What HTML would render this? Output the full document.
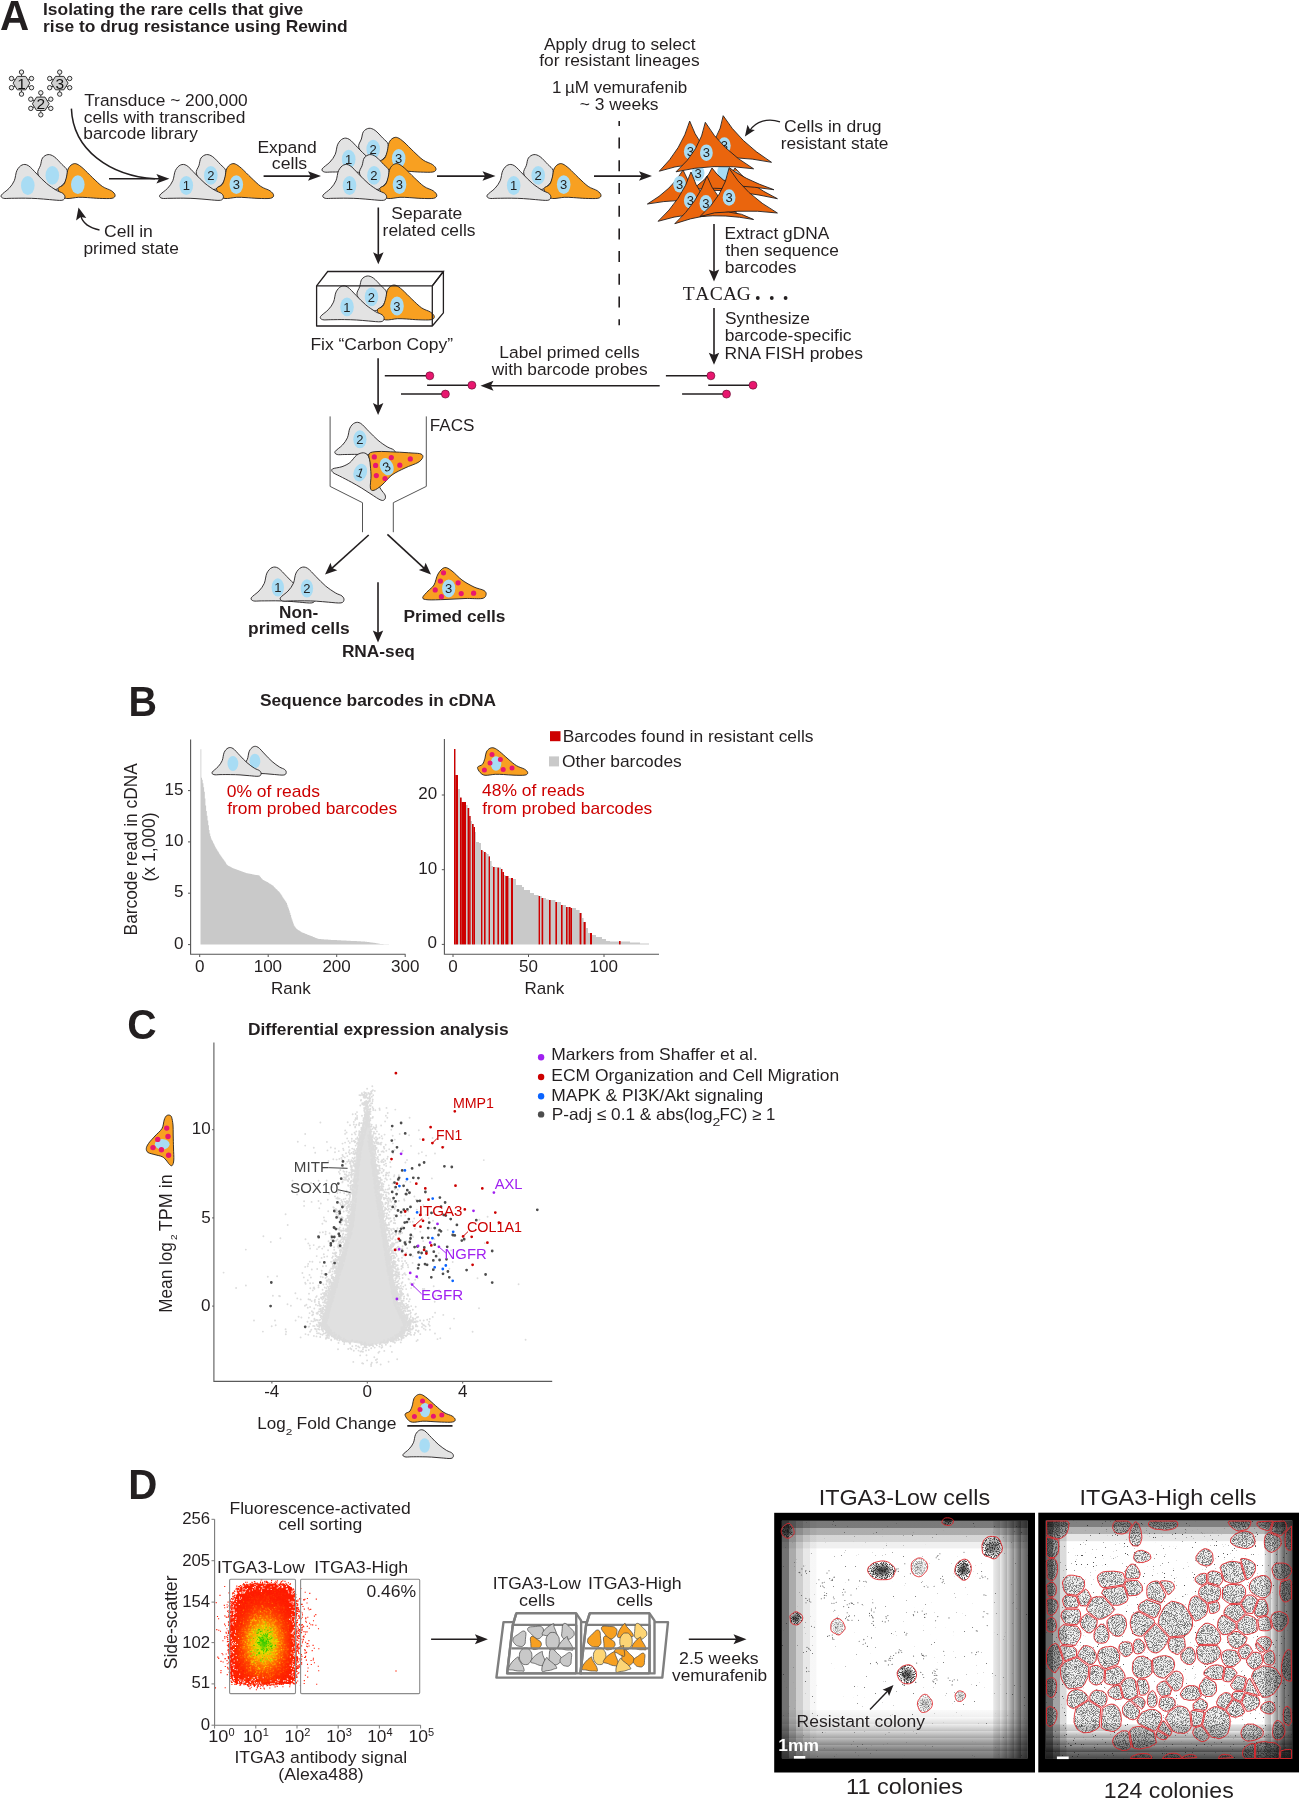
<!DOCTYPE html>
<html><head><meta charset="utf-8"><style>
html,body{margin:0;padding:0;background:#fff;}
svg{display:block;-webkit-font-smoothing:antialiased;}
.gs{will-change:transform;}
</style></head><body>
<svg class="gs" width="1299" height="1800" viewBox="0 0 1299 1800">
<defs><g id="_d" font-family="Liberation Sans, sans-serif" fill="#231f20"></g><g id="grp"><path d="M196.4,174 C195.4,170.6 198.2,168 199,165.3 C199.8,162.6 199.8,159.8 201,158 C202.2,156.2 204.6,154.8 206.5,154.6 C208.4,154.4 210.4,155.1 212.7,156.7 C215,158.3 218.2,162.1 220.4,164.4 C222.6,166.7 225,167.9 225.7,170.5 C226.4,173.1 225.5,177.3 224.6,179.8 C223.7,182.3 222.2,183.9 220.4,185.5 C218.6,187.1 216.6,189.4 214,189.5 C211.4,189.6 207.9,188.6 205,186 C202.1,183.4 197.4,177.4 196.4,174Z" fill="#e3e3e3" stroke="#231f20" stroke-width="0.9"/><path d="M216.6,188.4 C217,186.7 220.8,186.5 222.2,184.6 C223.6,182.7 224.3,179.5 225,176.9 C225.7,174.3 225.7,171.1 226.6,169 C227.5,166.9 229.1,165.2 230.6,164.4 C232.1,163.6 233.5,163.3 235.3,164 C237.1,164.7 238.9,166.1 241.6,168.4 C244.2,170.7 248,174.8 251.2,177.8 C254.4,180.8 257.7,184.2 260.8,186.4 C263.9,188.6 267.9,189.3 270,190.8 C272.1,192.3 273.5,193.9 273.6,195.2 C273.7,196.4 273.1,197.8 270.5,198.3 C267.9,198.8 262.1,198.5 258,198.4 C253.9,198.3 249.5,197.8 246,197.6 C242.5,197.4 240.3,197.2 236.8,197.3 C233.3,197.5 227.9,198.9 225,198.5 C222.1,198.1 220.9,196.7 219.5,195 C218.1,193.3 216.2,190.1 216.6,188.4Z" fill="#f8a021" stroke="#231f20" stroke-width="0.9"/><path d="M159.8,195.2 C160.7,193.5 165.3,190.8 167.5,188.4 C169.7,186 171.5,183.7 172.8,180.7 C174.1,177.7 174.1,173.1 175.4,170.5 C176.7,167.9 178.6,165.8 180.5,165 C182.4,164.2 184.3,164.1 186.8,165.6 C189.3,167.1 192.4,171 195.4,174 C198.4,177 201.8,180.7 205,183.4 C208.2,186.1 212,188.5 214.7,190.2 C217.4,191.9 219.9,192.2 221.4,193.4 C222.9,194.6 223.6,196 223.4,197.2 C223.2,198.3 223,199.9 220.4,200.3 C217.8,200.7 212.1,199.9 208,199.6 C203.9,199.3 200,198.8 196,198.6 C192,198.4 188.2,198.2 183.9,198.2 C179.6,198.1 173.7,198.3 170,198.3 C166.3,198.3 163.7,198.8 162,198.3 C160.3,197.8 158.9,196.8 159.8,195.2Z" fill="#e3e3e3" stroke="#231f20" stroke-width="0.9"/><ellipse cx="186.3" cy="185.5" rx="6.8" ry="9.4" fill="#a8dcf4"/><ellipse cx="210.8" cy="175.4" rx="6.8" ry="9.4" fill="#a8dcf4"/><ellipse cx="236.3" cy="184.6" rx="6.8" ry="9.4" fill="#a8dcf4"/></g>
<g id="grpn"><use href="#grp"/><text x="186.3" y="190.3" font-size="13" text-anchor="middle" fill="#222">1</text><text x="210.8" y="180.2" font-size="13" text-anchor="middle" fill="#222">2</text><text x="236.3" y="189.4" font-size="13" text-anchor="middle" fill="#222">3</text></g>
<radialGradient id="facsg" cx="263.6" cy="1643" r="50" gradientUnits="userSpaceOnUse" gradientTransform="translate(263.6 1643) scale(0.7 1) translate(-263.6 -1643)"><stop offset="0" stop-color="#30c800"/><stop offset="0.08" stop-color="#7ed600"/><stop offset="0.17" stop-color="#e8e000"/><stop offset="0.3" stop-color="#ffb000"/><stop offset="0.45" stop-color="#ff7400"/><stop offset="0.62" stop-color="#ff4200"/><stop offset="0.8" stop-color="#ff2600"/><stop offset="1" stop-color="#ff1c00"/></radialGradient>
<filter id="spkD" x="0" y="0" width="1" height="1" color-interpolation-filters="sRGB"><feTurbulence type="fractalNoise" baseFrequency="1.1" numOctaves="2" seed="4"/><feColorMatrix type="matrix" values="0 0 0 0 0.1  0 0 0 0 0.1  0 0 0 0 0.1  -5.5 0 0 0 3.05"/></filter>
<filter id="spkL" x="0" y="0" width="1" height="1" color-interpolation-filters="sRGB"><feTurbulence type="fractalNoise" baseFrequency="0.9" numOctaves="2" seed="9"/><feColorMatrix type="matrix" values="0 0 0 0 0.1  0 0 0 0 0.1  0 0 0 0 0.1  -14 0 0 0 3.75"/></filter>
<filter id="spkS" x="0" y="0" width="1" height="1" color-interpolation-filters="sRGB"><feTurbulence type="fractalNoise" baseFrequency="0.9" numOctaves="2" seed="13"/><feColorMatrix type="matrix" values="0 0 0 0 0.1  0 0 0 0 0.1  0 0 0 0 0.1  -16 0 0 0 3.65"/></filter>
<linearGradient id="vlL" x1="0" y1="0" x2="1" y2="0"><stop offset="0.0000" stop-color="#000" stop-opacity="0.55"/><stop offset="0.2000" stop-color="#000" stop-opacity="0.55"/><stop offset="0.2000" stop-color="#000" stop-opacity="0.33"/><stop offset="0.4000" stop-color="#000" stop-opacity="0.33"/><stop offset="0.4000" stop-color="#000" stop-opacity="0.19"/><stop offset="0.6000" stop-color="#000" stop-opacity="0.19"/><stop offset="0.6000" stop-color="#000" stop-opacity="0.09"/><stop offset="0.8000" stop-color="#000" stop-opacity="0.09"/><stop offset="0.8000" stop-color="#000" stop-opacity="0.03"/><stop offset="1.0000" stop-color="#000" stop-opacity="0.03"/></linearGradient>
<linearGradient id="vlR" x1="0" y1="0" x2="1" y2="0"><stop offset="0.0000" stop-color="#000" stop-opacity="0.08"/><stop offset="0.2000" stop-color="#000" stop-opacity="0.18"/><stop offset="0.2000" stop-color="#000" stop-opacity="0.08"/><stop offset="0.4000" stop-color="#000" stop-opacity="0.31"/><stop offset="0.4000" stop-color="#000" stop-opacity="0.18"/><stop offset="0.6000" stop-color="#000" stop-opacity="0.46"/><stop offset="0.6000" stop-color="#000" stop-opacity="0.31"/><stop offset="0.8000" stop-color="#000" stop-opacity="0.62"/><stop offset="0.8000" stop-color="#000" stop-opacity="0.46"/><stop offset="1.0000" stop-color="#000" stop-opacity="0.62"/></linearGradient>
<linearGradient id="vlT" x1="0" y1="0" x2="0" y2="1"><stop offset="0.0000" stop-color="#000" stop-opacity="0.52"/><stop offset="0.2500" stop-color="#000" stop-opacity="0.52"/><stop offset="0.2500" stop-color="#000" stop-opacity="0.32"/><stop offset="0.5000" stop-color="#000" stop-opacity="0.32"/><stop offset="0.5000" stop-color="#000" stop-opacity="0.16"/><stop offset="0.7500" stop-color="#000" stop-opacity="0.16"/><stop offset="0.7500" stop-color="#000" stop-opacity="0.06"/><stop offset="1.0000" stop-color="#000" stop-opacity="0.06"/></linearGradient>
<linearGradient id="vlB" x1="0" y1="0" x2="0" y2="1"><stop offset="0.0000" stop-color="#000" stop-opacity="0.02"/><stop offset="0.1429" stop-color="#000" stop-opacity="0.06"/><stop offset="0.1429" stop-color="#000" stop-opacity="0.02"/><stop offset="0.2857" stop-color="#000" stop-opacity="0.14"/><stop offset="0.2857" stop-color="#000" stop-opacity="0.06"/><stop offset="0.4286" stop-color="#000" stop-opacity="0.24"/><stop offset="0.4286" stop-color="#000" stop-opacity="0.14"/><stop offset="0.5714" stop-color="#000" stop-opacity="0.34"/><stop offset="0.5714" stop-color="#000" stop-opacity="0.24"/><stop offset="0.7143" stop-color="#000" stop-opacity="0.45"/><stop offset="0.7143" stop-color="#000" stop-opacity="0.34"/><stop offset="0.8571" stop-color="#000" stop-opacity="0.55"/><stop offset="0.8571" stop-color="#000" stop-opacity="0.45"/><stop offset="1.0000" stop-color="#000" stop-opacity="0.55"/></linearGradient>
<clipPath id="clL"><path d="M788.1,1538.2 C786.6,1538.3 786.2,1538.1 784.8,1537.2 C783.4,1536.3 782.9,1536.1 782.1,1534.5 C781.3,1532.9 781.1,1532.2 781.3,1530.4 C781.5,1528.7 782,1528.2 783,1526.9 C784,1525.5 784.2,1525.5 785.6,1524.7 C787,1523.8 787.6,1523.1 789,1523.4 C790.5,1523.7 790.8,1524.6 791.9,1526 C792.9,1527.4 793,1527.6 793.5,1529.4 C794,1531.2 794.5,1531.9 794,1533.6 C793.5,1535.3 792.8,1535.6 791.4,1536.7 C790,1537.8 789.7,1538.1 788.1,1538.2Z"/><path d="M950.7,1518.4 C952,1518.9 952.5,1519 953.1,1519.9 C953.6,1520.7 953.3,1521 953.2,1522 C953,1522.9 953.2,1523.2 952.3,1524 C951.5,1524.8 951.1,1525.1 949.6,1525.3 C948.2,1525.6 947.7,1525.5 946.2,1525.2 C944.8,1524.9 944.3,1524.9 943.3,1524.2 C942.2,1523.5 942,1523.2 941.8,1522.2 C941.7,1521.3 942.2,1521.1 942.7,1520.2 C943.3,1519.3 943.2,1518.9 944.3,1518.4 C945.4,1517.8 946,1517.8 947.5,1517.8 C949,1517.8 949.4,1517.9 950.7,1518.4Z"/><path d="M989.1,1557 C986.5,1556.1 985.4,1556.7 983.8,1554.7 C982.1,1552.8 982.4,1551.5 982.1,1548.7 C981.9,1545.9 981.7,1545.1 982.8,1542.5 C983.8,1540 984.4,1539.1 986.6,1537.7 C988.8,1536.3 989.7,1536.3 992.4,1536.4 C995,1536.5 996,1536.4 998.1,1538.1 C1000.1,1539.7 1000.1,1540.8 1001.1,1543.5 C1002,1546.2 1002.7,1546.9 1002.3,1549.6 C1001.9,1552.2 1001,1552.7 999.2,1554.9 C997.4,1557 997,1558.2 994.6,1558.8 C992.3,1559.3 991.6,1558 989.1,1557Z"/><path d="M891.4,1564.4 C893.6,1566.1 894.2,1566.5 894.9,1568.7 C895.6,1570.9 895.4,1571.4 894.4,1573.7 C893.4,1576 893.4,1577.2 890.7,1578.6 C887.9,1580 886.3,1579.6 882.5,1579.7 C878.8,1579.7 877.6,1579.9 874.6,1578.7 C871.6,1577.5 871.3,1576.7 869.7,1574.6 C868.1,1572.5 867.5,1571.8 867.7,1569.5 C868,1567.3 868.7,1566.6 870.9,1564.8 C873.1,1562.9 874,1562.6 877.3,1561.8 C880.6,1561 881.9,1560.6 885.2,1561.2 C888.5,1561.8 889.1,1562.6 891.4,1564.4Z"/><path d="M961.5,1560.1 C963.5,1559.3 964.3,1558.8 966.2,1559.5 C968.2,1560.2 968.8,1561.1 970,1563.2 C971.1,1565.3 971.3,1566.1 971.3,1568.5 C971.3,1571 971,1571.4 970.2,1573.7 C969.3,1576 969.3,1577.1 967.6,1578.6 C965.9,1580.1 964.9,1580.5 962.8,1580.1 C960.7,1579.7 960.5,1578.5 958.7,1576.9 C957,1575.3 956,1575.4 955.2,1573.2 C954.4,1571 954.7,1569.9 955.3,1567.4 C955.9,1565 956.2,1564.5 957.7,1562.8 C959.1,1561.1 959.5,1560.9 961.5,1560.1Z"/><path d="M794.2,1624.5 C792.6,1624 792,1623.9 791,1622.6 C790.1,1621.4 790.5,1620.7 790.3,1619.1 C790.1,1617.5 789.6,1617 790.2,1615.6 C790.8,1614.3 791.5,1614.3 792.8,1613.4 C794.1,1612.5 794.4,1611.8 795.9,1611.8 C797.4,1611.7 797.8,1612.2 799.2,1613.1 C800.6,1613.9 801.2,1614 802,1615.4 C802.8,1616.8 802.9,1617.5 802.6,1619.1 C802.4,1620.7 801.8,1621 800.7,1622.3 C799.6,1623.6 799.5,1624.1 797.9,1624.7 C796.4,1625.2 795.8,1625 794.2,1624.5Z"/><path d="M914.5,1668.8 C915.9,1670.7 916.2,1671.3 916.4,1673.6 C916.7,1675.9 916.5,1676.6 915.5,1678.8 C914.4,1680.9 913.9,1681.5 911.9,1682.7 C909.8,1683.9 909,1684 906.6,1683.8 C904.2,1683.7 903.5,1683.4 901.6,1682 C899.7,1680.5 899.3,1680 898.3,1677.8 C897.3,1675.5 896.9,1674.6 897.4,1672.3 C897.9,1670 898.7,1669.4 900.5,1667.8 C902.3,1666.2 902.8,1665.9 905.1,1665.3 C907.5,1664.7 908.3,1664.4 910.5,1665.2 C912.7,1666 913.1,1666.8 914.5,1668.8Z"/></clipPath>
<clipPath id="clL2"><path d="M912,1562.6 C913,1560.7 913.7,1560.4 915.5,1559.3 C917.4,1558.2 918,1557.8 920.1,1558 C922.1,1558.2 922.7,1558.6 924.4,1560.1 C926.1,1561.5 926.7,1562.1 927.3,1564.3 C927.9,1566.4 927.8,1567.3 927.1,1569.4 C926.4,1571.6 925.9,1571.7 924.4,1573.3 C922.9,1574.9 922.7,1575.7 920.8,1576.4 C918.8,1577 918,1576.9 916.1,1576 C914.1,1575.1 913.5,1574.6 912.4,1572.7 C911.3,1570.7 911.4,1570 911.3,1567.7 C911.2,1565.3 911,1564.6 912,1562.6Z"/><path d="M835.1,1633.4 C833.3,1632.6 832.6,1632.7 831.6,1631.2 C830.6,1629.7 830.8,1628.9 830.8,1626.9 C830.8,1625 830.7,1624.5 831.5,1622.8 C832.3,1621.1 832.7,1620.6 834.2,1619.6 C835.8,1618.6 836.4,1618.3 838.2,1618.5 C840,1618.8 840.4,1619.3 841.8,1620.6 C843.1,1621.9 843.1,1622.3 843.9,1624.1 C844.7,1625.9 845.4,1626.6 845.1,1628.5 C844.7,1630.3 843.9,1630.6 842.5,1632 C841.1,1633.5 840.8,1634.5 839.1,1634.9 C837.4,1635.2 836.8,1634.2 835.1,1633.4Z"/><path d="M925.4,1712.1 C923.6,1712.5 922.8,1712.9 921.1,1711.9 C919.5,1710.9 919.3,1709.9 918.5,1707.8 C917.6,1705.7 917.3,1705 917.5,1702.9 C917.8,1700.7 918.3,1700.3 919.5,1698.6 C920.6,1696.8 920.7,1696.1 922.3,1695.2 C923.9,1694.3 924.7,1694 926.4,1694.6 C928.1,1695.1 928.2,1696 929.6,1697.6 C930.9,1699.2 931.6,1699.3 932.1,1701.4 C932.6,1703.5 932.6,1704.6 931.8,1706.6 C931.1,1708.6 930.4,1708.8 928.9,1710.1 C927.4,1711.3 927.2,1711.6 925.4,1712.1Z"/><path d="M956.6,1692.5 C957.5,1691.5 957.8,1691.2 959.1,1690.9 C960.4,1690.7 960.8,1691 962,1691.4 C963.3,1691.9 963.7,1692 964.5,1693 C965.4,1694 965.6,1694.6 965.6,1695.9 C965.5,1697.1 965.1,1697.5 964.4,1698.5 C963.6,1699.6 963.5,1699.7 962.5,1700.4 C961.4,1701.1 961.1,1701.5 959.7,1701.5 C958.4,1701.5 957.8,1701.4 956.8,1700.6 C955.8,1699.7 955.9,1699.2 955.5,1697.9 C955.1,1696.6 954.9,1696.3 955.2,1695 C955.4,1693.8 955.7,1693.4 956.6,1692.5Z"/></clipPath>
<radialGradient id="cdark"><stop offset="0" stop-color="#000" stop-opacity="0.9"/><stop offset="0.55" stop-color="#000" stop-opacity="0.5"/><stop offset="1" stop-color="#000" stop-opacity="0"/></radialGradient>
<linearGradient id="vrL" x1="0" y1="0" x2="1" y2="0"><stop offset="0.0000" stop-color="#000" stop-opacity="0.6"/><stop offset="0.3333" stop-color="#000" stop-opacity="0.6"/><stop offset="0.3333" stop-color="#000" stop-opacity="0.36"/><stop offset="0.6667" stop-color="#000" stop-opacity="0.36"/><stop offset="0.6667" stop-color="#000" stop-opacity="0.14"/><stop offset="1.0000" stop-color="#000" stop-opacity="0.14"/></linearGradient>
<linearGradient id="vrR" x1="0" y1="0" x2="1" y2="0"><stop offset="0.0000" stop-color="#000" stop-opacity="0.12"/><stop offset="0.2500" stop-color="#000" stop-opacity="0.3"/><stop offset="0.2500" stop-color="#000" stop-opacity="0.12"/><stop offset="0.5000" stop-color="#000" stop-opacity="0.5"/><stop offset="0.5000" stop-color="#000" stop-opacity="0.3"/><stop offset="0.7500" stop-color="#000" stop-opacity="0.66"/><stop offset="0.7500" stop-color="#000" stop-opacity="0.5"/><stop offset="1.0000" stop-color="#000" stop-opacity="0.66"/></linearGradient>
<linearGradient id="vrT" x1="0" y1="0" x2="0" y2="1"><stop offset="0.0000" stop-color="#000" stop-opacity="0.5"/><stop offset="0.3333" stop-color="#000" stop-opacity="0.5"/><stop offset="0.3333" stop-color="#000" stop-opacity="0.3"/><stop offset="0.6667" stop-color="#000" stop-opacity="0.3"/><stop offset="0.6667" stop-color="#000" stop-opacity="0.1"/><stop offset="1.0000" stop-color="#000" stop-opacity="0.1"/></linearGradient>
<linearGradient id="vrB" x1="0" y1="0" x2="0" y2="1"><stop offset="0.0000" stop-color="#000" stop-opacity="0.1"/><stop offset="0.2000" stop-color="#000" stop-opacity="0.24"/><stop offset="0.2000" stop-color="#000" stop-opacity="0.1"/><stop offset="0.4000" stop-color="#000" stop-opacity="0.4"/><stop offset="0.4000" stop-color="#000" stop-opacity="0.24"/><stop offset="0.6000" stop-color="#000" stop-opacity="0.56"/><stop offset="0.6000" stop-color="#000" stop-opacity="0.4"/><stop offset="0.8000" stop-color="#000" stop-opacity="0.72"/><stop offset="0.8000" stop-color="#000" stop-opacity="0.56"/><stop offset="1.0000" stop-color="#000" stop-opacity="0.72"/></linearGradient>
<clipPath id="clR"><path d="M1067.6,1521 L1069,1523.7 L1068.6,1526.3 L1068.5,1528.6 L1067.7,1530.8 L1066.9,1533.1 L1065.5,1535.3 L1063.2,1536.9 L1060.7,1538.4 L1058.2,1538.9 L1049.4,1536.5 L1046.9,1535.2 L1046.5,1521Z"/><path d="M1124.2,1533.6 L1122.1,1534 L1119.9,1533.8 L1117.5,1533.7 L1115.6,1532.6 L1114.1,1531.3 L1113.5,1529.7 L1112.7,1528.2 L1112.8,1526.5 L1112.9,1525 L1113.4,1523.4 L1114.5,1522 L1115.5,1521 L1127.2,1521 L1129.6,1522.2 L1130.9,1523.5 L1131.8,1524.8 L1127.1,1532.4Z"/><path d="M1141.3,1533.1 L1141.8,1535.7 L1141.8,1538.6 L1141.1,1541.1 L1140.4,1543.7 L1139.2,1545.1 L1137.9,1546.1 L1136.5,1546 L1135.3,1546 L1134,1545.8 L1132.6,1545.7 L1131.5,1544 L1130.2,1542.4 L1129.5,1539.8 L1129.2,1536.9 L1129.6,1534.1 L1130,1531.6 L1130.6,1529.2 L1134.8,1522 L1136,1521.7 L1137.4,1523 L1138.7,1523.8 L1139.5,1526.3 L1140.3,1528.3 L1141,1530.5Z"/><path d="M1176.4,1521 L1177.7,1523 L1177.8,1524.5 L1177.5,1526.1 L1176.1,1527.5 L1173.8,1528.7 L1170.9,1529.5 L1167.8,1530 L1164.6,1530.2 L1161.5,1529.7 L1158.5,1529.4 L1155.1,1529.2 L1152.5,1528.2 L1150.2,1527 L1148.9,1525.6 L1148.3,1524 L1148.8,1522.4 L1150.5,1521Z"/><path d="M1250.9,1521 L1250.8,1522.9 L1250.4,1524.5 L1250,1526 L1249,1527.5 L1247.7,1528.8 L1246.6,1529.6 L1238.5,1531.1 L1236.2,1530.4 L1234.3,1529.3 L1232.6,1528.2 L1231.2,1527 L1230,1525.6 L1229,1524.1 L1228.5,1522.4 L1229,1521Z"/><path d="M1272.6,1521 L1269.6,1530.2 L1268,1530.4 L1266.1,1530.3 L1264.3,1529.7 L1262.6,1529.3 L1261.1,1528.5 L1259.4,1527.7 L1258.2,1526.5 L1257.1,1525.1 L1256.9,1523.5 L1257.3,1521.9Z"/><path d="M1284.4,1521.3 L1285.6,1522.8 L1286.2,1524.6 L1286.5,1526.4 L1286.8,1528.3 L1286.6,1529.7 L1280.9,1535.9 L1270.7,1531.9 L1273.6,1521.5 L1284.2,1521Z"/><path d="M1291.5,1549.9 L1289.7,1550.4 L1287.6,1549.9 L1286.6,1548.5 L1285.7,1546.5 L1285.2,1543.6 L1285.1,1540.5 L1285,1537.5 L1285.6,1534.8 L1285.8,1532.2 L1291.5,1525.9Z"/><path d="M1248.6,1531.8 L1251.2,1532.8 L1252.8,1534.5 L1253.7,1536.3 L1254.2,1538.1 L1254.9,1539.9 L1254.9,1541.7 L1254.8,1543.7 L1253.7,1545.6 L1251.6,1547.1 L1249.1,1548 L1246.4,1548.7 L1243.5,1548.2 L1241,1547.8 L1238.5,1547.4 L1236.1,1546.6 L1234.2,1545.4 L1232,1544.1 L1230.5,1542.3 L1230.5,1540.2 L1231,1538.3 L1232.5,1536.6 L1234.1,1535.2 L1235.7,1533.7 L1238.1,1532.9 L1239.7,1532 L1244.2,1531.1 L1245.9,1531.2Z"/><path d="M1271.7,1552.3 L1269.8,1551.9 L1267.9,1551.1 L1266.4,1549.6 L1265,1548 L1264.6,1545.7 L1264.4,1543.6 L1264.3,1541.6 L1264.6,1539.5 L1264.8,1537.3 L1265.7,1535.3 L1267.1,1533.8 L1268.8,1532.4 L1279.5,1536.9 L1280.3,1538.4 L1281.1,1540.5 L1281.1,1542.7 L1281,1545.1 L1279.7,1546.8 L1278.4,1548.5 L1276.9,1549.6 L1275.4,1550.8 L1273.7,1551.6Z"/><path d="M1057.9,1540 L1058.6,1543.2 L1058.7,1545.8 L1058.6,1548.3 L1058.5,1551 L1057.8,1553.6 L1056.4,1555.7 L1054.9,1557.5 L1048.4,1557.6 L1046.5,1555.7 L1046.5,1536.8Z"/><path d="M1144.5,1562 L1142.8,1562.6 L1140.9,1562.5 L1138.8,1562.7 L1137,1562.2 L1135.5,1561.2 L1134.5,1559.9 L1133.7,1558.6 L1133.5,1557.3 L1134,1556 L1134.1,1554.7 L1134.7,1553.4 L1135.6,1552.2 L1137.1,1551.2 L1138.9,1550.6 L1140.8,1550.3 L1142.8,1550.4 L1144.5,1551.2 L1146,1551.8 L1147.7,1552.5 L1149,1553.4 L1150.1,1554.6 L1150.5,1555.9 L1150.9,1557.4 L1150.5,1558.8 L1149.4,1560 L1147.8,1560.9 L1146,1561.4Z"/><path d="M1209.8,1550.3 L1211.2,1551.6 L1212.3,1553.2 L1212.8,1555.1 L1212.8,1556.9 L1213.1,1558.7 L1213.2,1560.7 L1212.3,1562.4 L1211.3,1564.2 L1209.6,1565.3 L1207.7,1565.8 L1205.8,1566.1 L1204,1565.5 L1202.3,1565 L1200.6,1564.5 L1199.1,1563.4 L1197.7,1562.1 L1196.4,1560.5 L1195.9,1558.5 L1196,1556.5 L1197.2,1554.8 L1198.1,1553.2 L1199.4,1552 L1200.7,1550.7 L1202.3,1549.7 L1204.1,1548.8 L1206.1,1548.8 L1208,1549.4Z"/><path d="M1048.5,1559.5 L1049.5,1558.7 L1054.3,1558.7 L1056.2,1560.8 L1057,1563.2 L1057.6,1565.5 L1057.5,1567.9 L1057.7,1570.3 L1057.3,1572.5 L1056.7,1574.7 L1055.9,1576.9 L1054.8,1578.8 L1053.3,1580.2 L1051.5,1580.2 L1049.9,1580.1 L1048.3,1579.1 L1047.1,1577.6 L1046.5,1560.6Z"/><path d="M1140.1,1574.8 L1139.4,1576.7 L1138.6,1578.4 L1126.9,1579.2 L1126.1,1578 L1125.4,1576.2 L1125.3,1573.5 L1125.7,1571.7 L1126.1,1570 L1127,1568.4 L1127.9,1566.9 L1129.1,1565.7 L1130.5,1564.4 L1132.2,1564.1 L1133.9,1564.3 L1135.4,1565.3 L1136.8,1566.4 L1137.7,1567.9 L1138.6,1569.4 L1139.4,1571 L1140,1572.8Z"/><path d="M1220,1567.7 L1221.8,1564.6 L1225.1,1563.3 L1228.2,1562 L1231.7,1561.3 L1235.2,1561.6 L1238.5,1562.2 L1240.4,1562.5 L1245.5,1579.3 L1244.1,1580.3 L1241.4,1581.7 L1238.3,1583 L1235.2,1583.4 L1230.4,1583.2 L1227.8,1582.1 L1224.6,1581Z"/><path d="M1240.5,1559 L1241.7,1558.4 L1243.9,1558.6 L1246,1558.8 L1248,1559.5 L1249.9,1560.1 L1251.8,1561.3 L1253.6,1562.7 L1255.2,1564.7 L1255.5,1567.3 L1255.3,1569.9 L1254.7,1572.2 L1253.4,1574.2 L1252.2,1576.2 L1250.7,1577.8 L1248.8,1578.8 L1246.8,1579.9Z"/><path d="M1063.8,1590.1 L1063.6,1587.7 L1063,1585.5 L1062.4,1583 L1063.2,1580.5 L1064.7,1578.4 L1066.4,1576.5 L1068.6,1575.3 L1071.2,1575.2 L1073.6,1575.3 L1075.8,1575.8 L1078.1,1576.4 L1080.6,1576.9 L1082.5,1578.6 L1084.3,1580.6 L1084.5,1583.2 L1084.6,1585.7 L1083.7,1588.1 L1082.9,1589.9 L1076.5,1595.3 L1066.8,1594.1 L1065.1,1592.1Z"/><path d="M1100.3,1585.9 L1099.4,1583.8 L1098.2,1581.9 L1097.8,1579.9 L1097.3,1577.7 L1097.9,1575.3 L1100.2,1573.5 L1103,1571.9 L1106.8,1571.4 L1110.4,1571.3 L1113.7,1571.2 L1117,1571.6 L1120.3,1572.2 L1123.1,1573.1 L1125.5,1579.7 L1123.6,1584.8 L1103.1,1587.9Z"/><path d="M1141.3,1592.1 L1139.7,1593.4 L1138,1594.6 L1136,1595.3 L1133.9,1595.5 L1131.9,1595.6 L1129.7,1595.9 L1128.2,1595.3 L1124.6,1585.3 L1126.2,1581.1 L1137.2,1580.3 L1138.8,1581.7 L1140.3,1583 L1141.4,1584.6 L1142.3,1586.3 L1142.5,1588.3 L1142.6,1590.3Z"/><path d="M1159.9,1581.7 L1161.2,1581 L1163.2,1580.8 L1165.1,1580.8 L1166.9,1581 L1168.6,1581.3 L1170.5,1581.7 L1172.2,1582.6 L1173.5,1583.9 L1174.2,1585.5 L1174.5,1587.2 L1174.1,1588.8 L1173.3,1590.3 L1172.1,1591.5 L1171.1,1592.8 L1169.8,1593.9 L1168.1,1594.8Z"/><path d="M1147.4,1596.8 L1146.8,1594.2 L1146.8,1591.6 L1146.8,1588.8 L1147.3,1585.8 L1149,1583.8 L1151,1582.3 L1153.1,1581.5 L1155.2,1581.1 L1157.4,1581.1 L1158.5,1581.5 L1165.7,1594.5 L1165.5,1596.8 L1163.9,1598.8 L1162.9,1601 L1161.4,1602.9 L1148.3,1598.4Z"/><path d="M1202.9,1573.4 L1204.6,1573.3 L1206.3,1573.7 L1206.8,1582.5 L1201.6,1585.3 L1200,1584.5 L1198.5,1584 L1197.4,1583.1 L1196.1,1582.1 L1195.3,1580.8 L1195.1,1579.4 L1195.3,1577.9 L1196.3,1576.7 L1197.5,1575.8 L1198.6,1574.9 L1199.9,1574.2 L1201.4,1573.8Z"/><path d="M1207.9,1582.5 L1207.9,1572.9 L1210.2,1571.4 L1212.2,1571 L1214.1,1571.1 L1215.9,1571.4 L1217.7,1572 L1219.5,1572.6 L1220.9,1573.8 L1223,1579.8 L1222.6,1581.1 L1221.6,1582.7 L1220.6,1584.1 L1219.4,1585.5Z"/><path d="M1258.7,1576.7 L1261,1575.6 L1263.5,1575.5 L1266.2,1576 L1268.4,1577.4 L1270,1579.5 L1271,1581.9 L1271.4,1584.4 L1271.3,1586.7 L1270.8,1589 L1270.5,1591.4 L1269.8,1593.9 L1267.9,1595.6 L1266,1597.5 L1263.4,1597.9 L1260.8,1597.7 L1258.5,1596.7 L1256.3,1595.9 L1254.5,1594.5 L1252.5,1593.2 L1250.7,1591.5 L1249.5,1589.1 L1249.2,1586.5 L1249.7,1584 L1251,1581.8 L1252.4,1579.7 L1254.4,1578.4 L1256.4,1577.2Z"/><path d="M1274.6,1577.4 L1273.8,1575.5 L1273,1573.8 L1272.6,1572.1 L1272.1,1570.2 L1272,1568.3 L1273.1,1566.5 L1274.2,1564.7 L1276,1563.4 L1278.3,1563.1 L1280.5,1563.1 L1282.6,1563 L1284.6,1563.3 L1286.7,1564 L1288.5,1565 L1290.1,1566.4 L1291.3,1568.1 L1291.5,1572.5 L1290.6,1573.8 L1289.4,1575.3 L1288.2,1576.8 L1286.8,1578.2 L1284.8,1578.9 L1282.8,1579.6 L1280.6,1579.9 L1278.2,1579.7 L1276.2,1578.7Z"/><path d="M1289.5,1600.1 L1288.1,1601.2 L1286.5,1601.8 L1284.9,1602 L1283.2,1601.3 L1281.9,1599.4 L1280.7,1597.4 L1279.9,1594.8 L1279.6,1592.1 L1280,1589.4 L1279.9,1586.8 L1280.4,1584.2 L1281,1581.7 L1289.6,1579.4 L1291.2,1581.2 L1291.5,1598.8Z"/><path d="M1049.3,1582.8 L1050.6,1582.3 L1052.1,1582.4 L1053.5,1582.6 L1054.6,1583.8 L1055.5,1585.1 L1056.1,1586.6 L1056.3,1588.1 L1056.4,1589.7 L1056.3,1591.2 L1056.1,1592.8 L1055.6,1594.4 L1054.6,1595.6 L1053.6,1596.7 L1050.3,1596.9 L1048.2,1596.1 L1047.2,1595.1 L1046.5,1584.8 L1048.2,1583.7Z"/><path d="M1063.3,1603.3 L1062.7,1601.4 L1062.7,1599.3 L1063.7,1597.6 L1065,1596 L1066.3,1595.1 L1076.2,1596.4 L1079.1,1605 L1078.1,1606.2 L1077.2,1607.7 L1065.9,1608.1 L1064.7,1606.6 L1063.7,1605.1Z"/><path d="M1086.9,1605.6 L1085.2,1606 L1083.6,1605.8 L1082.1,1605.8 L1080.5,1605.8 L1077.3,1596 L1085.5,1589.2 L1087.3,1590.3 L1088.5,1591.7 L1089.2,1593.4 L1090,1594.9 L1090.9,1596.4 L1091.2,1597.9Z"/><path d="M1087.6,1611.7 L1086.3,1608.9 L1092.5,1597.9 L1095.7,1596.8 L1099,1596.9 L1102.2,1596.8 L1103.4,1597 L1114.8,1609.3 L1113.5,1610.9 L1111.8,1612.9 L1110,1614.8 L1107.6,1616.2 L1105,1617.7 L1101.9,1619 L1098.4,1619.2 L1097.1,1618.7Z"/><path d="M1128.1,1598.4 L1126.5,1601.9 L1123.7,1603.4 L1121,1604.6 L1118.1,1605.3 L1115.2,1605.2 L1112.7,1605.4 L1101.5,1593.3 L1102.3,1591.6 L1103.6,1589.2 L1123.7,1585.9Z"/><path d="M1159.9,1604.3 L1160.5,1607.3 L1160.6,1609 L1156.8,1616.6 L1154,1618 L1138.8,1610.4 L1138.2,1607.3 L1139,1605 L1140.5,1603.1 L1142.7,1601.9 L1144.7,1600.8 L1146.5,1599.5Z"/><path d="M1190.9,1629.8 L1188.5,1633.3 L1185,1635.5 L1169.8,1637 L1158.1,1623.8 L1158.7,1620.2 L1159.4,1616.4 L1161.1,1613 L1162.7,1609.5 L1164.8,1606.1 L1168,1603.6 L1171.5,1601.2 L1175.6,1601.9 L1179.4,1603 L1182.9,1604.7 L1185.7,1607.4 L1187.7,1610.7 L1192,1618.2 L1192.5,1621.5 L1192.6,1625.9Z"/><path d="M1198,1620.3 L1195.7,1621 L1194.5,1620.5 L1188.6,1609.9 L1188.6,1606.1 L1189.3,1603.6 L1190,1601.1 L1191,1598.4 L1193,1596.9 L1195.1,1595.8 L1197.5,1596.4 L1206.9,1603.7 L1207.7,1610.3 L1206.6,1613.4 L1205.5,1615.7 L1203.6,1617 L1201.8,1618.3 L1200.1,1619.7Z"/><path d="M1219.8,1587.3 L1220.3,1588.4 L1220.4,1590.9 L1220.8,1593.2 L1220.2,1595.5 L1219.7,1597.9 L1218.5,1600 L1207.5,1602.8 L1200.2,1597 L1199,1595 L1198.5,1592.4 L1199.1,1589.9 L1200.2,1587.6 L1207.4,1583.5Z"/><path d="M1229.6,1584.4 L1241.9,1584.9 L1244.3,1587.2 L1245.5,1589.5 L1245.6,1592.1 L1245.6,1594.4 L1240,1603.1 L1229.6,1603.7 L1228.5,1602.9 L1226.3,1601.7 L1224.3,1600.1 L1222.4,1598.3 L1222.5,1589.6 L1223.2,1588.6 L1224.9,1586.6 L1227,1585.2Z"/><path d="M1246.4,1595.6 L1248.2,1595 L1250.1,1595.1 L1251.9,1595 L1256.2,1597.8 L1257.5,1599.8 L1252.5,1613.6 L1246.3,1613 L1241,1603.6Z"/><path d="M1267.4,1604.5 L1267.7,1606.6 L1267.9,1608.6 L1268.3,1610.9 L1267.6,1613 L1266.9,1615 L1257.7,1616.8 L1256.3,1616.2 L1254.8,1614.5 L1254,1612.7 L1258.9,1599.2 L1264.5,1599.2 L1265.6,1601 L1266.5,1602.8Z"/><path d="M1237.1,1621.6 L1235.8,1621.7 L1223.9,1613.9 L1224.1,1611 L1225.1,1609 L1226.3,1607.2 L1228.1,1605.9 L1229.1,1604.8 L1240,1604.2 L1245.3,1613.4Z"/><path d="M1217.8,1611.5 L1216.5,1612.2 L1215.3,1612.8 L1214,1613.2 L1212.7,1613.4 L1211.3,1613.5 L1209.9,1613 L1208,1603.8 L1217.6,1601.6 L1218.9,1603.8 L1219.6,1605.3 L1219.7,1607.1 L1219.4,1608.7 L1218.8,1610.3Z"/><path d="M1046.5,1599.3 L1047.9,1598.9 L1049.3,1598.2 L1050.9,1598.1 L1052.5,1598.2 L1054,1599 L1055.6,1599.6 L1056.9,1600.9 L1057.6,1602.7 L1058,1604.7 L1058.2,1606.6 L1057.6,1608.4 L1056.7,1610 L1056.1,1611.7 L1055.1,1613.1 L1053.7,1614.2 L1052.2,1615.2 L1050.5,1615.2 L1048.8,1614.8 L1047.4,1613.7Z"/><path d="M1272.3,1624.4 L1271.2,1619.9 L1271,1618.2 L1271.5,1615.9 L1272.7,1614.1 L1274.2,1612.5 L1276.2,1612.1 L1278,1611.7 L1279.8,1611.4 L1281.6,1612.1 L1283.3,1612.7 L1285,1613.6 L1286.8,1614.7 L1287.7,1616.8 L1288.3,1618.9 L1288.2,1621.2 L1287.8,1623.3 L1286.7,1625.1 L1285.6,1626.8 L1284.3,1628.1 L1283,1629.9 L1281.2,1630.9 L1279.2,1631.2 L1277.1,1631 L1275.4,1629.8 L1273.9,1628.2 L1272.8,1626.5Z"/><path d="M1064.3,1610.2 L1065.3,1609.2 L1078.4,1609.2 L1079.7,1610.9 L1080.5,1613 L1080.6,1615.2 L1080.7,1617.3 L1080.1,1619.2 L1079.1,1622.1 L1077.1,1624.7 L1065.7,1623.9 L1063.9,1622 L1062.8,1620.2 L1061.7,1618.3 L1061,1616 L1061.4,1613.7 L1062.3,1611.6Z"/><path d="M1085.7,1614.4 L1087.4,1613.6 L1097.2,1620.1 L1097.1,1623.1 L1096.7,1625.1 L1096.3,1627.1 L1091.2,1632.7 L1088.8,1632.9 L1086.9,1632.4 L1085.3,1631.1 L1084,1629.7 L1082.4,1628.6 L1081.3,1626.8 L1080.6,1624.8 L1080.1,1622.7 L1081.9,1617.5 L1084.2,1615.6Z"/><path d="M1108.9,1634.6 L1109,1637 L1108.4,1639.2 L1107.2,1640.9 L1106,1642.5 L1104.2,1642.8 L1102.7,1643.2 L1101.2,1643.2 L1099.7,1643.1 L1098,1642.9 L1096.4,1642 L1095.2,1640.4 L1094.2,1638.5 L1094,1636.1 L1094,1633.9 L1094.6,1631.8 L1095.3,1630 L1100.6,1624 L1103.4,1624.6 L1104.9,1625.4 L1105.9,1627.3 L1107.2,1629.2 L1107.7,1630.7 L1108.5,1632.5Z"/><path d="M1108.7,1618.7 L1109.5,1617.7 L1110.7,1616.5 L1112.2,1615.8 L1114.2,1615.2 L1116.2,1614.4 L1118.3,1614.2 L1120.5,1614.7 L1122.7,1615.3 L1124.4,1617.1 L1125.8,1619.1 L1126.2,1621.7 L1126.6,1624.1 L1126.4,1626.5 L1125.6,1628.7 L1124.5,1630.7 L1123.6,1632.9 L1122.1,1634.7 L1120.1,1636 L1117.8,1636.3 L1115.6,1636 L1113.5,1635.1 L1111.9,1633.5 L1110.2,1632.1 L1109.1,1630.2 L1108,1628.2 L1107.3,1625.9 L1106.9,1623.3 L1107.1,1620.7Z"/><path d="M1138.6,1636.1 L1135.8,1635.3 L1133.3,1633.8 L1132.2,1631 L1131.1,1628.6 L1130.7,1626 L1130.2,1623.5 L1130.4,1620.9 L1131.2,1618.3 L1132,1615.4 L1134.2,1613.6 L1136.6,1612 L1139.1,1611.8 L1153.9,1619.7 L1154.5,1621.5 L1154.6,1622.8 L1142.2,1636.2Z"/><path d="M1146.3,1643.4 L1145.2,1640.7 L1144.2,1637.6 L1144.3,1635.5 L1155.6,1623.3 L1168.9,1637.6 L1168,1640.4 L1167,1643.3 L1165.1,1645.6 L1163.7,1648.1 L1161.6,1650 L1159.3,1651.8 L1156.5,1653 L1153.6,1652.6 L1150.9,1651.5 L1148.7,1649.3 L1147.1,1646.4Z"/><path d="M1183.6,1636.9 L1184.1,1638.5 L1184.8,1640.6 L1184.9,1643 L1185.4,1645.4 L1185,1647.7 L1178.2,1654.4 L1175.7,1654.2 L1174.1,1653 L1172.2,1652.4 L1170.6,1651.1 L1169.3,1649.2 L1168.5,1646.9 L1168.2,1644.3 L1170,1638.1Z"/><path d="M1220.8,1639.2 L1219.9,1642 L1218,1644.2 L1198,1644.5 L1196.7,1641.8 L1195.6,1639.2 L1196.4,1636.4 L1196.7,1633.8 L1197.9,1631.5 L1199,1629.1 L1200.8,1627.2 L1202.7,1625.2 L1205.1,1623.4 L1208.1,1623.2 L1210.8,1624.2 L1213.4,1625.4 L1215.2,1627.4 L1216.9,1629.3 L1218.3,1631.4 L1219.9,1633.5 L1220.3,1636.3Z"/><path d="M1226.9,1634.4 L1224.7,1634.6 L1222.3,1634.6 L1217.5,1627.5 L1217.7,1625.1 L1217.8,1623.1 L1218.1,1621 L1219,1619 L1220.3,1617.2 L1222,1615.6 L1223.8,1615.2 L1236,1623.3 L1236,1628.8 L1229,1634Z"/><path d="M1256.2,1631.5 L1253.9,1632.7 L1251.5,1633.5 L1249.1,1634.3 L1246.5,1634.4 L1244.6,1634.5 L1237.1,1629 L1237.1,1623.2 L1245.6,1614.7 L1248.4,1615.1 L1251,1616 L1253.3,1617 L1255.2,1618.4 L1256.6,1619.6 L1257.3,1630.7Z"/><path d="M1271.7,1628.1 L1270,1629.8 L1268.2,1630.6 L1266.2,1630.7 L1264.4,1630.8 L1262.6,1630.7 L1260.8,1630.4 L1259.2,1629.7 L1257.7,1619.6 L1258.6,1618.7 L1260,1617.6 L1265.8,1616.3 L1267.5,1616.8 L1269.1,1617.9 L1269.9,1618.9Z"/><path d="M1228.4,1642.1 L1227.9,1640.4 L1227.6,1638.5 L1227.3,1636.6 L1234.1,1631.7 L1236,1631.5 L1238.1,1631.6 L1247.1,1637.6 L1246.5,1640.4 L1245.8,1642.1 L1244.8,1643.7 L1238,1648.3 L1236,1648.5 L1233.8,1647.7 L1231.8,1646.9 L1230.3,1645.4 L1229.3,1643.8Z"/><path d="M1256.5,1641.4 L1256.9,1640.1 L1258,1638.7 L1259.6,1637.9 L1261,1637.1 L1262.5,1636.8 L1264.1,1636.8 L1265.7,1636.6 L1267.2,1637.1 L1268.8,1637.6 L1270.2,1638.8 L1271.1,1640.3 L1271.5,1641.9 L1271.3,1643.7 L1270.9,1645.2 L1270.3,1646.7 L1269.3,1647.9 L1268.5,1649.3 L1267.5,1650.3 L1265.9,1650.8Z"/><path d="M1059.6,1639.4 L1058.6,1636.9 L1058.6,1634.2 L1058.4,1631.4 L1059.1,1628.7 L1061.1,1626.6 L1063,1624.7 L1077,1626.2 L1079.1,1628.2 L1080.4,1630.7 L1081,1633.6 L1080.6,1636.4 L1079.7,1639 L1078,1641.1 L1076.8,1643.2 L1075.4,1645.4 L1062.2,1644.4 L1060.6,1641.8Z"/><path d="M1054.9,1619.3 L1055.7,1620.7 L1056,1622.3 L1056.4,1623.7 L1056.6,1625.3 L1056.6,1626.9 L1056.1,1628.5 L1055.7,1630.2 L1054.4,1631.2 L1053.2,1631.9 L1051.7,1631.9 L1050.4,1631.8 L1049.1,1631.8 L1048,1631 L1046.8,1630.3 L1046.5,1620.4 L1047.4,1619.4 L1048.4,1618.4 L1049.7,1617.9 L1051,1617.5 L1052.4,1617.6 L1053.7,1618.3Z"/><path d="M1062.9,1659.7 L1062.6,1662.8 L1055.3,1672.9 L1053.9,1672.3 L1052.1,1671.5 L1050.6,1669.6 L1048.9,1668.3 L1047.8,1665.7 L1046.5,1663.6 L1046.5,1654.3 L1047.5,1650.2 L1049,1648.1 L1050.5,1646.2 L1052.1,1644.6 L1053.9,1644.1 L1055.3,1643.2 L1058,1644.9Z"/><path d="M1059.8,1647 L1061.5,1645.5 L1073.3,1646.8 L1075.8,1648.8 L1076.8,1650.8 L1076.4,1656.4 L1064.5,1661Z"/><path d="M1096,1660.6 L1095,1661.9 L1093.5,1663.7 L1091.4,1664.4 L1089.3,1664.8 L1077.5,1656.5 L1077.8,1654.2 L1078.6,1652.4 L1079.4,1650.5 L1080.9,1649 L1082.2,1647 L1084.2,1645.9 L1086.5,1645.6 L1088.8,1646.2 L1090.9,1647 L1092.7,1648.2 L1094,1649.9 L1094.9,1651.8 L1095.9,1653.6 L1096.5,1655.6Z"/><path d="M1097.7,1656.4 L1097.9,1653.6 L1098.8,1650.8 L1100.7,1648.7 L1103.1,1647.7 L1105.4,1646.8 L1107.8,1646.9 L1110.1,1646.3 L1112.6,1646.6 L1114.9,1647.7 L1116.7,1648.7 L1119.8,1654.7 L1119.6,1657 L1119.5,1659.7 L1118.6,1662.2 L1117.6,1664.6 L1105.2,1668.9 L1101.1,1665.8 L1099.9,1663.9 L1098.9,1661.6 L1098,1659.1Z"/><path d="M1118.9,1648 L1119.1,1646.3 L1119.7,1644.7 L1120.7,1643.3 L1122.3,1642.6 L1123.8,1642 L1125.4,1641.7 L1127,1642.1 L1128.6,1641.9 L1130.1,1642.6 L1131.5,1643.4 L1132.9,1651.2 L1132.2,1652.4 L1131.2,1653.6 L1130.2,1654.8 L1128.8,1655.7 L1127.2,1656.3 L1125.5,1656.7 L1123.8,1656.1 L1122.5,1654.9 L1121.4,1653.8 L1120.6,1652.5 L1119.6,1651.2 L1119.1,1649.7Z"/><path d="M1141.6,1652.9 L1140.3,1653.5 L1139,1653.6 L1137.7,1653.9 L1136.3,1653.6 L1134.9,1653.1 L1134.1,1652 L1133.1,1645.5 L1133.3,1644 L1133.8,1642.4 L1134.6,1641.1 L1135.5,1639.7 L1137,1639.3 L1138.4,1639 L1139.8,1639.3 L1141,1640.1 L1142.1,1641.1 L1143,1641.9 L1144.7,1645.1 L1145.1,1646.3 L1145,1648 L1144.5,1649.6 L1143.8,1651.1 L1142.6,1652Z"/><path d="M1142.5,1678.2 L1138.2,1678 L1135.5,1676.2 L1133.9,1674.1 L1132.9,1671.8 L1132.4,1669.5 L1132.4,1667.1 L1132.8,1664.8 L1132.9,1662.2 L1134.4,1660.2 L1135.9,1658.1 L1138.1,1656.7 L1140.7,1656.4 L1143.2,1656.2 L1145.5,1657.1 L1147.7,1658.1 L1149.4,1659.6 L1151.5,1660.7 L1152.1,1672.9 L1150.9,1674.2 L1149.3,1676 L1147.1,1677 L1144.9,1677.8Z"/><path d="M1152.5,1659.6 L1154.4,1658.3 L1156.9,1657.2 L1159.3,1656.3 L1161.8,1656 L1164.5,1655.6 L1167.2,1656.1 L1170,1656.9 L1172.4,1658.4 L1173.8,1660.7 L1174.5,1663.2 L1174.6,1665.7 L1173.9,1668.1 L1173.3,1670.3 L1165.1,1677.7 L1163.3,1678.2 L1160.5,1677.7 L1157.9,1676.6 L1155.7,1675.1 L1154.2,1673.1 L1153.2,1671.9Z"/><path d="M1191.5,1647.6 L1193,1648.7 L1194,1650.4 L1194.6,1652.2 L1195.2,1653.9 L1195.2,1655.7 L1195.4,1657.5 L1195.2,1659.5 L1194.5,1661.2 L1193.4,1662.7 L1192.1,1664 L1190.4,1664.6 L1188.7,1664.5 L1187.1,1664.3 L1185.7,1663.3 L1184.2,1662.7 L1182.9,1661.5 L1181.7,1660.2 L1181,1658.4 L1180.8,1656.4 L1180.9,1654.4 L1181.6,1652.9 L1187.4,1647.5 L1189.8,1647.2Z"/><path d="M1206.8,1664.2 L1204,1663.8 L1201.5,1662.6 L1199.4,1660.9 L1197.9,1658.8 L1196.6,1652 L1196.6,1649.4 L1197.7,1647.1 L1198.6,1645.6 L1217,1645.6 L1218.6,1646.9 L1219.8,1649.1 L1221,1651.2 L1219.6,1657.3 L1218.3,1658.6 L1216.5,1660.3 L1214.3,1661.7 L1212.1,1663.1 L1209.5,1663.6Z"/><path d="M1223.7,1663.3 L1222.5,1661.8 L1222.2,1660 L1221.3,1658.3 L1221.5,1656.4 L1221.8,1654.5 L1222.4,1652.5 L1224.3,1651.2 L1226.2,1650.1 L1228.5,1649.9 L1230.7,1650 L1232.7,1650.3 L1234.8,1650.5 L1236.6,1651.5 L1240.6,1659.8 L1239.7,1661.6 L1238.2,1663 L1236.7,1664.2 L1235.2,1665.5 L1233.3,1666.7 L1226.5,1666 L1224.8,1665.1Z"/><path d="M1245.8,1658.8 L1243.3,1658.7 L1241.6,1658.4 L1238.2,1651.5 L1238.6,1649.8 L1239.3,1648.8 L1246.3,1644.1 L1247.6,1644.7 L1249.1,1645.5 L1250.2,1646.7 L1251,1648 L1251.7,1649.4 L1252.7,1650.8Z"/><path d="M1246.7,1661.7 L1246.3,1659.9 L1253,1652.3 L1255,1652.3 L1256.8,1652.2 L1258.6,1652.8 L1260.4,1653.5 L1261.7,1654.5 L1262.7,1661.7 L1261.8,1663.9 L1260.8,1665.4 L1254.8,1669.1 L1252.4,1668.8 L1250.7,1667.7 L1249.3,1666.4 L1248,1665.1 L1247.4,1663.4Z"/><path d="M1272.6,1651.3 L1273.5,1652.6 L1274.1,1654.2 L1274.6,1655.6 L1274.8,1657.2 L1274.9,1658.7 L1274.9,1660.3 L1274.5,1661.9 L1273.9,1663.5 L1272.7,1664.6 L1271.4,1665.1 L1268.9,1665 L1267.5,1664.5 L1266.2,1664 L1265.2,1663.2 L1264,1662.2 L1263.1,1656.5 L1264,1654.4 L1264.9,1653.2 L1266.1,1652.4 L1270.2,1650.4Z"/><path d="M1255.8,1644.1 L1256.1,1642.6 L1264.9,1651.3 L1263.2,1652.1 L1261.7,1652.1 L1260.3,1651.8 L1259.1,1651.2 L1258.1,1650.1 L1257.3,1649.1 L1256.7,1648 L1256,1646.8 L1255.7,1645.5Z"/><path d="M1291.5,1681.1 L1289.8,1681.2 L1288.2,1680.9 L1286.7,1680.5 L1285.2,1679.4 L1283.8,1677.8 L1282.3,1675.7 L1281.7,1672.2 L1281.4,1668.5 L1281.5,1664.9 L1282.3,1661.7 L1282.8,1658.5 L1283.8,1655.9 L1284.9,1653.2 L1286.2,1651.2 L1287.8,1649.7 L1289.5,1649.8 L1291.2,1650.6Z"/><path d="M1061.6,1679 L1060.7,1675.5 L1060.5,1671.8 L1060.3,1668 L1064.5,1662.2 L1076.8,1657.4 L1088.9,1666.4 L1088.1,1677.3 L1086.4,1680.1 L1085,1683.3 L1083,1686.2 L1081.6,1687.5 L1068.7,1689 L1067.3,1688.1 L1065.2,1685.1 L1063.2,1682.2Z"/><path d="M1090.2,1666.9 L1092,1666.1 L1094,1665.5 L1096.1,1665.4 L1098.1,1665.7 L1104.5,1669.7 L1103.9,1679.6 L1102.2,1681.8 L1100.8,1683.7 L1098.7,1684.4 L1096.5,1685.1 L1094.2,1684.6 L1092.1,1683.7 L1090.5,1682.2 L1089.3,1680.5Z"/><path d="M1119.7,1683.8 L1114.9,1684.9 L1113.7,1684.7 L1111.3,1685 L1108.9,1684.4 L1106.4,1683.8 L1104.9,1682.3 L1105.6,1670.3 L1117.4,1666.4 L1118.9,1666.9 L1120.8,1668.2 L1122.2,1670 L1123.5,1671.8 L1124.4,1673.7 L1125.1,1675.9 L1124.9,1677.8Z"/><path d="M1130.1,1699.6 L1127.5,1699.3 L1125.5,1698.6 L1123.8,1698.1 L1120.6,1685.4 L1122.2,1682.9 L1123.5,1681.1 L1125.3,1679 L1127,1678 L1129.2,1677.8 L1131.6,1677.6 L1133.7,1678.6 L1135.3,1680.5 L1138,1695.1Z"/><path d="M1148.1,1684.2 L1148.8,1685.8 L1149,1687.7 L1149,1689.6 L1148.6,1691.6 L1145.3,1694.8 L1142.9,1695.1 L1141.3,1695.3 L1139.8,1694.8 L1136.9,1681.6 L1137.8,1680.3 L1139.1,1679.1 L1145.6,1679.4 L1146.6,1681 L1147.6,1682.4Z"/><path d="M1159.1,1683.5 L1160.4,1682.3 L1161.9,1681.8 L1163.4,1681.1 L1164.9,1681 L1171.8,1689.7 L1171.2,1691.3 L1170.6,1693 L1170.1,1694.9 L1161.5,1696.4 L1160.1,1695.2 L1159.1,1693.8 L1158.2,1692.3 L1157.3,1690.7 L1157,1688.7 L1156.9,1686.6 L1157.7,1684.8Z"/><path d="M1173.9,1671.7 L1176.4,1671 L1178.3,1671.5 L1180.3,1672.3 L1181.8,1673.9 L1182.7,1676 L1183.2,1678.2 L1183,1680.4 L1182.7,1682.4 L1182.4,1684.4 L1182,1686.6 L1180.6,1688.1 L1179.3,1689.8 L1177.4,1690.7 L1175.4,1691 L1174.1,1690.8 L1166,1680.7 L1165.9,1679.1Z"/><path d="M1195.7,1699.9 L1193.5,1700.1 L1191.2,1700.3 L1188.8,1700.3 L1186.5,1699.7 L1183.9,1699.2 L1182.3,1697.9 L1181.2,1696.3 L1180.4,1694.7 L1180.6,1693.1 L1181.6,1691.6 L1182.4,1690.1 L1183.4,1688.7 L1185.1,1687.5 L1186.9,1686.4 L1189.2,1685.5 L1191.9,1685.7 L1194.5,1685.8 L1196.7,1686.7 L1198.1,1687.5 L1201.4,1696.1Z"/><path d="M1215.3,1682.8 L1216.1,1684.7 L1216.4,1686.8 L1216.5,1689 L1216.4,1691.4 L1215.2,1693.2 L1213.8,1694.8 L1212.2,1696.1 L1210.2,1696.4 L1208.3,1696.5 L1206.5,1696.4 L1204.7,1695.8 L1202.9,1694.9 L1201.7,1694 L1199.4,1687.7 L1199.5,1685.1 L1200.6,1683.2 L1201.9,1681.7 L1202.8,1679.9 L1204.1,1678.3 L1205.9,1677.4 L1215,1682.3Z"/><path d="M1222.2,1679.3 L1218.2,1679.5 L1215.6,1679.6 L1213,1679.3 L1211.3,1678.9 L1203.9,1674.6 L1204,1672.1 L1204.8,1670.5 L1206.5,1669.2 L1207.8,1667.9 L1209.6,1666.7 L1211.8,1665.8 L1214.4,1665.1 L1217.2,1664.8 L1219.9,1665.4 L1222.5,1666.1 L1224.2,1667Z"/><path d="M1230.7,1681.4 L1228.8,1681.8 L1226.9,1681.7 L1225,1681.3 L1223.2,1680.6 L1225.2,1667.6 L1226.5,1667.1 L1231.8,1667.8 L1234.1,1669.1 L1235.2,1670.3 L1236.1,1671.7 L1237.2,1673.1Z"/><path d="M1233.4,1689.2 L1232,1687.9 L1231.2,1686.4 L1230.4,1685 L1236.5,1676 L1238.4,1675.6 L1240.5,1676.1 L1242.4,1676.7 L1244.4,1677.2 L1246.3,1678 L1243.9,1688.8 L1242.1,1690 L1240.4,1690.3 L1236.7,1690.3 L1235.4,1690.1Z"/><path d="M1259.5,1695.6 L1245.5,1692 L1244.5,1690.7 L1247.6,1680.1 L1250,1678.3Z"/><path d="M1251.7,1677.5 L1251.6,1676 L1252.9,1672.6 L1253.7,1670.9 L1263.2,1665.7 L1267.1,1666.4 L1270,1666.9 L1273.1,1667.6 L1276.2,1669 L1281.2,1676.5 L1281.6,1678.3 L1281.4,1682.1 L1279.6,1685.4 L1277.9,1688.3 L1275.9,1690.8 L1274.1,1693.6 L1271.3,1695.2 L1268.3,1696.9 L1264.9,1697.2 L1262.1,1697.3Z"/><path d="M1046.5,1680.2 L1047.7,1678.9 L1049,1678.3 L1050.2,1677.9 L1051.5,1677.7 L1053,1677.7 L1054.3,1678.5 L1055.5,1679.8 L1056.2,1681.9 L1056.5,1684.2 L1056.7,1686.3 L1056.3,1688.4 L1056.1,1690.4 L1055.6,1692.3 L1054.9,1694.3 L1054,1696 L1052.7,1697.1 L1051.2,1697.5 L1049.8,1697 L1048.5,1696.3 L1047.4,1694.9 L1046.6,1693.3Z"/><path d="M1089.9,1700 L1089.8,1696.7 L1090.4,1694.5 L1091.6,1692.6 L1093.4,1691.4 L1095.1,1690.4 L1097,1690.1 L1098.8,1690.6 L1100.5,1690.8 L1102.4,1691.1 L1104.1,1692.2 L1105.7,1693.6 L1106.6,1695.6 L1107,1697.9 L1107,1700.1 L1106.3,1702.1 L1105.6,1704.1 L1104.2,1705.6 L1101.7,1707.4Z"/><path d="M1122.7,1698.1 L1121.5,1698.8 L1119.6,1699.3 L1117.7,1699.5 L1115.8,1699.2 L1114,1698.9 L1112.4,1698.1 L1110.8,1697.2 L1109.2,1696.2 L1108.5,1694.5 L1107.9,1692.9 L1108,1691.2 L1109.1,1689.7 L1110.3,1688.4 L1111.6,1687.4 L1113,1686.4 L1119.4,1685.1Z"/><path d="M1157.1,1700.9 L1156.9,1702.9 L1156.3,1704.6 L1155.4,1705.8 L1154.5,1706.8 L1153.3,1707.3 L1149.7,1706.9 L1148.4,1705.4 L1147.6,1704 L1147.4,1702 L1147.3,1700 L1147.6,1698.2 L1147.8,1696.4 L1148.3,1694.7 L1149,1693.3 L1152.3,1690.5 L1154,1691.6 L1154.9,1692.7 L1155.5,1694.2 L1156.2,1695.6 L1156.8,1697.1 L1157,1699Z"/><path d="M1158.9,1705.1 L1160.2,1698.3 L1161.3,1697.7 L1167.1,1696.7 L1168.5,1697.1 L1170.3,1697.3 L1172.3,1697.7 L1173.7,1698.9 L1174.8,1700.4 L1175.2,1702.1 L1175.2,1703.7 L1174.8,1705.3 L1174.1,1706.8 L1168.7,1710.9 L1166.6,1711.3 L1164.6,1711.1 L1162.9,1710.2 L1161.5,1709.1 L1160.1,1708 L1159.2,1706.6Z"/><path d="M1073.5,1708.6 L1071.2,1707.7 L1069,1706.4 L1067.5,1704.6 L1067.3,1702.2 L1067.1,1700.1 L1067.6,1698.1 L1067.8,1696 L1068.6,1693.9 L1070,1692 L1072,1690.6 L1074.4,1689.8 L1076.8,1689.2 L1079.4,1690 L1081.7,1690.5 L1083.5,1692 L1085.5,1693.2 L1086.7,1695 L1088,1696.4 L1088,1699.6Z"/><path d="M1095.9,1729.7 L1093,1731.1 L1090,1732.3 L1086.8,1732.6 L1083.5,1732.8 L1080.3,1731.3 L1077.3,1729.3 L1075.5,1725.9 L1074,1722.4 L1074.2,1718.4 L1074.4,1714.8 L1075.2,1711.4 L1075.7,1708.5 L1088.6,1700.5 L1100.7,1708.1 L1099.4,1726.9Z"/><path d="M1116.6,1705.9 L1118.6,1708.3 L1119.9,1711.1 L1120.8,1713.8 L1121,1716.7 L1121.5,1719.5 L1121,1722.4 L1120.8,1725.7 L1118.9,1728.2 L1116.5,1729.9 L1114.1,1731.5 L1111.2,1731.4 L1108.5,1730.7 L1105.9,1730.4 L1103.5,1729.1 L1101.2,1727.6 L1102.2,1708.8 L1103.6,1707.6 L1104.7,1706.9 L1106.6,1705.7 L1108.3,1704.9 L1111.1,1704.1 L1114,1704.4Z"/><path d="M1139.5,1710 L1139.5,1712.6 L1139.1,1714.4 L1138,1716.4 L1136.6,1718.4 L1134.8,1719.5 L1132.8,1719.8 L1130.9,1719.3 L1129.1,1718.9 L1127.6,1717.6 L1125.8,1717 L1124.3,1715.5 L1123.1,1713.7 L1122.5,1711.5 L1122.4,1709.2 L1122.9,1706.9 L1124.3,1705.2 L1125.6,1703.7 L1126.8,1702.2 L1128.4,1701 L1130.1,1700.7Z"/><path d="M1131.2,1700.2 L1137.2,1696.8 L1139.5,1697 L1141.1,1697.4 L1142.6,1698 L1143.8,1699.2 L1144.7,1700.7 L1145.3,1702.3 L1144.8,1704 L1144.5,1705.5 L1143.6,1706.9 L1142.8,1708.1 L1141.8,1709.3Z"/><path d="M1147.3,1710.2 L1149.8,1709.4 L1152.6,1709.4 L1155.4,1709.7 L1157.8,1711.2 L1160.1,1712.7 L1161.3,1715.1 L1161.6,1717.6 L1161.6,1720 L1157,1729.2 L1155.3,1730.8 L1154.1,1731.1 L1138.3,1723.7 L1137,1720.5 L1141.1,1713.1 L1142.5,1712 L1145,1711.2Z"/><path d="M1162.3,1721.5 L1164,1720.8 L1171.9,1731.8 L1171.4,1733.6 L1170.5,1735.2 L1169.6,1736.2 L1158.1,1729.3Z"/><path d="M1188.6,1710.6 L1189.8,1713.4 L1191.3,1726.8 L1189.3,1730.3 L1186.8,1732.3 L1183.8,1733.4 L1180.6,1733.1 L1177.7,1733.2 L1175,1732 L1172.9,1731.3 L1165.1,1718.7 L1166.7,1716 L1168.1,1713.4 L1169.4,1711.6 L1170.9,1710.5 L1172.4,1709.7 L1174.7,1708 L1177.4,1706.2 L1180.6,1706.1 L1183.7,1706.8 L1186.6,1708.1Z"/><path d="M1190.8,1711.9 L1192.2,1710.2 L1204.3,1712.2 L1201.5,1724.7 L1193.5,1727 L1192.3,1725.3Z"/><path d="M1193.5,1709.3 L1193.1,1706.8 L1193.1,1705.3 L1193.2,1703.8 L1199.9,1698.4 L1201.7,1699.1 L1203.3,1699.6 L1204.4,1700.7 L1205.8,1701.5 L1206.9,1702.8 L1207.5,1704.5 L1207.4,1706.2 L1206.9,1707.8 L1206.2,1709.3 L1205,1710.4Z"/><path d="M1214.1,1706.7 L1216.3,1706.6 L1225.2,1710.5 L1229.2,1715.7 L1230.2,1719.9 L1230.1,1723.3 L1229.8,1726.7 L1228.8,1729.9 L1227.8,1733.6 L1225.2,1736.1 L1222.1,1737.8 L1218.8,1738.8 L1215.4,1737.6 L1212.2,1737.3 L1210.6,1736.3 L1202.5,1725 L1205.4,1712.3 L1208.3,1709.7 L1211.1,1708.1Z"/><path d="M1232.4,1698.9 L1225.3,1709.4 L1217.8,1706 L1216.7,1703.8 L1216.7,1701.8 L1217.5,1699.9 L1218.2,1698.2 L1219.2,1696.6 L1220.4,1695.2 L1222,1694.3 L1223.6,1693.2 L1225.5,1692.5 L1227.5,1692.8 L1229.5,1693.3 L1230.9,1694.8Z"/><path d="M1244.6,1712.2 L1243.3,1714.1 L1241.5,1715.6 L1239.2,1716.1 L1237.3,1716.9 L1235.2,1717.3 L1233.1,1716.8 L1231.3,1716.6 L1226.2,1710.1 L1233.2,1699.6 L1240.8,1702.7 L1244.7,1711.8Z"/><path d="M1254.9,1709.4 L1252.8,1709.9 L1251,1710.9 L1248.9,1711.2 L1246.6,1711.2 L1241.8,1702.2 L1245.4,1693.2 L1257.2,1696.5 L1258.5,1698 L1259.4,1700 L1259.8,1702.3 L1259.2,1704.5 L1258.1,1706.5 L1256.6,1708.1Z"/><path d="M1269.8,1701.4 L1271.4,1702 L1272.9,1702.7 L1273.9,1703.9 L1274.6,1705.1 L1274.8,1706.5 L1275,1707.7 L1275.2,1709.1 L1274.9,1710.4 L1274,1711.6 L1272.9,1712.7 L1271.7,1713.7 L1269.9,1713.9 L1268.2,1713.9 L1266.7,1713.5 L1265.2,1713 L1263.8,1712.5 L1262.7,1711.5 L1261.3,1710.6 L1260.7,1709.3 L1260.6,1707.9 L1260.8,1706.5 L1261.5,1705.2 L1262.5,1704.1 L1263.8,1703.3 L1265,1702.5 L1266.5,1702.1 L1268.1,1701.7Z"/><path d="M1232.2,1694 L1233.2,1692.6 L1234.7,1691.7 L1243.5,1691.4 L1244.5,1692.6 L1240.9,1701.5 L1233.4,1698.5 L1232.1,1694.2Z"/><path d="M1046.5,1708.1 L1047.8,1707.5 L1049.1,1706.5 L1050.5,1706.7 L1051.8,1707 L1053,1707.5 L1054.3,1708.3 L1055.6,1709.3 L1056.6,1711.1 L1057.1,1713.3 L1056.9,1715.7 L1056.7,1717.8 L1056.2,1719.8 L1055.3,1721.4 L1054.6,1723.2 L1053.6,1724.6 L1052.3,1725.4 L1051,1726.2 L1049.5,1726.4 L1048.1,1725.7 L1047,1724.3 L1046.5,1722.9Z"/><path d="M1128.5,1732.1 L1131.1,1747.1 L1128.8,1749.4 L1126.7,1750.2 L1124.5,1750.4 L1122.3,1750.5 L1120.4,1749.6 L1118.4,1749 L1116.5,1747.9 L1114.6,1746.6 L1113.4,1744.6 L1112.7,1742.4 L1112.8,1740 L1113.7,1737.8 L1114.9,1736 L1116.6,1734.6 L1118.1,1733.2 L1119.9,1732.1 L1121.8,1730.9 L1124.1,1730.9 L1126.5,1730.8Z"/><path d="M1143.1,1748.4 L1139.6,1749.1 L1135.9,1748.7 L1132.6,1747.4 L1129.5,1730.8 L1130.7,1729.7 L1133,1727.5 L1136.7,1726.7 L1140.4,1726.5 L1142.8,1727 L1154.3,1732.4 L1156.4,1742.9 L1155.3,1744 L1152.4,1745.5 L1149.7,1747 L1146.4,1747.6Z"/><path d="M1168.1,1736.6 L1167.2,1738.1 L1166.1,1739.1 L1164.7,1739.5 L1163.3,1739.7 L1162,1739.5 L1160.8,1739.1 L1159.5,1738.7 L1158.4,1738 L1157.1,1737.2 L1156.6,1735.9 L1156,1734.5 L1156.3,1733.1 L1156.9,1731.8 L1157.4,1730.6Z"/><path d="M1209.1,1736.1 L1208.8,1737.7 L1207.6,1739.3 L1206,1740.5 L1204.2,1741.3 L1202.2,1741.6 L1200.3,1741.1 L1198.6,1740.1 L1197.2,1739 L1195.7,1738 L1194.4,1736.6 L1193.5,1734.9 L1192.7,1733 L1193,1731 L1193.7,1729.1 L1195.1,1727.7 L1201.7,1725.8Z"/><path d="M1255.1,1740 L1252.9,1740.6 L1250.5,1740.9 L1247.9,1741.2 L1245.5,1740.4 L1243.5,1739.1 L1242,1737.4 L1241.5,1735.5 L1240.9,1733.7 L1241.1,1731.8 L1241.7,1730.1 L1242.6,1728.4 L1243.7,1726.7 L1245.4,1725.3 L1247.5,1724 L1250.2,1724.1 L1252.7,1724.1 L1254.9,1724.8 L1256.9,1725.8 L1258.7,1726.9 L1260.8,1728 L1262.3,1729.6 L1263.1,1731.5 L1263.2,1733.5 L1262.8,1735.6 L1261.2,1737.2 L1259.2,1738.4 L1257.1,1739.3Z"/><path d="M1282,1737.9 L1280.9,1738.9 L1279.7,1739.6 L1278.4,1739.8 L1277.1,1739.9 L1275.7,1739.6 L1274.4,1738.5 L1273.3,1737 L1272.7,1734.8 L1272.5,1732.6 L1272.8,1730.4 L1272.8,1728.3 L1273.4,1726.4 L1273.8,1724.4 L1274.7,1722.6 L1275.8,1721.3 L1277.2,1720.4 L1278.5,1720.6 L1280.9,1722.1 L1282.2,1723.4 L1283,1725 L1283.8,1726.7 L1284.6,1728.5 L1285,1730.8 L1284.8,1733.1 L1284.1,1735.1 L1283.3,1736.9Z"/><path d="M1284.4,1723.1 L1284,1721.5 L1283.4,1719.7 L1283.4,1717.5 L1283.3,1715.5 L1283.2,1713.4 L1283.5,1711.2 L1284,1709.2 L1284.8,1707.6 L1285.9,1706.9 L1287,1706.2 L1289.1,1707.4 L1290.9,1709.2 L1291.5,1721.8 L1290.4,1723.4 L1289.6,1724.6 L1288.7,1725.8Z"/><path d="M1139.7,1754 L1141.9,1753.6 L1144.4,1753.5 L1147,1753.8 L1149.3,1754.5 L1151,1755.6 L1151.7,1757 L1151.8,1758.4 L1130.4,1758.5 L1131.5,1756.7 L1133.4,1755.7 L1135.4,1755 L1137.3,1754.2Z"/><path d="M1162.1,1758.5 L1163.8,1756.9 L1164.8,1755.7 L1166.5,1754.8 L1168.4,1753.9 L1170.7,1753.4 L1173.3,1753.2 L1175.8,1753.4 L1178,1754.1 L1179.8,1755.1 L1181.1,1756.1 L1181.4,1758.5Z"/><path d="M1193.3,1754.9 L1195,1755.5 L1196.3,1756.4 L1196.8,1757.5 L1182.5,1758.5 L1182.5,1757 L1184.5,1756.1 L1185.8,1755.3 L1187.5,1755 L1189.4,1754.5 L1191.3,1754.6Z"/><path d="M1218.6,1758.5 L1219.1,1756.5 L1220.4,1755.6 L1221.6,1754.8 L1223.3,1754.4 L1224.9,1754.4 L1226.5,1754.7 L1227.9,1754.9 L1229.5,1755.1 L1231.1,1755.7 L1232.3,1756.6 L1233.2,1757.6Z"/><path d="M1249,1744.4 L1250.8,1743.8 L1252.7,1743.5 L1254.5,1744 L1254.5,1758.5 L1244.9,1758.5 L1243.2,1756.5 L1242.5,1754.4 L1242.7,1752 L1243.1,1749.8 L1244.5,1748.1 L1245.6,1746.4 L1247.4,1745.5Z"/><path d="M1255.6,1743.7 L1258.5,1742.3 L1262,1741.8 L1265.5,1741.6 L1268.8,1742.4 L1272.2,1742.5 L1275.8,1743.2 L1278.3,1745.3 L1280.2,1746.7 L1279.1,1758.5 L1255.6,1758.5Z"/><path d="M1280.9,1750.8 L1283.2,1750.4 L1285,1749.7 L1287.1,1749.6 L1289.3,1749.4 L1291.4,1749.7 L1291.5,1758.5 L1280.2,1758.5Z"/></clipPath></defs>
<rect width="1299" height="1800" fill="#fff"/>
<g font-family="Liberation Sans, sans-serif" fill="#231f20">
<text x="0.1" y="29.6" font-size="42" font-weight="bold" textLength="29.2" lengthAdjust="spacingAndGlyphs">A</text>
<text x="43" y="14.9" font-size="16.1" font-weight="bold" textLength="260.3" lengthAdjust="spacingAndGlyphs">Isolating the rare cells that give</text>
<text x="43.1" y="32.4" font-size="16.1" font-weight="bold" textLength="304.6" lengthAdjust="spacingAndGlyphs">rise to drug resistance using Rewind</text>
<g stroke="#333" stroke-width="1"><line x1="21.5" y1="76.1" x2="21.5" y2="74.2"/><circle cx="21.5" cy="72.1" r="2.2" fill="#ececec"/><line x1="21.5" y1="90.1" x2="21.5" y2="92"/><circle cx="21.5" cy="94.1" r="2.2" fill="#ececec"/><line x1="27.8" y1="80.1" x2="29.6" y2="79.3"/><circle cx="31.5" cy="78.5" r="2.2" fill="#ececec"/><line x1="27.8" y1="86.1" x2="29.6" y2="86.9"/><circle cx="31.5" cy="87.7" r="2.2" fill="#ececec"/><line x1="15.2" y1="86.1" x2="13.4" y2="86.9"/><circle cx="11.5" cy="87.7" r="2.2" fill="#ececec"/><line x1="15.2" y1="80.1" x2="13.4" y2="79.3"/><circle cx="11.5" cy="78.5" r="2.2" fill="#ececec"/><polygon points="29.9,83.1 25.7,89.8 17.3,89.8 13.1,83.1 17.3,76.4 25.7,76.4" fill="#d0d0d0"/></g>
<text x="21.5" y="88.6" font-size="15.5" fill="#111" text-anchor="middle">1</text>
<g stroke="#333" stroke-width="1"><line x1="59.7" y1="76.1" x2="59.7" y2="74.2"/><circle cx="59.7" cy="72.1" r="2.2" fill="#ececec"/><line x1="59.7" y1="90.1" x2="59.7" y2="92"/><circle cx="59.7" cy="94.1" r="2.2" fill="#ececec"/><line x1="66" y1="80.1" x2="67.8" y2="79.3"/><circle cx="69.7" cy="78.5" r="2.2" fill="#ececec"/><line x1="66" y1="86.1" x2="67.8" y2="86.9"/><circle cx="69.7" cy="87.7" r="2.2" fill="#ececec"/><line x1="53.4" y1="86.1" x2="51.6" y2="86.9"/><circle cx="49.7" cy="87.7" r="2.2" fill="#ececec"/><line x1="53.4" y1="80.1" x2="51.6" y2="79.3"/><circle cx="49.7" cy="78.5" r="2.2" fill="#ececec"/><polygon points="68.1,83.1 63.9,89.8 55.5,89.8 51.3,83.1 55.5,76.4 63.9,76.4" fill="#d0d0d0"/></g>
<text x="59.7" y="88.6" font-size="15.5" fill="#111" text-anchor="middle">3</text>
<g stroke="#333" stroke-width="1"><line x1="40.8" y1="96.8" x2="40.8" y2="94.9"/><circle cx="40.8" cy="92.8" r="2.2" fill="#ececec"/><line x1="40.8" y1="110.8" x2="40.8" y2="112.7"/><circle cx="40.8" cy="114.8" r="2.2" fill="#ececec"/><line x1="47.1" y1="100.8" x2="48.9" y2="100"/><circle cx="50.8" cy="99.2" r="2.2" fill="#ececec"/><line x1="47.1" y1="106.8" x2="48.9" y2="107.6"/><circle cx="50.8" cy="108.4" r="2.2" fill="#ececec"/><line x1="34.5" y1="106.8" x2="32.7" y2="107.6"/><circle cx="30.8" cy="108.4" r="2.2" fill="#ececec"/><line x1="34.5" y1="100.8" x2="32.7" y2="100"/><circle cx="30.8" cy="99.2" r="2.2" fill="#ececec"/><polygon points="49.2,103.8 45,110.5 36.6,110.5 32.4,103.8 36.6,97.1 45,97.1" fill="#d0d0d0"/></g>
<text x="40.8" y="109.3" font-size="15.5" fill="#111" text-anchor="middle">2</text>
<text x="84.2" y="105.7" font-size="16.8" textLength="163.5" lengthAdjust="spacingAndGlyphs">Transduce ~ 200,000</text>
<text x="83.7" y="122.6" font-size="16.8" textLength="161.7" lengthAdjust="spacingAndGlyphs">cells with transcribed</text>
<text x="83.3" y="139.3" font-size="16.8" textLength="114.6" lengthAdjust="spacingAndGlyphs">barcode library</text>
<path d="M71.4,108.6 C73,150 110,176 155,178.8" fill="none" stroke="#231f20" stroke-width="1.5"/>
<line x1="109" y1="178.8" x2="160.3" y2="178.8" stroke="#231f20" stroke-width="1.6"/>
<path d="M169.4,178.8 L156.4,183.6 L159,178.8 L156.4,174.1 Z" fill="#231f20"/>
<use href="#grp" transform="translate(-158.5,0)"/>
<use href="#grpn"/>
<use href="#grpn" transform="translate(162.4,-26.3)"/>
<use href="#grpn" transform="translate(163.2,0)"/>
<use href="#grpn" transform="translate(327.4,0)"/>
<path d="M99.5,230 C90,228 83,224 80.8,216" fill="none" stroke="#231f20" stroke-width="1.3"/>
<path d="M78.5,207.5 L86.3,218 L80.7,216.9 L76.1,220.4 Z" fill="#231f20"/>
<text x="104.1" y="237" font-size="16.8" textLength="48.8" lengthAdjust="spacingAndGlyphs">Cell in</text>
<text x="83.4" y="254" font-size="16.8" textLength="95.4" lengthAdjust="spacingAndGlyphs">primed state</text>
<text x="257.4" y="152.6" font-size="16.8" textLength="59.4" lengthAdjust="spacingAndGlyphs">Expand</text>
<text x="271.8" y="169.2" font-size="16.8" textLength="35.4" lengthAdjust="spacingAndGlyphs">cells</text>
<line x1="263.6" y1="176.1" x2="311.9" y2="176.1" stroke="#231f20" stroke-width="1.6"/>
<path d="M321,176.1 L308,180.8 L310.6,176.1 L308,171.3 Z" fill="#231f20"/>
<line x1="437" y1="176.1" x2="486.4" y2="176.1" stroke="#231f20" stroke-width="1.6"/>
<path d="M495.5,176.1 L482.5,180.8 L485.1,176.1 L482.5,171.3 Z" fill="#231f20"/>
<line x1="594" y1="176.1" x2="642.9" y2="176.1" stroke="#231f20" stroke-width="1.6"/>
<path d="M652,176.1 L639,180.8 L641.6,176.1 L639,171.3 Z" fill="#231f20"/>
<text x="543.9" y="49.5" font-size="16.8" textLength="151.6" lengthAdjust="spacingAndGlyphs">Apply drug to select</text>
<text x="539.3" y="66.3" font-size="16.8" textLength="160.3" lengthAdjust="spacingAndGlyphs">for resistant lineages</text>
<text x="552.1" y="92.9" font-size="16.8" textLength="135.1" lengthAdjust="spacingAndGlyphs">1 µM vemurafenib</text>
<text x="579.7" y="110.2" font-size="16.8" textLength="78.9" lengthAdjust="spacingAndGlyphs">~ 3 weeks</text>
<line x1="619.2" y1="121" x2="619.2" y2="325.3" stroke="#231f20" stroke-width="1.6" stroke-dasharray="11,11.7" stroke-dashoffset="6.1"/>
<path d="M705,190 Q728.8,182 735,168 Q748.3,184.4 777.4,198.7 Q740.2,190.3 705,190Z" fill="#ea650d" stroke="#231f20" stroke-width="0.9"/>
<ellipse cx="734.5" cy="179" rx="6.4" ry="8.3" fill="#a8dcf4"/>
<path d="M700,185 Q722.8,177.7 727,166 Q742.7,178.9 773.9,189.7 Q735.4,184.1 700,185Z" fill="#ea650d" stroke="#231f20" stroke-width="0.9"/>
<ellipse cx="723.7" cy="171.8" rx="6.4" ry="8.3" fill="#a8dcf4"/>
<path d="M690,190 Q707,180.7 712,168 Q720.5,180.7 740,190 Q714.5,186.6 690,190Z" fill="#ea650d" stroke="#231f20" stroke-width="0.9"/>
<ellipse cx="698.1" cy="173" rx="6.4" ry="8.3" fill="#a8dcf4"/>
<text x="698.1" y="177.6" font-size="13" fill="#222" text-anchor="middle">3</text>
<path d="M697,160 Q719.5,141.6 723.2,115.7 Q739.6,142.2 771.5,162.3 Q732.6,154.2 697,160Z" fill="#ea650d" stroke="#231f20" stroke-width="0.9"/>
<ellipse cx="724.3" cy="145.6" rx="6.4" ry="8.3" fill="#a8dcf4"/>
<text x="724.3" y="150.2" font-size="13" fill="#222" text-anchor="middle">3</text>
<path d="M659.3,171.2 Q681.8,149 689.7,121.1 Q698.7,147.4 722,165 Q690.5,160.9 659.3,171.2Z" fill="#ea650d" stroke="#231f20" stroke-width="0.9"/>
<ellipse cx="690.3" cy="151.5" rx="6.4" ry="8.3" fill="#a8dcf4"/>
<text x="690.3" y="156.1" font-size="13" fill="#222" text-anchor="middle">3</text>
<path d="M676,171.8 Q700.3,150.4 705.3,122.3 Q721.3,149.6 753.6,168.8 Q713.3,162.9 676,171.8Z" fill="#ea650d" stroke="#231f20" stroke-width="0.9"/>
<ellipse cx="706.4" cy="152.7" rx="6.4" ry="8.3" fill="#a8dcf4"/>
<text x="706.4" y="157.3" font-size="13" fill="#222" text-anchor="middle">3</text>
<path d="M647.4,204 Q672.4,189.3 683,170 Q689.8,188.8 712,202 Q680.2,197.9 647.4,204Z" fill="#ea650d" stroke="#231f20" stroke-width="0.9"/>
<ellipse cx="679.6" cy="184.3" rx="6.4" ry="8.3" fill="#a8dcf4"/>
<text x="679.6" y="188.9" font-size="13" fill="#222" text-anchor="middle">3</text>
<path d="M658.1,221.3 Q681.8,199.5 691,172 Q699.1,197.8 722,215 Q690.2,211.1 658.1,221.3Z" fill="#ea650d" stroke="#231f20" stroke-width="0.9"/>
<ellipse cx="690.3" cy="200.5" rx="6.4" ry="8.3" fill="#a8dcf4"/>
<text x="690.3" y="205.1" font-size="13" fill="#222" text-anchor="middle">3</text>
<path d="M674.8,223.7 Q698.1,202 707,176 Q715.2,199.4 738,214 Q706.5,212.3 674.8,223.7Z" fill="#ea650d" stroke="#231f20" stroke-width="0.9"/>
<ellipse cx="705.9" cy="203.4" rx="6.4" ry="8.3" fill="#a8dcf4"/>
<text x="705.9" y="208" font-size="13" fill="#222" text-anchor="middle">3</text>
<path d="M699.9,216.6 Q724.1,195.6 729,168.2 Q745,194.6 777.4,213 Q737.2,207.7 699.9,216.6Z" fill="#ea650d" stroke="#231f20" stroke-width="0.9"/>
<ellipse cx="729.1" cy="197.5" rx="6.4" ry="8.3" fill="#a8dcf4"/>
<text x="729.1" y="202.1" font-size="13" fill="#222" text-anchor="middle">3</text>
<path d="M700,216.6 Q730,206 753.6,219.5 Q725,214 700,216.6Z" fill="#ea650d" stroke="#231f20" stroke-width="0.9"/>
<text x="784.1" y="131.5" font-size="16.8" textLength="97.4" lengthAdjust="spacingAndGlyphs">Cells in drug</text>
<text x="780.7" y="149" font-size="16.8" textLength="107.8" lengthAdjust="spacingAndGlyphs">resistant state</text>
<path d="M780,121.9 C768,118 756,121 749.5,131" fill="none" stroke="#231f20" stroke-width="1.3"/>
<path d="M744.9,136.4 L747.5,124.8 L749.9,129.2 L754.9,130 Z" fill="#231f20"/>
<line x1="714" y1="224" x2="714" y2="273" stroke="#231f20" stroke-width="1.6"/>
<path d="M714,281.4 L708.8,269.4 L714,271.8 L719.2,269.4 Z" fill="#231f20"/>
<text x="724.4" y="239.4" font-size="16.8" textLength="104.9" lengthAdjust="spacingAndGlyphs">Extract gDNA</text>
<text x="725.5" y="256.4" font-size="16.8" textLength="113.3" lengthAdjust="spacingAndGlyphs">then sequence</text>
<text x="724.7" y="273.3" font-size="16.8" textLength="71.8" lengthAdjust="spacingAndGlyphs">barcodes</text>
<text x="688.6 702.4 716.2 730 743.8" y="300" font-size="19.5" text-anchor="middle" font-family="Liberation Serif, serif">TACAG</text>
<circle cx="757.8" cy="298" r="1.9" fill="#231f20"/>
<circle cx="771.8" cy="298" r="1.9" fill="#231f20"/>
<circle cx="785.6" cy="298" r="1.9" fill="#231f20"/>
<line x1="714" y1="308.1" x2="714" y2="356.3" stroke="#231f20" stroke-width="1.6"/>
<path d="M714,364.7 L708.8,352.7 L714,355.1 L719.2,352.7 Z" fill="#231f20"/>
<text x="725" y="324" font-size="16.8" textLength="84.8" lengthAdjust="spacingAndGlyphs">Synthesize</text>
<text x="724.7" y="341.2" font-size="16.8" textLength="126.8" lengthAdjust="spacingAndGlyphs">barcode-specific</text>
<text x="724.4" y="358.7" font-size="16.8" textLength="138.6" lengthAdjust="spacingAndGlyphs">RNA FISH probes</text>
<line x1="384.8" y1="375.8" x2="429.8" y2="375.8" stroke="#231f20" stroke-width="1.5"/>
<circle cx="429.8" cy="375.8" r="4" fill="#e8176f" stroke="#5a0a2a" stroke-width="0.6"/>
<line x1="427.1" y1="385.2" x2="471.9" y2="385.2" stroke="#231f20" stroke-width="1.5"/>
<circle cx="471.9" cy="385.2" r="4" fill="#e8176f" stroke="#5a0a2a" stroke-width="0.6"/>
<line x1="401" y1="394.1" x2="445.4" y2="394.1" stroke="#231f20" stroke-width="1.5"/>
<circle cx="445.4" cy="394.1" r="4" fill="#e8176f" stroke="#5a0a2a" stroke-width="0.6"/>
<line x1="665.9" y1="375.8" x2="710.9" y2="375.8" stroke="#231f20" stroke-width="1.5"/>
<circle cx="710.9" cy="375.8" r="4" fill="#e8176f" stroke="#5a0a2a" stroke-width="0.6"/>
<line x1="708.2" y1="385.2" x2="753" y2="385.2" stroke="#231f20" stroke-width="1.5"/>
<circle cx="753" cy="385.2" r="4" fill="#e8176f" stroke="#5a0a2a" stroke-width="0.6"/>
<line x1="682.1" y1="394.1" x2="726.5" y2="394.1" stroke="#231f20" stroke-width="1.5"/>
<circle cx="726.5" cy="394.1" r="4" fill="#e8176f" stroke="#5a0a2a" stroke-width="0.6"/>
<line x1="659.7" y1="385.8" x2="489.6" y2="385.8" stroke="#231f20" stroke-width="1.6"/>
<path d="M480.5,385.8 L493.5,380.8 L490.9,385.8 L493.5,390.8 Z" fill="#231f20"/>
<text x="499.3" y="357.8" font-size="16.8" textLength="140.3" lengthAdjust="spacingAndGlyphs">Label primed cells</text>
<text x="491.8" y="374.5" font-size="16.8" textLength="155.8" lengthAdjust="spacingAndGlyphs">with barcode probes</text>
<line x1="378.3" y1="207.5" x2="378.3" y2="255.9" stroke="#231f20" stroke-width="1.6"/>
<path d="M378.3,264.3 L373.1,252.3 L378.3,254.7 L383.6,252.3 Z" fill="#231f20"/>
<text x="391.3" y="219.2" font-size="16.8" textLength="70.9" lengthAdjust="spacingAndGlyphs">Separate</text>
<text x="382.6" y="236.3" font-size="16.8" textLength="92.9" lengthAdjust="spacingAndGlyphs">related cells</text>
<path d="M316.6,285.8 L327.7,271.5 L443.4,271.5 L432.3,285.8" fill="#fff" stroke="#231f20" stroke-width="1.3"/>
<use href="#grpn" transform="translate(160.7,121.4)"/>
<path d="M316.6,285.8 L432.3,285.8 L432.3,326 L316.6,326 Z M432.3,285.8 L443.4,271.5 L443.4,312.8 L432.3,326" fill="none" stroke="#231f20" stroke-width="1.3" stroke-linejoin="round"/>
<text x="310.4" y="350.2" font-size="16.8" textLength="142.7" lengthAdjust="spacingAndGlyphs">Fix “Carbon Copy”</text>
<line x1="378.1" y1="358.3" x2="378.1" y2="406.6" stroke="#231f20" stroke-width="1.6"/>
<path d="M378.1,415 L372.9,403 L378.1,405.4 L383.4,403 Z" fill="#231f20"/>
<path d="M330.1,416.4 L330.1,486.4 L362.5,502.7 L362.5,532.2 M426.3,416.4 L426.3,486.4 L393.3,502.7 L393.3,532.2" fill="none" stroke="#555" stroke-width="1"/>
<text x="429.8" y="431.1" font-size="16.8" textLength="44.7" lengthAdjust="spacingAndGlyphs">FACS</text>
<path d="M335.1,451.5 C336,450 340.3,447.4 342.4,445.1 C344.5,442.8 346.2,440.6 347.4,437.8 C348.7,434.9 348.7,430.6 349.9,428.1 C351.1,425.6 352.9,423.6 354.8,422.9 C356.6,422.1 358.4,422 360.7,423.4 C363.1,424.8 366,428.6 368.9,431.4 C371.8,434.2 375,437.8 378,440.3 C381.1,442.9 384.6,445.2 387.2,446.8 C389.8,448.4 392.2,448.7 393.6,449.8 C395,450.9 395.7,452.3 395.5,453.4 C395.3,454.5 395.1,456 392.7,456.4 C390.2,456.8 384.7,456 380.9,455.7 C377,455.5 373.3,455 369.5,454.8 C365.7,454.5 362.1,454.4 358,454.4 C353.9,454.3 348.2,454.5 344.8,454.5 C341.3,454.5 338.8,455 337.2,454.5 C335.6,454 334.2,453.1 335.1,451.5Z" fill="#e3e3e3" stroke="#231f20" stroke-width="0.9"/>
<ellipse cx="359.9" cy="439.3" rx="6.6" ry="9" fill="#a8dcf4"/>
<text x="359.9" y="444" font-size="13" fill="#222" text-anchor="middle">2</text>
<path d="M332.5,468.9 C334,468 339.1,467.7 342,466.7 C344.9,465.6 347.5,464.5 349.9,462.6 C352.3,460.7 354.4,456.8 356.6,455.2 C358.9,453.6 361.4,452.7 363.4,452.8 C365.3,453 367,453.8 368.4,456.1 C369.8,458.5 370.6,463.2 371.8,467 C373.1,470.9 374.2,475.5 375.7,479.2 C377.2,482.9 379.3,486.6 380.8,489.2 C382.4,491.8 384.3,493.3 385,494.9 C385.7,496.5 385.6,498.1 385,499 C384.3,499.9 383.4,501 381.1,500.2 C378.7,499.4 374.3,496.2 371,494.1 C367.7,492.1 364.6,489.9 361.4,487.9 C358.1,485.9 355,484.2 351.4,482.2 C347.8,480.2 342.8,477.7 339.7,476.1 C336.6,474.5 334.2,473.7 333,472.5 C331.8,471.3 331,469.9 332.5,468.9Z" fill="#e3e3e3" stroke="#231f20" stroke-width="0.9"/>
<ellipse cx="360.3" cy="472.6" rx="6.6" ry="9" fill="#a8dcf4" transform="rotate(20 360.3 472.6)"/>
<text x="360.3" y="477.2" font-size="13" text-anchor="middle" fill="#222" transform="rotate(20 360.3 472.6)">1</text>
<path d="M369.1,453.7 C370.4,451.9 373.7,451.8 378,451.5 C382.3,451.2 389.3,451.8 395,452 C400.7,452.2 407.7,452.7 412,453 C416.3,453.3 419.2,453.2 421,454 C422.8,454.8 423.2,456.1 422.7,457.5 C422.2,458.9 420.9,460.8 418,462.5 C415.1,464.2 409.3,465.9 405,468 C400.7,470.1 395.8,472.2 392,475 C388.2,477.8 385,482.4 382,485 C379,487.6 375.9,489.8 374,490.3 C372.1,490.8 370.9,490.6 370.4,488 C369.9,485.4 371.1,479.3 371,475 C370.9,470.7 370.3,465.6 370,462 C369.7,458.4 367.8,455.4 369.1,453.7Z" fill="#f8a021" stroke="#231f20" stroke-width="0.9"/>
<ellipse cx="386.7" cy="466.7" rx="6.6" ry="9" fill="#a8dcf4" transform="rotate(-25 386.7 466.7)"/>
<text x="386.7" y="471.3" font-size="13" text-anchor="middle" fill="#222" transform="rotate(-25 386.7 466.7)">3</text>
<circle cx="374.3" cy="456.9" r="2.6" fill="#e8176f"/>
<circle cx="391.3" cy="457.6" r="2.6" fill="#e8176f"/>
<circle cx="410.3" cy="458.9" r="2.6" fill="#e8176f"/>
<circle cx="375.6" cy="465.4" r="2.6" fill="#e8176f"/>
<circle cx="399.8" cy="465.2" r="2.6" fill="#e8176f"/>
<circle cx="376.3" cy="475.6" r="2.6" fill="#e8176f"/>
<circle cx="385" cy="478.5" r="2.6" fill="#e8176f"/>
<line x1="368.7" y1="535" x2="331.2" y2="568.9" stroke="#231f20" stroke-width="1.6"/>
<path d="M325,574.5 L330.5,562.7 L332.1,568.1 L337.3,570.2 Z" fill="#231f20"/>
<line x1="387.4" y1="534.4" x2="424.8" y2="568.8" stroke="#231f20" stroke-width="1.6"/>
<path d="M431,574.5 L418.8,570.1 L423.9,568 L425.6,562.7 Z" fill="#231f20"/>
<line x1="378" y1="582.2" x2="378" y2="634" stroke="#231f20" stroke-width="1.6"/>
<path d="M378,642.4 L372.8,630.4 L378,632.8 L383.2,630.4 Z" fill="#231f20"/>
<path d="M251.3,597.8 C252.2,596.1 256.8,593.4 259,591 C261.2,588.6 263,586.3 264.3,583.3 C265.6,580.3 265.6,575.7 266.9,573.1 C268.2,570.5 270.1,568.4 272,567.6 C273.9,566.8 275.8,566.7 278.3,568.2 C280.8,569.7 283.9,573.6 286.9,576.6 C289.9,579.6 293.3,583.3 296.5,586 C299.7,588.7 303.5,591.1 306.2,592.8 C308.9,594.5 311.4,594.8 312.9,596 C314.3,597.2 315.1,598.6 314.9,599.8 C314.7,600.9 314.5,602.5 311.9,602.9 C309.3,603.3 303.6,602.5 299.5,602.2 C295.4,601.9 291.5,601.4 287.5,601.2 C283.5,601 279.7,600.8 275.4,600.8 C271.1,600.8 265.1,600.9 261.5,600.9 C257.9,600.9 255.2,601.4 253.5,600.9 C251.8,600.4 250.4,599.4 251.3,597.8Z" fill="#e3e3e3" stroke="#231f20" stroke-width="0.9"/>
<ellipse cx="277.8" cy="587.4" rx="6.2" ry="9.2" fill="#a8dcf4"/>
<text x="277.8" y="592" font-size="13" fill="#222" text-anchor="middle">1</text>
<path d="M280.4,597.8 C281.3,596.1 285.9,593.4 288.1,591 C290.3,588.6 292.1,586.3 293.4,583.3 C294.7,580.3 294.7,575.7 296,573.1 C297.3,570.5 299.2,568.4 301.1,567.6 C303,566.8 304.9,566.7 307.4,568.2 C309.9,569.7 313,573.6 316,576.6 C319,579.6 322.4,583.3 325.6,586 C328.8,588.7 332.6,591.1 335.3,592.8 C338,594.5 340.6,594.8 342,596 C343.4,597.2 344.2,598.6 344,599.8 C343.8,600.9 343.6,602.5 341,602.9 C338.4,603.3 332.7,602.5 328.6,602.2 C324.5,601.9 320.6,601.4 316.6,601.2 C312.6,601 308.8,600.8 304.5,600.8 C300.2,600.8 294.2,600.9 290.6,600.9 C287,600.9 284.3,601.4 282.6,600.9 C280.9,600.4 279.5,599.4 280.4,597.8Z" fill="#e3e3e3" stroke="#231f20" stroke-width="0.9"/>
<ellipse cx="306.9" cy="588.4" rx="6.2" ry="9.2" fill="#a8dcf4"/>
<text x="306.9" y="593" font-size="13" fill="#222" text-anchor="middle">2</text>
<text x="279.1" y="617.5" font-size="16.8" font-weight="bold" textLength="39.2" lengthAdjust="spacingAndGlyphs">Non-</text>
<text x="248.1" y="634.1" font-size="16.8" font-weight="bold" textLength="101.6" lengthAdjust="spacingAndGlyphs">primed cells</text>
<path d="M422.7,597.7 C422.7,596.2 426.1,593.1 428,591 C429.9,588.9 432.3,587.8 434,585 C435.7,582.2 436.2,576.9 438,574 C439.8,571.1 442.2,568.1 444.5,567.6 C446.8,567.1 449.1,568.9 452,571 C454.9,573.1 458.3,577.3 462,580 C465.7,582.7 470.3,585.2 474,587 C477.7,588.8 482,589.2 484,590.5 C486,591.8 486.4,593.3 486.1,594.6 C485.8,595.9 485.5,597.9 482,598.5 C478.5,599.1 471.2,598.3 465,598.5 C458.8,598.7 451.2,599.3 445,599.5 C438.8,599.7 431.7,600.1 428,599.8 C424.3,599.5 422.7,599.2 422.7,597.7Z" fill="#f8a021" stroke="#231f20" stroke-width="0.9"/>
<ellipse cx="448.7" cy="588.4" rx="6.6" ry="9" fill="#a8dcf4"/>
<text x="448.7" y="593" font-size="13" fill="#222" text-anchor="middle">3</text>
<circle cx="443.5" cy="572.8" r="2.6" fill="#e8176f"/>
<circle cx="440.4" cy="581.1" r="2.6" fill="#e8176f"/>
<circle cx="458.1" cy="582.8" r="2.6" fill="#e8176f"/>
<circle cx="435.2" cy="589.9" r="2.6" fill="#e8176f"/>
<circle cx="461.2" cy="593.6" r="2.6" fill="#e8176f"/>
<circle cx="473.6" cy="593.2" r="2.6" fill="#e8176f"/>
<circle cx="441.4" cy="596.7" r="2.6" fill="#e8176f"/>
<text x="403.4" y="622.3" font-size="16.8" font-weight="bold" textLength="102.1" lengthAdjust="spacingAndGlyphs">Primed cells</text>
<text x="341.9" y="657.4" font-size="16.8" font-weight="bold" textLength="73" lengthAdjust="spacingAndGlyphs">RNA-seq</text>
<text x="128.4" y="715.6" font-size="42" font-weight="bold" textLength="28.5" lengthAdjust="spacingAndGlyphs">B</text>
<text x="259.9" y="706.3" font-size="15.8" font-weight="bold" textLength="236.1" lengthAdjust="spacingAndGlyphs">Sequence barcodes in cDNA</text>
<path d="M200.5,944.6 L200.5,749.3 L201.3,749.3 L201.3,777.8 L202,777.8 L202,779.8 L202.7,779.8 L202.7,783.2 L203.4,783.2 L203.4,787.3 L204.1,787.3 L204.1,791.8 L204.8,791.8 L204.8,798.6 L205.4,798.6 L205.4,805.5 L206.1,805.5 L206.1,810.9 L206.8,810.9 L206.8,815.7 L207.5,815.7 L207.5,820.5 L208.2,820.5 L208.2,825.3 L208.9,825.3 L208.9,830.1 L209.5,830.1 L209.5,833.4 L210.2,833.4 L210.2,836.2 L210.9,836.2 L210.9,838.6 L211.6,838.6 L211.6,839.9 L212.3,839.9 L212.3,841.3 L213,841.3 L213,842.7 L213.7,842.7 L213.7,844 L214.3,844 L214.3,845.4 L215,845.4 L215,846.8 L215.7,846.8 L215.7,848.2 L216.4,848.2 L216.4,849.3 L217.1,849.3 L217.1,850.4 L217.8,850.4 L217.8,851.5 L218.5,851.5 L218.5,852.6 L219.1,852.6 L219.1,853.7 L219.8,853.7 L219.8,854.8 L220.5,854.8 L220.5,855.8 L221.2,855.8 L221.2,856.7 L221.9,856.7 L221.9,857.7 L222.6,857.7 L222.6,858.7 L223.2,858.7 L223.2,859.6 L223.9,859.6 L223.9,860.6 L224.6,860.6 L224.6,861.6 L225.3,861.6 L225.3,862.6 L226,862.6 L226,863.7 L226.7,863.7 L226.7,864.7 L227.4,864.7 L227.4,865.3 L228,865.3 L228,865.7 L228.7,865.7 L228.7,866.1 L229.4,866.1 L229.4,866.4 L230.1,866.4 L230.1,866.8 L230.8,866.8 L230.8,867.2 L231.5,867.2 L231.5,867.6 L232.2,867.6 L232.2,867.9 L232.8,867.9 L232.8,868.2 L233.5,868.2 L233.5,868.5 L234.2,868.5 L234.2,868.7 L234.9,868.7 L234.9,869 L235.6,869 L235.6,869.2 L236.3,869.2 L236.3,869.5 L236.9,869.5 L236.9,869.7 L237.6,869.7 L237.6,870 L238.3,870 L238.3,870.3 L239,870.3 L239,870.5 L239.7,870.5 L239.7,870.8 L240.4,870.8 L240.4,871 L241.1,871 L241.1,871.3 L241.7,871.3 L241.7,871.5 L242.4,871.5 L242.4,871.8 L243.1,871.8 L243.1,872.1 L243.8,872.1 L243.8,872.3 L244.5,872.3 L244.5,872.6 L245.2,872.6 L245.2,872.8 L245.9,872.8 L245.9,873 L246.5,873 L246.5,873.2 L247.2,873.2 L247.2,873.3 L247.9,873.3 L247.9,873.4 L248.6,873.4 L248.6,873.6 L249.3,873.6 L249.3,873.7 L250,873.7 L250,873.8 L250.6,873.8 L250.6,874 L251.3,874 L251.3,874.1 L252,874.1 L252,874.2 L252.7,874.2 L252.7,874.4 L253.4,874.4 L253.4,874.5 L254.1,874.5 L254.1,874.7 L254.8,874.7 L254.8,874.8 L255.4,874.8 L255.4,874.9 L256.1,874.9 L256.1,875 L256.8,875 L256.8,875.1 L257.5,875.1 L257.5,875.2 L258.2,875.2 L258.2,875.3 L258.9,875.3 L258.9,875.5 L259.6,875.5 L259.6,876.2 L260.2,876.2 L260.2,877 L260.9,877 L260.9,877.9 L261.6,877.9 L261.6,878.7 L262.3,878.7 L262.3,879.6 L263,879.6 L263,880 L263.7,880 L263.7,880.3 L264.3,880.3 L264.3,880.7 L265,880.7 L265,881 L265.7,881 L265.7,881.4 L266.4,881.4 L266.4,881.7 L267.1,881.7 L267.1,882.1 L267.8,882.1 L267.8,882.4 L268.5,882.4 L268.5,882.9 L269.1,882.9 L269.1,883.4 L269.8,883.4 L269.8,883.8 L270.5,883.8 L270.5,884.3 L271.2,884.3 L271.2,884.7 L271.9,884.7 L271.9,885.2 L272.6,885.2 L272.6,885.6 L273.3,885.6 L273.3,886.3 L273.9,886.3 L273.9,887 L274.6,887 L274.6,887.7 L275.3,887.7 L275.3,888.4 L276,888.4 L276,889.1 L276.7,889.1 L276.7,889.8 L277.4,889.8 L277.4,890.4 L278,890.4 L278,891.1 L278.7,891.1 L278.7,891.8 L279.4,891.8 L279.4,892.5 L280.1,892.5 L280.1,893.6 L280.8,893.6 L280.8,894.6 L281.5,894.6 L281.5,895.6 L282.2,895.6 L282.2,896.7 L282.8,896.7 L282.8,897.7 L283.5,897.7 L283.5,898.7 L284.2,898.7 L284.2,899.7 L284.9,899.7 L284.9,900.8 L285.6,900.8 L285.6,901.8 L286.3,901.8 L286.3,903 L287,903 L287,904.8 L287.6,904.8 L287.6,906.7 L288.3,906.7 L288.3,908.5 L289,908.5 L289,910.6 L289.7,910.6 L289.7,912.8 L290.4,912.8 L290.4,915.1 L291.1,915.1 L291.1,917.4 L291.7,917.4 L291.7,919.5 L292.4,919.5 L292.4,921.6 L293.1,921.6 L293.1,923.6 L293.8,923.6 L293.8,925.5 L294.5,925.5 L294.5,926.5 L295.2,926.5 L295.2,927.4 L295.9,927.4 L295.9,928.3 L296.5,928.3 L296.5,929 L297.2,929 L297.2,929.5 L297.9,929.5 L297.9,929.9 L298.6,929.9 L298.6,930.4 L299.3,930.4 L299.3,930.8 L300,930.8 L300,931.3 L300.7,931.3 L300.7,931.7 L301.3,931.7 L301.3,932.2 L302,932.2 L302,932.5 L302.7,932.5 L302.7,932.8 L303.4,932.8 L303.4,933 L304.1,933 L304.1,933.3 L304.8,933.3 L304.8,933.6 L305.4,933.6 L305.4,933.9 L306.1,933.9 L306.1,934.1 L306.8,934.1 L306.8,934.4 L307.5,934.4 L307.5,934.7 L308.2,934.7 L308.2,934.9 L308.9,934.9 L308.9,935.2 L309.6,935.2 L309.6,935.5 L310.2,935.5 L310.2,935.8 L310.9,935.8 L310.9,936 L311.6,936 L311.6,936.3 L312.3,936.3 L312.3,936.6 L313,936.6 L313,936.9 L313.7,936.9 L313.7,937.1 L314.4,937.1 L314.4,937.4 L315,937.4 L315,937.7 L315.7,937.7 L315.7,938 L316.4,938 L316.4,938.2 L317.1,938.2 L317.1,938.5 L317.8,938.5 L317.8,938.8 L318.5,938.8 L318.5,939 L319.1,939 L319.1,939 L319.8,939 L319.8,939.1 L320.5,939.1 L320.5,939.1 L321.2,939.1 L321.2,939.2 L321.9,939.2 L321.9,939.2 L322.6,939.2 L322.6,939.3 L323.3,939.3 L323.3,939.3 L323.9,939.3 L323.9,939.4 L324.6,939.4 L324.6,939.4 L325.3,939.4 L325.3,939.5 L326,939.5 L326,939.5 L326.7,939.5 L326.7,939.6 L327.4,939.6 L327.4,939.6 L328.1,939.6 L328.1,939.7 L328.7,939.7 L328.7,939.7 L329.4,939.7 L329.4,939.8 L330.1,939.8 L330.1,939.8 L330.8,939.8 L330.8,939.9 L331.5,939.9 L331.5,939.9 L332.2,939.9 L332.2,939.9 L332.8,939.9 L332.8,940 L333.5,940 L333.5,940 L334.2,940 L334.2,940 L334.9,940 L334.9,940.1 L335.6,940.1 L335.6,940.1 L336.3,940.1 L336.3,940.1 L337,940.1 L337,940.2 L337.6,940.2 L337.6,940.2 L338.3,940.2 L338.3,940.2 L339,940.2 L339,940.3 L339.7,940.3 L339.7,940.3 L340.4,940.3 L340.4,940.3 L341.1,940.3 L341.1,940.4 L341.8,940.4 L341.8,940.4 L342.4,940.4 L342.4,940.4 L343.1,940.4 L343.1,940.5 L343.8,940.5 L343.8,940.5 L344.5,940.5 L344.5,940.5 L345.2,940.5 L345.2,940.6 L345.9,940.6 L345.9,940.6 L346.5,940.6 L346.5,940.7 L347.2,940.7 L347.2,940.7 L347.9,940.7 L347.9,940.7 L348.6,940.7 L348.6,940.8 L349.3,940.8 L349.3,940.8 L350,940.8 L350,940.8 L350.7,940.8 L350.7,940.9 L351.3,940.9 L351.3,940.9 L352,940.9 L352,940.9 L352.7,940.9 L352.7,941 L353.4,941 L353.4,941 L354.1,941 L354.1,941 L354.8,941 L354.8,941.1 L355.5,941.1 L355.5,941.1 L356.1,941.1 L356.1,941.1 L356.8,941.1 L356.8,941.2 L357.5,941.2 L357.5,941.2 L358.2,941.2 L358.2,941.2 L358.9,941.2 L358.9,941.3 L359.6,941.3 L359.6,941.3 L360.2,941.3 L360.2,941.3 L360.9,941.3 L360.9,941.4 L361.6,941.4 L361.6,941.4 L362.3,941.4 L362.3,941.4 L363,941.4 L363,941.5 L363.7,941.5 L363.7,941.5 L364.4,941.5 L364.4,941.6 L365,941.6 L365,941.7 L365.7,941.7 L365.7,941.8 L366.4,941.8 L366.4,941.8 L367.1,941.8 L367.1,941.9 L367.8,941.9 L367.8,942 L368.5,942 L368.5,942.1 L369.2,942.1 L369.2,942.2 L369.8,942.2 L369.8,942.3 L370.5,942.3 L370.5,942.4 L371.2,942.4 L371.2,942.5 L371.9,942.5 L371.9,942.6 L372.6,942.6 L372.6,942.7 L373.3,942.7 L373.3,942.8 L373.9,942.8 L373.9,942.8 L374.6,942.8 L374.6,943 L375.3,943 L375.3,943.1 L376,943.1 L376,943.2 L376.7,943.2 L376.7,943.3 L377.4,943.3 L377.4,943.4 L378.1,943.4 L378.1,943.6 L378.7,943.6 L378.7,943.7 L379.4,943.7 L379.4,943.8 L380.1,943.8 L380.1,943.9 L380.8,943.9 L380.8,944 L381.5,944 L381.5,944.1 L382.2,944.1 L382.2,944.1 L382.9,944.1 L382.9,944.1 L383.5,944.1 L383.5,944.2 L384.2,944.2 L384.2,944.2 L384.9,944.2 L384.9,944.2 L385.6,944.2 L385.6,944.2 L386.3,944.2 L386.3,944.3 L387,944.3 L387,944.3 L387.6,944.3 L387.6,944.3 L388.3,944.3 L388.3,944.3 L389,944.3 L389,944.4 L389.7,944.4 L389.7,944.4 L390.4,944.4 L390.4,944.4 L391.1,944.4 L391.1,944.4 L391.8,944.4 L391.8,944.5 L392.4,944.5 L392.4,944.5 L393.1,944.5 L393.1,944.5 L393.8,944.5 L393.8,944.5 L394.5,944.5 L394.5,944.6 L395.2,944.6 L395.2,944.6Z" fill="#c9c9c9"/>
<path d="M190.6,739.5 L190.6,954.3 L405.5,954.3" fill="none" stroke="#555555" stroke-width="1.1"/>
<line x1="188" y1="944.6" x2="190.6" y2="944.6" stroke="#555555" stroke-width="1"/>
<text x="173.9" y="948.5" font-size="17" textLength="9.5" lengthAdjust="spacingAndGlyphs">0</text>
<line x1="188" y1="893.2" x2="190.6" y2="893.2" stroke="#555555" stroke-width="1"/>
<text x="174" y="897.1" font-size="17" textLength="9.5" lengthAdjust="spacingAndGlyphs">5</text>
<line x1="188" y1="841.9" x2="190.6" y2="841.9" stroke="#555555" stroke-width="1"/>
<text x="164.5" y="845.8" font-size="17" textLength="18.9" lengthAdjust="spacingAndGlyphs">10</text>
<line x1="188" y1="790.6" x2="190.6" y2="790.6" stroke="#555555" stroke-width="1"/>
<text x="164.5" y="794.5" font-size="17" textLength="18.9" lengthAdjust="spacingAndGlyphs">15</text>
<line x1="199.7" y1="954.3" x2="199.7" y2="957" stroke="#555555" stroke-width="1"/>
<text x="195" y="971.7" font-size="17" textLength="9.5" lengthAdjust="spacingAndGlyphs">0</text>
<line x1="268.2" y1="954.3" x2="268.2" y2="957" stroke="#555555" stroke-width="1"/>
<text x="253.7" y="971.7" font-size="17" textLength="28.4" lengthAdjust="spacingAndGlyphs">100</text>
<line x1="336.7" y1="954.3" x2="336.7" y2="957" stroke="#555555" stroke-width="1"/>
<text x="322.4" y="971.7" font-size="17" textLength="28.4" lengthAdjust="spacingAndGlyphs">200</text>
<line x1="405.2" y1="954.3" x2="405.2" y2="957" stroke="#555555" stroke-width="1"/>
<text x="391" y="971.7" font-size="17" textLength="28.4" lengthAdjust="spacingAndGlyphs">300</text>
<text x="271" y="994" font-size="17" textLength="39.7" lengthAdjust="spacingAndGlyphs">Rank</text>
<g transform="translate(137,934) rotate(-90)">
<text x="-1.4" y="0" font-size="17.5" textLength="172.1" lengthAdjust="spacingAndGlyphs">Barcode read in cDNA</text>
</g>
<g transform="translate(154.7,880.4) rotate(-90)">
<text x="-1.1" y="0" font-size="17.5" textLength="69.1" lengthAdjust="spacingAndGlyphs">(x 1,000)</text>
</g>
<path d="M237.3,771 C238,769.6 241.5,767.5 243.2,765.5 C244.9,763.6 246.3,761.7 247.3,759.4 C248.3,757 248.3,753.3 249.3,751.2 C250.3,749.1 251.7,747.5 253.2,746.8 C254.7,746.1 256.1,746.1 258.1,747.3 C260,748.5 262.3,751.6 264.7,754 C267,756.4 269.6,759.4 272.1,761.5 C274.5,763.7 277.4,765.6 279.5,767 C281.6,768.3 283.6,768.6 284.7,769.5 C285.8,770.5 286.4,771.6 286.2,772.6 C286.1,773.5 285.9,774.7 283.9,775 C281.9,775.4 277.5,774.7 274.4,774.5 C271.2,774.3 268.2,773.9 265.1,773.7 C262,773.5 259.2,773.4 255.8,773.4 C252.5,773.3 247.9,773.4 245.1,773.4 C242.3,773.5 240.3,773.9 239,773.4 C237.6,773 236.6,772.3 237.3,771Z" fill="#e3e3e3" stroke="#231f20" stroke-width="0.9"/>
<ellipse cx="254.9" cy="761.1" rx="5.4" ry="7.4" fill="#a8dcf4"/>
<path d="M212.2,772.2 C212.9,770.8 216.4,768.7 218.1,766.7 C219.8,764.8 221.2,762.9 222.2,760.6 C223.2,758.2 223.2,754.5 224.2,752.4 C225.2,750.3 226.6,748.7 228.1,748 C229.6,747.3 231,747.3 233,748.5 C234.9,749.7 237.2,752.8 239.6,755.2 C241.9,757.6 244.5,760.6 247,762.7 C249.4,764.9 252.3,766.8 254.4,768.2 C256.5,769.5 258.5,769.8 259.6,770.7 C260.7,771.7 261.3,772.8 261.1,773.8 C261,774.7 260.8,775.9 258.8,776.2 C256.8,776.6 252.4,775.9 249.3,775.7 C246.1,775.5 243.1,775.1 240,774.9 C236.9,774.7 234.1,774.6 230.7,774.6 C227.4,774.5 222.8,774.6 220,774.6 C217.2,774.7 215.2,775.1 213.9,774.6 C212.5,774.2 211.5,773.5 212.2,772.2Z" fill="#e3e3e3" stroke="#231f20" stroke-width="0.9"/>
<ellipse cx="232.9" cy="763.5" rx="5.4" ry="7.4" fill="#a8dcf4"/>
<text x="226.7" y="797" font-size="17" fill="#cd0000" textLength="93.4" lengthAdjust="spacingAndGlyphs">0% of reads</text>
<text x="227.2" y="813.7" font-size="17" fill="#cd0000" textLength="169.9" lengthAdjust="spacingAndGlyphs">from probed barcodes</text>
<path d="M454,944.4 L454,749 L455.4,749 L455.4,775 L458,775 L458,789 L460,789 L460,797.6 L461.6,797.6 L461.6,802 L464,802 L464,803.6 L466,803.6 L466,805 L467.6,805 L467.6,808 L469.2,808 L469.2,816 L470.6,816 L470.6,821 L472,821 L472,824 L473.6,824 L473.6,827 L475,827 L475,832 L476,832 L476,842 L479,842 L479,843 L481,843 L481,850 L482.4,850 L482.4,851 L484,851 L484,852 L485.6,852 L485.6,853 L487,853 L487,854 L488.6,854 L488.6,856.4 L490,856.4 L490,861 L491.6,861 L491.6,866 L493,866 L493,867 L497.4,867 L497.4,867.6 L501,867.6 L501,869 L502.4,869 L502.4,872 L504,872 L504,875 L505.4,875 L505.4,876 L508.4,876 L508.4,878 L511,878 L511,878 L513,878 L513,879 L516,879 L516,885 L522,885 L522,887 L524,887 L524,890 L530,890 L530,893 L534,893 L534,895 L538.6,895 L538.6,896 L541.6,896 L541.6,898 L546,898 L546,899.6 L549,899.6 L549,900 L555.4,900 L555.4,902 L561,902 L561,905 L566,905 L566,907 L570,907 L570,908 L576,908 L576,910 L579.6,910 L579.6,913 L582,913 L582,918 L583.6,918 L583.6,922 L586,922 L586,928 L588,928 L588,933 L590,933 L590,933 L592,933 L592,935 L596,935 L596,937 L602,937 L602,939 L606,939 L606,941 L610,941 L610,941.6 L620,941.6 L620,941.6 L630,941.6 L630,942.4 L640,942.4 L640,943.6 L649,943.6 L649,944.4 L649,944.4Z" fill="#c9c9c9"/>
<rect x="454" y="749" width="1.4" height="195.4" fill="#cd0000"/>
<rect x="455.4" y="775" width="2.6" height="169.4" fill="#cd0000"/>
<rect x="460" y="797.6" width="1.6" height="146.8" fill="#cd0000"/>
<rect x="461.6" y="802" width="4.4" height="142.4" fill="#cd0000"/>
<rect x="467.6" y="808" width="1.6" height="136.4" fill="#cd0000"/>
<rect x="469.2" y="816" width="1.4" height="128.4" fill="#cd0000"/>
<rect x="472" y="824" width="1.6" height="120.4" fill="#cd0000"/>
<rect x="473.6" y="827" width="1.4" height="117.4" fill="#cd0000"/>
<rect x="481" y="850" width="1.4" height="94.4" fill="#cd0000"/>
<rect x="484" y="852" width="1.6" height="92.4" fill="#cd0000"/>
<rect x="488.6" y="856.4" width="1.4" height="88" fill="#cd0000"/>
<rect x="493" y="867" width="1.6" height="77.4" fill="#cd0000"/>
<rect x="497.4" y="867.6" width="1.6" height="76.8" fill="#cd0000"/>
<rect x="501" y="869" width="1.4" height="75.4" fill="#cd0000"/>
<rect x="502.4" y="872" width="1.6" height="72.4" fill="#cd0000"/>
<rect x="505.4" y="876" width="1.6" height="68.4" fill="#cd0000"/>
<rect x="507" y="876" width="1.4" height="68.4" fill="#cd0000"/>
<rect x="511" y="878" width="2" height="66.4" fill="#cd0000"/>
<rect x="538.6" y="896" width="1.4" height="48.4" fill="#cd0000"/>
<rect x="541.6" y="898" width="1.6" height="46.4" fill="#cd0000"/>
<rect x="549" y="900" width="1.6" height="44.4" fill="#cd0000"/>
<rect x="555.4" y="902" width="1.6" height="42.4" fill="#cd0000"/>
<rect x="561" y="905" width="1.6" height="39.4" fill="#cd0000"/>
<rect x="566" y="907" width="1.6" height="37.4" fill="#cd0000"/>
<rect x="568.6" y="907" width="2" height="37.4" fill="#cd0000"/>
<rect x="570.6" y="908" width="1.4" height="36.4" fill="#cd0000"/>
<rect x="579.6" y="913" width="1.8" height="31.4" fill="#cd0000"/>
<rect x="583.6" y="922" width="2" height="22.4" fill="#cd0000"/>
<rect x="590" y="933" width="2" height="11.4" fill="#cd0000"/>
<rect x="619" y="941" width="1.6" height="3.4" fill="#cd0000"/>
<path d="M444.4,739 L444.4,954.3 L659,954.3" fill="none" stroke="#555555" stroke-width="1.1"/>
<line x1="441.8" y1="944.4" x2="444.4" y2="944.4" stroke="#555555" stroke-width="1"/>
<text x="427.6" y="948.3" font-size="17" textLength="9.5" lengthAdjust="spacingAndGlyphs">0</text>
<line x1="441.8" y1="869.7" x2="444.4" y2="869.7" stroke="#555555" stroke-width="1"/>
<text x="418.2" y="873.6" font-size="17" textLength="18.9" lengthAdjust="spacingAndGlyphs">10</text>
<line x1="441.8" y1="795" x2="444.4" y2="795" stroke="#555555" stroke-width="1"/>
<text x="418.2" y="798.9" font-size="17" textLength="18.9" lengthAdjust="spacingAndGlyphs">20</text>
<line x1="453" y1="954.3" x2="453" y2="957" stroke="#555555" stroke-width="1"/>
<text x="448.3" y="971.7" font-size="17" textLength="9.5" lengthAdjust="spacingAndGlyphs">0</text>
<line x1="528.5" y1="954.3" x2="528.5" y2="957" stroke="#555555" stroke-width="1"/>
<text x="519" y="971.7" font-size="17" textLength="18.9" lengthAdjust="spacingAndGlyphs">50</text>
<line x1="604" y1="954.3" x2="604" y2="957" stroke="#555555" stroke-width="1"/>
<text x="589.5" y="971.7" font-size="17" textLength="28.4" lengthAdjust="spacingAndGlyphs">100</text>
<text x="524.6" y="994" font-size="17" textLength="39.7" lengthAdjust="spacingAndGlyphs">Rank</text>
<path d="M477.6,767.3 C478,765.9 481.3,765.8 482.5,764.3 C483.7,762.8 484.3,760.2 485,758.2 C485.6,756.1 485.5,753.6 486.4,752 C487.2,750.3 488.6,749 489.9,748.3 C491.2,747.7 492.4,747.5 494,748 C495.6,748.5 497.2,749.7 499.6,751.5 C501.9,753.3 505.2,756.5 508,758.9 C510.8,761.3 513.7,764 516.5,765.7 C519.2,767.4 522.7,768 524.6,769.2 C526.4,770.3 527.7,771.7 527.7,772.6 C527.8,773.6 527.3,774.7 525,775.1 C522.7,775.5 517.6,775.3 514,775.2 C510.4,775.1 506.5,774.7 503.4,774.5 C500.3,774.4 498.4,774.2 495.3,774.3 C492.3,774.4 487.5,775.6 485,775.3 C482.4,775 481.4,773.8 480.1,772.5 C478.9,771.2 477.2,768.6 477.6,767.3Z" fill="#f8a021" stroke="#231f20" stroke-width="0.9"/>
<ellipse cx="496" cy="763.5" rx="5.3" ry="7.3" fill="#a8dcf4"/>
<circle cx="492" cy="754.4" r="2.5" fill="#e8176f"/>
<circle cx="500.4" cy="759.4" r="2.5" fill="#e8176f"/>
<circle cx="490" cy="763" r="2.5" fill="#e8176f"/>
<circle cx="484.4" cy="770" r="2.5" fill="#e8176f"/>
<circle cx="503.2" cy="769.4" r="2.5" fill="#e8176f"/>
<circle cx="512" cy="768" r="2.5" fill="#e8176f"/>
<text x="482" y="796" font-size="17" fill="#cd0000" textLength="102.8" lengthAdjust="spacingAndGlyphs">48% of reads</text>
<text x="482.2" y="813.6" font-size="17" fill="#cd0000" textLength="170.1" lengthAdjust="spacingAndGlyphs">from probed barcodes</text>
<rect x="550" y="731.2" width="10.5" height="10" fill="#cd0000"/>
<text x="562.7" y="742.3" font-size="17" textLength="250.8" lengthAdjust="spacingAndGlyphs">Barcodes found in resistant cells</text>
<rect x="549" y="756.4" width="10" height="10" fill="#c9c9c9"/>
<text x="562" y="767.3" font-size="17" textLength="119.8" lengthAdjust="spacingAndGlyphs">Other barcodes</text>
<text x="127.3" y="1038.8" font-size="42" font-weight="bold" textLength="29.4" lengthAdjust="spacingAndGlyphs">C</text>
<text x="247.9" y="1035" font-size="16.1" font-weight="bold" textLength="260.7" lengthAdjust="spacingAndGlyphs">Differential expression analysis</text>
<path d="M366.8,1105 C366.5,1106.1 364.9,1113 364.3,1115.6 C363.7,1118.1 361.7,1126.8 360.9,1130.6 C360,1134.4 356.9,1147.3 356.1,1153.3 C355.3,1159.4 353.3,1183.9 352.5,1191.4 C351.7,1199 349.7,1220.9 348.2,1228.5 C346.7,1236.1 339.9,1259.7 337.7,1267.3 C335.6,1274.9 328.4,1298.7 326.8,1304.3 C325.1,1310 321.3,1320.7 321.5,1323.7 C321.7,1326.7 326.5,1332.6 328.7,1334.3 C330.8,1336 339.6,1339.5 343,1340.5 C346.3,1341.5 359.6,1343.5 362.1,1344 C364.5,1344.6 366.7,1345.6 367.3,1345.8 C367.9,1346 367.5,1346 368.5,1345.8 C369.5,1345.6 375,1344.6 377.3,1344 C379.6,1343.5 389,1341.5 391.6,1340.5 C394.3,1339.5 401.9,1336 403.6,1334.3 C405.2,1332.6 408.8,1326.7 408.3,1323.7 C407.8,1320.7 400.5,1310 398.8,1304.3 C397.1,1298.7 392.9,1274.9 391.6,1267.3 C390.3,1259.7 386.9,1236.1 385.7,1228.5 C384.5,1220.9 380.8,1199 379.7,1191.4 C378.6,1183.9 375.8,1159.4 374.9,1153.3 C374.1,1147.3 371.7,1134.4 371.1,1130.6 C370.6,1126.8 369.8,1118.1 369.4,1115.6 C369.1,1113 368,1106.1 367.8,1105 C367.5,1103.9 367.2,1103.9 366.8,1105Z" fill="#e0e0e0"/>
<path d="M342.1 1268.2h0M396.7 1337h0M407.4 1333.3h0M355.9 1200.9h0M366.2 1128.4h0M329.2 1303.3h0M378.9 1209.4h0M389.1 1270.8h0M326.4 1288.3h0M364.4 1096.1h0M403.2 1312.2h0M363.6 1124.5h0M342.4 1201.9h0M313.9 1335.9h0M372.8 1136.4h0M402.8 1308h0M410.6 1317.4h0M399.5 1278.8h0M367.7 1101.9h0M378.6 1197.1h0M340.1 1256.8h0M351.6 1175.5h0M388.9 1249.2h0M392.9 1297.3h0M391.9 1351.9h0M377 1191.4h0M321.6 1257.9h0M402.4 1329.3h0M381.6 1136.1h0M336.8 1210.2h0M397.1 1285.3h0M322.9 1266.2h0M391.9 1292.1h0M334.6 1284.2h0M393.2 1295.8h0M323.1 1331.2h0M377.9 1156.9h0M372.1 1161.4h0M323.9 1314.5h0M322.9 1316.9h0M369 1136.2h0M401.6 1283.1h0M333.4 1261.3h0M353.8 1220.1h0M389.9 1236.6h0M374.8 1161.8h0M404.9 1324.1h0M351.6 1193.1h0M395.3 1234.4h0M369.5 1134.4h0M404.6 1332.6h0M328.8 1313.5h0M339.2 1247.5h0M380.9 1216.6h0M357.1 1162.6h0M394.7 1189h0M410.4 1324.7h0M379.6 1137.7h0M326.9 1326.7h0M410.2 1329.2h0M339.2 1233.5h0M379.5 1213.9h0M391.9 1338.8h0M379.8 1222.1h0M333 1286.2h0M368.2 1107h0M328.1 1250.3h0M384.3 1244.9h0M400 1332h0M391.9 1277.5h0M412.8 1309.7h0M389.9 1271.3h0M384.2 1227.4h0M401.5 1328.5h0M337.4 1272.5h0M346.3 1251.6h0M319.9 1315h0M393.8 1293.5h0M322.1 1325.5h0M346.9 1225.2h0M353.6 1220.7h0M331.1 1333.2h0M385.5 1222.9h0M375.4 1185.4h0M360.4 1157.3h0M355.8 1175.3h0M351.5 1228.2h0M395.7 1234.9h0M396.1 1296.5h0M391.7 1291.7h0M383.8 1235h0M359.2 1131.3h0M367.2 1115.4h0M385.6 1257.8h0M415.9 1325.4h0M394.2 1217.9h0M357 1164.1h0M338.9 1278.5h0M387.3 1228h0M355.9 1180.8h0M407.2 1308.9h0M382.3 1234.5h0M387.6 1264.4h0M374.1 1157h0M386.3 1253.1h0M352.7 1220.6h0M392.4 1279.6h0M371.7 1124.6h0M388.6 1197.9h0M320.9 1325h0M388.8 1232.4h0M375.3 1181.5h0M322.4 1323.2h0M378.5 1194.6h0M329.8 1290.7h0M381.2 1221.7h0M394.4 1293h0M352.2 1220.7h0M374.4 1138.5h0M382.5 1220.4h0M416.1 1313.6h0M327.7 1336h0M331.6 1304h0M384.9 1255.1h0M338.4 1278.3h0M342.1 1259h0M401.6 1338.8h0M372.9 1117h0M370.2 1151.2h0M339 1263.8h0M391.5 1282h0M366.2 1105.7h0M387.6 1250.6h0M377.4 1193.7h0M375.9 1147.7h0M394.9 1342.8h0M393.1 1283h0M330.2 1291.8h0M356.8 1179.3h0M372.2 1159.6h0M327.6 1314.1h0M349 1217.8h0M371.6 1093.3h0M384.1 1343.1h0M337 1285.1h0M393.3 1295.8h0M336 1284.6h0M373.9 1174.8h0M400.4 1335.7h0M398 1309.5h0M390 1268.5h0M344.2 1259.2h0M385.2 1232.9h0M404.7 1330.2h0M316.6 1313.1h0M315 1299.8h0M350.9 1224.9h0M363.2 1137.4h0M369.6 1136.3h0M316.5 1319.9h0M351.5 1341h0M355.1 1195.8h0M388.1 1243.2h0M346.3 1223.9h0M382 1231.7h0M329 1327.3h0M350.6 1186.1h0M353.2 1220.4h0M357 1112.1h0M359.2 1154.2h0M351.8 1138.8h0M380.5 1219.2h0M319.3 1309.1h0M324.6 1320.6h0M324.5 1324.4h0M386.3 1258.6h0M359 1159.5h0M388.2 1272.3h0M346.5 1190.7h0M375.8 1181h0M407.5 1324.7h0M387.8 1189.4h0M395.8 1287.3h0M388.7 1248.1h0M352.9 1203.8h0M394.3 1287.6h0M390.8 1244.9h0M367.7 1106.2h0M353.1 1219.9h0M357.6 1156.7h0M392 1293.7h0M356.9 1164.9h0M373.9 1145.5h0M366.8 1122.3h0M358.6 1157h0M348.7 1235.9h0M404.1 1296.5h0M404.1 1324h0M364.4 1344.9h0M406 1336.2h0M320.6 1334.3h0M318.6 1322.4h0M374.9 1187.1h0M388.5 1269.2h0M390.8 1277.2h0M380.2 1344.1h0M342.9 1261.2h0M368.7 1138.2h0M402.4 1303.9h0M336.1 1275.8h0M410.7 1323.8h0M376.9 1189.5h0M369 1119.3h0M328.8 1290.3h0M394.7 1261.7h0M326.5 1308.9h0M326.2 1318.8h0M399.5 1310.9h0M379.8 1214.2h0M405.1 1325.6h0M375.9 1160.1h0M391.8 1250.2h0M356.2 1170.2h0M345.5 1245.4h0M339.2 1241.8h0M378.8 1185.8h0M322.1 1326.9h0M347 1241.9h0M329.2 1306.6h0M388 1341.9h0M321.5 1326.8h0M399.5 1297.2h0M402 1320.1h0M384.5 1241.3h0M331.2 1293.1h0M391.3 1248.1h0M396.9 1230.2h0M352 1228.8h0M363.4 1134.8h0M388.9 1240.2h0M392.1 1279.7h0M349.2 1179.3h0M332.5 1336h0M388.8 1185.4h0M374.3 1180.6h0M336.6 1260h0M323.2 1309h0M326.2 1302.1h0M378.2 1207.4h0M384.4 1230h0M343.9 1230.4h0M369.9 1101.2h0M354 1218.9h0M338.4 1257.6h0M396.4 1296.6h0M363 1136.5h0M390.8 1266.6h0M349.4 1342.7h0M390.8 1337.9h0M353 1191.5h0M356 1174.1h0M319.7 1305h0M350.9 1181.4h0M390.7 1273.4h0M392.9 1337.3h0M347.6 1245.4h0M403.4 1310.7h0M401.3 1327.4h0M358.9 1162.7h0M354.2 1161h0M376.6 1164.6h0M396.9 1271.1h0M384.4 1226.2h0M403.8 1313.6h0M381.8 1186.1h0M394.4 1204.5h0M334.6 1265.9h0M335.4 1254.1h0M369.6 1142.2h0M348.1 1202.1h0M336.5 1261h0M365.3 1107.3h0M387.8 1230.2h0M328.6 1330h0M381.8 1227h0M388.8 1256h0M326.9 1312.1h0M360.3 1145.6h0M401.1 1215.7h0M353.2 1204.6h0M391.4 1285.4h0M367 1114.3h0M406 1322.1h0M374 1178.8h0M394.1 1292.5h0M359.1 1134.5h0M327.2 1337.7h0M403.9 1325.1h0M381.3 1226.4h0M384.1 1164.8h0M324 1293.8h0M323.5 1325.9h0M348.4 1234.2h0M330.7 1294.5h0M401.4 1313.8h0M369.9 1132.2h0M413.5 1322.5h0M381.8 1227.8h0M327.9 1326.6h0M364.3 1096.5h0M325 1315h0M368.8 1113h0M330.3 1304.6h0M376.3 1192.9h0M330.6 1299.2h0M354.1 1140.6h0M350.5 1222.8h0M394.7 1303.9h0M388.5 1256.1h0M317.6 1320.1h0M393.7 1266.5h0M354.1 1217.3h0M402.1 1304h0M376.5 1169.4h0M355.6 1200.5h0M390.8 1341.2h0M389.8 1280.4h0M328.2 1314.5h0M343.5 1252.1h0M371.4 1147.9h0M328.9 1338h0M357.4 1185.9h0M383.2 1237.4h0M367.2 1121.3h0M346.5 1175.3h0M352.8 1216.6h0M392.1 1271.2h0M337.4 1282.2h0M404 1319.8h0M325.4 1328.4h0M382.7 1204.2h0M376.3 1191.7h0M396.2 1293.3h0M363.6 1126.9h0M388.6 1274.2h0M402.3 1336.5h0M320 1323h0M335.4 1259.3h0M355 1153.2h0M363.3 1124.9h0M346.2 1203.3h0M349.9 1234.4h0M386 1249.6h0M381.5 1223.2h0M328.4 1313.4h0M362.9 1349.2h0M352 1217.6h0M375.2 1174.4h0M337.8 1246.3h0M348.7 1237.3h0M322.4 1307.8h0M326.3 1311.2h0M327.6 1304.6h0M381.6 1183.5h0M389.5 1271.2h0M377 1178.5h0M310.1 1283.3h0M326.7 1320.7h0M319.4 1327h0M334.9 1336.8h0M373.1 1163.6h0M378.6 1198.8h0M325.9 1338.8h0M327.5 1286.4h0M348.5 1141.1h0M335 1288.5h0M391.9 1287.7h0M353.3 1205.5h0M392 1247.1h0M393.7 1301.5h0M379.2 1178h0M375.5 1133.6h0M374.3 1143.4h0M332.3 1296.1h0M350.1 1232.8h0M344.4 1256.6h0M363.9 1124.4h0M345 1250h0M393.3 1250.7h0M406.8 1322.3h0M389.5 1273.5h0M332.1 1277.2h0M405.9 1317.9h0M347.4 1245h0M364.6 1129.5h0M384.2 1340.1h0M389.7 1273.2h0M377.1 1165.3h0M337.1 1260.9h0M396.1 1339.3h0M333.2 1297.4h0M336.5 1279.4h0M380.2 1188.9h0M370.3 1109.2h0M332.8 1284.4h0M395.7 1336.6h0M336.1 1270.8h0M352.2 1216.8h0M407.3 1316.3h0M327.6 1308.2h0M403.8 1321.4h0M393.8 1300.2h0M387.7 1267.1h0M326.6 1330h0M404.5 1323.7h0M374.4 1181.6h0M371.6 1131.6h0M324.1 1309.6h0M340.8 1267.4h0M331.2 1288.6h0M381.7 1223.2h0M389.2 1172.5h0M402.4 1328.6h0M374.2 1146.6h0M381.9 1218.4h0M367.5 1117.4h0M377.5 1205.3h0M359.1 1139.3h0M337.3 1274.9h0M366.3 1345.3h0M405 1330.7h0M378 1204h0M403.5 1323.3h0M384.3 1224.4h0M326.2 1322.7h0M354.7 1154.2h0M403.7 1324.2h0M361.4 1149.9h0M395.6 1289.9h0M354.9 1166.5h0M402.7 1308.8h0M313.2 1321.4h0M359.4 1165h0M325.2 1323h0M328.2 1301.4h0M407.1 1323h0M389.3 1275.5h0M364.2 1104.3h0M376.6 1143.4h0M350.7 1228.6h0M410.5 1332.4h0M399.7 1307.8h0M388.4 1250.8h0M345.3 1340h0M393.4 1282.8h0M365.7 1092.9h0M335.4 1256h0M337.5 1273.1h0M355.3 1185.4h0M381.8 1226h0M395.6 1261.7h0M377.2 1203.2h0M336.9 1272.5h0M310.3 1331.4h0M395.2 1257.8h0M365 1116.8h0M329.1 1309.5h0M342.4 1182.4h0M346.9 1195.3h0M327.1 1302.4h0M370.6 1111.6h0M375.4 1175.4h0M390.9 1340.6h0M348.4 1231.4h0M366.5 1094.1h0M329.2 1310.8h0M359.5 1140.7h0M355.5 1195.3h0M343.6 1150.1h0M405.6 1317.3h0M360.4 1149.8h0M371.5 1345h0M353.3 1206.7h0M328.8 1309.2h0M354.9 1186.7h0M408.5 1322.1h0M407 1335.1h0M394.6 1293.9h0M330.4 1292.4h0M401.8 1292.7h0M359.1 1125.2h0M327.2 1309h0M399.8 1296.8h0M405.7 1274.7h0M399 1312.8h0M365.9 1096.2h0M357.9 1172.3h0M404.6 1320.3h0M400.8 1305.7h0M342.5 1259.7h0M389.8 1279.7h0M383.5 1245.1h0M335.9 1209h0M401.1 1248.7h0M385.1 1250.8h0M391.7 1285.5h0M325.5 1299.9h0M355.4 1170.9h0M333.3 1291h0M352.7 1215.4h0M379 1188h0M349.9 1226.5h0M330.9 1295.3h0M376.1 1139.8h0M341.4 1231.6h0M369 1138.7h0M323.7 1325.5h0M379.9 1170.4h0M358.6 1154.5h0M385.1 1255.2h0M394 1299.7h0M342 1268.1h0M328.4 1299.5h0M349.2 1236.2h0M346.3 1246.3h0M364.4 1109.8h0M385.3 1254.7h0M347.8 1215.5h0M349.7 1233h0M342.3 1236.8h0M344.1 1246.9h0M410.4 1322.6h0M323.4 1324.2h0M377.4 1165.9h0M341 1242.5h0M407.8 1265h0M390.8 1279.5h0M381 1219.4h0M366 1129.1h0M350.2 1231h0M359.2 1142h0M352.9 1212.5h0M395.3 1280.2h0M339.2 1338h0M365.9 1125.8h0M357.7 1143.5h0M339.5 1274.5h0M313.2 1325.9h0M394.5 1243.9h0M401.9 1337.6h0M338.3 1275.8h0M346.6 1132.5h0M389 1249.6h0M326.2 1326.4h0M358.2 1172.1h0M336.6 1277.4h0M373.2 1110.1h0M411.9 1329.5h0M365.3 1133.1h0M376.4 1181.9h0M398.1 1287.5h0M348.2 1205.7h0M379.2 1195.4h0M402.7 1316.8h0M386.9 1179.7h0M328.6 1311.6h0M382.9 1221.9h0M381.9 1218.7h0M402.7 1300.7h0M393.1 1292.1h0M364.4 1343.6h0M348.9 1201.2h0M376.2 1166.1h0M360.9 1139.3h0M367.5 1111.9h0M335.6 1287.8h0M387.2 1263.2h0M341.8 1224.6h0M325.4 1298.8h0M338.9 1260h0M347.3 1156.1h0M349.2 1198.7h0M363.9 1124.2h0M391.6 1286.3h0M392.9 1233h0M341.8 1250.9h0M339.6 1246.5h0M381.5 1347.7h0M376.5 1195.1h0M376.3 1188.9h0M351.5 1167.9h0M329.5 1303h0M324.1 1294.2h0M364.7 1134.5h0M402.8 1306.2h0M324.1 1324.8h0M414.9 1333h0M352.3 1186h0M336 1338.5h0M371.2 1155.7h0M328.6 1315.4h0M356.3 1183.6h0M350.2 1209.4h0M330.5 1280.8h0M372.2 1144.4h0M371.2 1159.6h0M324.8 1274h0M388.5 1267.5h0M345.9 1248.6h0M338.7 1267.9h0M354 1207.4h0M353.3 1212.3h0M357.5 1151.9h0M393.6 1281h0M310.2 1323.8h0M355.1 1150.7h0M341.7 1262h0M343.7 1211.5h0M402.8 1318.8h0M377.3 1177.6h0M329.9 1279.7h0M349.8 1154h0M323.4 1317.7h0M389.9 1280.4h0M362.8 1142.1h0M402.4 1316.4h0M324.5 1323.7h0M400.9 1294.1h0M343.4 1242.1h0M388.9 1218.7h0M362.1 1094.5h0M372.9 1166.6h0M390.1 1247.7h0M394.7 1300.4h0M405.8 1335.8h0M394.7 1284.3h0M398 1340.1h0M410 1326.2h0M324.3 1318.3h0M351.4 1160.1h0M404.4 1317.1h0M348.7 1230.8h0M322.5 1334.7h0M331 1298.1h0M404.1 1325.9h0M350.4 1236.9h0M346.9 1229h0M383.8 1170h0M396.3 1195.4h0M347.9 1341.1h0M393.4 1341.8h0M364.2 1110.7h0M354.9 1153.7h0M403.9 1308h0M346.2 1220.5h0M377.9 1209.4h0M352.5 1157.9h0M374.3 1182.1h0M335.4 1259.7h0M344.8 1256.3h0M370.4 1151.7h0M383.4 1217.3h0M350.7 1166.5h0M400.2 1304.3h0M392.3 1285.2h0M373 1154.9h0M358.2 1346.5h0M407.9 1323.3h0M344.7 1257.4h0M412.7 1328.8h0M325.5 1306h0M396.3 1288.6h0M328.7 1298.4h0M388 1273.3h0M388.6 1256.3h0M389.9 1280.8h0M338.1 1272.9h0M363.5 1135.1h0M374.1 1176.4h0M357.4 1180.1h0M326.5 1315.1h0M401.1 1294.6h0M406.9 1317h0M336.3 1285.1h0M393 1287.1h0M395.6 1302h0M357.7 1185.4h0M392 1292.1h0M382 1232.4h0M391.9 1291.7h0M341.2 1257.1h0M344.8 1157.4h0M362.9 1127.9h0M367.5 1125.7h0M372.9 1160.7h0M342 1256.4h0M327.9 1304h0M374.1 1158.5h0M322.5 1313.6h0M369.1 1116.9h0M365 1117h0M318.9 1301.8h0M397.9 1246.9h0M356.4 1188.8h0M392.3 1267.1h0M401.1 1309.5h0M331.4 1284.2h0M402.7 1320h0M354.2 1215.6h0M386.6 1198.6h0M404.7 1323h0M341.4 1242.7h0M375 1182h0M331 1333.1h0M374.6 1172.6h0M329.4 1333h0M350.7 1182.8h0M366.7 1116h0M402.5 1318.2h0M387.7 1245.8h0M386.5 1259.3h0M388.6 1175.5h0M394.7 1300.2h0M379.7 1199.3h0M371.3 1161.9h0M384.3 1350.9h0M369.3 1094.2h0M389 1264.5h0M381.1 1226.7h0M335.8 1283h0M349.6 1223.1h0M357.9 1171h0M407.8 1326.8h0M331.3 1293.1h0M327.9 1316.3h0M331.3 1285h0M328.9 1295.7h0M331.8 1299.8h0M321.4 1311.4h0M374.8 1146.8h0M393 1337.9h0M384.7 1231.5h0M350.9 1215.8h0M400.5 1334.1h0M376.3 1177.8h0M332.9 1256.4h0M379.6 1190.5h0M326 1318.1h0M330.5 1333.3h0M403.5 1327h0M370.2 1150.9h0M373.9 1133.5h0M384.1 1240.4h0M326.3 1284.3h0M381.4 1194.3h0M401.5 1301.9h0M389.3 1263h0M372.4 1128.9h0M394.4 1262h0M391.9 1283.4h0M396.2 1254.3h0M314 1287.5h0M361.4 1139.5h0M353 1211.6h0M361.7 1123.1h0M385 1210.1h0M392.9 1296.2h0M368.9 1143.8h0M373.3 1157.8h0M338.3 1273.1h0M347.6 1203.3h0M375.4 1178.3h0M405.7 1320.6h0M341.7 1239.3h0M375.4 1145.8h0M337.5 1239.4h0M399.3 1298.9h0M394.7 1220.3h0M358.9 1144.3h0M322.5 1299.6h0M347.9 1206.8h0M393.6 1283.8h0M383.1 1230h0M334.8 1291.5h0M326.4 1299.6h0M338.2 1282.2h0M324.7 1328.8h0M387.4 1263.5h0M328.3 1309.5h0M404.2 1329.3h0M411.2 1306.1h0M352.1 1228.7h0M314.3 1308.5h0M347.2 1240.5h0M329.4 1311.4h0M342.2 1260.6h0M345 1239.2h0M321.4 1316.2h0M378.3 1207.3h0M369.4 1345.9h0M339.4 1261.4h0M345.5 1250.8h0M396.7 1255.9h0M392.1 1265.4h0M373.1 1346.3h0M333.4 1336.4h0M402.4 1328.6h0M340.2 1253h0M380.8 1342.3h0M407.5 1323.8h0M383.7 1235.7h0M372.7 1168.1h0M389.4 1260.4h0M351.7 1201.9h0M334 1263h0M404.7 1315.3h0M376.7 1147.9h0M376.4 1190.7h0M391.7 1267.9h0M353.1 1222.9h0M317.8 1313.8h0M370.3 1108.8h0M336 1279.8h0M327 1327.2h0M385.7 1178.2h0M342.9 1241.6h0M352.2 1228.7h0M358.1 1158.9h0M393.8 1285.5h0M368.1 1117.9h0M331.1 1303.2h0M340.3 1263.2h0M361 1145.8h0M354.9 1187.9h0M322.5 1326.3h0M327.5 1310.7h0M399.1 1308.3h0M354.3 1197.3h0M326.2 1316.1h0M371.1 1344.7h0M352.1 1189h0M352.5 1184.8h0M402 1257.8h0M334.3 1332.8h0M348.8 1220.3h0M374.4 1167.6h0M388 1204.9h0M356.1 1348.6h0M412.9 1326.2h0M340.3 1170h0M404 1324h0M354.4 1180.4h0M391.1 1286.7h0M326 1311h0M383.6 1244.8h0M359.4 1154.1h0M403.7 1327.7h0M347.1 1234.4h0M396.1 1303.6h0M336.3 1240.7h0M392.8 1287h0M383.3 1240.7h0M400.7 1311.3h0M351.4 1218.3h0M358.4 1179.2h0M308.5 1299.3h0M342 1265.6h0M386.3 1238.7h0M403.6 1326.4h0M355.4 1141.7h0M381.5 1228.9h0M346.4 1341.4h0M336.2 1268.7h0M403.4 1255.1h0M388.5 1236.8h0M329 1312.3h0M384.8 1253.7h0M395.3 1299.2h0M344.8 1254.6h0M352.9 1219.4h0M349 1212.9h0M381.8 1219.6h0M394.2 1297.3h0M378.4 1159.4h0M389.6 1279.7h0M368.8 1142.2h0M383.5 1225.1h0M399.7 1239.1h0M406.1 1303.6h0M347.5 1241.1h0M404.5 1321.4h0M391.5 1253.3h0M342.1 1263.7h0M384.3 1192.3h0M365.2 1114.7h0M339.2 1266.8h0M404.3 1321.3h0M411.8 1320.2h0M391.1 1287.9h0M410.4 1283.2h0M396.8 1337.5h0M354.7 1210.5h0M413.8 1283.3h0M393 1296h0M344 1256h0M363.2 1095.6h0M394.6 1298.1h0M337.2 1278.6h0M324.8 1322.9h0M341.4 1262.1h0M342.8 1247.9h0M400 1290.9h0M386 1252.8h0M374 1175.9h0M329.4 1307.1h0M355.4 1192.3h0M382.2 1207.7h0M351.6 1174.2h0M385.2 1204.1h0M337.1 1257.5h0M358.1 1179.4h0M359.1 1162.8h0M358 1171.6h0M366.2 1345.6h0M376.3 1189.4h0M354.8 1142.3h0M383.5 1162h0M363.8 1127.3h0M384 1147h0M362.3 1133.5h0M332.6 1294.5h0M391.8 1258.8h0M357.5 1179.3h0M401.2 1300.8h0M325.6 1328.2h0M399.9 1294.3h0M332.7 1286h0M354.4 1149.4h0M349.4 1237.2h0M389 1218.4h0M388.4 1250.3h0M346.3 1210.7h0M328.8 1300.5h0M360.7 1148.2h0M379.8 1201.3h0M352.9 1171h0M327.3 1325.6h0M391.8 1285.6h0M395.5 1273.7h0M392.5 1294.1h0M398.2 1250.5h0M369.6 1135.1h0M377.5 1179.4h0M376.2 1125.1h0M369.5 1096.6h0M321.7 1318.6h0M328.1 1297.6h0M387.5 1267h0M356.9 1178.5h0M415.7 1322.2h0M388.4 1256.1h0M352.2 1215.3h0M348.5 1239.3h0M384.6 1250.6h0M349.1 1342.3h0M336.1 1279.3h0M391.4 1291.7h0M340.5 1272.2h0M369.9 1109.8h0M402 1318.8h0M393 1294.4h0M368.8 1137.6h0M364.7 1131.9h0M323.4 1326.1h0M372.4 1164.4h0M381.1 1198.8h0M402.1 1328.8h0M344.5 1253.7h0M336.2 1283.5h0M401.6 1331.2h0M380.9 1190h0M321.4 1323.9h0M346.5 1341.5h0M354.7 1181.8h0M324.8 1301.9h0M359.2 1132.9h0M365.2 1122.7h0M329.5 1306.7h0M392.4 1263.8h0M388.2 1264.4h0M386.3 1247.1h0M344.8 1253.9h0M396.4 1286.8h0M334.2 1288.2h0M407.4 1318.9h0M400 1312.9h0M325 1302.9h0M353.6 1204.9h0M314.6 1326.1h0M349.2 1236.7h0M325 1324.1h0M403 1320.3h0M356.8 1186.2h0M393.6 1289.4h0M378.4 1182.8h0M386.7 1264.3h0M377.8 1200.7h0M380.5 1210.6h0M323 1324.4h0M355.6 1153.1h0M392.4 1287.3h0M339 1266.6h0M365.9 1092.9h0M353.9 1191.5h0M367.8 1124.1h0M397 1291.1h0M382.8 1212.4h0M386.8 1217.7h0M317.9 1305.6h0M400.3 1309.3h0M364.6 1109.2h0M379.8 1168.5h0M345.8 1219.1h0M377.6 1138.4h0M357.4 1137.4h0M332.6 1271.4h0M380.7 1202.8h0M363.7 1118.5h0M325.5 1319.6h0M360.6 1150.1h0M325.7 1322.8h0M402.9 1327.5h0M385.4 1245.1h0M402.7 1317.2h0M372.5 1158.2h0M339.8 1227.4h0M349.9 1234.6h0M326.6 1310.7h0M315.1 1320.1h0M382.1 1218.2h0M369.9 1100.2h0M364.6 1093.3h0M395 1295.7h0M358.9 1159.6h0M335.5 1252.8h0M388.7 1256.9h0M353.8 1200.2h0M327 1306.4h0M386 1243.1h0M377.9 1204.1h0M342.7 1261.5h0M378.5 1212.6h0M371.4 1138.3h0M393.1 1341h0M375.8 1188.4h0M361.8 1138.5h0M357.2 1179.9h0M380.3 1213.2h0M394.4 1290.7h0M377.3 1165.4h0M395 1275.4h0M364.4 1094.4h0M353.4 1209.2h0M352.3 1222.7h0M386.2 1228.7h0M349.8 1237.5h0M353.8 1212.6h0M324.3 1326.2h0M401.9 1306.6h0M400.8 1285.9h0M340.7 1204.7h0M397.9 1268.1h0M339.8 1271.2h0M386.5 1255.7h0M380 1200.8h0M391.1 1229.2h0M346.7 1191.8h0M333.8 1289.5h0M384.5 1224.1h0M395.3 1301.8h0M326 1321.1h0M324.6 1319.3h0M355.7 1118.1h0M356.3 1194h0M393.8 1267.1h0M392.4 1251h0M391.2 1271.8h0M344.8 1174.3h0M366.8 1102.2h0M337.2 1280.2h0M345.3 1341.1h0M390.2 1199.3h0M320.7 1323.4h0M383.5 1222.9h0M360.5 1142.6h0M341.5 1231.3h0M353 1217.7h0M387.6 1270.1h0M391.9 1274.5h0M322.7 1309h0M366.3 1096.7h0M349.3 1218.7h0M380.3 1181.1h0M386.7 1241h0M387.6 1257.2h0M345.3 1248.9h0M322.6 1289.7h0M333.8 1266.5h0M328.5 1289.9h0M326.2 1290.8h0M320.7 1322.6h0M403.1 1336h0M345.7 1178.5h0M388.6 1198.6h0M373.2 1162h0M407.9 1304.9h0M380 1194.3h0M361 1343.7h0M337.6 1272.1h0M390.8 1278.8h0M397.3 1309.2h0M372.6 1152.9h0M380.2 1213.6h0M389 1256.7h0M398.2 1298h0M373.2 1166.4h0M331.9 1296.7h0M331.7 1278.1h0M374.5 1181.3h0M343.3 1238.7h0M342.3 1262.6h0M356.5 1181.8h0M309.2 1326.5h0M409 1279.4h0M387.3 1342.5h0M331.5 1286.5h0M353.6 1218.3h0M348 1217.2h0M328.1 1315.1h0M351.6 1170.4h0M346.6 1244.9h0M387.5 1246.5h0M354.9 1208.8h0M357.1 1150.4h0M412.3 1321.7h0M347.4 1210.6h0M336.3 1269.7h0M405.7 1311.3h0M337.1 1262.7h0M352.4 1171.5h0M387.8 1206.8h0M330.2 1330.6h0M381.4 1205.7h0M322.3 1324h0M364.9 1108.9h0M323.1 1311.7h0M399.3 1247.8h0M395.5 1273.9h0M351.2 1175.4h0M358.9 1165.9h0M341.2 1262.5h0M391.6 1340.2h0M387.4 1266.5h0M381.7 1207h0M369.3 1135.7h0M392.3 1293.4h0M350.7 1214.7h0M373.3 1165.9h0M352.2 1340.3h0M386.6 1225.9h0M364.5 1094.9h0M414.4 1321.7h0M402.7 1267.4h0M316.5 1336.4h0M395.3 1109.6h0M335.6 1286.3h0M342.7 1203.9h0M392.8 1285.5h0M391 1256.3h0M368 1112.1h0M321.1 1316h0M335.8 1212.5h0M356.3 1131.4h0M353.3 1200.2h0M329.1 1303.3h0M379.6 1165.8h0M326.6 1306.5h0M331.2 1239.2h0M333.1 1297.1h0M389.7 1268.6h0M358.4 1168.1h0M324.6 1323.8h0M324.7 1319.8h0M378.1 1192.6h0M336.4 1266.2h0M332.8 1297.5h0M336.3 1270.8h0M360.4 1351.6h0M355.2 1186h0M382 1190.3h0M384.2 1221.1h0M359.3 1148.9h0M323.3 1315.5h0M380.5 1213.6h0M325.4 1333.4h0M319.1 1322.8h0M369.3 1144.4h0M353.7 1218.6h0M340 1266.9h0M360.9 1100.5h0M342.2 1267.6h0M357.5 1168.5h0M338.4 1244.7h0M384 1243.8h0M393.5 1270.8h0M328.7 1299.4h0M393.2 1291.5h0M330.5 1305.6h0M399.4 1274.2h0M338 1256.9h0M406.3 1318.8h0M382.3 1222.8h0M394.2 1298.8h0M394.1 1257.2h0M372.2 1158.4h0M332.7 1298.9h0M381.5 1222.1h0M374.8 1188.8h0M401.8 1331.6h0M336.3 1282.4h0M345.6 1251.8h0M359.8 1155h0M393.1 1287.9h0M326.3 1329.9h0M365.6 1343.7h0M334 1288.5h0M328.5 1241.3h0M358.1 1154.6h0M397.5 1292.5h0M359.7 1143.1h0M389.2 1258.8h0M383.2 1225.2h0M341.8 1261h0M395.5 1278.4h0M358.5 1350.6h0M356 1183.9h0M384.8 1213.3h0M344.4 1254.8h0M337.8 1280.8h0M326.1 1330.8h0M360.5 1144.5h0M390.5 1285.6h0M320.7 1308.6h0M393.2 1228.8h0M350.5 1161.9h0M399.7 1309.3h0M377 1200.1h0M329.1 1272.4h0M367 1094.8h0M352.7 1114.2h0M319.5 1324.4h0M370 1094.9h0M359.4 1155.6h0M391.1 1340h0M356.1 1163.9h0M345.5 1234.8h0M403.4 1322.1h0M324.4 1321.2h0M406.7 1322.3h0M351.4 1349.3h0M397.4 1282.1h0M352.6 1193.8h0M370.9 1150.9h0M322.7 1324.4h0M347 1200.9h0M356 1184.6h0M384.3 1228.9h0M362.5 1136.6h0M336 1285h0M333.6 1260.2h0M408.5 1333.7h0M384.3 1237.4h0M377.6 1197.9h0M384 1229.3h0M329.6 1299h0M325.6 1329.8h0M376.6 1181h0M343.8 1341.5h0M320.7 1310h0M327.9 1330.4h0M328.8 1313.4h0M367 1122.8h0M386.8 1266h0M318.9 1333.3h0M352.7 1222.4h0M339.7 1266.8h0M337.5 1279.5h0M390.5 1179.3h0M390.2 1284h0M357.1 1148.9h0M352.3 1226.2h0M338 1271.5h0M375.7 1165.8h0M404.9 1310.5h0M356.7 1181.4h0M390.8 1286.5h0M353.2 1224.9h0M379.5 1211.3h0M347.6 1176.3h0M379.5 1217.8h0M382.9 1151.3h0M361.3 1127.9h0M343.5 1249.2h0M337.7 1268.1h0M384.5 1181.6h0M351.4 1185.4h0M321.4 1310.3h0M351.9 1166.9h0M403.9 1305.2h0M364.4 1092.5h0M402.3 1331.1h0M389.4 1188.2h0M390 1278.9h0M381.5 1142.6h0M404.8 1315.6h0M385.5 1241.4h0M398.3 1246.7h0M355.1 1208.3h0M357.1 1176h0M352.3 1212.4h0M375.8 1167.3h0M383.4 1241.2h0M329.6 1303.4h0M396.3 1288.2h0M350.8 1202h0M375.7 1180h0M348.3 1185.8h0M379.9 1217.5h0M343.4 1171.1h0M384.6 1134.6h0M375.5 1190.9h0M317.3 1320.4h0M396.9 1274.9h0M380.6 1205.9h0M400.7 1298.8h0M361.2 1342.3h0M324.2 1323.4h0M349.8 1220.3h0M398.9 1260.9h0M375.6 1195.2h0M360.2 1159.5h0M353.1 1181.3h0M351.3 1215.5h0M396.4 1295.6h0M397.7 1295.8h0M350.6 1174.6h0M323.4 1284.5h0M375.9 1141.2h0M358.1 1180.1h0M412.5 1326.5h0M329.4 1294.2h0M382 1218.8h0M346.5 1171.7h0M389.4 1260.8h0M328.5 1303.7h0M340.4 1264.8h0M390.6 1272.9h0M356.3 1166.6h0M338.6 1276.2h0M329.2 1311.8h0M391.3 1280.3h0M395 1291.6h0M356.3 1182.9h0M323.6 1305.4h0M399.3 1334.8h0M392.3 1280.3h0M387.2 1213.1h0M332.1 1298.8h0M372.6 1154.7h0M402 1261.1h0M354.6 1132.7h0M396.7 1308h0M353.2 1191.5h0M355.2 1187.3h0M328.5 1316.1h0M374.8 1166.2h0M359.1 1156.9h0M331.2 1298.5h0M402.5 1282.1h0M352.8 1216.8h0M330.8 1333.4h0M367.1 1123.4h0M346.7 1247.6h0M353.9 1170.5h0M389.4 1228.4h0M342.1 1254.6h0M374.2 1172.9h0M357 1173.9h0M347.2 1215.6h0M392.7 1263.9h0M380.2 1204.7h0M350.7 1234.5h0M337.2 1271.4h0M392.6 1269.5h0M359.4 1164.5h0M400.7 1336.5h0M343.4 1247.8h0M398.4 1280.7h0M375.3 1110.3h0M334 1336.4h0M336.2 1285.2h0M409.2 1327.7h0M359.4 1122.9h0M382.3 1138.5h0M334.3 1293.1h0M327.7 1313.1h0M348.3 1228h0M334 1337.2h0M352.9 1198h0M324.2 1295.1h0M355.7 1165h0M350.6 1219.4h0M404.2 1321.5h0M345 1255h0M376.1 1142.8h0M340.5 1230.5h0M370 1151.6h0M399.7 1304.9h0M346.7 1243h0M339.4 1275h0M380.4 1208.3h0M350 1197.5h0M398.2 1304.5h0M329.3 1306.2h0M367.9 1098.5h0M369 1143.9h0M358.9 1163.3h0M400.5 1310.9h0M331.8 1284.7h0M349.4 1216.2h0M351 1224.5h0M324.2 1293.5h0M320.3 1319.6h0M377.7 1181.1h0M323.8 1316.9h0M380.2 1177.6h0M406 1329h0M348.8 1242.7h0M324.9 1321.3h0M321.2 1294.2h0M385.3 1240.1h0M371.6 1140.8h0M384.1 1215.1h0M352.9 1226.8h0M315.9 1304.8h0M349.1 1211.5h0M379 1195.1h0M327 1327.7h0M389.2 1251.9h0M330.9 1306.2h0M353.8 1124.5h0M361.3 1129.6h0M373 1150.3h0M329.9 1306h0M376 1176.1h0M336.9 1278.7h0M375.7 1166.9h0M388.2 1339.3h0M386.1 1216.1h0M375.2 1170.4h0M334.2 1335h0M396.1 1335.6h0M376.4 1200.7h0M353 1222.7h0M394.8 1291.3h0M390.3 1246.6h0M354.2 1216.1h0M371.1 1091.7h0M382.3 1347h0M369.4 1140.7h0M323.2 1319.6h0M331.3 1334.2h0M397.5 1298.9h0M374.9 1150.5h0M367.2 1104.2h0M380.5 1143.2h0M330.6 1334.2h0M331.8 1294.3h0M402.9 1318.5h0M384.5 1238.8h0M388.2 1274.8h0M351 1165.6h0M401 1316.1h0M383.4 1213.6h0M359.5 1347.4h0M394.3 1214.9h0M365.4 1122.4h0M414.6 1322h0M353.4 1153.8h0M341.5 1262.3h0M393.8 1255.6h0M402.4 1248.8h0M387.4 1242.2h0M377.5 1197.4h0M389.5 1264.1h0M354.4 1171.2h0M407.5 1329.4h0M365.8 1130.4h0M370.6 1137h0M339.8 1337.3h0M402.5 1274.9h0M393.5 1293.3h0M401 1332.7h0M327.2 1256.4h0M387.5 1240.8h0M322.8 1316.6h0M360.8 1153h0M311.8 1269.5h0M382.7 1189.1h0M388.9 1240.5h0M373.6 1127.3h0M382 1213.4h0M342.9 1259.1h0M339.7 1258.1h0M346.6 1225.6h0M371.4 1141.9h0M391.8 1265.9h0M389 1251.1h0M361.8 1342.3h0M339.3 1242.7h0M374.9 1164.3h0M367 1114h0M355 1196.4h0M335.1 1148.5h0M335.5 1279.8h0M387.3 1258.6h0M348.1 1185.1h0M329.4 1294.1h0M381.9 1235.9h0M395.4 1302.9h0M353.7 1158.9h0M346.5 1190.9h0M354.2 1197.7h0M401.9 1318.3h0M383.5 1341.7h0M337.7 1276.7h0M377.3 1177.2h0M401.3 1339.9h0M372.7 1171h0M353.1 1199h0M324.8 1273.9h0M391.2 1246.2h0M397.9 1302.9h0M348 1225.4h0M394 1292.8h0M369.9 1146.5h0M410.5 1328.5h0M335.1 1337.4h0M337.5 1282.1h0M383.9 1223.7h0M375.1 1151.7h0M363.5 1123.9h0M332.8 1284.3h0M347.4 1234.8h0M397.7 1337.3h0M325.4 1316.2h0M351 1230.4h0M401 1312.4h0M328.3 1307.2h0M327.4 1329h0M357.2 1118h0M348.1 1239.1h0M391.1 1284.6h0M374.6 1171.9h0M337.9 1281.2h0M408.5 1279h0M351.4 1180.8h0M407.7 1334h0M373.7 1161.7h0M370.3 1120.2h0M327 1318.7h0M325.6 1278h0M349.7 1163.1h0M347.3 1341.6h0M382.3 1183.3h0M338.7 1236.6h0M356.8 1192.4h0M331.7 1299.8h0M349.8 1142.9h0M385.8 1255.1h0M382.1 1232.9h0M366 1108.3h0M328.2 1299.6h0M336 1287.4h0M380.7 1225.8h0M381.9 1232.1h0M330 1330.9h0M338.6 1268.7h0M382.3 1202.5h0M339 1336.4h0M379.4 1208h0M330.5 1303.7h0M344.1 1261.2h0M408.8 1327.9h0M378.6 1165.8h0M334.8 1289.2h0M364.8 1114.4h0M373.5 1148.1h0M362.1 1142.3h0M399.5 1307.4h0M353.6 1190.2h0M395.7 1266.2h0M405.4 1315.4h0M373.6 1154.1h0M360.2 1132h0M343.7 1252.8h0M329 1328.9h0M396.2 1294.1h0M402.3 1337.8h0M346.5 1247.3h0M388.3 1259.3h0M339.2 1338.4h0M385.3 1250.5h0M365.4 1115.6h0M346.7 1244.5h0M376 1154.9h0M318.7 1311.5h0M409 1323h0M394.4 1274.8h0M347.4 1245.8h0M371.7 1164.3h0M373.2 1095.3h0M396 1338h0M386.4 1229.6h0M357 1188.3h0M344.8 1256.1h0M378.7 1203.8h0M371.6 1148.5h0M372.6 1137.5h0M381.9 1172.7h0M393.8 1284.1h0M350.4 1229.6h0M357.4 1173.7h0M338 1263.3h0M352.5 1191h0M393 1153.4h0M392.9 1237.9h0M395 1287.6h0M323.7 1322.2h0M326.9 1325h0M341.1 1268.7h0M363.2 1094.9h0M396.5 1276.6h0M353.3 1192.8h0M386.7 1260.9h0M380.6 1182.8h0M324.3 1317.8h0M355.9 1168h0M353.4 1162.8h0M354.2 1164.3h0M349.8 1236.9h0M369.5 1120.8h0M397.2 1289.2h0M327.7 1318.2h0M351.6 1165.9h0M385.2 1220.8h0M351.9 1216.9h0M399.8 1309.7h0M361.1 1147.1h0M393.9 1289.3h0M339.3 1228.9h0M339.4 1158.9h0M373 1174.9h0M331.1 1268.5h0M375.2 1183h0M338.6 1275.3h0M382.8 1212.5h0M386.1 1249.4h0M354.2 1214h0M368.3 1126.7h0M338.8 1151.1h0M357.8 1159.3h0M380.9 1203.1h0M360 1150h0M382.6 1215.3h0M330.5 1334.2h0M389.6 1256.3h0M354.8 1178.5h0M331.7 1296.5h0M347.4 1175.9h0M394.3 1301.9h0M386.6 1244h0M331.7 1296.9h0M387.6 1253.4h0M396.6 1292.5h0M357.1 1166.3h0M407.2 1315.5h0M387.4 1234.5h0M386.5 1254.4h0M349.4 1237.7h0M328 1290.2h0M384.4 1241.4h0M359 1124.2h0M391.1 1270.9h0M382.4 1207.6h0M401.2 1316.6h0M373.2 1167.1h0M388.7 1262.1h0M352.5 1200h0M344.6 1243.7h0M322.5 1321.3h0M388.4 1239.5h0M388.7 1254.8h0M331.5 1302.7h0M334.7 1338.8h0M330.9 1300.6h0M346 1248.9h0M396.1 1286.3h0M376.7 1171.6h0M381.8 1179.9h0M368.6 1125h0M364.6 1102.3h0M357.1 1115.9h0M391.8 1234.1h0M333.6 1283.7h0M311.3 1321.1h0M342.5 1237.3h0M404.4 1324.7h0M386.8 1203h0M383.5 1190.4h0M392.5 1255.6h0M349.5 1233.7h0M363.7 1122.6h0M338.1 1264.3h0M356.7 1175.7h0M379.2 1207.1h0M342.3 1255.7h0M379.8 1215.8h0M392.7 1297.3h0M407.4 1321.5h0M357.4 1174.5h0M334.1 1294.3h0M395.8 1338.2h0M387.2 1271.1h0M337.7 1281.9h0M376.4 1196.8h0M395.6 1295.2h0M333.3 1277h0M377.5 1176.8h0M351.5 1213.3h0M322.4 1223.8h0M380 1206.3h0M385.9 1241h0M396.4 1301.2h0M354.3 1175.4h0M372.6 1167.5h0M390 1249.3h0M356 1345.8h0M404.2 1327.4h0M382.5 1213h0M377.4 1178.9h0M331.7 1334h0M410.2 1313.7h0M386.6 1254.1h0M350.8 1222.8h0M338.5 1278.6h0M401.7 1283.5h0M358.4 1172.6h0M396.1 1288.8h0M324.7 1300.4h0M335 1292.3h0M355 1176.5h0M336.9 1263.1h0M359.8 1158.9h0M372.6 1160.5h0M395.9 1275.2h0M355.3 1170.7h0M349 1219.4h0M391.7 1252.6h0M340.8 1337.8h0M378.8 1181.6h0M349.6 1218.6h0M387.2 1262.1h0M369.7 1143.3h0M385.2 1249.5h0M424.3 1325.4h0M340.7 1252.2h0M396.7 1292.9h0M407.7 1325.1h0M369.6 1146.5h0M333.1 1294.7h0M343.5 1256.8h0M387.9 1256.7h0M384.5 1229.3h0M377.4 1170.8h0M328.3 1294.9h0M385.9 1251.7h0M389.8 1280.8h0M348.7 1159.9h0M408.9 1323.7h0M395.3 1305.4h0M359.8 1148h0M383 1230.9h0M359.8 1123.3h0M346 1174.5h0M361.9 1344.5h0M401.5 1330h0M331.1 1294.8h0M331.9 1277.4h0M372.5 1343.9h0M327.6 1314.9h0M326.3 1331.2h0M392.9 1276.4h0M395.5 1296.5h0M329 1281.9h0M381.1 1208.7h0M365 1097.9h0M374.4 1164.7h0M353.8 1350.8h0M397 1297.2h0M350.3 1194h0M376.2 1175.7h0M403.7 1324.1h0M400.9 1335.8h0M329.4 1291.9h0M359 1160h0M353.9 1141h0M338.6 1275.7h0M381.6 1172.5h0M384.2 1241.1h0M422 1327h0M374.7 1184.4h0M417.9 1331.3h0M382.4 1216.7h0M364.7 1115.3h0M332.2 1285.7h0M350.9 1224.1h0M312.2 1315.2h0M398.9 1175.2h0M402.9 1313h0M399.6 1333.5h0M388 1260.2h0M345.2 1220.4h0M374.4 1187.4h0M379.1 1213.1h0M390 1235h0M358.3 1173.5h0M351.5 1225.4h0M337.4 1338.8h0M374.1 1142.3h0M374.7 1149.1h0M333.9 1279.3h0M351.5 1189.7h0M344.4 1342.2h0M393.1 1251h0M331.6 1299.8h0M403.6 1300.7h0M406.2 1253h0M355.2 1126.8h0M351.4 1205h0M322.8 1277.2h0M330.3 1271.9h0M377.8 1184.3h0M393.7 1341.3h0M396.1 1304h0M355.9 1200.2h0M356.9 1175.3h0M396.2 1336.4h0M344 1260.8h0M415.7 1306.7h0M334.1 1279.5h0M379.9 1213.6h0M396.5 1278.6h0M333.5 1297.7h0M326.8 1303.3h0M369.1 1145h0M353.4 1199.4h0M398.5 1258.7h0M392.5 1264.4h0M406.4 1314.5h0M368.1 1141.8h0M392.9 1283h0M356.5 1173h0M378.9 1213.1h0M407.1 1322.6h0M393.8 1302.4h0M392.2 1293.8h0M375.4 1128.2h0M342.4 1254.4h0M326.6 1321.5h0M395.2 1294.4h0M326.2 1321.4h0M348.7 1202.3h0M348.7 1225.7h0M353.2 1207.9h0M332.4 1287.9h0M361.7 1143h0M319.7 1246.6h0M350.6 1226h0M339 1271.1h0M381.8 1188.5h0M348.6 1194.1h0M383.3 1186.5h0M338.2 1247.5h0M391.2 1285.9h0M352.2 1224h0M370.5 1151.7h0M332.5 1293.1h0M382.6 1235.5h0M350.6 1219.2h0M400.4 1233.7h0M402.7 1318.6h0M338.4 1272.4h0M363.8 1129.1h0M331.2 1286.2h0M349.3 1238.5h0M398.7 1309.3h0M359.6 1342.1h0M364.8 1346.4h0M370.9 1153.4h0M344.3 1205.9h0M394.9 1267.3h0M382.9 1236.5h0M385.3 1252.6h0M391.8 1251.2h0M328.8 1310h0M321 1297.4h0M401.6 1314h0M392.7 1290.4h0M395.8 1338.3h0M340 1339.4h0M383.5 1239.6h0M399.6 1315h0M385.8 1219.1h0M369.5 1148.6h0M399.1 1276.8h0M376.9 1131.4h0M372 1166.2h0M415.2 1279.7h0M332.2 1257.7h0M328.6 1300.3h0M348.1 1237.9h0M336.4 1256h0M337.2 1284.1h0M319.2 1323.8h0M377.7 1198.8h0M341.8 1261.7h0M325.7 1293.2h0M364.7 1112.1h0M376.7 1196.9h0M338.1 1279.3h0M376.1 1185.5h0M346 1153.3h0M326.4 1303.8h0M336.7 1277.9h0M375 1175.4h0M385.8 1259.2h0M400.1 1288.7h0M380.5 1226.7h0M327.3 1325.8h0M404.1 1335.5h0M342.8 1341.3h0M331.1 1330.8h0M395.9 1306.2h0M353.3 1225.7h0M394.2 1207.4h0M340.2 1192.4h0M334.8 1261.3h0M329.3 1311h0M319 1299.3h0M343.4 1228.5h0M320.9 1305.8h0M399.3 1313.1h0M346.2 1243h0M377.9 1200.3h0M373.6 1172.8h0M353.2 1198.8h0M366.4 1118.5h0M363.4 1103.2h0M371.2 1348.2h0M390 1271.8h0M334.4 1293.8h0M348.1 1221.3h0M331.6 1294.5h0M368.2 1111.9h0M396.1 1308.7h0M346.4 1240.1h0M346.4 1231.6h0M391.2 1201.7h0M362.7 1130.7h0M345.9 1202.3h0M367.7 1119.5h0M352.6 1187.2h0M326.7 1320.3h0M351.6 1232.6h0M322.9 1320.1h0M390.1 1282.9h0M385.3 1249h0M379.9 1214.8h0M386.6 1252.4h0M387.8 1156.7h0M396.3 1278.4h0M370.1 1105.9h0M383.7 1245.1h0M388.3 1218.5h0M322.7 1296.9h0M397.7 1306.9h0M381.5 1209.4h0M342 1260.8h0M352.5 1190.5h0M331.9 1336.2h0M389.6 1262.3h0M391.7 1292.3h0M377.9 1170.2h0M387.5 1243h0M328.8 1313.6h0M350.7 1188h0M340.2 1269.8h0M369.1 1119.4h0M375.4 1188.2h0M385.4 1224.6h0M358.7 1174.1h0M332 1289.1h0M407.4 1330.3h0M355.7 1145.6h0M326.3 1310.4h0M395.5 1303.2h0M353.4 1215.9h0M353.3 1173.6h0M319.3 1324.3h0M390.5 1267.1h0M385.6 1189.6h0M379.4 1205.5h0M400.5 1303.3h0M362.4 1134.7h0M389.6 1274.4h0M340.1 1259.5h0M385.1 1236h0M315 1320.8h0M384 1224.2h0M387.3 1241.4h0M385.5 1233.8h0M380.5 1195.5h0M336.3 1252.7h0M327.7 1301.5h0M349.3 1216.7h0M357.6 1180.7h0M325.6 1234.2h0M325.9 1320h0M379.8 1210.7h0M330.6 1286.4h0M308.6 1326.8h0M386.3 1236.9h0M399.8 1291.7h0M377.9 1201.2h0M390.5 1268.7h0M352.9 1219.5h0M366.3 1123.1h0M409.8 1299.3h0M380.2 1154.8h0M393.2 1265.7h0M373.6 1166.3h0M343.1 1264.5h0M314.7 1300.8h0M332.4 1298.8h0M332.9 1278.7h0M402 1320.4h0M358.1 1162.5h0M383.9 1227.9h0M391.1 1274.4h0M390.1 1272.7h0M385.9 1163.6h0M366.5 1094.3h0M330 1305.7h0M378.2 1208h0M382.5 1219.7h0M414.2 1334.8h0M376.9 1185.1h0M400.4 1304.2h0M390.2 1247.9h0M373.1 1171.6h0M366.5 1124.9h0M398.8 1314.2h0M352.5 1227.4h0M373.4 1171.9h0M369.6 1112.6h0M346 1179.4h0M381.5 1161.1h0M353.9 1163.2h0M320.5 1325.3h0M358.5 1170.4h0M331.1 1283h0M390.7 1268h0M376 1149h0M394.1 1292.6h0M364.2 1092.3h0M355.7 1153.3h0M338.1 1265.9h0M392.7 1294.6h0M338.5 1215h0M347.7 1237.4h0M356.7 1192h0M385.8 1175.5h0M393.5 1339.1h0M389.7 1254.1h0M372 1156.2h0M349 1207.1h0M381 1198.6h0M385.4 1198.1h0M378.8 1207.6h0M329.1 1328.8h0M328 1327.7h0M348.4 1229.1h0M353.5 1214.7h0M349.2 1239.8h0M356.3 1185.6h0M400.3 1333.6h0M399.2 1336.1h0M374.7 1347.6h0M389.6 1339.6h0M363.1 1139.3h0M305.2 1282.8h0M349.8 1209.3h0M360.4 1138.3h0M333.7 1286.9h0M381.7 1232.3h0M355.6 1114h0M338.3 1278.8h0M324.6 1292.9h0M371.4 1163h0M380.4 1201.3h0M387.9 1198.7h0M396.4 1335.8h0M398.7 1309.6h0M329 1332.4h0M355.1 1184.6h0M328.2 1315.1h0M356.3 1172.7h0M393.4 1198.7h0M343.4 1230.8h0M393.9 1292.7h0M366.1 1126.3h0M351.1 1225.3h0M323.2 1323.2h0M383.9 1241.6h0M326.5 1324.8h0M329.4 1310.7h0M360.6 1132.3h0M378.9 1208.6h0M350.1 1183.1h0M330.2 1300.2h0M384 1247.5h0M389.2 1224.7h0M396.9 1308.8h0M361.9 1141.6h0M363.2 1347.6h0M357.7 1178.3h0M376.5 1194.9h0M339.6 1272h0M390.3 1254.1h0M358 1147h0M323 1293.3h0M378.4 1185.9h0M373.2 1171.5h0M396 1242.5h0M337.3 1277.1h0M348.8 1236.4h0M379.5 1202.2h0M403.1 1328.5h0M329.3 1335.9h0M392.9 1294.3h0M383.5 1184.3h0M407.7 1315h0M381.6 1229.3h0M402.8 1322.2h0M336 1287.2h0M381.8 1162h0M380.1 1186.6h0M375.8 1166h0M323 1320.4h0M375.5 1183.3h0M404.1 1321.6h0M384.1 1199.3h0M330 1309.2h0M348.1 1242.2h0M396.1 1275.4h0M353.2 1195.1h0M357.1 1160.3h0M357.8 1176.7h0M375.7 1157.4h0M385.7 1259.3h0M369.7 1123.9h0M395.2 1271.8h0M394.6 1297.4h0M324.9 1323.1h0M395 1335.3h0M338.9 1276.1h0M381.6 1185h0M368.4 1109.2h0M399.3 1288.6h0M362.1 1141.7h0M351.5 1215.8h0M377.8 1200.3h0M365.1 1347.2h0M326.2 1332.5h0M359.8 1138h0M403.7 1312.6h0M405.8 1320.4h0M330.8 1291.1h0M403.6 1318.7h0M338.5 1275.2h0M343.2 1257.2h0M388.4 1228.4h0M383.1 1238.6h0M376.2 1179.6h0M376.6 1170h0M314.4 1318.6h0M398.8 1294.2h0M327.1 1295.6h0M382 1342.8h0M373.3 1149.5h0M376.3 1192.1h0M403.3 1322.9h0M338.8 1276.1h0M402.5 1319.7h0M392.4 1244.7h0M383.7 1239.5h0M337.3 1339.7h0M362 1146.4h0M341.9 1230.5h0M379.4 1182.3h0M327.7 1329h0M396.4 1298.3h0M357 1119.1h0M363.6 1104.9h0M396.5 1338h0M344.5 1341h0M339.8 1271.4h0M350.4 1227.8h0M363.8 1136.9h0M363.8 1096.1h0M397.2 1284.6h0M353 1215.9h0M358.1 1142.6h0M369.8 1126.5h0M409.8 1333.9h0M334.1 1291.4h0M353.2 1212.2h0M416.1 1321.1h0M409.5 1254.9h0M391.8 1274.1h0M384.3 1244.4h0M388 1209.9h0M396.4 1294.1h0M402.6 1246.2h0M362.9 1130.6h0M403.5 1319.4h0M377.3 1177.2h0M331 1301.8h0M383.9 1236.8h0M372.6 1101.1h0M387.3 1342.9h0M330 1289h0M357.3 1167.3h0M394.3 1264.3h0M353.3 1218.2h0M354.5 1215.5h0M358.6 1156.5h0M402.1 1320.2h0M331.1 1296.4h0M380.6 1224.8h0M373.8 1167.9h0M372.9 1166.1h0M405.9 1329.4h0M382.5 1220.7h0M347 1229.4h0M348.7 1243.4h0M379.2 1196.3h0M401.8 1331.5h0M379.5 1216.4h0M404.8 1324.7h0M368.9 1093.3h0M324.7 1287.5h0M370.9 1143.8h0M386.6 1234.7h0M368.4 1102.9h0M325.2 1313.3h0M394.4 1301h0M391.1 1277.6h0M362.2 1104h0M347.3 1231h0M408.5 1331h0M395.9 1304.7h0M356.8 1170.8h0M367.1 1124.2h0M383.3 1171.1h0M369.6 1105.3h0M320 1311.4h0M332.8 1293.8h0M406.2 1321.2h0M354.1 1149.2h0M322.3 1329.1h0M398.4 1294.3h0M388.7 1257.1h0M394.2 1303.3h0M333.7 1265.8h0M398.6 1274.7h0M402.4 1308.7h0M402 1330.9h0M391.7 1291.7h0M379.4 1351.6h0M311.3 1329.8h0M373.3 1157h0M311.9 1311.3h0M372.6 1173.3h0M382.3 1212.8h0M329.7 1299.5h0M324.9 1318.5h0M396.6 1302.1h0M349.8 1217.4h0M326.8 1276.8h0M391.6 1275.7h0M406 1327.8h0M327.6 1318.4h0M385.6 1251.3h0M347.3 1218.1h0M347.6 1246.9h0M353.1 1213.8h0M333.8 1267.8h0M397.7 1276.5h0M358.1 1164.3h0M378.7 1194h0M352.3 1225.9h0M393.1 1274.8h0M406.4 1320.7h0M341.5 1265.2h0M372.1 1139.6h0M401.3 1329.9h0M345.1 1243.9h0M410.8 1316.1h0M401.5 1266.3h0M345.9 1222.1h0M354.8 1157.4h0M382.4 1232.7h0M349.3 1232.7h0M339.2 1268.7h0M353.5 1165.3h0M343.5 1260.5h0M400 1313.4h0M338 1216.3h0M376.8 1189.3h0M348.5 1234.4h0M376.7 1139.8h0M386.5 1196.4h0M330.9 1286.2h0M323.8 1328.3h0M387.7 1340.3h0M400 1314.9h0M379 1144.1h0M338.7 1270.5h0M377.5 1143.7h0M353.2 1219.6h0M345.7 1229.2h0M385 1209.4h0M336.3 1283.3h0M397.6 1310.3h0M342.1 1260.7h0M327.8 1302.2h0M371.4 1126.5h0M346.4 1210.4h0M403.2 1322.6h0M382.2 1232.1h0M350.3 1235.7h0M328.6 1331h0M347.2 1161.8h0M384 1242.7h0M378.6 1197.5h0M367.7 1123.5h0M355.2 1183.7h0M394.6 1286.1h0M387.6 1258.9h0M390 1278.9h0M325.7 1328.5h0M402.5 1315.9h0M401.3 1332.1h0M387.9 1341.1h0M388.2 1268.7h0M337.3 1278h0M329.3 1297.2h0M403.2 1330.6h0M404.5 1317.5h0M352.2 1148.6h0M373.3 1108.8h0M395.3 1292.7h0M355.9 1202.4h0M351.8 1217.4h0M329.3 1283.9h0M386.2 1342.4h0M351.4 1227.4h0M383.8 1342.5h0M327.5 1334.3h0M406.9 1305.4h0M334.9 1286.2h0M376.3 1187.6h0M341.3 1268.5h0M331.9 1295.7h0M323.9 1323h0M337 1287.1h0M405.5 1325.2h0M340.6 1267.8h0M344.3 1258.9h0M417.7 1321.5h0M352.3 1226.2h0M319 1303.3h0M384.3 1240.3h0M353.7 1213.4h0M386.7 1256.3h0M337.2 1283h0M337.3 1268.1h0M345 1254.1h0M392.6 1294.1h0M361.2 1131.8h0M350.3 1342.2h0M350.4 1206.6h0M343.8 1238.3h0M330.6 1306.4h0M340.4 1270.7h0M342.4 1259.1h0M382.7 1203.9h0M332.8 1291.6h0M337.7 1337h0M414.4 1196.5h0M408.2 1267.3h0M370 1133.7h0M389.4 1279.7h0M363.6 1344.3h0M388.6 1261.7h0M398.6 1313.2h0M353.1 1199.6h0M332.4 1290.6h0M341.5 1266.6h0M348.3 1243.2h0M396.7 1303.6h0M353.8 1191.8h0M361.1 1099.9h0M340.8 1237.3h0M378.5 1199h0M348.8 1175.3h0M369.9 1132.6h0M372.1 1090.9h0M391.2 1283.2h0M322.7 1330.1h0M389.3 1233.4h0M340.3 1258.8h0M389.8 1248.5h0M375.1 1149.9h0M352.2 1218.7h0M329.9 1302.2h0M384.6 1191.9h0M325.4 1326.6h0M326.4 1335.8h0M392 1277.5h0M396.4 1302.7h0M340.5 1242.4h0M408.9 1307h0M384.4 1246h0M337.6 1270.4h0M376.9 1192.7h0M338.6 1272.3h0M378.1 1193.5h0M401.7 1333.2h0M391.6 1262.4h0M377.5 1206.4h0M352.5 1216.6h0M394.2 1339.7h0M392.5 1341.5h0M400.4 1305.5h0M351.8 1220.7h0M393 1282.7h0M324.8 1296.8h0M402.2 1336.5h0M362.4 1139.7h0M365.3 1108.1h0M382.7 1214.5h0M342.9 1340.8h0M327.4 1295.8h0M340.5 1271.8h0M390.6 1284.4h0M327.4 1297.8h0M365.7 1113.5h0M350.6 1189.6h0M391.7 1289.2h0M325.5 1313.3h0M376.9 1185h0M400.4 1332.6h0M342.8 1220.8h0M345.7 1163.8h0M366.6 1347.4h0M388.1 1267.7h0M369.1 1114h0M383.5 1234.9h0M348.5 1243.7h0M406.2 1289.1h0M367 1117.8h0M379.4 1186.6h0M403.9 1298.5h0M356.8 1181.6h0M358 1149.3h0M357.1 1189.2h0M342.8 1252.9h0M378 1172.7h0M396.8 1335h0M394 1283.9h0M375.8 1185.9h0M353 1207.5h0M348.9 1237.2h0M333.2 1289.2h0M373.4 1158.5h0M397.9 1337.9h0M402.6 1294.3h0M396.2 1233.7h0M352.5 1174.6h0M326.8 1295.9h0M331.9 1301.7h0M338.1 1337.4h0M338 1273.8h0M366.1 1121.4h0M331.1 1293.4h0M347.2 1243.6h0M392.6 1291.9h0M335.7 1335.8h0M394.5 1299.4h0M379.4 1202.4h0M363 1136.7h0M381.6 1214.9h0M351.2 1229.7h0M334.1 1253.6h0M391.8 1262.2h0M389.2 1230.9h0M379.5 1212.8h0M388.9 1223h0M324.1 1313.7h0M366.1 1125.5h0M373.1 1167.3h0M386.7 1240.7h0M392.1 1243.2h0M372 1153h0M330.3 1293.7h0M313.2 1312.4h0M325.1 1310.5h0M313.1 1314.5h0M324.1 1302.3h0M364.6 1134.9h0M351.6 1218.3h0M362.9 1139.6h0M368.5 1344.5h0M331.9 1289.4h0M401.1 1291h0M403.3 1332.1h0M375.1 1161.4h0M362.6 1132.5h0M328.6 1307h0M380.7 1226.3h0M367.5 1117.5h0M370.5 1094h0M393.1 1298.2h0M362.9 1141.4h0M365.3 1130.8h0M349.4 1236.2h0M379.5 1217.9h0M400.5 1317.5h0M307.7 1266.2h0M334.9 1271.5h0M358.2 1140.1h0M379.7 1205.4h0M363.2 1130.8h0M405.5 1306.7h0M373.9 1157.3h0M328.6 1288h0M386.4 1174.9h0M338.6 1256.9h0M368.2 1120.9h0M382.5 1233.4h0M395.3 1264.1h0M380.7 1180.4h0M317.3 1312.7h0M329 1311.8h0M328.9 1300.7h0M385.5 1242.9h0M375.1 1168.4h0M360.3 1150.8h0M332.5 1299.1h0M383.2 1230.2h0M367.9 1117.8h0M363.7 1135.3h0M362.4 1129.2h0M328.4 1294.9h0M399.8 1335.4h0M374.9 1177.6h0M392.1 1276.6h0M363.3 1120.2h0M394.3 1302.5h0M389.9 1279.3h0M376.8 1345.2h0M366.6 1095h0M352.8 1161.9h0M319.2 1325.1h0M377.5 1185.5h0M393.7 1253.2h0M334.8 1286.1h0M383.7 1242.2h0M317.2 1269h0M328.1 1307.6h0M385.1 1245.2h0M410.1 1310.8h0M335.2 1290.4h0M405.6 1323h0M347.3 1208.6h0M386.2 1255.3h0M390.1 1273.7h0M362.2 1145.2h0M370.5 1145.7h0M397.8 1311.5h0M365.9 1102.8h0M341.8 1269.2h0M336.6 1286.1h0M362.9 1144.1h0M395.4 1300.2h0M391.4 1266.1h0M350.1 1238.1h0M346.2 1222h0M375.8 1177.9h0M392.2 1293.1h0M395.5 1289.5h0M403.4 1316.5h0M391 1277.6h0M393.7 1302.2h0M366 1350.5h0M409.5 1321.2h0M380.7 1204.9h0M364.8 1102h0M393.9 1267.4h0M353.1 1220.3h0M396.5 1335.9h0M326.3 1317.4h0M395.2 1223.2h0M339.2 1269.4h0M395.5 1274.5h0M390.6 1221.5h0M337.6 1276.6h0M330.7 1307.1h0M380.8 1204.8h0M387.2 1158.7h0M388 1192.6h0M386 1241.4h0M370.6 1136.4h0M372.6 1107.3h0M401.8 1329.5h0M415.3 1318.8h0M403.8 1311.1h0M351.2 1192.6h0M319.5 1329.5h0M355.1 1180.7h0M323.3 1298.3h0M325.7 1332.6h0M385.9 1344.8h0M344.7 1201.6h0M332.8 1295.5h0M366.6 1128h0M391.3 1274.5h0M339.8 1250.1h0M392.9 1262.9h0M347 1243.2h0M327.2 1315.7h0M389.4 1267.7h0M379.2 1184.3h0M365.1 1123.5h0M347.6 1227.5h0M375.5 1129.2h0M364 1108.1h0M323 1311.9h0M384.2 1223.3h0M335.6 1278h0M389.2 1263.3h0M386 1259.9h0M332.8 1253.1h0M380.2 1214h0M345.2 1252h0M382.8 1214.2h0M363.5 1137.6h0M401.7 1295.7h0M390.3 1258.1h0M398.7 1336.2h0M363.3 1103.4h0M395.7 1298.1h0M358.3 1145h0M395.4 1338.1h0M331.4 1335.3h0M395.3 1234.5h0M346.3 1253.4h0M337.1 1285.2h0M385.2 1244.1h0M403.7 1337.7h0M395.6 1268.7h0M363.4 1130.5h0M350.6 1341.9h0M357.5 1161.7h0M329.7 1310h0M350.3 1231.7h0M356.7 1191.1h0M398 1273h0M383.6 1232.1h0M363.7 1097.5h0M323.4 1320.4h0M386.5 1263.9h0M361.1 1148.5h0M340.8 1271.1h0M385.2 1160.7h0M349.9 1225.5h0M391.6 1257.8h0M391.6 1253.2h0M385.5 1236.8h0M369.7 1131.6h0M406.7 1307.6h0M382.5 1190.4h0M338.6 1276.1h0M327.8 1307.6h0M341.4 1260.3h0M393.1 1283.3h0M335.9 1262h0M395.4 1271.7h0M353.7 1210.4h0M397.1 1286.7h0M402.3 1328h0M338.6 1258.6h0M364.9 1342.8h0M377.6 1184.7h0M365.5 1121.8h0M382.6 1232h0M386.4 1243.9h0M326.3 1332.5h0M396.1 1336.5h0M353.8 1121.9h0M384.4 1249.5h0M330.9 1333.9h0M365.5 1114h0M398.8 1299.9h0M350.2 1196.3h0M365.1 1118.7h0M389.4 1272.7h0M385.9 1259.1h0M386.3 1256.3h0M397.1 1294.3h0M316 1329.3h0M362 1115.7h0M394.5 1338.9h0M386.4 1260h0M336.2 1277.4h0M332.2 1274.5h0M337.4 1278.5h0M371.6 1163.2h0M321 1323.6h0M385.1 1243.5h0M355.2 1206.8h0M396.1 1340.5h0M336.4 1285.4h0M339.8 1250.6h0M328.1 1299.6h0M405.8 1307.3h0M345.5 1254.8h0M396.4 1290.8h0M397.6 1311h0M386 1250.4h0M407.7 1322.8h0M363.9 1138.4h0M398.6 1295.7h0M334.4 1273.2h0M348.4 1235.3h0M397.8 1287.2h0M399.2 1335.1h0M338.6 1275.9h0M333.4 1280.2h0M329.4 1332.2h0M332.5 1268.5h0M354.1 1211.1h0M418.6 1330.8h0M351.3 1229.9h0M383.2 1194.7h0M343.5 1239.9h0M345.3 1255.4h0M347.2 1239.9h0M379.3 1209.1h0M391.4 1279.8h0M364.9 1103.2h0M379.6 1182.4h0M368 1113.8h0M341.5 1263.9h0M394 1297.7h0M403 1327.7h0M345.4 1230.9h0M391.2 1259.9h0M393.7 1294.1h0M374.4 1165h0M386.3 1257.1h0M323.7 1333.5h0M371.7 1155.2h0M401.2 1337.4h0M370.1 1132.4h0M329.9 1300.9h0M379 1134.3h0M361.4 1148.8h0M336.6 1271.1h0M373.6 1179.3h0M398.4 1298.8h0M401.3 1315.3h0M372.6 1117.8h0M351.9 1207.1h0M382.1 1160.3h0M340.6 1224.2h0M329.4 1308.2h0M333.6 1277.4h0M384.6 1232.4h0M361.2 1344.7h0M339 1269.1h0M375 1182.6h0M402.2 1302.6h0M328.4 1293.2h0M372.3 1140.6h0M393.8 1282.5h0M345.8 1255.1h0M356.7 1154h0M333.9 1207.7h0M396 1300.6h0M340.6 1264.3h0M396.6 1248.1h0M376.8 1186.8h0M329.4 1300h0M386.7 1237.5h0M330.9 1287.3h0M330.5 1302h0M393.9 1258h0M336.1 1283.8h0M361.4 1146.7h0M343.1 1260.7h0M394.7 1292.8h0M345 1179.9h0M399 1272.2h0M393.6 1245.2h0M326.5 1329.8h0M385.7 1245.6h0M342.1 1266.9h0M394.1 1340.1h0M360 1152h0M362.6 1143.5h0M382.4 1221.2h0M353.5 1199.9h0M394.8 1139.6h0M360.2 1156.1h0M385.6 1255.1h0M365.2 1096.9h0M385.2 1254.5h0M388.5 1267.6h0M343.6 1199.4h0M383.3 1211h0M398.9 1233.8h0M333.3 1207.1h0M333.4 1292.6h0M383.7 1246.2h0M393.8 1285.4h0M295.6 1320.5h0M305.1 1327.8h0M410.8 1322.1h0M404 1324.5h0M380.6 1186.7h0M354.5 1210.5h0M320.1 1306h0M377.9 1185.4h0M407.7 1294.2h0M329.9 1307.1h0M343.7 1206.5h0M333.8 1296.6h0M346.3 1245.7h0M416.1 1324.8h0M404.2 1314.7h0M321.9 1327.9h0M370.2 1133.7h0M345 1220.8h0M354.3 1210.4h0M360.4 1148.6h0M332.4 1282.4h0M348 1246.1h0M378.4 1173.7h0M401.4 1268.9h0M397.1 1335.3h0M354.5 1209.1h0M386.7 1213.8h0M393.3 1292.6h0M394.4 1257h0M355.6 1152.6h0M358.5 1167.4h0M359.4 1161.2h0M383.2 1238.5h0M332.7 1266.5h0M375.3 1191.8h0M339 1259.4h0M379.5 1346.5h0M402.9 1311.6h0M359.9 1150.6h0M383.3 1220.6h0M369.8 1142.8h0M374.1 1176.2h0M344.6 1237.7h0M356.8 1174.6h0M355.9 1174.1h0M389.4 1232.9h0M336.5 1214.7h0M324.3 1329h0M387.5 1245.7h0M329.8 1307.6h0M342.6 1257.7h0M377.5 1191.6h0M331.3 1285.9h0M337 1277.3h0M387.7 1271.2h0M361.2 1135.9h0M393.4 1291.7h0M395.4 1305.3h0M375.1 1176.8h0M354.5 1182.6h0M333.6 1291.6h0M344 1254.7h0M379.3 1186.7h0M355 1192.8h0M396.2 1271.5h0M393.1 1282.5h0M383.5 1227.9h0M373 1135.1h0M333.9 1289.1h0M351.3 1234.6h0M389.5 1211.7h0M387.1 1241.9h0M381.5 1224.9h0M350.1 1230.1h0M379.2 1214.2h0M350.2 1203.9h0M400.6 1306.7h0M400.8 1317.2h0M399.2 1312.9h0M336.6 1286.5h0M413.3 1318.9h0M342.1 1256.5h0M358.3 1175.3h0M394.5 1305.1h0M341.6 1268.4h0M371.9 1160.7h0M340.9 1246.1h0M327.3 1310.8h0M352.4 1193.9h0M343.9 1338.6h0M395.8 1206.3h0M387.1 1252.8h0M360.3 1105.5h0M351.3 1230.1h0M308.3 1334.8h0M406.2 1317.1h0M321.2 1298.2h0M382.9 1238.5h0M352.1 1207.2h0M396.9 1272.5h0M340.3 1274.5h0M381.6 1231.7h0M392.6 1292h0M390.7 1278.5h0M354.4 1201.4h0M389.4 1277.7h0M340.4 1262.4h0M354.3 1193.5h0M403.3 1322.5h0M368 1135.8h0M330.5 1329.6h0M335.8 1264.1h0M320.7 1317.1h0M384 1245.7h0M366.2 1106.2h0M388.9 1208.8h0M378.2 1150.5h0M373.9 1164.3h0M381.9 1228.4h0M377.9 1189.1h0M392.6 1271.7h0M389.8 1273.5h0M371 1150h0M355.9 1191.3h0M350.6 1218.4h0M357.6 1152.2h0M379.4 1346.6h0M328.6 1327.7h0M350.8 1233.5h0M346.1 1176.9h0M370.7 1118.3h0M383.5 1213.7h0M375.5 1153.3h0M321.8 1316.6h0M381.7 1229.4h0M381 1207.6h0M335.4 1289.7h0M323.5 1296.8h0M330.2 1331.5h0M363.8 1131.4h0M404.7 1321.1h0M370.7 1105.8h0M353.9 1216.1h0M399.8 1332.1h0M368.8 1098h0M403.9 1255.6h0M358.9 1143.3h0M361.9 1093.3h0M341.6 1339.9h0M346.9 1176.6h0M387 1252h0M392.1 1239.1h0M319.8 1325.1h0M391.4 1281.2h0M378.6 1162.3h0M365.1 1116.2h0M381.9 1345.2h0M344.2 1193.2h0M398.9 1283.8h0M335.3 1277.6h0M365.9 1128.1h0M392.1 1267.8h0M325.8 1318.5h0M356.4 1192.7h0M348.1 1222.1h0M395.4 1306.5h0M351.7 1219.4h0M318.1 1329h0M387.8 1269.3h0M339.2 1264h0M334.4 1284.5h0M324.3 1319.2h0M360.3 1154.5h0M369.7 1099.3h0M337.8 1201.9h0M376.7 1180.5h0M396.3 1282.1h0M380.3 1343.4h0M386.8 1260.4h0M353.4 1211.8h0M325.8 1318.3h0M350.6 1210.1h0M336.4 1273.2h0M336 1334.7h0M365.5 1096.3h0M391.3 1275.3h0M352.3 1209.7h0M368.2 1092.9h0M339.9 1262.9h0M378.4 1200.1h0M344.9 1259h0M346.8 1250.7h0M332.4 1298.3h0M375.4 1179.8h0M394.1 1229.2h0M339.2 1270.8h0M343.8 1245.2h0M350.5 1187.4h0M390 1250.2h0M372.8 1345.5h0M328.1 1332.8h0M390 1205.8h0M339.3 1228.9h0M357.1 1181.5h0M352.3 1212.8h0M365 1096.7h0M358.1 1151h0M356.8 1143.7h0M355 1182.8h0M325.4 1300.1h0M370.7 1093.8h0M371.8 1163.6h0M402.6 1333.5h0M378.7 1170.5h0M363.3 1127.8h0M386.4 1262.8h0M337.6 1275.6h0M364.8 1095.8h0M345.1 1133.9h0M355.1 1195.6h0M333.7 1282.5h0M365.4 1122.1h0M390.1 1264h0M401.3 1333.6h0M367.6 1109.7h0M352.8 1211.4h0M326.1 1322.1h0M374 1132h0M325.9 1307.3h0M330.7 1303.7h0M387.3 1267.7h0M409.4 1327.7h0M366.2 1100.9h0M355.2 1127.4h0M334.6 1336.9h0M401.5 1329.6h0M386.2 1192.5h0M326.9 1315.2h0M318.5 1326.2h0M377.2 1192h0M405.3 1324h0M331.1 1303.9h0M324.9 1325.1h0M332 1296.5h0M352.2 1209.2h0M398.2 1294.7h0M395.4 1306h0M350.6 1220.2h0M370.7 1144.8h0M409.4 1319h0M378.4 1199.5h0M362.9 1351.8h0M403.6 1305.2h0M349.5 1150.2h0M331.3 1291.7h0M380.8 1207.5h0M416.9 1317.4h0M377.5 1202.8h0M350.4 1185.7h0M393.3 1275.7h0M339.1 1229.7h0M334.8 1290.3h0M398.9 1286.9h0M380.7 1222h0M394 1176.4h0M386.6 1342.3h0M334.2 1249.8h0M355.6 1205h0M355 1166.7h0M401.8 1334.3h0M346 1203.8h0M403.4 1333.5h0M328.5 1301.9h0M407.9 1307.2h0M399.4 1314.4h0M330.2 1306.1h0M348.8 1152.2h0M356.2 1198.9h0M351.4 1176.3h0M348.4 1242.7h0M386.3 1264.5h0M383.8 1243.3h0M326.6 1280.5h0M378 1172.5h0M355 1341.7h0M338.4 1268.3h0M387.2 1252.4h0M351.8 1214.8h0M388.7 1246.1h0M352.5 1225.8h0M332.9 1300.7h0M353.2 1218.5h0M382.1 1217h0M343.3 1264.9h0M383.4 1239.2h0M324.2 1274.2h0M383.9 1242.7h0M377.1 1139.2h0M376.1 1190.4h0M358.9 1170.4h0M403.3 1326.8h0M385.6 1234.5h0M330 1270.3h0M365 1123h0M418.1 1316.9h0M376.6 1186.8h0M385.9 1225.8h0M389.3 1188.8h0M372.6 1168.6h0M329.2 1333.1h0M348.2 1349h0M344.6 1205.3h0M340.5 1209.4h0M387.9 1258.2h0M386.9 1261.2h0M378.8 1196.8h0M390.4 1218.3h0M369.4 1111.4h0M335.7 1288.2h0M393.6 1265.6h0M385.7 1144.7h0M383.4 1244.1h0M342.7 1217.7h0M359.4 1095.1h0M400.5 1305.9h0M335.2 1267.6h0M384.6 1225.8h0M348.9 1204.6h0M336.2 1280.8h0M372.9 1146.5h0M397.4 1310.9h0M341.4 1269.4h0M374.8 1090.9h0M358.2 1140h0M361.3 1145.2h0M310 1331.8h0M348.8 1231.8h0M330.9 1292h0M371.1 1103.5h0M356 1166.4h0M398.6 1269.5h0M389.2 1261.7h0M400.6 1314.7h0M367.5 1101.9h0M329.2 1272.4h0M382.2 1210.8h0M361.5 1351.3h0M407.9 1324.1h0M398 1287.4h0M374 1154.2h0M359.6 1159.3h0M367.2 1110.5h0M381.2 1161.7h0M400.1 1297h0M375.4 1167.6h0M388.9 1193.7h0M375 1192.3h0M334.8 1288.7h0M343 1339.9h0M314.4 1319.2h0M327 1274.1h0M348.3 1212.6h0M391.5 1230.6h0M355.5 1134.4h0M384.4 1238.8h0M335.3 1252.8h0M360 1159.6h0M345.7 1253.4h0M320.8 1311.4h0M325.2 1325.9h0M351.8 1219.3h0M385.6 1235.2h0M357.1 1169.2h0M416 1330.2h0M366.1 1123.8h0M384.2 1216.8h0M352.7 1215h0M328.2 1304.3h0M397.8 1302.6h0M404.6 1306.2h0M370.9 1147h0M356.9 1341.3h0M373.4 1176h0M400.7 1292.4h0M376.9 1188.8h0M385.1 1235.3h0M362.3 1103.3h0M391.7 1266.7h0M343.2 1265.5h0M390.1 1275.7h0M345.1 1142.6h0M328.4 1314h0M392.7 1135.7h0M393.1 1284.9h0M379.6 1215h0M332.1 1276.7h0M362.7 1141.9h0M385.6 1342.8h0M395.2 1202.4h0M379.3 1194.1h0M328.7 1297.1h0M389.2 1267.4h0M326.4 1293.4h0M351.2 1172.4h0M341.9 1267.4h0M347.1 1248.4h0M327.7 1330.8h0M354.1 1170.4h0M401.1 1316.8h0M345.9 1341h0M347.9 1243.4h0M349 1193.6h0M374.2 1183.2h0M405.5 1321.9h0M391.3 1267.1h0M353.7 1165.8h0M410.5 1320.1h0M337.9 1279.9h0M377.6 1200.5h0M370.9 1129.9h0M399.1 1339.4h0M345.6 1340.5h0M366.2 1124.6h0M377.5 1204.4h0M353.1 1207.6h0M353.2 1195.8h0M399.3 1335.2h0M372.1 1161.1h0M359 1135.6h0M334.4 1291.4h0M358.5 1174.4h0M400.9 1316.2h0M354 1211.6h0M385.1 1250.7h0M390.8 1260.5h0M317.1 1333.3h0M392.3 1266.1h0M408.1 1329.6h0M423.7 1320.5h0M394.9 1292.3h0M333.3 1286.3h0M327.4 1310.3h0M338.9 1335.6h0M400.2 1317.8h0M382.5 1209h0M391.8 1256.1h0M379.4 1173.4h0M384.8 1230.7h0M352.5 1169.7h0M358.7 1150.1h0M400.6 1305.3h0M332 1295.6h0M383.4 1206.3h0M364 1136.1h0M340.8 1337.9h0M397.2 1303.4h0M365.4 1112.4h0M393.8 1223h0M408.9 1320.8h0M343 1167.9h0M351.9 1229.8h0M351.1 1223.6h0M389 1240.1h0M386 1262.6h0M400.8 1331.8h0M325 1320.2h0M381.2 1201.7h0M359.7 1151.2h0M382 1196.1h0M366.6 1119.5h0M357.3 1187.2h0M368.8 1115.3h0M333 1336.5h0M389.5 1274.3h0M331.9 1300.5h0M375.2 1151.7h0M408.9 1324.9h0M342 1261.8h0M392.7 1279.2h0M391.7 1277.7h0M328.3 1317.7h0M400.1 1316.6h0M368.9 1116.8h0M341.7 1217.3h0M339 1264.7h0M339.6 1262h0M372.3 1153h0M400.9 1295.9h0M358.5 1160.8h0M309.6 1313.1h0M345.7 1253.5h0M327.8 1308.7h0M389.2 1149.2h0M328.1 1280.1h0M354.3 1204.4h0M369 1138.6h0M388.3 1253h0M379.1 1194.6h0M330.4 1282.3h0M385.9 1229.6h0M323.5 1314.6h0M334.7 1270.9h0M406 1330.2h0M354.7 1186.9h0M357.3 1171.5h0M394.2 1249.3h0M342.3 1266.9h0M391.3 1287.6h0M367.9 1120.6h0M328.6 1332.8h0M380.8 1205.6h0M378.5 1177.8h0M394.2 1299.7h0M393.5 1236.4h0M352.3 1161.5h0M395.2 1282.4h0M328.1 1334h0M375.8 1168.7h0M390 1279.3h0M395 1338.2h0M351.7 1233.3h0M413.2 1319.9h0M384.6 1247.2h0M326.8 1325.6h0M328.7 1299.3h0M354.1 1158.6h0M344.9 1224.8h0M376.2 1180.4h0M390.8 1277.2h0M397.3 1242.4h0M383.1 1235.1h0M327.5 1291.9h0M404.1 1325.9h0M371.4 1143.8h0M349.2 1172.7h0M343.2 1233.4h0M325.9 1291.2h0M377 1173.6h0M385.6 1202.7h0M345.4 1237.4h0M383.2 1242.1h0M346.7 1245.1h0M365.7 1123.3h0M387.5 1200.6h0M335.4 1280.2h0M376.3 1127h0M328.1 1328.9h0M349.9 1195.4h0M381 1209.4h0M316.7 1313.6h0M329.5 1310.5h0M384.1 1244.3h0M389.9 1264.5h0M346.1 1250.6h0M367.7 1114.9h0M339.6 1259.9h0M336.9 1270.8h0M391.4 1277.1h0M399.5 1302.6h0M395.1 1298.8h0M376.6 1198.2h0M399.2 1335.7h0M360.2 1136.1h0M377.4 1202.3h0M380.2 1220.9h0M378.7 1209.2h0M394.1 1293.5h0M388.7 1249.8h0M386.5 1244.4h0M365.5 1121.8h0M351.3 1208.2h0M369.3 1121.5h0M333.2 1268.8h0M330.6 1299.1h0M349.2 1205.6h0M338.9 1269.2h0M398.2 1338.2h0M343.3 1259.7h0M337.3 1212.2h0M330.8 1330.6h0M324.9 1306.4h0M332.5 1335.8h0M330.9 1286.8h0M354.3 1194.7h0M340.6 1250.6h0M377.2 1193.6h0M393.7 1260.6h0M352.7 1194.5h0M389.3 1268.7h0M340.4 1268.9h0M328.5 1334.7h0M394.6 1263.1h0M337.1 1275.5h0M321.7 1270.8h0M376.9 1174.5h0M394.1 1267.9h0M327.6 1327.5h0M371.6 1148.8h0M400 1334.5h0M361.5 1344.4h0M399.3 1339.6h0M359.6 1145.6h0M376.3 1190.7h0M386.1 1247.9h0M385.9 1230.9h0M388.7 1201.5h0M371.8 1096.7h0M382.1 1219.2h0M401.9 1329.1h0M389.2 1273.7h0M387.6 1173.1h0M331.2 1282.1h0M356.6 1188.5h0M381.8 1185.2h0M340.5 1240.5h0M384 1211.1h0M386.2 1227.6h0M410.3 1329.5h0M396.7 1278.3h0M358.3 1166.2h0M327.2 1320.2h0M402.6 1315.8h0M338 1228.7h0M385.6 1253.3h0M316.8 1324.7h0M397.5 1228.3h0M377.6 1179.2h0M331.5 1296.2h0M360.7 1095.2h0M389.4 1261.6h0M403.5 1331.5h0M346.9 1242.3h0M350.7 1192.2h0M381 1227.3h0M350.4 1161.7h0M398.3 1333.9h0M329.8 1329.1h0M407.5 1329.8h0M359.2 1164.6h0M324.6 1319.9h0M397.7 1265.2h0M340.8 1251h0M390.3 1277.3h0M373.5 1154.6h0M397.5 1276.6h0M345.6 1244.2h0M327 1281.8h0M326.7 1314.8h0M397.1 1282.2h0M389.5 1261h0M402.5 1308h0M350.1 1218.3h0M391.3 1209.6h0M361.1 1147.1h0M355.1 1161h0M407.9 1311h0M336.8 1286h0M341.9 1247.6h0M350.5 1234.6h0M339 1247.6h0M334.9 1273.4h0M394.4 1296.1h0M391.8 1282.3h0M381.1 1125.5h0M370.5 1136.2h0M354.4 1192.4h0M356.1 1183.4h0M423.8 1328.6h0M349 1239.6h0M344.2 1340.8h0M370.5 1114.1h0M330 1309.5h0M405.6 1329.6h0M333.3 1159.3h0M385.1 1207.7h0M335.6 1267.4h0M386.4 1172.8h0M382.1 1215.2h0M329.8 1286.3h0M373.4 1170.3h0M408.1 1295.8h0M328.5 1279.1h0M325.8 1311.2h0M323.4 1307.6h0M389.2 1268.4h0M344.4 1259.5h0M332.9 1264.4h0M380.6 1197.3h0M354 1185.8h0M368.8 1101.2h0M385 1238.9h0M346.2 1247h0M335 1281.7h0M333.6 1292.5h0M365.7 1115.6h0M393.8 1258.2h0M331.1 1235.5h0M359.6 1160.1h0M331.8 1288.4h0M341.2 1258.8h0M401.1 1334.6h0M329.1 1296.3h0M333.6 1291.9h0M385.9 1194.9h0M388.3 1272.9h0M373.7 1168.6h0M352.8 1214h0M397.1 1334.7h0M389.4 1266.6h0M378.4 1207.2h0M380 1203.2h0M397.3 1307.3h0M328 1305.2h0M339.3 1264.3h0M349.6 1199.9h0M397.5 1286.9h0M333.4 1289.6h0M334.3 1286.4h0M356.2 1152.6h0M330.8 1300.3h0M388.6 1263h0M332.6 1263.7h0M376 1137.2h0M375.5 1160h0M356 1198.7h0M369.2 1146.7h0M397.5 1294.3h0M329.4 1286.4h0M350.8 1206.5h0M406.8 1298.9h0M405.1 1308.5h0M317 1249.1h0M318.6 1180.8h0M305.2 1134h0M335 1196.4h0M306.4 1304.8h0M330.5 1286.6h0M391.3 1129.7h0M267.8 1276.8h0M337.2 1275.4h0M309.5 1274.9h0M383.7 1213.8h0M334.5 1240.9h0M344.7 1236.7h0M433.7 1286.2h0M360.2 1153.4h0M409.8 1331h0M339.5 1232.6h0M394.4 1175.1h0M351.5 1177.6h0M318.5 1287.4h0M349 1219h0M381.8 1187.5h0M305.2 1266.9h0M341.8 1260h0M263.4 1236.2h0M390.6 1238.2h0M358.5 1174h0M322.9 1232.3h0M390.8 1209.6h0M321.7 1273.5h0M397.8 1294.1h0M396.3 1301h0M412.4 1235.8h0M370.2 1345.3h0M381.6 1151.6h0M406.5 1319.9h0M391.3 1221h0M377.2 1158.4h0M346.6 1208.2h0M307.8 1280.2h0M518.6 1284.2h0M339.6 1198.6h0M350.3 1348.2h0M325.5 1295.4h0M404.1 1333.5h0M347.2 1138.4h0M404.2 1315.3h0M420.3 1231.7h0M400.9 1334.1h0M360.7 1142.7h0M404.7 1273.1h0M386.6 1228.8h0M398.1 1311.7h0M301.4 1317.5h0M379.7 1109.9h0M324.3 1257h0M403 1263.8h0M395.3 1278.2h0M398.1 1303.4h0M354.7 1204.2h0M337.2 1277.2h0M338.2 1217.3h0M431.9 1178.4h0M382.2 1168.6h0M356 1139h0M320.7 1276.7h0M397.5 1179.2h0M277.1 1276.2h0M335.5 1259.9h0M343.1 1148.6h0M337.4 1274.8h0M378.7 1180.9h0M387.4 1269.3h0M336.4 1198.4h0M429.9 1329.8h0M327.3 1303h0M347.5 1180.6h0M405.3 1285.3h0M377 1202.7h0M382.8 1216.2h0M312.4 1261.8h0M245.9 1285.5h0M386.4 1209h0M393.3 1339.7h0M339.4 1268.6h0M338.6 1272.1h0M429.8 1318.9h0M380.3 1209.7h0M397.8 1189.7h0M375.9 1344.1h0M369.3 1148.9h0M351.9 1134.4h0M410.4 1321.3h0M407.4 1295h0M375.9 1360h0M418.7 1153.5h0M434.7 1301.7h0M392.3 1273.2h0M355.2 1119.9h0M381.5 1197.7h0M374.4 1180h0M438.8 1253.1h0M342.5 1154.9h0M367.4 1125.4h0M326.5 1313.2h0M320.8 1203.5h0M415.9 1326.4h0M385.8 1342.6h0M301.9 1165.2h0M343.3 1179.6h0M371.8 1362.8h0M359.3 1160.8h0M419.7 1211.7h0M310.1 1248.5h0M344.1 1171.8h0M411 1334.9h0M305.5 1334.1h0M412.6 1262.9h0M386.8 1242.8h0M324.9 1322.5h0M357.3 1170.3h0M394.4 1220h0M272.9 1295.7h0M353.4 1151.8h0M333.8 1287.5h0M377.1 1359.1h0M325.7 1327.6h0M389.9 1258.8h0M387.7 1113h0M330.1 1282.3h0M388.8 1271.8h0M302.4 1273h0M304.9 1305.8h0M424.3 1288.9h0M363.9 1124h0M332.7 1333h0M383.8 1197.8h0M316 1297.1h0M450.2 1328.5h0M331 1333.1h0M313 1283.1h0M325.7 1231.8h0M397.2 1269.4h0M400.8 1342.4h0M340.9 1249.8h0M435 1333.5h0M398.4 1304h0M409.1 1135.3h0M402.7 1150.8h0M379.6 1205h0M353.7 1220.2h0M392.8 1252.7h0M316.8 1296.1h0M387.3 1117.8h0M366.9 1101.7h0M339.7 1217.7h0M385.9 1174.4h0M395.4 1300.5h0M326.1 1337.9h0M379.6 1344h0M435 1153.5h0M340.2 1250h0M372.4 1137.5h0M454 1318.6h0M405.7 1181.6h0M377.7 1205.2h0M384.2 1226.4h0M394.5 1305h0M352.2 1160.9h0M358.8 1159.1h0M359.9 1137.5h0M332.3 1187.2h0M378.5 1172.1h0M370.6 1136.2h0M400.9 1316.6h0M336 1283.4h0M392.9 1243.5h0M420 1139.1h0M350.5 1163.9h0M313.7 1245.1h0M365.6 1103.8h0M326.1 1295h0M409 1310.8h0M407.6 1317.3h0M329.2 1193.7h0M415.2 1314.4h0M297.3 1298.4h0M347.7 1180.2h0M388.6 1361.7h0M398.9 1231.6h0M423.2 1324.9h0M317.5 1326.1h0M401.6 1335h0M378 1151.9h0M342.8 1234.8h0M339 1241.8h0M354.3 1177.1h0M386.2 1165.9h0M336.1 1279.7h0M308.2 1263.9h0M345.3 1178.5h0M396.8 1265.3h0M305.5 1239.3h0M337.6 1191.2h0M316.7 1331.1h0M345.2 1130.4h0M386.7 1216.1h0M300.6 1337.4h0M391 1247.3h0M394.4 1290h0M402.7 1278h0M472.6 1331.7h0M447.7 1229.9h0M362.2 1363.3h0M310.3 1288.2h0M445.7 1298.9h0M408.3 1314.5h0M378.6 1170.3h0M408.6 1325.4h0M316.7 1256.1h0M352.6 1219.3h0M319.3 1208.2h0M403.9 1320.7h0M337.7 1280.9h0M329.6 1233.2h0M411.9 1321.1h0M345.8 1240.9h0M346.2 1222.4h0M388.1 1262.5h0M412.8 1318h0M350 1125.2h0M347.8 1205.6h0M353.2 1179.2h0M364.9 1104.7h0M351.2 1221.4h0M370.3 1098.3h0M387.7 1264.6h0M426 1215h0M401.3 1288.2h0M404.1 1199.2h0M425.5 1329.8h0M338.7 1243.5h0M366.5 1355.3h0M340.2 1270.4h0M348.9 1178.5h0M390.2 1162.2h0M376.6 1179.6h0M393.8 1243.4h0M331.1 1261.8h0M351.5 1152.9h0M331.2 1340.3h0M386.5 1107.9h0M408.4 1329.5h0M323.8 1326.6h0M318.7 1247.2h0M394.8 1208h0M352.3 1346.2h0M327.5 1150.4h0M351.2 1169.8h0M320.4 1122.5h0M314.8 1301.9h0M389.4 1259h0M367.1 1097.8h0M392.4 1192.5h0M420.1 1320.5h0M372.3 1086.3h0M322.5 1312.1h0M348.7 1161.1h0M390 1240.5h0M391.7 1288.9h0M382 1230.9h0M403.8 1304.2h0M338 1198.8h0M385.9 1115.7h0M384.3 1148.6h0M383.4 1175.6h0M331.2 1339.7h0M351.6 1230.1h0M321.4 1282.7h0M400.8 1298h0M413.8 1286.7h0M361.6 1137.3h0M342.4 1248.6h0M361.1 1135.3h0M353.3 1361.9h0M525.6 1339.7h0M324.1 1246.5h0M341.4 1200.3h0M386.3 1224.6h0M331.2 1332.8h0M416.5 1341.1h0M434.4 1239.1h0M363.5 1137.3h0M384.3 1199h0M392.8 1199.7h0M337.3 1193h0M363.5 1118.1h0M405.1 1261h0M367.2 1105.7h0M358.9 1138.9h0M374 1169.1h0M372.9 1090.2h0M325.6 1294.5h0M374.3 1127.9h0M341.9 1255.9h0M342.6 1181.8h0M330.1 1302h0M403.3 1293.9h0M344.1 1344.1h0M366.9 1125.3h0M378.1 1161.5h0M386 1260.2h0M371.1 1366h0M379.4 1167.8h0M374.3 1357.3h0M383.8 1147h0M402.2 1232.9h0M362.8 1137.2h0M305.6 1283.7h0M390.6 1166.9h0M408.3 1211.4h0M410.4 1182h0M414.2 1218.5h0M371.1 1364.3h0M396 1297.3h0M404.1 1273.8h0M357.1 1189.2h0M393.9 1218.3h0M357.8 1164.4h0M392.7 1271.9h0M391.5 1246.9h0M335 1152.2h0M402.6 1289.2h0M290.9 1305.8h0M368 1101.4h0M387.3 1255.4h0M402.2 1226.5h0M377.8 1188h0M359.6 1138.6h0M350 1192.8h0M385.1 1121.4h0M346.5 1207h0M337 1263.4h0M389.5 1251h0M328.2 1211.3h0M397.9 1260.1h0M379.5 1108.4h0M402.4 1151.6h0M356.3 1184.2h0M409.6 1117.7h0M477.5 1278.2h0M388 1269.6h0M377.3 1188h0M378.4 1204h0M422.8 1288.9h0M326.1 1221.4h0M408.9 1301.4h0M322.5 1310.6h0M424.3 1248h0M351.5 1216.7h0M357.7 1142.4h0M343.1 1156.4h0M331.7 1295.2h0M404.4 1200.5h0M357.9 1138.8h0M417.4 1326.2h0M404.6 1310.1h0M412.7 1221.8h0M328.5 1161h0M363.2 1363.6h0M340 1203.1h0M374.9 1172.5h0M394.1 1289.2h0M404.4 1212h0M429.2 1321.7h0M360 1137.9h0M334.1 1227.5h0M388.5 1203.1h0M404.2 1321.1h0M322.2 1248.6h0M394.4 1187.1h0M412.8 1225.1h0M325 1294.6h0M330.8 1147.5h0M373 1141.6h0M383.7 1151.9h0M287.5 1304.2h0M365.1 1115.1h0M364.9 1109.2h0M308.8 1317.8h0M339.3 1340.4h0M406.4 1263h0M324.4 1220.5h0M369 1136.3h0M426.1 1155.6h0M409.5 1328.4h0M440.3 1338.3h0M393 1261.6h0M356.8 1148.9h0M347.4 1241h0M394.7 1209.1h0M384.8 1234.5h0M332.2 1301.5h0M350.1 1343.7h0M358.2 1178.6h0M380.6 1178.9h0M326.1 1266h0M342.1 1202h0M425.6 1326.4h0M398.9 1232h0M300.7 1299.4h0M355.7 1180h0M423.3 1205.1h0M338.9 1171.9h0M348.5 1230.6h0M388.2 1245.1h0M372.9 1173.2h0M349.7 1215.7h0M378.4 1142.7h0M308.3 1243.4h0M379.3 1154.8h0M318.5 1285.5h0M342.5 1161.6h0M338.5 1342.9h0M435.6 1228.2h0M403.3 1286.6h0M407.2 1248.2h0M339.9 1254.7h0M383.6 1159.2h0M370.6 1139.6h0M345.3 1248.9h0M402.6 1265.5h0M377.1 1362.3h0M395.5 1253.5h0M344.1 1177.3h0M413.3 1327.9h0M437.5 1339.1h0M356.3 1124.8h0M314.4 1288.7h0M443.3 1314.9h0M367.1 1088.7h0M327 1310.7h0M464.3 1240.5h0M372.2 1103.3h0M319.5 1320.3h0M352.1 1189.8h0M372.7 1099.4h0M307.8 1307.7h0M395.5 1239.7h0M405.4 1162.5h0M390.5 1346.3h0M343.2 1258.9h0M337.9 1264h0M348.8 1146.9h0M315 1328.8h0M342.5 1143.6h0M349.7 1192.9h0M351.8 1141.3h0M341.4 1157.9h0M329.1 1299h0M335.5 1259.1h0M323 1302.4h0M385.3 1178.6h0M398.6 1241.4h0M386.3 1150.8h0M417.7 1339.9h0M366 1122.9h0M432.6 1138h0M303.8 1277.4h0M388.7 1214.9h0M345.5 1198.6h0M348.2 1181.2h0M368.8 1350h0M398.8 1200.9h0M376.6 1362.6h0M380.9 1144.5h0M401.7 1311.5h0M380.7 1364.5h0M328.6 1335.4h0M326.7 1180.5h0M427.2 1319.8h0M331.4 1275.5h0M403.5 1316.1h0M342.1 1159.6h0M394.3 1250.4h0M336.8 1271.1h0M311.1 1183h0M397.2 1359.2h0M335.4 1272.1h0M346.5 1222.5h0M392.6 1183.4h0M309.8 1261.6h0M347.7 1122.3h0M349 1204.9h0M298.6 1316.7h0M378.8 1215.8h0M386.6 1254.6h0M394.9 1248.9h0M327.2 1315.3h0M275.7 1325.2h0M428.7 1218.1h0M419.3 1250.7h0M418.4 1331.8h0M443.8 1146.7h0M420.3 1334.1h0M418.8 1130.2h0M254 1320.5h0M412.7 1256.2h0M297.1 1194.5h0M245.8 1249.6h0M416.8 1209.6h0M429.1 1199h0M438.3 1231h0M310.1 1307h0M390.2 1200.1h0M447.4 1211.9h0M285.6 1214.3h0M309 1293.8h0M270.8 1242h0M378.5 1197.4h0M340.8 1247.4h0M309.7 1245.5h0M339.8 1173.7h0M305.2 1145.6h0M335.7 1270.9h0M415 1228.8h0M285.6 1329.3h0M411.1 1288.1h0M377.4 1142.5h0M326.9 1141.9h0M449.3 1268.8h0M394.5 1150.3h0M451.1 1250.4h0M392.8 1143.4h0M406.2 1241.1h0M483.8 1160.1h0M271.7 1326.2h0M321.7 1329.5h0M433 1220.7h0M435.1 1312.7h0M236.1 1288h0M439.1 1290.5h0M432.7 1316.9h0M360.2 1355.4h0M378.4 1352.7h0M416.1 1199.8h0M285.8 1334.2h0M321.1 1313.2h0M346.2 1247.8h0M393.1 1246.2h0M315.2 1152.7h0M388 1225h0M399.7 1134h0M479 1308.3h0M351.7 1221.1h0M404.6 1241.6h0M386.1 1255.2h0M431.2 1228.3h0M280.4 1238.2h0M391.4 1258.3h0M262.9 1331.6h0M319.9 1262.3h0M407 1160h0M323.9 1217.4h0M423.2 1241.1h0M297.8 1141.7h0M428.6 1324.2h0M336.6 1159.6h0M279.9 1296.2h0M484.8 1243.1h0M327.8 1199.7h0M452.7 1262h0M304.1 1205.9h0M304.1 1201.3h0M279.1 1295.9h0M370.1 1144.8h0M479.4 1219.7h0M411.4 1283.7h0M337.6 1259.9h0M327.3 1329.3h0M287.7 1225h0M385.4 1208.1h0M310.9 1277.5h0M313.5 1287.9h0M292.5 1180.6h0M275 1320.5h0M367.1 1360.4h0M349.4 1194.6h0M338.5 1243.8h0M337.7 1197.5h0M319.9 1232.5h0M320.2 1337h0M487.6 1216.8h0M323.8 1254.2h0M311.7 1301.1h0M334.1 1247.3h0M312.8 1290.4h0M223.6 1272.6h0M313.8 1147.8h0M401.7 1252.2h0M435.3 1295.5h0M410.8 1312.7h0M411 1145.9h0M410.1 1221.9h0M295.4 1293.3h0M327.8 1334.8h0M338 1349.2h0M413.2 1236.9h0M417.8 1278.1h0M318.5 1201h0M286.1 1331.7h0M311.6 1201.9h0M421.9 1152.1h0M405.3 1215.4h0M429.7 1325.8h0M342.5 1220h0M307.5 1321.7h0M310.2 1299.8h0M422 1323.5h0M340 1251.1h0" stroke="#dcdcdc" stroke-width="1.9" stroke-linecap="round" fill="none"/>
<path d="M401.1 1123h0M392.2 1126.1h0M405.2 1133.4h0M391.8 1140.6h0M397 1147.3h0M392.7 1151.7h0M424.1 1162.5h0M419.4 1165h0M444.4 1166.3h0M451.8 1167h0M412.1 1168.4h0M402.2 1170.4h0M413.3 1177.8h0M418.4 1178.1h0M399.1 1177.8h0M398.3 1179.4h0M394.5 1182.6h0M395.7 1187.2h0M403.6 1185.8h0M407.3 1190.2h0M409.5 1192.7h0M405.9 1194.1h0M392.2 1191.9h0M396.6 1194.1h0M393.6 1198.1h0M425.4 1192h0M439.9 1197.6h0M406.3 1194.2h0M409.4 1192.8h0M425.4 1192.1h0M395.5 1201.4h0M417.4 1201.1h0M419.9 1200.8h0M445.1 1202.5h0M392.7 1206.9h0M398 1210.5h0M401.1 1212.2h0M403.8 1209.7h0M407.4 1209.4h0M410.5 1206.9h0M396.4 1215.9h0M408.8 1219.1h0M404.7 1222.6h0M407 1222.1h0M429.2 1222.6h0M434.7 1228.1h0M428.2 1228.1h0M439.6 1230.2h0M441 1231.3h0M450.7 1219.1h0M456.9 1224.9h0M476.3 1220.2h0M452.7 1235h0M454.8 1235.4h0M395.9 1231.3h0M400.1 1231.3h0M401.1 1228.8h0M403.8 1228.1h0M410.8 1235h0M410.5 1238.5h0M409.8 1242h0M422.3 1237.8h0M428.2 1237.8h0M438.5 1235h0M461.8 1240.6h0M464.2 1239.2h0M404.9 1242.7h0M405.6 1244.3h0M400.1 1240.6h0M402.2 1251h0M410.5 1254.8h0M414.6 1247.1h0M417.4 1246.5h0M418.5 1252.4h0M421.6 1253h0M424.3 1247.5h0M426.4 1251.7h0M433.8 1251.7h0M434.7 1244.7h0M436.1 1256.2h0M433.3 1260.4h0M439.6 1260h0M447.2 1246.8h0M446.5 1259.3h0M492.2 1251h0M418.8 1264.8h0M418.1 1268.3h0M425 1264.1h0M427.1 1264.8h0M433.3 1269.7h0M443 1273.8h0M447.9 1271.5h0M466.6 1270.1h0M449.3 1277.3h0M431.3 1277.3h0M485.6 1274.5h0M492.2 1282.6h0M537.3 1209.8h0M441 1206.6h0M443.7 1214.9h0M445.8 1215.6h0M431.5 1212.9h0M343 1161.4h0M342.4 1165.4h0M341.2 1178.7h0M338.3 1183.6h0M337.4 1202.4h0M342.4 1207h0M334.3 1211h0M339.5 1211.6h0M339.8 1213.3h0M336.6 1217.4h0M341.2 1219.7h0M340.1 1222h0M334.3 1227.8h0M336 1229.1h0M318.7 1237.2h0M332 1237h0M334.3 1237h0M339.5 1235.8h0M333.1 1241h0M330.8 1243.3h0M340.1 1245.7h0M324.3 1262.4h0M325.9 1274.4h0M320.4 1282.5h0M334.6 1263.1h0M271.3 1282.5h0M270.6 1306.1h0M305.2 1326.8h0M318.5 1236.6h0M334 1227.5h0M330.8 1245.3h0M338.8 1234h0" stroke="#4d4d4d" stroke-width="2.8" stroke-linecap="round" fill="none"/>
<path d="M395.9 1073.2h0M454.8 1111.3h0M430.6 1127.2h0M423.2 1139.7h0M432.4 1143.1h0M442.6 1147.3h0M391.5 1159.1h0M416.3 1183.7h0M425.3 1188.4h0M455.5 1185.7h0M482.3 1188.4h0M396.9 1183.7h0M428.5 1199.7h0M405.2 1211.5h0M420.2 1214.9h0M423 1220.8h0M414.4 1225.7h0M420.5 1226.7h0M464.8 1209.4h0M495.3 1212.6h0M498.9 1222.6h0M471.7 1236.8h0M463.1 1236.4h0M487.4 1242.7h0M398.7 1238.8h0M431.3 1245.4h0M395.2 1249.9h0M405.6 1254.8h0M424.1 1249.9h0M426.4 1253.5h0M472.6 1264.8h0" stroke="#cd0000" stroke-width="2.8" stroke-linecap="round" fill="none"/>
<path d="M404.9 1170.4h0M407 1179.2h0M399.4 1186.1h0M432.7 1198.6h0M417.1 1212.4h0M453.2 1231.8h0M432.4 1238.2h0M419.9 1257.6h0M434.7 1267.3h0M442.8 1269h0M445.8 1265.5h0M452.7 1280.8h0" stroke="#0a64ff" stroke-width="2.8" stroke-linecap="round" fill="none"/>
<path d="M401.1 1153.8h0M493.9 1192.6h0M473.5 1210.8h0M437.5 1223.9h0M430.2 1242.7h0M438.9 1246.8h0M418.1 1246h0M399.1 1249.3h0M410.2 1272.9h0M416.7 1276.7h0M412.1 1284.6h0M396.9 1299h0" stroke="#a020f0" stroke-width="2.8" stroke-linecap="round" fill="none"/>
<text x="452.9" y="1108.2" font-size="15.2" fill="#cd0000" textLength="41.1" lengthAdjust="spacingAndGlyphs">MMP1</text>
<text x="435.9" y="1140.1" font-size="15.2" fill="#cd0000" textLength="26.5" lengthAdjust="spacingAndGlyphs">FN1</text>
<line x1="432.4" y1="1143.1" x2="437.2" y2="1138.3" stroke="#cd0000" stroke-width="1"/>
<text x="494.7" y="1189.1" font-size="15.2" fill="#a020f0" textLength="27.8" lengthAdjust="spacingAndGlyphs">AXL</text>
<text x="418.8" y="1216.3" font-size="15.2" fill="#cd0000" textLength="43.7" lengthAdjust="spacingAndGlyphs">ITGA3</text>
<line x1="414.4" y1="1225.7" x2="422.3" y2="1218.4" stroke="#cd0000" stroke-width="1"/>
<text x="466.9" y="1232.3" font-size="15.2" fill="#cd0000" textLength="55.1" lengthAdjust="spacingAndGlyphs">COL1A1</text>
<line x1="463.1" y1="1236.4" x2="468" y2="1231.6" stroke="#cd0000" stroke-width="1"/>
<text x="444.6" y="1259" font-size="15.2" fill="#a020f0" textLength="42.1" lengthAdjust="spacingAndGlyphs">NGFR</text>
<line x1="438.9" y1="1246.8" x2="445.8" y2="1253" stroke="#a020f0" stroke-width="1"/>
<text x="421.1" y="1300.2" font-size="15.2" fill="#a020f0" textLength="42" lengthAdjust="spacingAndGlyphs">EGFR</text>
<line x1="412.1" y1="1284.6" x2="421.6" y2="1293.9" stroke="#a020f0" stroke-width="1"/>
<text x="293.8" y="1172.3" font-size="15.2" fill="#444" textLength="35.4" lengthAdjust="spacingAndGlyphs">MITF</text>
<line x1="328.5" y1="1167.7" x2="347.6" y2="1168.3" stroke="#444" stroke-width="1"/>
<text x="290.3" y="1193.1" font-size="15.2" fill="#444" textLength="48.1" lengthAdjust="spacingAndGlyphs">SOX10</text>
<line x1="337.8" y1="1189.7" x2="350.5" y2="1192.5" stroke="#444" stroke-width="1"/>
<path d="M213.9,1042.5 L213.9,1381.4 L552.2,1381.4" fill="none" stroke="#5a5a5a" stroke-width="1.1"/>
<line x1="212.1" y1="1306.1" x2="213.9" y2="1306.1" stroke="#5a5a5a" stroke-width="1"/>
<text x="201.1" y="1310.7" font-size="17" textLength="9.5" lengthAdjust="spacingAndGlyphs">0</text>
<line x1="212.1" y1="1217.9" x2="213.9" y2="1217.9" stroke="#5a5a5a" stroke-width="1"/>
<text x="201.2" y="1222.5" font-size="17" textLength="9.5" lengthAdjust="spacingAndGlyphs">5</text>
<line x1="212.1" y1="1129.7" x2="213.9" y2="1129.7" stroke="#5a5a5a" stroke-width="1"/>
<text x="191.7" y="1134.3" font-size="17" textLength="18.9" lengthAdjust="spacingAndGlyphs">10</text>
<line x1="271.9" y1="1381.4" x2="271.9" y2="1383.5" stroke="#5a5a5a" stroke-width="1"/>
<text x="264.2" y="1396.9" font-size="17" textLength="15.1" lengthAdjust="spacingAndGlyphs">-4</text>
<line x1="367.3" y1="1381.4" x2="367.3" y2="1383.5" stroke="#5a5a5a" stroke-width="1"/>
<text x="362.6" y="1396.9" font-size="17" textLength="9.5" lengthAdjust="spacingAndGlyphs">0</text>
<line x1="462.7" y1="1381.4" x2="462.7" y2="1383.5" stroke="#5a5a5a" stroke-width="1"/>
<text x="458" y="1396.9" font-size="17" textLength="9.5" lengthAdjust="spacingAndGlyphs">4</text>
<g transform="translate(171.8,1311.3) rotate(-90)">
<text x="-1.4" y="0" font-size="17.5" textLength="70.5" lengthAdjust="spacingAndGlyphs">Mean log</text>
<text x="71.2" y="5.3" font-size="9.5" textLength="5.6" lengthAdjust="spacingAndGlyphs">2</text>
<text x="80.1" y="0" font-size="17.5" textLength="57" lengthAdjust="spacingAndGlyphs">TPM in</text>
</g>
<text x="257.3" y="1429.1" font-size="17" textLength="28.4" lengthAdjust="spacingAndGlyphs">Log</text>
<text x="285.8" y="1435.4" font-size="9.5" textLength="6.6" lengthAdjust="spacingAndGlyphs">2</text>
<text x="296.5" y="1429.1" font-size="17" textLength="100" lengthAdjust="spacingAndGlyphs">Fold Change</text>
<path d="M169.2,1115.1 C170.1,1115.3 171,1115.5 171.6,1117.2 C172.2,1118.9 172.7,1122 173,1125 C173.3,1128 173.1,1131.2 173.2,1135 C173.3,1138.8 173.4,1143.8 173.5,1148 C173.6,1152.2 174,1157.1 173.8,1160 C173.6,1162.9 172.9,1164.8 172.2,1165.5 C171.5,1166.2 170.5,1165.4 169.5,1164.5 C168.5,1163.6 167.2,1161.3 166,1160 C164.8,1158.7 164,1157.6 162.2,1156.7 C160.4,1155.8 157.4,1155.4 155,1154.7 C152.6,1154 149.4,1153.5 148,1152.5 C146.6,1151.5 146.2,1150 146.3,1148.5 C146.4,1147 147.1,1145.6 148.5,1143.5 C149.9,1141.4 152.8,1138.5 155,1136 C157.2,1133.5 160.5,1131.2 162,1128.5 C163.5,1125.8 163.5,1122.1 164.2,1120 C164.9,1117.9 165.4,1116.8 166.2,1116 C167,1115.2 168.3,1114.9 169.2,1115.1Z" fill="#f8a021" stroke="#231f20" stroke-width="0.9"/>
<ellipse cx="162.2" cy="1144.3" rx="7.4" ry="5.4" fill="#a8dcf4"/>
<circle cx="166.7" cy="1128.1" r="2.7" fill="#e8176f"/>
<circle cx="168" cy="1136.5" r="2.7" fill="#e8176f"/>
<circle cx="157.7" cy="1139.4" r="2.7" fill="#e8176f"/>
<circle cx="153" cy="1147.6" r="2.7" fill="#e8176f"/>
<circle cx="161.4" cy="1149.7" r="2.7" fill="#e8176f"/>
<circle cx="168.6" cy="1155.3" r="2.7" fill="#e8176f"/>
<path d="M405.1,1414.1 C405.5,1412.7 408.8,1412.6 410,1411.1 C411.2,1409.5 411.8,1407 412.5,1404.9 C413.1,1402.8 413,1400.3 413.9,1398.6 C414.7,1396.9 416.1,1395.6 417.4,1394.9 C418.7,1394.3 419.9,1394.1 421.5,1394.6 C423.1,1395.1 424.7,1396.3 427.1,1398.1 C429.4,1400 432.7,1403.2 435.5,1405.6 C438.3,1408 441.2,1410.8 444,1412.5 C446.7,1414.3 450.2,1414.9 452.1,1416 C453.9,1417.2 455.2,1418.6 455.2,1419.6 C455.3,1420.6 454.8,1421.6 452.5,1422 C450.2,1422.5 445.1,1422.2 441.5,1422.1 C437.9,1422 434,1421.6 430.9,1421.5 C427.8,1421.3 425.9,1421.1 422.8,1421.2 C419.8,1421.4 415,1422.5 412.5,1422.2 C409.9,1421.9 408.9,1420.7 407.6,1419.4 C406.4,1418.1 404.7,1415.5 405.1,1414.1Z" fill="#f8a021" stroke="#231f20" stroke-width="0.9"/>
<ellipse cx="425" cy="1410.1" rx="5.2" ry="7.2" fill="#a8dcf4"/>
<circle cx="422.5" cy="1401" r="2.5" fill="#e8176f"/>
<circle cx="430.4" cy="1406.3" r="2.5" fill="#e8176f"/>
<circle cx="420" cy="1409.4" r="2.5" fill="#e8176f"/>
<circle cx="414.4" cy="1416.5" r="2.5" fill="#e8176f"/>
<circle cx="433.4" cy="1416.2" r="2.5" fill="#e8176f"/>
<circle cx="441.8" cy="1415" r="2.5" fill="#e8176f"/>
<line x1="407.3" y1="1425.9" x2="452.5" y2="1425.9" stroke="#231f20" stroke-width="1.6"/>
<path d="M403.1,1454.4 C403.9,1453 407.5,1450.9 409.2,1448.9 C410.9,1447 412.4,1445.1 413.4,1442.8 C414.5,1440.4 414.5,1436.7 415.5,1434.6 C416.5,1432.5 418,1430.9 419.5,1430.2 C421,1429.5 422.5,1429.5 424.5,1430.7 C426.4,1431.9 428.9,1435 431.3,1437.4 C433.7,1439.8 436.3,1442.8 438.9,1444.9 C441.4,1447.1 444.4,1449 446.5,1450.4 C448.7,1451.7 450.7,1452 451.8,1452.9 C453,1453.9 453.5,1455 453.4,1456 C453.3,1456.9 453,1458.1 451,1458.4 C449,1458.8 444.4,1458.1 441.2,1457.9 C438,1457.7 434.9,1457.3 431.7,1457.1 C428.6,1456.9 425.6,1456.8 422.2,1456.8 C418.8,1456.7 414.1,1456.8 411.2,1456.8 C408.3,1456.9 406.2,1457.3 404.9,1456.8 C403.5,1456.4 402.4,1455.7 403.1,1454.4Z" fill="#e3e3e3" stroke="#231f20" stroke-width="0.9"/>
<ellipse cx="424.6" cy="1445.5" rx="5.3" ry="7.3" fill="#a8dcf4"/>
<circle cx="541.1" cy="1057.2" r="3.2" fill="#a020f0"/>
<circle cx="541.1" cy="1077" r="3.2" fill="#cd0000"/>
<circle cx="541.1" cy="1096.2" r="3.2" fill="#0a64ff"/>
<circle cx="541.1" cy="1114.4" r="3.2" fill="#4d4d4d"/>
<text x="551.3" y="1060.2" font-size="16.5" textLength="206.5" lengthAdjust="spacingAndGlyphs">Markers from Shaffer et al.</text>
<text x="551.3" y="1080.7" font-size="16.5" textLength="287.9" lengthAdjust="spacingAndGlyphs">ECM Organization and Cell Migration</text>
<text x="551.3" y="1101.1" font-size="16.5" textLength="211.8" lengthAdjust="spacingAndGlyphs">MAPK &amp; PI3K/Akt signaling</text>
<text x="551.8" y="1120" font-size="16.5" textLength="160.8" lengthAdjust="spacingAndGlyphs">P-adj ≤ 0.1 &amp; abs(log</text>
<text x="712.5" y="1125.9" font-size="10" textLength="7.8" lengthAdjust="spacingAndGlyphs">2</text>
<text x="719.5" y="1120" font-size="16.5" textLength="55.8" lengthAdjust="spacingAndGlyphs">FC) ≥ 1</text>
<text x="128.3" y="1498.5" font-size="42" font-weight="bold" textLength="29.1" lengthAdjust="spacingAndGlyphs">D</text>
<text x="229.5" y="1513.9" font-size="16.8" textLength="181.2" lengthAdjust="spacingAndGlyphs">Fluorescence-activated</text>
<text x="278.2" y="1530.4" font-size="16.8" textLength="84" lengthAdjust="spacingAndGlyphs">cell sorting</text>
<path d="M249,1584.5 C254.2,1582.8 255.2,1583.6 262,1583.5 C268.8,1583.4 272.1,1583.5 278,1584 C283.9,1584.5 283.9,1583.9 287.5,1585.5 C291.1,1587.1 291.5,1586.5 293.5,1591 C295.5,1595.5 295.3,1593.6 296,1605 C296.7,1616.4 296.5,1624.8 296.5,1640 C296.5,1655.2 297.1,1660.2 296,1670 C294.9,1679.8 295.7,1678.7 292,1682 C288.3,1685.3 287,1683.4 280,1684 C273,1684.6 270.2,1684.5 262,1684.5 C253.8,1684.5 251.5,1684.6 245,1684 C238.5,1683.4 237.4,1685.3 234,1682 C230.6,1678.7 231.4,1679.8 230.5,1670 C229.6,1660.2 229.9,1652.1 230,1640 C230.1,1627.9 230.1,1626.6 231,1618 C231.9,1609.4 232,1609.3 234,1603 C236,1596.7 236,1595.3 239.5,1591 C243,1586.7 243.8,1586.2 249,1584.5Z" fill="url(#facsg)"/>
<path d="M235.5 1614.3h0M235 1617.3h0M236 1589.2h0M284 1601.3h0M296 1665.8h0M242.6 1680.9h0M231.7 1682.2h0M230.1 1610.7h0M230.5 1648.5h0M283.7 1677.2h0M231.1 1644.9h0M248.1 1600.4h0M260.4 1585.5h0M276.2 1603.5h0M243.7 1675.7h0M234.7 1628.4h0M262.6 1585.9h0M284.8 1589.6h0M238.7 1598.3h0M243.4 1670.6h0M295.8 1637h0M295 1678.1h0M285.3 1675.8h0M292.8 1596.3h0M288.1 1607h0M290.2 1596.8h0M230.2 1603.7h0M293 1592.8h0M233.3 1681h0M242.5 1600h0M290.9 1673.6h0M278.9 1590.3h0M284.9 1590.8h0M245.9 1587.4h0M234.1 1676.3h0M296.1 1608.1h0M270.7 1594.9h0M281 1602.6h0M272 1593.6h0M282 1605h0M234.6 1614.3h0M248.5 1597.7h0M234.8 1591.4h0M234.8 1648.3h0M292.1 1625.3h0M286.5 1674.5h0M295.1 1648.9h0M254.9 1600.3h0M233.3 1630.3h0M239.9 1599.2h0M234.7 1610.8h0M292.3 1592.4h0M286.1 1592.5h0M238.7 1592.7h0M239.8 1595.8h0M230.3 1617.1h0M234.7 1608.2h0M286.3 1602.1h0M231.2 1601.5h0M273.3 1586.9h0M286.8 1671.1h0M269.9 1590.2h0M291.9 1682.5h0M235.8 1664.6h0M293.4 1683.7h0M278.2 1596.9h0M282.8 1600h0M241.4 1598.6h0M230.2 1634.1h0M234 1676.5h0M233.2 1625.3h0M290.4 1597.6h0M231.7 1624.5h0M273.8 1589h0M290.2 1630.6h0M255.4 1590.5h0M247.9 1584.9h0M241.6 1610h0M264.8 1588.7h0M231.8 1598.5h0M270.1 1586.3h0M239.2 1604.1h0M288.9 1607.2h0M272.6 1592.3h0M277.3 1585.4h0M295.8 1617.4h0M237.6 1621.8h0M232.4 1656.5h0M251.8 1585.7h0M233 1639.7h0M237.2 1590.7h0M235.5 1617.5h0M275.9 1601.3h0M236.3 1597.7h0M288.7 1603.2h0M254.2 1593.3h0M237.1 1601.7h0M241.5 1596.2h0M237.9 1595h0M259.9 1589.6h0M290.8 1608.9h0M291 1680.8h0M230.6 1648.2h0M233.6 1630.6h0M294.2 1675.3h0M230.7 1619.2h0M257.6 1588.6h0M287.7 1593.7h0M288.6 1682.3h0M236.7 1677.6h0M294.3 1641.5h0M234.9 1684.4h0M236.8 1595.2h0M237.5 1673h0M261.6 1586.2h0M233.4 1668h0M281 1593.5h0M284.6 1593.1h0M294.6 1657h0M246.2 1585.1h0M282.5 1609.8h0M232.7 1679.5h0M291.2 1593.5h0M289.2 1589.3h0M265 1591h0M262.5 1591.1h0M294.5 1678.3h0M283.8 1683.5h0M234.4 1661.6h0M245.9 1605.4h0M295.3 1678.9h0M233.9 1602h0M244.4 1590.9h0M283.7 1683.2h0M242.2 1680.2h0M243.6 1585h0M231.9 1609.8h0M289.9 1599.7h0M246.6 1676h0M279.1 1589h0M251.8 1678.5h0M295.4 1662.7h0M231.4 1671.8h0M294.5 1648.9h0M291.3 1608.9h0M258.8 1594h0M232.2 1656.2h0M237.9 1588.6h0M289.7 1629.8h0M289.6 1605.5h0M241.2 1611.1h0M247 1584.7h0M244.5 1585.3h0M273.1 1594.4h0M230.2 1605.7h0M234 1661.5h0M231.4 1665.2h0M233.5 1602.2h0M233.1 1633.7h0M231.3 1602.5h0M240.6 1600.4h0M241.8 1623.5h0M282.9 1589.4h0M273 1589.7h0M288.1 1679.3h0M283 1682.6h0M233 1593.1h0M244.8 1586.1h0M240.2 1589.6h0M252.8 1595.4h0M233.4 1652.5h0M293.5 1617.5h0M294.5 1646.7h0M261 1595.2h0M289.5 1682.9h0M292.6 1614.2h0M290.5 1591.6h0M279.3 1586.1h0M251.5 1602.7h0M237.3 1591h0M230 1629.7h0M237.7 1666.2h0M290.9 1681.5h0M275.2 1599.3h0M235.4 1597.9h0M237.3 1599.9h0M253.8 1586.3h0M231.1 1615.6h0M283.6 1591.6h0M284.9 1677.8h0M293.7 1600.6h0M284.5 1595.5h0M232.5 1612.4h0M285.6 1590.3h0M236.6 1617.4h0M244.8 1608.2h0M247.2 1593.5h0M295.7 1683.1h0M268.1 1590.7h0M284.8 1681.8h0M260.7 1584.5h0M276.7 1593h0M244.6 1584.5h0M232.8 1596.4h0M290.3 1677.9h0M234.2 1593.2h0M294.5 1596.1h0M233.2 1674.3h0M277.3 1587h0M240.3 1588.1h0M239.8 1682.6h0M292.2 1678.1h0M265.9 1588.8h0M255.9 1684.4h0M238.5 1614.3h0M284.6 1605.2h0M252.8 1588.8h0M237.3 1591.2h0M232.3 1603.6h0M246.9 1587.8h0M293.2 1604.3h0M289.1 1598.8h0M270.7 1679.3h0M230.9 1620.8h0M290.2 1680.5h0M242.3 1591.2h0M255.5 1592h0M230.2 1643.9h0M295.9 1632.5h0M278.1 1600.5h0M235.1 1671.5h0M240 1606.9h0M245.4 1683.6h0M294.5 1659.5h0M230.4 1600h0M269.5 1592.4h0M245.7 1602.3h0M283.2 1608.6h0M248.6 1680.2h0M280 1599.1h0M244.3 1596.1h0M274.7 1587.7h0M281.9 1590h0M241.8 1590h0M279.1 1683.1h0M283.6 1611.8h0M233 1642.8h0M269.9 1590.1h0M281 1590.7h0M232.5 1601.3h0M234.5 1597.4h0M234.1 1679.4h0M293.9 1638.6h0M276 1593.8h0M232.8 1608h0M282.2 1682.7h0M276.7 1591.2h0M241.4 1681h0M240.6 1587.2h0M246.4 1681h0M231.7 1625.6h0M234.3 1671h0M296 1676.6h0M286.4 1661.2h0M283.3 1589.5h0M244.4 1599.1h0M292.6 1666.1h0M251.1 1588.4h0M240.9 1613h0M257.3 1590.5h0M238.9 1605.6h0M230.9 1654.5h0M245.5 1591.7h0M292.8 1674.2h0M293.9 1613.9h0M243.6 1606.9h0M295.6 1613h0M248.3 1593.4h0M240.9 1609.7h0M239.3 1591.9h0M230.6 1672.9h0M240.7 1590.6h0M290.3 1596h0M279 1591.7h0M296.4 1682.4h0M262.1 1589.3h0M230.4 1675h0M285.1 1592.6h0M279.9 1592.4h0M234.6 1638.3h0M239.9 1588h0M272 1593.5h0M231.6 1638.5h0M287.5 1610.7h0M243.2 1593.3h0M274.2 1586h0M235.1 1595.1h0M264.9 1586.3h0M237 1595.4h0M238.4 1603.8h0M268.5 1585.6h0M293.5 1660.9h0M291.8 1594.7h0M230.5 1621.9h0M242.3 1597.2h0M295.6 1655h0M295.3 1633.5h0M295.6 1659.4h0M244.6 1590.7h0M289.8 1589.7h0M295.2 1612.8h0M251.4 1680.9h0M231.6 1609.7h0M290.6 1607.2h0M282.6 1587h0M248.2 1603.4h0M272.8 1586.9h0M236.4 1607.8h0M240.2 1606.5h0M286.2 1609.8h0M232.9 1673.9h0M288.7 1678.3h0M274.1 1586.1h0M271.2 1589.2h0M294.6 1684h0M231.7 1605.1h0M230.2 1626.7h0M235.6 1668.5h0M248.9 1599h0M294.7 1671.2h0M259.1 1587.9h0M293.5 1600.1h0M295.2 1666.9h0M231.8 1668.1h0M237.8 1601.1h0M230.4 1659.7h0M247.1 1593.9h0M241.2 1597.7h0M295.4 1681.3h0M272.3 1592.1h0M248.2 1590.8h0M294 1657h0M259.1 1585.6h0M267.9 1590.2h0M249.7 1599.7h0M231.6 1664.1h0M230.2 1612.6h0M273.5 1683.6h0M243.4 1585h0M277.1 1599.9h0M234.3 1595.5h0M292 1620.3h0M238.3 1682.8h0M277.4 1589.9h0M236.4 1596.2h0M292.9 1682.8h0M239.1 1607.5h0M293.7 1607.3h0M236.7 1659.3h0M234.3 1630.3h0M255.2 1585.5h0M234 1679.9h0M232 1612.2h0M284.1 1599.1h0M292.2 1592h0M290.4 1682.5h0M237.3 1591.7h0M264 1590.9h0M244 1607.8h0M274.5 1608.5h0M234.9 1674.6h0M240.7 1615.4h0M231.3 1641.3h0M288.9 1589.3h0M231.7 1659.5h0M291.9 1666.8h0M257.4 1584.6h0M273.7 1599.5h0M232.4 1652.6h0M272.2 1590.4h0M281.1 1592.2h0M284.2 1594.3h0M289 1683.5h0M291.2 1620.6h0M292.3 1682.8h0M233.4 1678.2h0M232.2 1631.1h0M293.6 1609.6h0M234 1676h0M287 1599.5h0M270.6 1598.8h0M289 1593.8h0M259.5 1592.4h0M231.8 1663.5h0M273.1 1587.5h0M293.7 1633.9h0M235.2 1598.6h0M282.4 1595.8h0M244.1 1682.1h0M247.1 1597.3h0M267.2 1600h0M248 1597.8h0M237.2 1616.8h0M233 1602.7h0M296.2 1683.3h0M295 1611.5h0M296 1623.9h0M293.2 1604.2h0M235.6 1631.6h0M230.1 1620.4h0M292.2 1597.3h0M264.8 1683.8h0M281.4 1605h0M266.9 1584.5h0M286.2 1602.4h0M277.2 1598.2h0M249.5 1587.6h0M242.5 1600h0M290.1 1591.6h0M232.2 1624.4h0M293.1 1644h0M291.6 1645.3h0M243.5 1589.4h0M292.2 1652.7h0M253.1 1596.3h0M293.9 1661.6h0M236.2 1640.3h0M291.8 1594.3h0M234.7 1597.2h0M236.4 1672.1h0M230.9 1606.6h0M294.6 1621h0M294.8 1662.7h0M245.7 1603.5h0M259.8 1595h0M287.5 1598.2h0M242.3 1598.3h0M234.5 1680.7h0M237.2 1605.3h0M294 1659.7h0M281.1 1590.9h0M272.9 1588.6h0M292.9 1605.3h0M239.7 1663.9h0M246.8 1595.2h0M242.3 1604.4h0M285.5 1594.8h0M243.7 1596.6h0M250.8 1588.7h0M292.5 1672.7h0M237.2 1613.8h0M286.7 1668.9h0M292.2 1626.1h0M239.1 1679.8h0M289.3 1599.9h0M234.9 1611.2h0M279 1595.6h0M230.5 1667.3h0M289.1 1665.4h0M240.8 1606.3h0M277.6 1584.3h0M258.6 1584.2h0M295.7 1654.5h0M231 1611.8h0M237.3 1589.5h0M251.3 1584.8h0M232.4 1638.5h0M278.2 1588.2h0M289.9 1610.8h0M254.7 1584.2h0M287.6 1681.2h0M232.4 1615.1h0M235.6 1603.1h0M286.9 1679.5h0M291.6 1673h0M296.3 1633.5h0M234.9 1675h0M258.4 1585.5h0M296.5 1646.4h0M268.1 1587.3h0M250.4 1590.6h0M284.4 1679.6h0M269.7 1591.7h0M232.4 1642.2h0M233.8 1603.3h0M236.7 1607.9h0M251.8 1586.4h0M231.6 1609.2h0M238.8 1612h0M278.8 1587.1h0M236.5 1631.3h0M265.7 1588.6h0M234.4 1603.8h0M245.9 1606.9h0M280.6 1585.3h0M280 1588.7h0M245.1 1683.7h0M230.7 1647.7h0M295.7 1648.3h0M227.9 1639.3h0M272.3 1585.1h0M296.4 1607.4h0M295.8 1608.3h0M233.7 1599.1h0M296.4 1660.5h0M230.4 1650.8h0M301.5 1632.6h0M286.6 1584.6h0M228.9 1631.8h0M291.7 1630.8h0M282.4 1586.6h0M294.9 1683.4h0M295 1614.7h0M293.8 1609.9h0M274 1685.3h0M244 1684.6h0M235.1 1611.1h0M298 1633h0M248.6 1686.2h0M292.9 1672.3h0M295.6 1674h0M231.1 1641.8h0M296.7 1677.5h0M290 1684.9h0M295.6 1667h0M297.1 1651.2h0M271.6 1580.4h0M292.5 1680.3h0M261.2 1579.9h0M296.1 1629.8h0M285.1 1680h0M228.1 1630.8h0M247.4 1685.3h0M233 1598h0M296 1657.5h0M295.2 1671.6h0M289.1 1593.5h0M270.7 1685.5h0M231.2 1669.4h0M281.6 1682.7h0M293.8 1674.6h0M232.7 1605.2h0M231.1 1621.8h0M295.5 1676.2h0M296.5 1614.2h0M296 1612.9h0M295.8 1605.8h0M229.8 1634.6h0M271.9 1681.7h0M289.6 1586.6h0M279.3 1684.5h0M244.8 1586.5h0M293.8 1639.1h0M250 1688.6h0M288.1 1586h0M292.9 1595.1h0M276.1 1684.8h0M296.6 1663h0M237.3 1594.9h0M297 1610.6h0M277.6 1681.9h0M271.4 1582.4h0M238 1591.1h0M246.7 1682h0M231.4 1616.5h0M234.3 1605h0M229.7 1668h0M297.9 1609h0M229.5 1624.1h0M230.7 1661h0M245.6 1582.3h0M231.3 1656.6h0M227 1660.6h0M230.5 1648.4h0M267.2 1581.9h0M296.2 1603h0M262.9 1685.7h0M228.3 1657.7h0M294.3 1678.2h0M294.9 1621.2h0M295.5 1620.2h0M228.6 1632.4h0M289.9 1584.4h0M294.6 1611.4h0M264.7 1581.9h0M295.9 1607.9h0M234.9 1601.6h0M241.8 1588.3h0M250.9 1585.5h0M266.1 1584.4h0M268 1582.6h0M266.6 1581.4h0M293.5 1678.9h0M277.2 1686.4h0M270 1681.2h0M297.2 1608.5h0M300.2 1631.8h0M257.3 1687.9h0M294.5 1623h0M227.7 1667.4h0M299.2 1616.6h0M263.5 1585.8h0M293.2 1588.9h0M294.8 1627.3h0M232.8 1678.5h0M229.6 1623.2h0M255.7 1583.6h0M232.6 1638h0M296.9 1646.2h0M297.4 1660.5h0M228.3 1649.2h0M236.1 1681h0M294.5 1596.2h0M232.1 1678h0M291.6 1676.9h0M294.5 1672.5h0M273.4 1683.3h0M279.5 1683.6h0M299.1 1629.7h0M279.4 1683.3h0M295.7 1646.4h0M298 1647.5h0M283.5 1680.9h0M294.4 1636.4h0M235.2 1677.3h0M297.1 1656.5h0M233.3 1668.9h0M277 1681.6h0M295.1 1677.9h0M283.3 1584.3h0M233.1 1672.4h0M233.3 1612.3h0M295.1 1606.8h0M296.7 1631.7h0M279.9 1584h0M277.6 1584.3h0M255.5 1685.1h0M231.2 1673.4h0M296.6 1675.1h0M276.8 1582.6h0M245.1 1684h0M279.8 1584.1h0M297.6 1645.5h0M232.8 1644.1h0M229.8 1611.5h0M291 1643.7h0M233.6 1671.4h0M264.4 1689h0M231.5 1598.6h0M283.9 1586.4h0M257.5 1682.9h0M232.2 1647.2h0M246.7 1584.6h0M288.1 1679.2h0M299.7 1636.4h0M262.9 1686.1h0M229.8 1647.6h0M287.5 1682.4h0M245.4 1587.6h0M287 1584.7h0M266.4 1684.4h0M297.9 1601.3h0M241.2 1592.8h0M287.8 1588.6h0M296 1609.2h0M243.7 1590.4h0M230.2 1658.8h0M230.5 1643.1h0M229.2 1657.4h0M232.6 1605.7h0M295.3 1596.9h0M298.9 1638.3h0M290.9 1588.5h0M293.6 1665.6h0M281.3 1585.6h0M293.7 1589.8h0M292.4 1678.8h0M228.8 1643.8h0M281.6 1584.4h0M230.9 1608.7h0M239.2 1681.9h0M268.9 1681.2h0M293.5 1621.6h0M231 1652.2h0M231.7 1677.8h0M234 1675.7h0M294 1626.2h0M231.1 1602.7h0M293.6 1683.3h0M252 1584.8h0M286.1 1590.1h0M295.8 1594.5h0M290 1590.2h0M232.1 1617.4h0M288.4 1582.8h0M297.3 1631.2h0M229.9 1615.2h0M243.7 1583.6h0M246 1586.9h0M295.4 1655.2h0M230.2 1632.8h0M298.6 1661.8h0M231.3 1617.4h0M258.4 1686.1h0M271.1 1683.5h0M257.8 1685.4h0M248.3 1684.3h0M240.7 1684.6h0M295.6 1642.7h0M245.2 1586.9h0M269.8 1688h0M267.6 1683.1h0M276.6 1682.2h0M247.5 1684.4h0M297.3 1657.1h0M234 1680.1h0M229.8 1623.1h0M291.1 1587.5h0M229.6 1647.9h0M294.5 1601.6h0M287.3 1585.2h0M282.1 1585.4h0M294.6 1680.5h0M294.5 1597.3h0M297.7 1646.6h0M295.8 1643h0M234.1 1628.5h0M274.6 1583h0M230.9 1654.1h0M276.8 1683.6h0M283.4 1584.6h0M232.6 1626h0M265.8 1583.8h0M295.1 1653.9h0M271.8 1683.8h0M241.9 1590.8h0M227.6 1637.6h0M251.3 1687.2h0M229.9 1653.9h0M240.1 1684.7h0M296.8 1611.4h0M237.4 1588.2h0M264.7 1584h0M295 1595.9h0M295.5 1651h0M259.9 1587.9h0M257.3 1583.3h0M247.2 1582.3h0M254.1 1585h0M232.7 1603.1h0M244.7 1585.1h0M282.7 1587.6h0M298.9 1667.1h0M288.9 1682.9h0M234.1 1605.3h0M294.4 1637.3h0M267.6 1685.5h0M237.8 1592.1h0M281.5 1581.6h0M296.4 1664.7h0M273.6 1584.4h0M294.8 1593.9h0M228.4 1641.5h0M296.2 1648.7h0M228.5 1669h0M230.7 1626h0M278.7 1585.3h0M294.9 1676.3h0M267.5 1582.8h0M296.3 1669.9h0M290.4 1590.8h0M231.3 1666h0M297.2 1605.5h0M280 1682.2h0M297.8 1636.9h0M258.8 1584.9h0M243.8 1589.3h0M230.3 1632h0M298.1 1609.4h0M245.1 1585.7h0M231.4 1667.9h0M295.1 1651h0M232 1611.1h0M292.9 1592.7h0M282.8 1580.9h0M233.7 1605.1h0M247.7 1684.4h0M296.3 1638.2h0M230.1 1657.5h0M250.2 1583.8h0M238 1596.8h0M294.3 1677h0M295.9 1671.6h0M266.8 1584.1h0M240.1 1593.9h0M260.2 1686.8h0M295.3 1636.3h0M229.7 1643.2h0M230.7 1620.8h0M228.1 1617.2h0M294.3 1635.8h0M241.6 1587.3h0M248.8 1586.8h0M241.2 1588.6h0M230.5 1613h0M279.9 1585h0M288.5 1588.2h0M269.8 1583.2h0M254.5 1584h0M232.2 1605h0M233.6 1620.6h0M297.6 1660.3h0M292 1654.6h0M296.3 1666.5h0M275.7 1584.5h0M297.3 1660.9h0M265 1581.4h0M294.3 1591.3h0M262.5 1582.4h0M230 1633.3h0M234.2 1610.7h0M228.9 1651.3h0M277.1 1684.3h0M248.4 1681.8h0M293.6 1657h0M286.8 1588.9h0M281.9 1584.4h0M231.6 1605.9h0M236.6 1683.9h0M230.8 1640.4h0M285 1581.4h0M261.8 1579.8h0M295.2 1595.9h0M231.8 1632h0M239.5 1590.3h0M237.8 1594.2h0M295.9 1616.6h0M269.3 1685.3h0M247 1585.3h0M291.2 1588.1h0M293.5 1657.5h0M231.7 1608.8h0M244.6 1587.9h0M229.2 1624.2h0M233.5 1603.1h0M231.9 1651.9h0M248.7 1685.9h0M296 1597.2h0M232.3 1674.8h0M230.1 1652.3h0M238.5 1588.5h0M275.5 1583.6h0M296.3 1668.6h0M293.4 1680h0M246.2 1684.4h0M266.4 1682.4h0M298.6 1609.3h0M282.6 1680.5h0M294 1646.7h0M298 1632.7h0M231 1617h0M241.9 1588.6h0M291.4 1678.6h0M228 1650.4h0M254.4 1585h0M260.1 1587h0M230.9 1608h0M230.2 1665.3h0M230.3 1622.2h0M291.9 1590.9h0M228.4 1633.4h0M289.4 1587.4h0M229.8 1639.6h0M236.4 1588.2h0M257.2 1583.1h0M276.4 1585.6h0M231 1662.2h0M231.9 1629.6h0M296.3 1669.8h0M258.6 1584.9h0M236.8 1586.1h0M295.7 1603.9h0M299.6 1629.5h0M231.6 1667.5h0M237.6 1601.4h0M257.4 1686.7h0M263.9 1584.1h0M233.8 1612.3h0M293.9 1593.8h0M286.8 1682.3h0M295.6 1656.7h0M254.4 1686.4h0M253.6 1684.7h0M287.2 1586.6h0M268.3 1680.7h0M279.2 1683.7h0M233.5 1607.8h0M233.2 1606.6h0M232.4 1676.6h0M284.2 1585h0M254.4 1581.5h0M294.7 1615.7h0M295.9 1662.9h0M230.4 1647.6h0M297.7 1657.7h0M297.1 1671.5h0M295.5 1595.7h0M255.6 1680.7h0M297.4 1622.4h0M230.5 1652.2h0M266 1583.3h0M297 1666.6h0M284 1682.4h0M230.1 1629.4h0M297.1 1651.4h0M296.7 1611h0M240 1685.4h0M297.4 1647.3h0M299.6 1635h0M260.6 1684.1h0M249.1 1686.7h0M234.8 1601.1h0M263.9 1688h0M255.4 1584.7h0M228.7 1653.8h0M296.3 1671.8h0M227.4 1641.6h0M295.3 1631.6h0M230.6 1612.1h0M253.7 1685.3h0M296.9 1658.1h0M294.6 1619.8h0M262.7 1583.4h0M232 1629.1h0M261.3 1685.4h0M294.2 1663.6h0M295.6 1677.1h0M230.3 1637.4h0M266.3 1582.5h0M293.4 1646.7h0M251.9 1582.3h0M231.2 1644.5h0M296.9 1650.7h0M235.5 1600.6h0M256.4 1689.8h0M229.6 1618.8h0M291 1589.2h0M294.6 1653.2h0M295.5 1595.4h0M275.4 1684h0M297.3 1658.1h0M295.1 1661.5h0M296.2 1636.6h0M226.2 1654h0M292.8 1595.8h0M250.8 1685.5h0M243.7 1588.8h0M244.9 1585.7h0M230.9 1615.6h0M296.7 1603.6h0M296.3 1615.1h0M233.1 1603.4h0M276.1 1584.9h0M294 1649.8h0M275.1 1582.7h0M232.2 1674.8h0M230.6 1662.4h0M297.1 1651.2h0M270.9 1587.1h0M230.1 1647.5h0M295.1 1670h0M297.9 1648.9h0M233.6 1603h0M231.2 1636.9h0M250.8 1583.7h0M292 1679.2h0M275.1 1686.9h0M257 1583.7h0M244.4 1587.7h0M296.4 1600.9h0M285.8 1681.7h0M289.2 1588.7h0M295.8 1661h0M296.2 1613.9h0M236.9 1598h0M252.5 1684.5h0M260.9 1685.1h0M231.2 1653.8h0M230.7 1672.8h0M228.9 1647.2h0M229.3 1656.7h0M280.7 1583.3h0M260.7 1688.5h0M229.7 1620.3h0M281.9 1683.9h0M295.7 1610.2h0M238.7 1589.5h0M237.7 1596h0M295.5 1632.3h0M298.2 1668.5h0M298.3 1615.9h0M284.6 1682h0M235.3 1600.3h0M296.8 1622.6h0M297.9 1650.8h0M234 1606.6h0M268.9 1683.9h0M295.1 1621.3h0M246 1585.3h0M297.1 1650.4h0M263.4 1684.9h0M297.9 1662.2h0M235.2 1625.3h0M297.3 1613.5h0M297.4 1660.1h0M229.1 1663.7h0M229.7 1636.7h0M235.4 1680.3h0M240.6 1585.5h0M269.5 1683.7h0M274.6 1683.3h0M296.4 1609.2h0M260.8 1682.6h0M234.8 1607.2h0M258.6 1684.8h0M294.4 1591.8h0M271.2 1684.2h0M254.4 1685.6h0M231.1 1621.5h0M234.6 1681.3h0M238.6 1592.1h0M238.6 1597.9h0M270.2 1585.8h0M229.4 1651h0M231.6 1619.9h0M298.1 1668.1h0M253 1683.2h0M253.6 1681.3h0M286.7 1683.1h0M237.7 1595.7h0M294.9 1610.6h0M241.4 1683.4h0M294.7 1649.2h0M260.5 1582.1h0M262.4 1683.7h0M298.5 1652.8h0M293.4 1634.5h0M267 1685.7h0M229.8 1649.7h0M231.7 1634h0M295.8 1667.9h0M232.3 1674.4h0M308.1 1668h0M228.3 1646.7h0M229.4 1627.2h0M306.6 1646.3h0M309.8 1593.4h0M305 1653.1h0M300.1 1598.5h0M305.4 1675.3h0M313.4 1658.3h0M315.8 1614.6h0M224.6 1636.7h0M313.1 1645.4h0M297.9 1628h0M215.5 1687.9h0M302.3 1613h0M309.3 1628.3h0M307.4 1598.5h0M228.9 1646.6h0M307.6 1671.2h0M300.1 1642.9h0M308.9 1640.6h0M224.9 1615.9h0M225.2 1687.8h0M301.6 1645.9h0M299.8 1648.2h0M307.9 1643.6h0M305.2 1650.6h0M304.3 1609.1h0M230 1620.9h0M298.8 1633.4h0M228.1 1645.5h0M297.5 1611.4h0M297.6 1620h0M305.4 1657.2h0M301.6 1662.6h0M229.1 1614.5h0M297.8 1637.9h0M299.8 1624.4h0M298.2 1630.1h0M217.8 1657.1h0M318.5 1628.7h0M227.5 1637.4h0M224.3 1605.4h0M300.4 1685.5h0M229.4 1644.7h0M306.4 1622.3h0M301.6 1664.1h0M313.3 1659.9h0M228.8 1622.5h0M224.7 1586.5h0M223.1 1662h0M297.5 1659.1h0M299.7 1617.8h0M298.8 1644.6h0M227.3 1607.1h0M299.2 1658.9h0M298.3 1644.1h0M300.4 1644h0M302.6 1641.3h0M298.4 1628.3h0M311.3 1664.5h0M305.7 1621.3h0M300.6 1598.6h0M298.3 1647.2h0M300.5 1632.7h0M227.1 1604.7h0M229 1631.7h0M312.7 1624.9h0M228.7 1644.7h0M299.1 1615.3h0M304 1631.6h0M308.3 1608.1h0M229.3 1649.8h0M228.4 1652.3h0M228.6 1644.2h0M306.3 1660.3h0M298.6 1611.7h0M224.9 1658.7h0M297.7 1604h0M228.2 1610.8h0M298.4 1673h0M224.6 1624.1h0M301.9 1627.7h0M228.6 1612.8h0M309.6 1623.2h0M228.4 1658.8h0M225.3 1666.5h0M314.4 1616.1h0M297.2 1607.4h0M297.3 1677h0M303.9 1636h0M216.8 1629.6h0M314.3 1648.3h0M306.4 1660.1h0M298.2 1643.7h0M226.2 1636.7h0M307 1603h0M297.3 1636.1h0M298.5 1651.3h0M299 1618.5h0M301.4 1654.6h0M297.6 1658.8h0M302.3 1624.6h0M224.8 1638.2h0M297.9 1647.7h0M228.1 1602.1h0M307 1631.9h0M299.2 1624.8h0M310.7 1609.4h0M297.2 1620.4h0M225.5 1658.7h0M229 1631.7h0M305.4 1634.3h0M303.3 1626h0M305.6 1656.4h0M297.2 1626.4h0M298.5 1644.8h0M226.7 1617.3h0M299.1 1648.7h0M298.6 1653.2h0M302.1 1604.4h0M298 1600h0M297.4 1667.9h0M303.8 1599.5h0M216.2 1602.6h0M318.7 1670.7h0M305.2 1592.2h0M311.1 1660.5h0M300.8 1660.1h0M229 1592.9h0M229.7 1644.1h0M229.1 1672.2h0M299.6 1598.9h0M307.5 1664.4h0M227.7 1611.4h0M305.7 1618.8h0M226.3 1633.2h0M304.6 1657.5h0M297.8 1673.8h0M303 1606.5h0M306.3 1652.8h0M301.9 1630.7h0M229.5 1658.9h0M227.9 1635.4h0M297.7 1681h0M299.3 1625.3h0M297.2 1657.2h0M314.4 1662.8h0M299.2 1631.1h0M299.7 1666.9h0M300.9 1588.5h0M302.3 1617.3h0M306.3 1652.7h0M307.7 1677.1h0M228.8 1624.1h0M225.4 1625.8h0M299 1630.8h0M218.6 1618.7h0M224.7 1607.8h0M304.8 1649.6h0M316.7 1684.3h0M222.9 1654.8h0M220.5 1631.2h0M222.1 1653.5h0M316.3 1599.1h0M305.6 1642.3h0M310.9 1624.8h0M299 1641.1h0M300.7 1612h0M220.9 1672.6h0M297.3 1665.9h0M307.3 1626.4h0M297.7 1645.2h0M298.8 1666.4h0M222.9 1640.7h0M221 1661.4h0M303.4 1639.8h0M303.7 1626.8h0M318.8 1648.8h0M303.2 1636.6h0M313.5 1620.7h0M299.9 1664.6h0M301.4 1625.1h0M297.9 1644.2h0M306.6 1652.2h0M307 1643.8h0M298.3 1649.2h0M315.9 1625.2h0M298.6 1635.6h0M228.2 1656.6h0M297.2 1640.5h0M298.4 1607.8h0M218.7 1658.4h0M227.7 1639.7h0M298.9 1672.7h0M297 1668.4h0M298.9 1665.3h0M300.1 1660.2h0M312.2 1650.6h0M301.6 1659h0M297.3 1637.8h0M226.9 1628.7h0M300.2 1612.1h0M299.1 1638.7h0M305 1599.2h0M227.4 1645.2h0M305.8 1617.9h0M227.3 1674.6h0M298.9 1610.2h0M304 1600.3h0M300.1 1647.1h0M220 1595.4h0M302.5 1614.9h0M318.3 1666.2h0M299.8 1611.4h0M304.1 1637.3h0M303.1 1639.3h0M218.8 1630.3h0M228.4 1621.7h0M297.8 1605h0M221 1670.6h0M302.4 1627.2h0M227.9 1668.7h0M304.3 1680.6h0M307.6 1646.7h0M301.9 1629.7h0M307.8 1617.2h0M298 1644.2h0M229.5 1630.5h0M305.6 1632h0M302.1 1629.3h0M226.1 1632.2h0M301.9 1656.4h0M301.3 1604.4h0M300 1624.2h0M300.7 1628h0M301.1 1618.6h0M229.1 1605.9h0M229.9 1665.4h0M304.2 1683.5h0M309.1 1646h0M226.3 1617.1h0M228.7 1616.1h0M227.3 1663.7h0M309.2 1609.7h0M300.2 1653.6h0M302.4 1642.8h0M230 1672.1h0M301 1639.3h0M217.5 1616.5h0" stroke="rgb(255,25,0)" stroke-width="1.1" stroke-linecap="square" fill="none"/>
<path d="M235.3 1666.4h0M265.5 1589.1h0M231.1 1630.8h0M291.8 1631.4h0M295.5 1661.1h0M291.7 1667.2h0M246.2 1602.5h0M259.8 1589.2h0M289.7 1622.6h0M286.8 1670.4h0M286.2 1607.5h0M278.3 1601.4h0M293.3 1657.4h0M238 1629.7h0M270.8 1585.9h0M242.4 1606.4h0M246.8 1676.9h0M245 1680.3h0M232.5 1603.1h0M254.9 1593.1h0M294.2 1626.3h0M239.8 1660.7h0M280.6 1588.2h0M236.9 1674.9h0M235 1652.7h0M235.7 1673.1h0M292.4 1679.8h0M284.4 1614.4h0M295.7 1650.1h0M295.8 1652.3h0M258 1598.1h0M241.7 1605.4h0M241.8 1611.9h0M239.9 1668.7h0M234.2 1614.5h0M278 1607.5h0M284.2 1604.3h0M294.2 1641h0M241.4 1624.4h0M257.4 1584.6h0M239.9 1662h0M291.3 1639.5h0M237.5 1667.9h0M237.6 1629h0M232.6 1654.6h0M245.3 1590h0M290.9 1603.1h0M261.6 1600.7h0M244.8 1614h0M292.9 1651.7h0M271 1607.2h0M283.6 1607.5h0M244.9 1609.1h0M288.5 1604.1h0M288.8 1606.3h0M230.7 1647.9h0M233.1 1622.5h0M230.6 1618.7h0M242.3 1606.5h0M245.4 1608.7h0M284.2 1598.1h0M293.4 1608.9h0M262.7 1595.4h0M290.6 1614.9h0M294.6 1624.4h0M280.2 1604.8h0M236.9 1669.3h0M293.9 1645.8h0M257.4 1596.6h0M236.7 1664.3h0M238 1592.1h0M287.7 1598.9h0M234.4 1609.9h0M280 1609.6h0M269.9 1682h0M293.5 1660.5h0M282.9 1628.4h0M237.1 1616h0M291.8 1629.9h0M289.3 1599.5h0M238.3 1613.9h0M289 1681.6h0M230 1662.3h0M255.2 1589.7h0M243.2 1673.4h0M294.2 1602.8h0M294.5 1629.7h0M237.5 1637.3h0M240.1 1617h0M290 1642.8h0M235.7 1653.8h0M235.2 1634.2h0M259.5 1591.7h0M242.6 1605.2h0M285.2 1614.2h0M233.5 1651.7h0M236.5 1684.2h0M281.3 1684.5h0M268.3 1680.2h0M273.2 1679.7h0M265.4 1602.5h0M281.9 1588.9h0M233.9 1610.8h0M234 1623.3h0M279 1680.8h0M266.2 1683.9h0M281.9 1609.7h0M242.6 1677h0M279.1 1680.9h0M258 1598h0M266.1 1585.5h0M289.2 1679.2h0M246.2 1601.3h0M285.5 1671.5h0M240.8 1619.6h0M233.3 1669.6h0M230.4 1654.8h0M283.4 1674.9h0M238.7 1603.8h0M278.3 1602.1h0M251.8 1598.3h0M239.2 1599.7h0M236.8 1612.5h0M290.3 1643.5h0M293.9 1596.6h0M231.5 1630.3h0M254.7 1594.6h0M290 1640.1h0M256.6 1591.2h0M238.1 1597h0M291.1 1664.4h0M294.6 1672.1h0M235.6 1600.5h0M232.3 1599.5h0M287.3 1665.8h0M235.4 1674h0M275.6 1594h0M296.4 1601.3h0M237.8 1619.3h0M262.2 1585h0M279.5 1589.2h0M252.3 1593.7h0M290.1 1679.3h0M239.1 1683h0M295.3 1680.9h0M233.2 1658.3h0M291.1 1657.5h0M274.8 1588.6h0M288.8 1659.3h0M239.9 1641.4h0M233.8 1651.9h0M280.9 1684.1h0M245.1 1605.8h0M253.4 1591.5h0M253.6 1604h0M274.4 1592.9h0M257.7 1588.1h0M234.8 1665.8h0M238.4 1596.8h0M257.1 1598h0M288.8 1640h0M230.1 1642.4h0M243.9 1658.5h0M282 1612.7h0M235.2 1652.5h0M290.3 1601.3h0M291.7 1629.2h0M240.3 1619.6h0M291.8 1652.3h0M292.8 1632.7h0M282.8 1593.7h0M230.7 1676.5h0M286.1 1662.5h0M230.3 1673.7h0M294.2 1631.1h0M248.7 1675.6h0M276.1 1601.4h0M250.4 1681.6h0M275.5 1592.5h0M248.8 1594.8h0M230.8 1637h0M235.5 1658h0M236.3 1627.5h0M231.5 1682.1h0M281.1 1585.6h0M247.4 1602.2h0M234.2 1620.6h0M247.7 1675.3h0M243.9 1611.3h0M232.8 1664.1h0M233.9 1640.7h0M272.2 1596.2h0M236.7 1672.8h0M234.4 1591.1h0M294 1677.3h0M265.6 1592.4h0M264.5 1590.2h0M277.5 1588.4h0M272.3 1592.8h0M295.2 1598.1h0M233.6 1608.1h0M291.7 1657.8h0M276.7 1677.6h0M235.3 1646.5h0M285.5 1678.2h0M279 1592.4h0M272.8 1677.7h0M237.8 1646.4h0M292.1 1681.4h0M278.4 1595.1h0M271.8 1596.2h0M247.2 1601.6h0M242 1615.3h0M237.8 1673h0M232.4 1639.1h0M245.7 1684.4h0M271.3 1586.9h0M274.7 1585.4h0M295.8 1667.2h0M260.9 1681.1h0M288.7 1611h0M254.5 1677.1h0M253.9 1684.4h0M280.2 1604.3h0M244.1 1591h0M287.3 1615.7h0M293.7 1627.5h0M285.3 1602.5h0M240 1676.5h0M240.3 1606.7h0M263.7 1596.1h0M232.4 1634.1h0M236.8 1658.2h0M247.6 1677.9h0M288 1667.1h0M290.4 1632.5h0M281 1677.9h0M252.9 1601.5h0M231 1607.3h0M271 1596.4h0M294.2 1633.9h0M281.8 1684.2h0M291.2 1648.1h0M249.7 1683.8h0M290.2 1639.3h0M294 1641h0M235.6 1676.2h0M287.4 1609.4h0M279.8 1683.1h0M236.4 1673.4h0M279.4 1595.7h0M231.9 1684.5h0M292.1 1599.6h0M233.5 1631.7h0M275.9 1595h0M231.5 1650.8h0M266.1 1596.7h0M268.4 1591.5h0M233.8 1596.6h0M232.2 1636.4h0M242.4 1603.4h0M238.3 1611h0M286 1610.5h0M278.5 1604.4h0M275.3 1600.1h0M263.6 1586.3h0M266 1585h0M286.3 1670.2h0M232.2 1682.5h0M265 1601.1h0M287.5 1682.8h0M267 1590.1h0M277.8 1585h0M291.3 1615.3h0M233 1647.1h0M232 1644.3h0M284.6 1681.7h0M277.1 1591.6h0M287 1674.5h0M243.3 1683.8h0M233.8 1676.8h0M232.1 1607.9h0M292.7 1632.4h0M255.7 1594.9h0M290.6 1628.8h0M233.3 1666.7h0M292.8 1620.8h0M282.7 1671.7h0M233.2 1592.6h0M246.7 1596.3h0M292.2 1623.2h0M290.2 1653.7h0M239.2 1612.9h0M277.3 1596.4h0M275 1683.6h0M249.1 1600.3h0M263.4 1586h0M278 1679h0M290.8 1678.6h0M290.9 1630.2h0M244.1 1603.9h0M292.2 1675.5h0M284.6 1600.8h0M235.6 1604.3h0M231 1662.5h0M272.5 1591.1h0M246.6 1679.9h0M284.6 1669.2h0M234.5 1621.3h0M253.1 1585.5h0M231.3 1645.1h0M257.1 1591.4h0M285 1602.5h0M246.6 1602.4h0M294.4 1648.9h0M296.3 1631.1h0M289.3 1671.4h0M233.3 1659.8h0M289.6 1601.4h0M291.6 1611.1h0M281.2 1602.8h0M231.9 1619.4h0M234.5 1620.7h0M263.1 1592.2h0M278.7 1593.5h0M282.8 1608.9h0M286.3 1674.6h0M259.4 1589.2h0M231.6 1676.6h0M242.4 1621.3h0M247.6 1609h0M270.9 1595.4h0M266.5 1598.3h0M286.8 1608.4h0M237.9 1611.1h0M242.6 1597.9h0M295.3 1660.8h0M235.6 1623.7h0M281.3 1597.7h0M248.5 1591.2h0M254.5 1684.4h0M291.6 1620.1h0M292.9 1675.6h0M296 1649.8h0M272.2 1603.1h0M243.6 1593.5h0M256.8 1590.3h0M261.4 1597.1h0M286.5 1626.8h0M238.2 1611.6h0M237.1 1671.2h0M293.4 1664.9h0M233.5 1626.3h0M255.9 1604.5h0M243.3 1607.1h0M232.7 1651.4h0M278.2 1595h0M240.5 1612.1h0M262.7 1595.8h0M270.4 1585.7h0M237.9 1589.5h0M233.4 1675.1h0M291.7 1665.6h0M236.1 1649.9h0M236.5 1626.9h0M262.1 1591.9h0M253.6 1584.4h0M268.7 1595.4h0M255.6 1683.5h0M267.3 1590.5h0M283.9 1619.3h0M281.2 1593.4h0M236.1 1612.7h0M284.4 1608.8h0M287.5 1663.4h0M288.6 1623.2h0M282.4 1596.5h0M234.6 1678.4h0M282 1672h0M239.4 1658.5h0M283 1605.1h0M291.4 1666.2h0M279.4 1595.5h0M283.2 1684.4h0M286.9 1673.5h0M291.9 1599.7h0M295.3 1601.9h0M234.9 1674.1h0M288.1 1620.2h0M278.8 1589.4h0M281.9 1604.7h0M264.3 1595.7h0M287 1604h0M232.4 1638.4h0M245.9 1682.5h0M292.8 1613.8h0M233.9 1672.7h0M290.4 1636.2h0M271.7 1599.9h0M278.6 1593.5h0M292.2 1641.7h0M230.9 1660.8h0M234.4 1638.7h0M291.7 1681.1h0M293.9 1601.6h0M280.2 1584.4h0M293.6 1640.7h0M231.4 1658.8h0M272.1 1684.7h0M240.9 1589.3h0M277.5 1580.9h0M233.1 1610.1h0M254.6 1583.9h0M275.9 1581.4h0M294.4 1595.9h0M294.9 1643.1h0M298.7 1638.5h0M233.2 1605.2h0M255 1582.1h0M251.6 1584.9h0M271.4 1586.4h0M231.5 1604.2h0M228.7 1625.4h0M249.6 1681.8h0M281.4 1581.6h0M232.7 1611.2h0M228.8 1645.5h0M252.3 1582.9h0M236.7 1601.4h0M265.6 1585.3h0M295.8 1653.3h0M295.7 1665.8h0M288.1 1585.5h0M232.4 1668h0M282.9 1686.8h0M250.2 1685.3h0M295.9 1615.3h0M284.7 1584.4h0M241.8 1586.4h0M230.2 1626.2h0M292.9 1682.2h0M297 1601.1h0M241.8 1588.8h0M295.9 1611.4h0M229.8 1615.8h0M229.4 1633.5h0M294.6 1609.1h0M292.3 1600.9h0M294.2 1673.2h0M260.5 1582.7h0M232.9 1656.9h0M270.5 1587.3h0M286.3 1682.6h0M289.7 1686.7h0M297.3 1645.7h0M246.7 1584.2h0M228.7 1662.3h0M295.3 1669h0M239.6 1591.4h0M290.5 1583.9h0M296.2 1670.1h0M233.1 1625h0M296.1 1653h0M256.2 1682.4h0M291.1 1682.7h0M244.3 1587.2h0M233 1668.7h0M296.3 1622.5h0M285.3 1679.2h0M293.4 1613.7h0M287.4 1681.9h0M247.7 1685.6h0M229.7 1647.7h0M286 1583.4h0M233.8 1596.7h0M283 1583.6h0M297.2 1640h0M294.3 1661.5h0M234.2 1604.7h0M230.4 1678.4h0M229.7 1607.8h0M296.9 1657.2h0M234.4 1597.4h0M273.3 1684.2h0M231 1681h0M280.6 1583.1h0M231 1629.9h0M294.9 1672.6h0M256.1 1584.6h0M230.8 1645.9h0M276.6 1584.8h0M279.5 1585.4h0M293.5 1674.3h0M295.6 1659.2h0M228.8 1616.1h0M297.1 1646h0" stroke="rgb(255,36,0)" stroke-width="1.1" stroke-linecap="square" fill="none"/>
<path d="M250.8 1606.7h0M234 1647.8h0M243.7 1610.8h0M235.2 1643h0M295.2 1632.8h0M289.9 1645.2h0M268.5 1596.6h0M238.7 1586.6h0M277.4 1682.2h0M234.2 1639.2h0M279.9 1675.7h0M288.6 1642h0M234.8 1660.3h0M243 1600.5h0M284.6 1677.2h0M238.4 1634.1h0M273.9 1604.1h0M294.3 1633.7h0M287.2 1640.7h0M237.5 1635.6h0M250.7 1678h0M246.9 1593h0M268.2 1598.1h0M264.4 1584.6h0M277.6 1671.7h0M295.7 1641.5h0M265.4 1595.8h0M279.7 1607.6h0M253.8 1611h0M241.2 1661.2h0M289.8 1612h0M238.9 1659.8h0M236.9 1649.7h0M240.9 1661h0M266.8 1681.6h0M287.4 1667.7h0M294.9 1643.4h0M257.1 1590.5h0M281.9 1667.6h0M251.7 1678.7h0M275.3 1597.9h0M244.3 1659.9h0M237.5 1638.4h0M251.4 1589.5h0M249.4 1678h0M232.5 1593.9h0M277 1679.6h0M244.4 1614.6h0M278 1603.2h0M235.2 1684.3h0M281.1 1608.3h0M255.5 1678.7h0M263.4 1586.6h0M239.1 1615h0M240.8 1609.2h0M240.3 1604h0M253.9 1598.8h0M266.5 1597h0M277.8 1609.8h0M232.8 1634h0M290.5 1641.3h0M271.5 1681.3h0M294 1662.5h0M289.7 1622.3h0M238.4 1635.2h0M264.4 1596h0M240.2 1672.2h0M268 1597.8h0M243 1672.3h0M279 1601.1h0M283.7 1658.7h0M268.8 1606.4h0M277.7 1601.3h0M241.7 1619.8h0M288.1 1647.7h0M255.5 1606.7h0M289 1656.3h0M231.5 1618.6h0M258.7 1584.6h0M285.6 1670.6h0M235.1 1620.4h0M238.9 1623.6h0M239.6 1667.3h0M233.3 1637.4h0M246.4 1610.8h0M232.3 1647.3h0M279.7 1590.4h0M243.6 1625.7h0M277.1 1607.1h0M283.1 1605.5h0M271.1 1595.4h0M249.2 1609h0M238.1 1632.9h0M274.3 1590.4h0M275 1590h0M288 1663.8h0M263.4 1603.3h0M288.2 1679.3h0M286.5 1625h0M245.2 1673.8h0M255.7 1597h0M247.8 1679.7h0M250.2 1601.8h0M292 1607h0M264.1 1684.4h0M284.2 1607.2h0M288.9 1662.2h0M283.9 1606.6h0M250.8 1611.1h0M291.9 1612.9h0M252 1611.8h0M250.8 1684.3h0M296.4 1663.9h0M230.2 1625.9h0M233.1 1643h0M268.3 1681.2h0M286.2 1622.2h0M244.6 1620.5h0M253.4 1684.4h0M247.5 1594.6h0M287.4 1631.3h0M290.2 1660.7h0M292.3 1669.1h0M234.1 1608.4h0M239.2 1623.1h0M252 1681.7h0M292.3 1652.5h0M234.4 1672.1h0M289.5 1622.2h0M271.4 1602.9h0M267.9 1596.6h0M247.1 1620.7h0M276.9 1602.5h0M257.6 1601.9h0M248.8 1662.8h0M275.8 1598.5h0M238.9 1663.4h0M234.1 1678.1h0M231.8 1634.9h0M237.9 1655.4h0M235.9 1665.2h0M253.4 1683.1h0M235.2 1640.4h0M257.3 1599.1h0M241.2 1593.8h0M243.1 1675.5h0M293.9 1678.9h0M245.4 1608h0M292.8 1669.6h0M276 1676.8h0M288.6 1646.1h0M287.8 1662.5h0M290.9 1623.9h0M285.3 1662.3h0M248.8 1674.6h0M265.7 1593.6h0M277.4 1606.9h0M278.3 1680.6h0M237.3 1679.3h0M295.9 1661h0M233.4 1652.7h0M233.5 1630.5h0M287.9 1630.1h0M258.3 1597.1h0M240 1611.5h0M294.1 1643.9h0M243.1 1584.6h0M275.8 1674.9h0M235.9 1663h0M293.3 1668.3h0M237.5 1628.3h0M248.2 1603.9h0M241.8 1681.3h0M285.5 1611.4h0M295.8 1649.8h0M264.2 1601.3h0M234.9 1649.5h0M234.8 1638.9h0M242.5 1610.1h0M239.2 1653h0M294.2 1629.6h0M264.3 1598.1h0M236.2 1633.7h0M294.4 1632.4h0M245.5 1614.3h0M286.2 1626h0M294.6 1597.1h0M293.8 1652.4h0M235.5 1622h0M238.7 1609.4h0M258 1679.5h0M270.4 1681.4h0M243.2 1661.5h0M267 1609.3h0M239.3 1609.1h0M235.4 1665h0M287 1677.1h0M239.2 1651.6h0M236.8 1661.6h0M288.4 1635.2h0M231.7 1646.3h0M286.7 1669.8h0M277.4 1604.3h0M240.9 1616h0M243.1 1584.5h0M260.1 1588.2h0M268.1 1600.6h0M281.4 1595.3h0M271.9 1603.3h0M238.5 1635.4h0M288.9 1666h0M295.7 1647.3h0M240.9 1626.2h0M236.8 1657h0M276.6 1683.3h0M291.5 1664.5h0M234.7 1648.9h0M253.2 1604.5h0M236.8 1628.3h0M241.1 1619h0M249.3 1592.7h0M295.2 1619.6h0M283 1680.4h0M277.7 1605.4h0M291.8 1670.8h0M283.8 1615.5h0M245 1593.5h0M284.1 1613.2h0M281.6 1664h0M286.4 1599.2h0M294.2 1595.4h0M287.4 1616h0M278.9 1680.8h0M241.3 1641.5h0M262.1 1683.8h0M242.6 1622.1h0M288.6 1639.3h0M269.8 1679.8h0M291.6 1668.8h0M272.5 1677.9h0M275 1592.8h0M249.6 1609h0M238 1646.6h0M286.1 1631.4h0M273.1 1594.6h0M233.5 1637.7h0M287.9 1679.8h0M245.4 1616.6h0M250.5 1584.8h0M253.4 1674h0M283.5 1614.8h0M234.3 1620.6h0M250.9 1611h0M251.2 1678h0M255 1679h0M241.3 1639.3h0M259.7 1595.7h0M283.1 1613.1h0M291.7 1629.5h0M237.3 1636.9h0M230.4 1636.9h0M248.9 1602.4h0M252 1680.7h0M280.1 1665.5h0M261.4 1681h0M259.6 1680.9h0M287.2 1670.3h0M237 1676.7h0M234.3 1629.6h0M249.4 1598.5h0M293 1641.4h0M290.4 1683.6h0M283.8 1622.3h0M268.3 1596.7h0M241.1 1593.1h0M251.4 1604.5h0M257.9 1599.8h0M252.6 1682.7h0M240.4 1625.9h0M274.9 1681.8h0M237 1651.8h0M239.3 1667.9h0M238.4 1604.1h0M240.1 1672.5h0M241.9 1611.9h0M232 1612.7h0M249.2 1611.3h0M273.7 1682.3h0M250 1584.6h0M271.2 1683.7h0M288.7 1638h0M233.7 1640.9h0M268.9 1595.8h0M295.9 1642.8h0M273.7 1606.9h0M276.8 1588.7h0M230.7 1651.9h0M234.1 1612.8h0M267.1 1605h0M283.9 1672.7h0M285.4 1669.8h0M239.8 1673.1h0M283 1613.7h0M239.3 1629.1h0M278.5 1604.4h0M283.4 1629.1h0M270.9 1609.3h0M238.9 1624.6h0M241.9 1641.5h0M251.6 1596.5h0M290.7 1644.2h0M235 1670.3h0M293.2 1621.7h0M264.5 1677.4h0M269.8 1681.3h0M239.5 1673.8h0M288.5 1648h0M283.2 1670.8h0M258.6 1598.5h0M277.6 1678.7h0M239.5 1586.4h0M243.1 1600.5h0M262 1600.5h0M276.1 1683.3h0M236.1 1652.2h0M291.3 1653.6h0M293 1677.4h0M250.4 1595.4h0M239.5 1631.6h0M249.2 1584.3h0M243.2 1616.2h0M247.9 1601.9h0M230.4 1601.4h0M272.3 1611.9h0M292.8 1641.9h0M260.3 1601.5h0M240.9 1619h0M235.4 1674.2h0M289.4 1665.2h0M292.7 1618.3h0M292.3 1653h0M236.5 1660.3h0M284.6 1680.5h0M270.9 1677.5h0M270.3 1604.2h0M239.1 1643h0M231.5 1632.9h0M253.2 1597.3h0M240 1627.3h0M250.6 1681.2h0M294.4 1644.4h0M243.1 1591.9h0M230.6 1678.5h0M292.2 1636.4h0M293 1606.1h0M284.6 1626.8h0M243.6 1612h0M281.3 1608.2h0M280.8 1684h0M240.6 1670.6h0M287.1 1661.6h0M263.1 1599.1h0M271.4 1601.4h0M245.8 1606h0M249.1 1604.1h0M239.2 1628.8h0M289.9 1616.9h0M255.2 1681.8h0M241.8 1618h0M241.2 1617.9h0M236.5 1632.5h0M294.6 1636.5h0M281.8 1614.8h0M288.9 1659.7h0M278.5 1608.8h0M237.2 1652.5h0M281.9 1618.2h0" stroke="rgb(255,47,0)" stroke-width="1.1" stroke-linecap="square" fill="none"/>
<path d="M241.7 1635.7h0M287 1655.9h0M242.2 1658.4h0M238 1649.3h0M243.7 1609.6h0M282.3 1616.9h0M271.4 1677.8h0M261.8 1601.4h0M247.8 1618.6h0M289.7 1665.1h0M278.8 1667.3h0M287 1654h0M237.8 1627.7h0M276.4 1616.2h0M236.2 1658.3h0M286.4 1626.4h0M241.5 1629.8h0M240.7 1634h0M265.1 1679.5h0M246.2 1683.9h0M284.9 1621h0M246.1 1620.3h0M244.2 1661.8h0M284.4 1626.4h0M243.1 1626.8h0M233.1 1614.8h0M247 1674.4h0M283.5 1625.9h0M236.3 1623.6h0M260.9 1682.6h0M271.5 1612.9h0M236.3 1621.9h0M238.8 1656.5h0M238.4 1676.1h0M274.4 1614.7h0M268.3 1600.9h0M264.9 1610.2h0M279.1 1675.7h0M265.3 1607.6h0M245.8 1613.8h0M269.4 1587.7h0M254.1 1605.3h0M260.8 1679h0M243.9 1618.8h0M275.3 1677.7h0M243.9 1654h0M240.5 1651.5h0M239.4 1643h0M256.2 1607.7h0M240 1647h0M236.1 1655.6h0M284 1623.4h0M278.4 1616.7h0M275.2 1606.8h0M269.4 1679.9h0M284.2 1669.4h0M258.7 1682.2h0M271.5 1674.4h0M279.9 1615.2h0M234.1 1640.2h0M255.8 1670.5h0M243.3 1647.8h0M289.5 1657.9h0M259.4 1681.3h0M286.2 1649.9h0M240.5 1649.8h0M244 1629.5h0M249.8 1682.5h0M262.4 1606.7h0M267.1 1678.5h0M280.9 1621.9h0M275.5 1678.6h0M236.3 1659.5h0M240.3 1619h0M287.1 1619.9h0M267.6 1683.5h0M252 1598.6h0M245 1680.8h0M264.8 1681.8h0M286.3 1653.9h0M283.1 1617.3h0M246.6 1673.3h0M255.2 1612.6h0M289.9 1657.8h0M292.8 1634.9h0M240.9 1658.8h0M261.1 1601.8h0M278.9 1607.2h0M269.3 1599.2h0M249.1 1669.6h0M245.8 1677.7h0M241.8 1654.5h0M241.9 1649.7h0M245.7 1616.7h0M261.3 1593.9h0M244.2 1672.2h0M282.9 1616.5h0M249 1666h0M277.7 1605.3h0M246.2 1613.1h0M248.7 1602.7h0M288.5 1636.2h0M291.1 1652.4h0M244 1629h0M272.9 1610h0M285.2 1657.6h0M261.7 1681.7h0M251.2 1609.7h0M263.2 1682.7h0M287.4 1645h0M239.3 1641.5h0M280.8 1663.8h0M274.3 1681.9h0M256.2 1677.8h0M249.8 1677.4h0M291.3 1664.9h0M254.5 1601.1h0M275.7 1669.9h0M238.8 1648.7h0M286.6 1622.1h0M245 1675.7h0M268.1 1597.9h0M234.5 1626.9h0M286.9 1622.3h0M283.8 1610h0M254.9 1680.7h0M279.6 1673.5h0M282.6 1611.3h0M293.5 1637.4h0M243.5 1658.3h0M280.5 1662h0M264.1 1610.9h0M256.4 1608.2h0M285.5 1634.1h0M265.3 1678.3h0M254.3 1602.6h0M254.4 1676.7h0M233.6 1613.4h0M242.7 1632.6h0M239.1 1641.6h0M291.9 1660h0M271.1 1607.9h0M241.3 1664.3h0M283 1627.9h0M240.5 1635.7h0M246.7 1671.6h0M245.6 1621.3h0M274.4 1677.9h0M276.5 1615.6h0M256.8 1608.5h0M281.9 1607.1h0M242 1637h0M274.6 1608.6h0M277.1 1674.2h0M285.8 1668.9h0M245.8 1681.1h0M289.7 1655.7h0M245.2 1646.6h0M240.9 1649.1h0M261.3 1611h0M241.6 1635.4h0M237.1 1659.7h0M287.8 1647.9h0M240.1 1658.6h0M289.6 1618.7h0M271.8 1681.9h0M253.8 1610.5h0M253.3 1679h0M260.5 1682h0M233 1642.9h0M282.7 1619.3h0M242.1 1634.6h0M290.4 1657.4h0M242 1630.4h0M234.9 1640.7h0M241.1 1670.4h0M266.6 1600.8h0M285.2 1674h0M283.5 1657.2h0M234.1 1647.4h0M269.7 1673.1h0M294 1649h0M241.6 1619.5h0M237.4 1680.8h0M275.9 1670.9h0M287.7 1661h0M257.4 1607h0M286.9 1633.8h0M280.2 1619.8h0M254.5 1609.4h0M283 1671.5h0M241.3 1653h0M267.2 1684.1h0M276 1607.2h0M245.9 1679.4h0M237.1 1614.3h0M264.6 1594.6h0M247 1613.4h0M243.6 1641h0M273.7 1596.8h0M277.6 1673.5h0M292 1644.6h0M278.9 1614.3h0M264.1 1611.3h0M278.7 1667.9h0M243.5 1658.4h0M288.2 1638.2h0M282.1 1618.3h0M264.6 1611.7h0M287.6 1657.3h0M256.8 1677.6h0M251.1 1604.2h0M282.1 1657.6h0M293.4 1647.7h0M278 1674.1h0M236.9 1643h0M238 1660.8h0M285.1 1594h0M243.5 1653.3h0M241 1631.5h0M277.1 1608.3h0M286.2 1656.8h0M244.2 1665.7h0M240.4 1648.8h0M242.2 1663.6h0M285.8 1619.7h0M247.3 1619.5h0M280.4 1678.4h0M290.6 1619.1h0M241.4 1636h0M285.1 1664h0M274.5 1614.5h0M290.4 1640.4h0M284.1 1639.3h0M285.2 1656h0M291.1 1649.4h0M240.9 1666.5h0M237.4 1602.6h0M286.6 1637.5h0M248.4 1609.3h0M252.9 1607.7h0M278.7 1605.9h0M279.6 1606.6h0M289.8 1656.5h0M256.3 1598.7h0M281.2 1624.3h0M234.3 1621.2h0M249.5 1676.2h0M275.2 1679.1h0M245.5 1607.3h0M283.5 1664.8h0M256 1605.8h0M287.4 1625.4h0M287.3 1622.3h0M241.6 1604.1h0M239.3 1649.9h0M266.9 1599.3h0M257.3 1677.8h0M264.8 1604.2h0M245 1655.6h0M239.7 1614.2h0M254.3 1611.6h0M279 1673.4h0M282.9 1614.2h0M250.4 1615.7h0M255.5 1681.9h0M240.7 1660.9h0M287.1 1644.7h0M245 1677.4h0M251.3 1674.6h0M265.8 1602.4h0M279 1678.7h0M246.5 1676.4h0M293.2 1655.8h0M288.2 1668.3h0M283.3 1665.9h0M239.9 1668.3h0M242.4 1627.5h0M279.5 1668.3h0M235.8 1647.5h0M273.7 1672.8h0M249.9 1618.9h0M280.9 1626.9h0M265.1 1673.4h0M273.8 1679.2h0M262.1 1607.3h0M233.3 1655.4h0M255 1680.2h0M236.7 1632.5h0M256.1 1682.7h0M243.8 1677.9h0M288.4 1636.8h0M275 1609.5h0M271.5 1610.9h0M289.7 1623.3h0M241.5 1670.8h0M264.4 1602.6h0M245.1 1669.5h0M268.8 1680.1h0M288 1667.5h0M248.6 1672.8h0M266.1 1679.1h0M245.8 1668.7h0M240.7 1665h0M275 1678.6h0M246 1673.3h0M281.5 1646.1h0M292.4 1664.4h0M235.5 1628.6h0M245.8 1604.8h0M236.1 1635.9h0M241.3 1653.2h0M284 1608.5h0" stroke="rgb(255,58,0)" stroke-width="1.1" stroke-linecap="square" fill="none"/>
<path d="M259.4 1669.8h0M281.9 1624.2h0M287.4 1622.8h0M241.1 1657.2h0M234.5 1648.9h0M259.5 1674.8h0M288 1618.9h0M242.2 1646.6h0M243.1 1648h0M277.4 1670h0M240 1631.6h0M247.7 1626.8h0M243.5 1618.4h0M280.4 1669.4h0M284.8 1647.2h0M276.3 1613.8h0M243.7 1651.2h0M269.3 1676.7h0M245.2 1656.9h0M284.3 1622.7h0M251.2 1609.7h0M239.4 1662.3h0M279.5 1616.9h0M286.7 1644.1h0M285.4 1645h0M258.8 1676.1h0M270.4 1612.3h0M246.3 1665.7h0M283.3 1664.5h0M247.1 1665.2h0M240 1654.1h0M256.1 1613.7h0M288.6 1643.8h0M243.8 1631.2h0M278.3 1610.7h0M281.8 1657.5h0M249.2 1618.5h0M248.1 1668.4h0M275.9 1607.2h0M248.6 1623.3h0M272.1 1611.2h0M286.1 1662.1h0M266.1 1681.1h0M284 1635.7h0M288 1662.4h0M266.9 1676.3h0M252.4 1615.5h0M243.5 1621.1h0M237.3 1631.3h0M283.9 1626.8h0M250.9 1667.4h0M279.8 1626.1h0M240.5 1643.3h0M247 1658.2h0M276.6 1620.5h0M279.2 1610.3h0M252.3 1664.4h0M238.8 1656.6h0M286.6 1665.8h0M242.7 1642.8h0M279.1 1615.9h0M244.6 1662.3h0M246.4 1655.6h0M283.8 1659.1h0M243.6 1655.5h0M261.7 1615.3h0M280.4 1629.8h0M287.3 1655.2h0M269.9 1677.2h0M268 1607.6h0M248.6 1613.2h0M287.9 1661.8h0M268.8 1674.7h0M266.8 1671.2h0M269.2 1671.9h0M249 1629.9h0M259.7 1613.4h0M290.1 1632.7h0M243.8 1628.9h0M244.6 1673.4h0M253.8 1678h0M260.9 1609.5h0M281.2 1667.3h0M278.1 1616.6h0M286.9 1653.1h0M245.9 1658.3h0M249.5 1613.7h0M283.2 1640.3h0M283.7 1669.1h0M250.2 1674h0M279.5 1669.1h0M284.4 1630.6h0M292 1652.7h0M256.2 1611.3h0M237.6 1644.6h0M265.2 1610.4h0M253.1 1612.3h0M265.3 1611.4h0M276.4 1668.8h0M247.1 1667.7h0M245.8 1623.5h0M240.7 1657.8h0M258.7 1672.2h0M285.4 1659.2h0M246.8 1672.5h0M273.3 1672h0M259 1670.2h0M283.7 1644.7h0M270.5 1610.8h0M242.8 1633.6h0M283.1 1639.8h0M249 1623.4h0M273 1664.2h0M283 1648.3h0M262.2 1606.9h0M242.8 1643.3h0M244.5 1655h0M279.9 1620.8h0M249.1 1617.8h0M286.6 1653.7h0M256.2 1670.8h0M250.6 1667h0M272.6 1674h0M235.6 1640.2h0M278.3 1618.4h0M279.6 1679.5h0M277.4 1626.6h0M251.1 1614.3h0M286.1 1653.1h0M263.6 1681.1h0M280.4 1626.4h0M264.2 1611.8h0M286.8 1634h0M251.8 1614.7h0M270.5 1673.7h0M264.1 1614.1h0M259.7 1610.1h0M290.2 1657h0M283.5 1620.6h0M261.7 1605.5h0M280 1624.3h0M275.2 1672.2h0M282.1 1632.9h0M289 1624.7h0M280 1619.8h0M260.9 1679.7h0M242 1648.5h0M245.1 1629.3h0M239.5 1625.6h0M268.7 1602.4h0M286.6 1648.8h0M272.5 1609.6h0M288.4 1630.3h0M241.6 1637.1h0M243.5 1663.5h0M249.6 1616.9h0M253.3 1606.6h0M243.6 1601.6h0M253.1 1610.7h0M281.3 1672.5h0M269.7 1680.9h0M273.8 1683.7h0M241.2 1647.5h0M266.5 1609.6h0M248.5 1665.8h0M249.3 1670.3h0M259.6 1666h0M244.8 1659.3h0M267.1 1608.3h0M243.2 1627.1h0M255.9 1666.4h0M277.9 1669.1h0M282.5 1624.2h0M242.7 1637.5h0M242.4 1613.5h0M255.1 1609.6h0M285.3 1652.1h0M295.9 1618.5h0M251.2 1614.3h0M262.3 1612.5h0M266.5 1609.3h0M242 1638.9h0M288.3 1627.9h0M243.6 1635.9h0M247.1 1626.5h0M246.6 1668.4h0M283.9 1665.6h0M281.3 1625.7h0M248.4 1669.5h0M250.9 1617.9h0M283.3 1671.4h0M283.8 1607.8h0M239.9 1635.3h0M272.8 1679.9h0M274.1 1615.8h0M242 1643.4h0M243.8 1621.4h0M236.7 1637.3h0M284.1 1663.8h0M255.7 1609.1h0M282.8 1626.3h0M244.3 1641.4h0M242.9 1656.7h0M260.4 1608.4h0M272.7 1677h0M266.6 1672.8h0M243.7 1635.7h0M268.1 1613.5h0M260.8 1602.7h0M244 1656.1h0M284.4 1645.4h0M253.7 1672.2h0M242 1665.5h0M279.2 1666.8h0M285.6 1649.4h0M286.5 1668.5h0M288.1 1654.4h0M258.5 1610.3h0M281.7 1621.3h0M275.7 1609.3h0M287.7 1656.3h0M242.3 1629.5h0M242 1657.9h0M234.1 1619.5h0M281.5 1617.4h0M267.8 1671h0" stroke="rgb(255,82,0)" stroke-width="1.1" stroke-linecap="square" fill="none"/>
<path d="M243.5 1623.6h0M245.8 1644.9h0M268.6 1672.3h0M245.5 1655.6h0M271.4 1611.9h0M254 1674.8h0M279.2 1623h0M279.7 1642.8h0M260.1 1611.3h0M250.8 1669.4h0M252.1 1664.2h0M244.3 1637.2h0M249 1658.1h0M280.1 1666.5h0M280.4 1663.1h0M258.5 1621h0M254.2 1620.4h0M242.5 1641.1h0M284 1638.7h0M286 1651.7h0M285.4 1632.4h0M247.4 1638.1h0M249.6 1617.8h0M278.4 1669.1h0M272.3 1603.4h0M242.8 1631.2h0M258.1 1665.9h0M256.4 1619.7h0M242.9 1648.1h0M279.1 1615.2h0M263.9 1670.1h0M245.3 1633.4h0M281.7 1658.6h0M248.3 1656.4h0M241.8 1631.3h0M250.3 1620.1h0M254.2 1609.7h0M253.4 1611.8h0M287 1649.9h0M283.3 1633.5h0M279.8 1620.1h0M245.2 1642.7h0M264.3 1613.3h0M274.1 1674.3h0M256.2 1613.8h0M254.7 1615.4h0M279.6 1638.1h0M247.1 1643.3h0M249.8 1616.9h0M281.6 1637.3h0M281.6 1624.3h0M271.7 1621h0M250.9 1619.7h0M276.3 1665.1h0M278.1 1666.4h0M271.1 1676.8h0M277.7 1630h0M246.8 1664.5h0M278.1 1661.5h0M240.5 1647.4h0M270.4 1671.8h0M283.9 1646.9h0M264.5 1614.9h0M242.8 1649h0M280.1 1672.2h0M242.2 1629.1h0M280.2 1630.7h0M243 1646.5h0M279.4 1642h0M280.3 1661.2h0M273.5 1620.5h0M258.3 1611.7h0M267.9 1611.8h0M245.6 1649.8h0M244.9 1657.6h0M282.1 1658.9h0M275.5 1617.6h0M270.3 1676.5h0M240.4 1641h0M276.9 1620.9h0M286.3 1647.3h0M258.2 1665.6h0M246.5 1667.9h0M251.7 1662.5h0M238.9 1633.6h0M276 1666.3h0M262.7 1676.9h0M247.7 1646.5h0M283.4 1641.7h0M273.6 1615h0M268.3 1608.5h0M280.2 1645.2h0M262.6 1612.7h0M244.7 1653.9h0M241.7 1640.8h0M282 1633.7h0M253.4 1656.4h0M254.1 1616.8h0M251.7 1657.5h0M283.2 1635.1h0M262.1 1612.5h0M283.8 1636.1h0M280.1 1614.7h0M246.8 1659.8h0M279.8 1665.3h0M282.5 1629.7h0M258.8 1612.8h0M269.3 1615.1h0M253.9 1614.8h0M269.5 1675h0M283.4 1641.1h0M259.2 1666.8h0M246.6 1625.2h0M242.7 1642.4h0M252.2 1627.2h0M279.8 1619.6h0M282.2 1638.6h0M252 1628.1h0M254.7 1608.1h0M257.3 1676.4h0M282.9 1651.9h0M239.3 1649.8h0M259.9 1672.7h0M244.5 1655.3h0M283.7 1659h0M261 1616.2h0M270.3 1612.2h0M273.4 1620.1h0M253.2 1620.4h0M253.8 1668.5h0M282.5 1662.5h0M251.1 1616.9h0M276.7 1620.8h0M241.5 1634.6h0M276.1 1665.4h0M281.5 1640.9h0M284.2 1647.7h0M272.9 1671.1h0M251.1 1616.2h0M286.6 1632h0M254.8 1664.6h0M264.1 1614.8h0M243 1631.5h0M244.3 1649.8h0M240.2 1655.5h0M259.4 1673h0M278 1625.8h0M240.6 1622.4h0M280.3 1645.3h0M288.3 1625.7h0M271 1615h0M245 1648.3h0M272.6 1675.4h0M244.5 1628.1h0M243.5 1610.4h0M272.9 1675h0M282.5 1653.5h0M277.7 1628.1h0M241.2 1643.3h0M265.5 1608.7h0M258.8 1668.6h0M282.5 1656.3h0M266.9 1668.4h0M248.6 1661h0M270.5 1678.7h0M236.3 1635.8h0M265.8 1611.3h0M268.5 1673.8h0M256.1 1606h0M242.5 1655.2h0M256.9 1615.7h0M267 1672.7h0M247.5 1633.9h0M258.3 1676.7h0M283.6 1633.3h0M245.6 1642.9h0M258.3 1674.7h0M280.7 1624.5h0M271.7 1671.3h0M283.1 1633.6h0M283.9 1644.8h0M279.1 1674.3h0M278.9 1630.3h0M270.6 1675h0" stroke="rgb(255,107,0)" stroke-width="1.1" stroke-linecap="square" fill="none"/>
<path d="M288 1649.1h0M267.6 1670.8h0M257.8 1664.4h0M250.3 1664.5h0M271.4 1660.9h0M256.6 1665.5h0M272.4 1624.7h0M276.9 1662h0M277.4 1661.5h0M248.6 1656.8h0M262.3 1605.8h0M274.4 1607.5h0M254.6 1665.1h0M267.7 1668.6h0M282.3 1632.5h0M246.5 1635.3h0M276.4 1626.2h0M248.7 1658.3h0M255.8 1621h0M256.8 1616.1h0M272.8 1621.9h0M276.6 1629.7h0M262.9 1607.1h0M248.8 1671h0M280.3 1644.9h0M249.2 1654.6h0M261.1 1615.6h0M279.7 1656.4h0M273.4 1670.3h0M250.7 1634.3h0M248.7 1653h0M283.4 1649.2h0M267.7 1678h0M250.2 1670.3h0M245.1 1629.6h0M268.1 1618.9h0M246.5 1632.3h0M261.8 1667.3h0M247.6 1642.1h0M252.7 1664.6h0M274.1 1662.9h0M245.2 1631.8h0M277.9 1629.2h0M247.2 1633.4h0M244.8 1657h0M251.2 1631.1h0M257.5 1623.2h0M276.2 1654.2h0M272.3 1622.5h0M267.4 1618h0M256.4 1615.2h0M270.6 1667.9h0M246.2 1639.8h0M252.2 1626.3h0M270.3 1615.9h0M261.6 1663.1h0M282 1643.9h0M275 1625.5h0M261.3 1621.1h0M254.4 1615h0M249.9 1629.5h0M280.8 1634.8h0M275.5 1630.5h0M280.9 1646.5h0M262.7 1675h0M271.3 1619.5h0M278.8 1655.3h0M250.6 1668.2h0M269.2 1609.5h0M247.8 1620.4h0M279.7 1657.1h0M259.4 1672.6h0M270.3 1610.9h0M266.7 1617.5h0M263.2 1669.9h0M264.1 1665.4h0M248.2 1632h0M263.2 1667.2h0M255.6 1622h0M252.1 1620.3h0M260 1611h0M255.9 1668.2h0M280.1 1649.9h0M248.4 1630.7h0M262.3 1620.8h0M248.1 1645.5h0M265.6 1676.9h0M277 1621.3h0M284.8 1644.6h0M243.4 1646.8h0M259 1666.8h0M276.3 1666.9h0M257.6 1617.3h0M248.4 1629.4h0M283.9 1659.3h0M251.9 1627.5h0M272.5 1618.3h0M244.9 1648.1h0M244.7 1654.5h0M283.9 1649.9h0M255.7 1670.2h0M281.9 1650.9h0M273.6 1661.4h0M246.4 1648.3h0M255.3 1614.4h0M280.1 1629.7h0M265.9 1620.4h0M247.2 1650h0M281.7 1640.6h0M273.9 1619h0M246.4 1626.7h0M253.1 1657.2h0M260.9 1669h0M258 1674.6h0M241.5 1651.8h0M279.8 1627.3h0M244.9 1646.4h0M249.9 1648.2h0M280.1 1650.2h0M246.9 1633.4h0M250.8 1663.8h0M257.1 1669.1h0M256.6 1620.9h0M271.8 1667.5h0M244 1638h0M281.9 1654.3h0M279.4 1639.3h0M270.5 1617.8h0M244 1640.1h0M266.6 1611.9h0M251 1670.9h0M251.9 1659.6h0M244.9 1661h0M281.9 1635.6h0M266.1 1616.3h0M279.6 1662.9h0M263.1 1617.4h0M274 1664.8h0M282.8 1656.2h0M257.5 1617.8h0M257.8 1619.2h0M266.9 1617h0M243.1 1640.6h0M281.1 1621.7h0M243.3 1648.1h0M246 1653.1h0M277.6 1640.6h0M256.9 1671.5h0M280.7 1641.8h0M250.8 1619.9h0M258.2 1664.3h0M244.6 1641.6h0M252.2 1661.1h0M272.5 1661.6h0M275.2 1663.4h0M276.1 1660.5h0M254.2 1619.6h0M243.4 1623.1h0M279.4 1638.1h0M278.9 1626.3h0M274.4 1629.2h0M250.7 1666.8h0M246.1 1659.2h0M269.6 1620.3h0M280 1625h0M270.2 1669.5h0M252.1 1678.4h0M251.5 1625.2h0M270 1621.3h0M260.2 1671.4h0" stroke="rgb(255,137,0)" stroke-width="1.1" stroke-linecap="square" fill="none"/>
<path d="M270.2 1613.2h0M277.2 1634.2h0M249.8 1652.8h0M277.9 1641.8h0M256.2 1664.6h0M266.1 1664.5h0M250.5 1622.3h0M254.9 1625.6h0M263.9 1661.1h0M276.3 1641.2h0M253.7 1657.8h0M266.7 1664.2h0M257.2 1627.7h0M279.5 1644.5h0M274.9 1664.4h0M270.2 1656.6h0M254.1 1617.7h0M251.4 1662.4h0M252.6 1626.5h0M280.7 1638h0M268.2 1626.3h0M276.9 1639.2h0M253.8 1660.6h0M247.9 1652.8h0M256.7 1672.3h0M250.4 1625.1h0M257.2 1630h0M279.4 1662.9h0M255.1 1656.8h0M248.2 1635.4h0M265.3 1619.5h0M275.6 1629.9h0M279.1 1652.4h0M260.8 1617.2h0M253 1640.6h0M263.8 1626.9h0M247.8 1657.1h0M276.9 1628.1h0M264.1 1625.3h0M260.3 1615.5h0M272 1625.3h0M274.2 1651.9h0M244.4 1646.8h0M248.9 1640.8h0M259.1 1661.5h0M281.5 1657.4h0M247.2 1645h0M262.4 1624h0M253.3 1619.3h0M249.2 1626.1h0M247.9 1652.2h0M242.5 1637.7h0M264.2 1610.7h0M263.1 1626.3h0M248.3 1645.5h0M266.8 1672.3h0M256 1662.6h0M249.2 1639.8h0M265.2 1659h0M271.5 1633.5h0M280.6 1644.8h0M275 1628.2h0M267.1 1616h0M273.9 1622.9h0M244.2 1644.3h0M270.5 1667.3h0M250.4 1644.8h0M253.4 1660.5h0M252.7 1633.6h0M258 1669.2h0M264.1 1668.9h0M262.6 1671.9h0M246.6 1660.3h0M250.9 1640.7h0M272 1623.1h0M255.7 1673.6h0M259.4 1621.2h0M259.6 1668.8h0M269.8 1626h0M275.7 1620.1h0M271.6 1663.1h0M254 1618.4h0M275 1621.5h0M280.5 1631h0M274.7 1631.3h0M274.2 1627.4h0M271.1 1619.7h0M274.1 1622.2h0M278 1631.8h0M277 1653.8h0M251.7 1620.9h0M262.1 1663.8h0M274.3 1657.1h0M251.8 1664h0M250.9 1651.4h0M276.9 1658.1h0M275.4 1659.9h0M253 1664.3h0M281.5 1647.2h0M247.5 1635.8h0M249.2 1644.6h0M276.5 1659.5h0M267.1 1616.3h0M261.6 1627.7h0M268.1 1663.2h0M252 1657.3h0M275.1 1626.4h0M279.2 1650.8h0M276.5 1646.9h0M258.9 1620.4h0M251 1657h0M248.4 1647.1h0M263.1 1664.1h0M258.6 1624.4h0M246.1 1635.7h0M252.9 1620.9h0M249.9 1667.5h0M252.5 1619.7h0M270 1619.9h0M275.4 1627.5h0M279.1 1658.2h0M249.3 1634h0M245.1 1632h0M248.5 1637.5h0M261.3 1663.3h0M252.5 1664.8h0" stroke="rgb(255,173,0)" stroke-width="1.1" stroke-linecap="square" fill="none"/>
<path d="M260.6 1611.7h0M276.7 1643.2h0M251.6 1651.6h0M255 1641.6h0M266.2 1625.6h0M251.6 1631.1h0M274.5 1641.7h0M271.5 1659.1h0M282.7 1637.7h0M251.5 1639.5h0M277.9 1641.6h0M250.9 1624.2h0M265 1661.8h0M264.1 1664.2h0M245.6 1642.1h0M261.4 1625.4h0M250.2 1634.3h0M248.3 1639.5h0M247.3 1643.6h0M255.3 1663.5h0M251.2 1622.6h0M268 1666.3h0M251.6 1634.2h0M256 1620.5h0M252 1661.2h0M277.8 1647.2h0M265.4 1666.4h0M254.2 1648.7h0M251.1 1660.7h0M272.3 1629h0M258.3 1667.5h0M252.9 1655.5h0M275.7 1629.9h0M254.8 1657.5h0M272 1659.4h0M249.8 1635.3h0M261.9 1619.9h0M266.8 1624.2h0M281.8 1643h0M247 1636.8h0M254.6 1619.7h0M264.5 1622h0M273.1 1633.7h0M256 1643.8h0M253.3 1661.2h0M276.7 1654.1h0M258.8 1668.2h0M267.9 1622.4h0M271.8 1659.8h0M264 1623h0M255.5 1655.9h0M251.3 1645.5h0M274 1631.4h0M259.2 1630.1h0M262.9 1621.9h0M251.4 1648.8h0M275.6 1651.5h0M249.9 1645.5h0M248.4 1640h0M273.6 1648.1h0M275.8 1640.4h0M272.1 1632.5h0M275 1640.7h0M250.7 1633.6h0M270.2 1627.4h0M273.5 1625.3h0M276.6 1639.9h0M272.6 1660.9h0M278.9 1641.5h0M266.6 1658.5h0M271.1 1658.6h0M261.1 1659.9h0M269.4 1624.1h0M271.4 1660.6h0M265.9 1666.5h0M247.5 1636.6h0M249.2 1634.3h0M277 1632.8h0M251.2 1643.9h0M264.6 1625.2h0M248.3 1641.3h0M256 1627.1h0M257.5 1656h0M263.9 1622.4h0M270 1643.5h0M265.6 1663.1h0M275.9 1657.1h0M257.2 1659.3h0M254.3 1625.5h0M272.9 1656.3h0M248.1 1639.4h0M248.3 1651.6h0M273.5 1657.1h0M276.7 1650.6h0M263.2 1620.9h0M256.6 1651.1h0M250 1631.6h0M251.3 1642.9h0M258.8 1658.8h0M273.3 1656.6h0M273.1 1638.8h0M259.7 1622h0M281.6 1649.6h0M252.3 1644.9h0M272.9 1664.7h0M257.1 1660.4h0M268.9 1656.2h0M265.7 1661.3h0M274.4 1653.8h0M275.7 1642.8h0M259.9 1617.6h0M255 1620.8h0M249.1 1629h0M253.5 1631.4h0M262.7 1619.2h0M275.2 1634.8h0M255.8 1630.5h0M251.3 1641.7h0M252.3 1662.4h0M264.4 1667.5h0M273 1624.9h0M257.3 1628.7h0M278.1 1644.2h0M261.1 1660.6h0M250.3 1650.6h0M258.8 1656.5h0M248.7 1647.9h0M261.2 1655.6h0M256 1666.4h0" stroke="rgb(248,201,0)" stroke-width="1.1" stroke-linecap="square" fill="none"/>
<path d="M274.1 1646.4h0M272.4 1629h0M256.8 1653.6h0M264.6 1627.3h0M252.6 1631.3h0M272.1 1629.9h0M269.2 1626.2h0M261.2 1656.7h0M274.6 1645.7h0M255.3 1644h0M272 1654h0M253.8 1650.8h0M276.2 1636.6h0M262.8 1661.4h0M269.4 1631.3h0M272.3 1646.9h0M250.6 1656.7h0M277 1653.7h0M262.4 1625.7h0M274.3 1647.2h0M259.6 1668.9h0M270.6 1654.6h0M254.2 1644.6h0M263.1 1654h0M269.8 1636.6h0M271 1639h0M254.6 1658.1h0M253.5 1637.3h0M268.5 1659.7h0M272 1650.9h0M263.8 1631.3h0M272.8 1646.4h0M262.2 1657.4h0M270.5 1661.7h0M257.1 1649.8h0M253.3 1631.8h0M276.5 1641.7h0M276 1639.5h0M271 1658.4h0M249.1 1633.3h0M273.3 1644.8h0M271.5 1639.5h0M268.9 1636.9h0M269.4 1660.3h0M272.9 1641.1h0M271.3 1639.6h0M260 1629h0M261.5 1631h0M252.7 1650.4h0M264.3 1625.4h0M267.5 1657.6h0M252.3 1652.8h0M271.5 1647.5h0M270 1651.1h0M256.3 1653h0M274.2 1647.9h0M277.4 1639.6h0M267.3 1654.1h0M256.6 1629.4h0M275.8 1644.1h0M257.8 1625.5h0M255.8 1654.7h0M266.9 1627.7h0M264.9 1627h0M257.2 1624.8h0M253.7 1654.9h0M271.1 1634h0M275.2 1641.1h0M273 1644.5h0M253.8 1632.9h0M264.9 1628.4h0M257.5 1654.7h0M273 1654.3h0M268.9 1654.3h0M275.1 1654.9h0M258.3 1657.5h0M262.5 1662h0M267.9 1644h0M275.2 1634.9h0M263.9 1660.1h0M269.2 1628.4h0M252 1629.4h0M273.6 1651.4h0M269.7 1657.7h0M267.9 1636.3h0M255.4 1660.3h0M273.4 1637.7h0M275.2 1650.4h0M267.5 1647.1h0M262.6 1626.6h0M273.4 1645.1h0M254.4 1629.4h0M253.5 1632.5h0M270.9 1635.7h0M249.3 1655.9h0M268.4 1644.4h0M276.8 1641.5h0M262.5 1625.9h0M251.7 1651.4h0" stroke="rgb(236,222,0)" stroke-width="1.1" stroke-linecap="square" fill="none"/>
<path d="M253.3 1653.6h0M269.2 1645.7h0M272.2 1633.9h0M272.5 1650.5h0M267.8 1633.6h0M265.6 1628h0M273.1 1637.6h0M273.1 1647.3h0M265.8 1623.1h0M270.2 1661.2h0M274.2 1640.7h0M259.6 1651.8h0M267 1648h0M267.9 1632.9h0M262.1 1631.3h0M256.1 1651.7h0M253.9 1630.7h0M265.3 1637.1h0M254.7 1651.2h0M271.9 1637.1h0M260.4 1659.7h0M256.8 1631.9h0M263.1 1650h0M266.4 1632.8h0M270.4 1642h0M257 1646.1h0M275 1639.5h0M252.2 1655.3h0M269.8 1653.6h0M262.8 1632.7h0M265.9 1631.7h0M258.9 1653.6h0M256.8 1649.9h0M256.7 1652.1h0M254.8 1650.7h0M252.5 1628.3h0M255.5 1637.7h0M263.5 1661.9h0M272.7 1631.2h0M270.9 1653.2h0M270.6 1631.5h0M254.3 1649.7h0M255.6 1649.2h0M264.6 1656.5h0M259.3 1630.9h0M256.6 1641.2h0M259.6 1637.1h0M265.8 1642.6h0M260.7 1649.3h0M257.7 1654.6h0M272 1643h0M270.8 1640h0M261 1653.9h0M271.8 1631.8h0M259.3 1624.3h0M259.9 1627.2h0M265.1 1621.5h0M260.9 1628.9h0M263.9 1635.2h0M272.2 1659.2h0M267.4 1659.7h0M272.8 1627.3h0M263.2 1635.1h0M265.6 1659.2h0M274.4 1647.2h0M258.2 1630.3h0M258.6 1653.1h0M260.9 1661.4h0M271.1 1635.6h0M266 1635.7h0M249.9 1639.3h0M266.4 1658.2h0M267 1635.1h0M270.7 1636.4h0M270.7 1659.9h0M267.1 1631.1h0M265.3 1624.7h0M254.1 1633h0M253.6 1648h0M261 1659.4h0M256.6 1640.5h0M262.5 1629.9h0M277.1 1639.1h0M265 1652.2h0M274.3 1659.5h0M251.7 1636.3h0M267.7 1654.5h0M257.8 1631.5h0M261.2 1642.8h0M251 1636.1h0M261.3 1637.6h0M252.4 1628.3h0M260.9 1634.1h0M255.5 1630.8h0M264.7 1639.6h0M264.5 1640.9h0M269.8 1654.1h0M263.6 1652.1h0M256.7 1649.7h0M262.5 1656.1h0M250.6 1640.4h0M269.6 1644.5h0M276 1646.9h0M273.8 1656h0M254.1 1654.6h0M269.6 1627.9h0M252 1646.8h0M258 1631.4h0M259.5 1654.2h0M255.6 1642.4h0M251.2 1655.9h0M254.1 1662.4h0M258.2 1647h0M264.6 1648.7h0M272.7 1644.8h0M265.5 1634h0" stroke="rgb(165,217,0)" stroke-width="1.1" stroke-linecap="square" fill="none"/>
<path d="M264 1643.5h0M263.5 1651.2h0M266 1634.8h0M263.7 1653.6h0M267.1 1636h0M265.3 1644.6h0M263.1 1638.3h0M265.4 1636.1h0M266.5 1637.1h0M264.3 1649.7h0M256.6 1655.1h0M266.5 1640.8h0M259.4 1637.4h0M260.9 1660.3h0M267.4 1649.4h0M262.9 1641.1h0M269.9 1644.2h0M258.7 1629.4h0M271 1643.7h0M269.3 1632.5h0M268.2 1639.8h0M271.3 1646.2h0M262.6 1643.5h0M269.8 1643h0M268.9 1648.1h0M270.3 1646.2h0M257.5 1639.3h0M262.7 1658.7h0M251.1 1651.5h0M271.2 1647.1h0M267.2 1638.3h0M270.8 1632.1h0M270 1649.3h0M264.8 1629.8h0M259.7 1638.4h0M267.4 1636.5h0M271 1650.8h0M258.2 1633h0M265.9 1652h0M259.6 1652.9h0M257.2 1650.2h0M258.2 1630h0M270.7 1638.8h0M263.6 1648.5h0M261.7 1631.3h0M268 1650.4h0M260.7 1631.4h0M266.2 1627.3h0M266.8 1643.9h0M270.8 1628.8h0M262.9 1647.2h0M269.2 1637.8h0M259 1652.6h0M258.1 1649.6h0M261.6 1641.3h0M266.1 1636.1h0M260.9 1634.5h0M257.2 1636h0M270.9 1643.3h0M262.2 1635.7h0M253.6 1638.2h0M258.3 1632.5h0" stroke="rgb(83,206,0)" stroke-width="1.1" stroke-linecap="square" fill="none"/>
<path d="M260.2 1640.7h0M267 1635.3h0M266.5 1641.4h0M267.9 1630.2h0M260.3 1638.2h0M269.8 1639.2h0M275.3 1645.4h0M262.6 1640.4h0M264.9 1642.7h0M260.7 1645.1h0M263.4 1650.2h0M262.2 1649.1h0M260.4 1631.8h0M267.7 1639.1h0M265.5 1634h0M268.3 1645.8h0M266.5 1643.1h0M254 1645.4h0M264.2 1635.6h0M265.8 1642.9h0M259 1644.4h0M272.1 1645.3h0M261.5 1639.9h0M259.1 1653.4h0M258.5 1637.2h0M271.9 1648.6h0M261.7 1649.7h0M266.7 1648.9h0M270.3 1646.2h0M266.6 1650.4h0M262.7 1637.2h0M258.5 1642.6h0M257.1 1633.4h0M259.5 1642.6h0M268.8 1642.1h0M268.3 1641.4h0M267.7 1639.6h0M267.7 1634.1h0M260.4 1639.9h0M259.3 1629.6h0M262 1637.6h0M262.2 1641.1h0M263.6 1639.6h0M266.1 1651.2h0M263.7 1634.2h0M268.2 1643.8h0M257.4 1642.9h0M271.6 1646.4h0M262.7 1640.8h0M266.3 1646.3h0M271.7 1638.1h0M264.2 1645.9h0" stroke="rgb(40,200,0)" stroke-width="1.1" stroke-linecap="square" fill="none"/>
<path d="M233.6 1678.9h0M286.6 1586.1h0M244.8 1681.9h0M291.8 1614.8h0M292.8 1672.6h0M242.9 1683h0M287.2 1588.7h0M231.7 1663.2h0M255.5 1587h0M277.2 1584.5h0M282.5 1586.3h0M292.9 1671.7h0M230.7 1654.1h0M293.4 1630.3h0M242.3 1591.2h0M286.4 1589.2h0M234.2 1664.5h0M234.2 1661h0M284 1680.6h0M295.3 1620.3h0M238.4 1681.6h0M261.4 1591.5h0M292.7 1665.1h0M233.3 1652.2h0M292 1602.9h0M292.3 1663.2h0M254.5 1677.8h0M295.2 1647.9h0M233.9 1664.9h0M293.8 1631.7h0M290 1607.4h0M253.3 1677.8h0M252.5 1590h0M283.7 1681.2h0M290.4 1656.9h0M244 1593.2h0M262.4 1588h0M235.5 1647.5h0M291.3 1618h0M241.5 1598h0M231.2 1646.1h0M233.1 1609.2h0M293.7 1664.6h0M252.4 1679.7h0M293.7 1642.9h0M240.9 1592.7h0M288.3 1591.1h0M232.1 1617.8h0M233.3 1676.8h0M292.7 1633h0M294.5 1620.7h0M230.7 1633.2h0M263.9 1583.7h0M240.7 1593.4h0M237.4 1659.9h0M281.1 1585.4h0M233.6 1649.5h0M294.4 1627.5h0M295.6 1662.5h0M233.3 1677.7h0M234 1613.3h0M240.9 1680.1h0M230.9 1652.2h0M292.1 1673.1h0M243.7 1592.1h0M235.5 1642.4h0M293.6 1623.7h0M274 1586h0M292.4 1647.6h0M232.6 1640.3h0M271.2 1589.5h0M251.3 1680.1h0M236.2 1612.3h0M239.8 1592.8h0M295.8 1605.9h0M232.9 1644.9h0M292.4 1666h0M274.1 1683.5h0M234.1 1611.8h0M295.6 1660.7h0M243.3 1680.2h0M253.5 1587.5h0M264.9 1585.6h0M293 1604.2h0M254.5 1682.9h0M293.5 1676.8h0M296.1 1638.2h0M287.7 1681.4h0M295.2 1636.9h0M237.3 1644.4h0M282.1 1586.6h0M296.3 1641.6h0M240.7 1681.6h0M249.1 1585.1h0M295.8 1645.9h0M296.1 1619.5h0M293.2 1590.8h0M282.8 1587.1h0M233.6 1605.7h0M233.4 1668.6h0M240.2 1592.3h0M290.1 1602.2h0M236.2 1655.4h0M242.9 1589.1h0M232.6 1673h0M234 1612.7h0M239.7 1674.2h0M294.8 1598.7h0M291.4 1668.4h0M265.5 1583.8h0M287.3 1678.8h0M294.1 1610.6h0M286.4 1586.5h0M232.9 1674.2h0M295.6 1611.5h0M292 1591.1h0M290.2 1665.3h0M278.7 1587.2h0M270.9 1683.6h0M293 1661.3h0M240.1 1599.3h0M256.8 1585.3h0M239.3 1604.4h0M292.6 1672.3h0M292.2 1632.5h0M296 1665.5h0M295.5 1651.2h0M294.3 1630.1h0M293.1 1624.2h0M243.9 1682.2h0M292.9 1666.3h0M295 1620.5h0M249.7 1591h0M292.4 1621.8h0M292.1 1638.2h0M294.6 1635.7h0M235 1603.6h0M233.6 1668.4h0M236.7 1599.7h0M233.4 1642.6h0M238.7 1682.9h0M233 1610.3h0M293.8 1669.3h0M244.1 1588.8h0M234.8 1613.6h0M282.1 1587.6h0M291.2 1653h0M245.2 1591.7h0M294.7 1621.1h0M294.6 1666.9h0M254.8 1586.6h0M278 1682.2h0M244.3 1681.8h0M262.3 1586.3h0M258.2 1683.2h0M285.7 1680.9h0M238.7 1678.7h0M247.5 1683.5h0M294 1607.1h0M255.4 1679.6h0M295.8 1663h0M294.7 1666.3h0M253.1 1587.6h0M279.2 1680.1h0M234.3 1643.7h0M260.9 1683.3h0M292.9 1674.9h0M250.6 1682.3h0M231.3 1638.6h0M296.1 1627.3h0M278.1 1680.4h0M233.6 1625h0M294.5 1654.3h0M238.6 1638.4h0M292 1592h0M232.4 1624h0M232.3 1665.2h0M233.4 1657h0M233.8 1652.9h0M235.8 1619.4h0M260.4 1682.2h0M292 1601.4h0M295.4 1628.7h0M293.3 1631h0M295 1646.3h0M261.3 1586.6h0M250 1681.6h0M244.8 1678.8h0M271 1586.9h0M247.5 1588.6h0M233.3 1617.1h0M231.1 1650.3h0M234.3 1680.7h0M230.4 1659h0M233.4 1606.8h0M287.3 1589.2h0M289.1 1600h0M293.9 1651.6h0M242.8 1682.1h0M291.5 1680.7h0M294.8 1666.8h0M292.2 1610.4h0M292.9 1616.5h0M293.1 1653.9h0M288.8 1592.8h0M296.1 1649.6h0M292.2 1649h0M266.5 1583.7h0M231.6 1641.8h0M232.4 1657.8h0M291.3 1633.4h0M294.2 1597.9h0M289.9 1674.7h0M246.2 1589.3h0M296 1637.9h0M291.3 1680.4h0M291.9 1675.9h0M293.1 1634h0M292.1 1594.2h0M233.1 1622h0M236.4 1601.6h0M294.6 1653.4h0M295.1 1622.5h0M294.2 1616.8h0M267.9 1589.2h0M296 1619.4h0M234.5 1634.8h0M234.1 1678.5h0M235.1 1635.4h0M293.4 1659.6h0M259.4 1588.9h0M294.3 1647h0M233.8 1667.1h0M239.7 1680.1h0M255 1584.6h0M232.1 1622.7h0M255.9 1683.8h0M292.4 1592h0M234.5 1610.1h0M246.5 1683.8h0M277.4 1679.4h0M231.3 1637.9h0M294.8 1656.1h0M233.2 1610.3h0M233.7 1617.1h0M278.2 1585.1h0M270.9 1680.8h0M293.8 1655.6h0M279.4 1586.5h0M252.2 1684.1h0M282.5 1586.8h0M275.8 1681.7h0M244.4 1592.4h0M245.8 1589.9h0M277.3 1588h0M255 1588.9h0M239.6 1598h0M289.5 1619.3h0M293.3 1593.7h0M256.7 1682.5h0M295.2 1639.9h0M233.5 1614.4h0M291.8 1593.4h0M294.5 1611.3h0M272.2 1683.6h0M237.2 1669.9h0M296.2 1637h0M292.7 1631.8h0M263.2 1677.8h0M232.5 1644.3h0M248.4 1677.3h0M294.3 1627.2h0M235.5 1621.7h0M236.1 1607h0M263.9 1588.3h0M293.8 1601.8h0M233.3 1652.5h0M239.5 1597h0M235.2 1669.5h0M242.6 1593h0M235.5 1630.8h0M294.7 1619.2h0M293.5 1602.8h0M232.1 1643.7h0M233.7 1678.5h0M293.8 1638.8h0M236.2 1617.9h0M235.5 1632h0M292.9 1641.1h0M257.3 1676.9h0M235.3 1644.3h0M261.6 1590.1h0M238.6 1682.7h0M291.2 1619.9h0M247.7 1683.3h0M232.5 1651.1h0M231.8 1631.7h0M257.8 1678.3h0M287.8 1679.3h0M254.1 1680.8h0" stroke="#fff" stroke-width="1" stroke-linecap="square" fill="none"/>
<circle cx="396" cy="1671" r="0.7" fill="#ff2000"/>
<rect x="229.6" y="1579.3" width="65.9" height="114.3" rx="1" fill="none" stroke="#8c8c8c" stroke-width="1.1"/>
<rect x="300.6" y="1579.3" width="119.1" height="114.3" rx="1" fill="none" stroke="#8c8c8c" stroke-width="1.1"/>
<text x="216.9" y="1573" font-size="16.8" textLength="87.9" lengthAdjust="spacingAndGlyphs">ITGA3-Low</text>
<text x="314.3" y="1573" font-size="16.8" textLength="93.9" lengthAdjust="spacingAndGlyphs">ITGA3-High</text>
<text x="366.4" y="1596.9" font-size="16.8" textLength="49.8" lengthAdjust="spacingAndGlyphs">0.46%</text>
<path d="M214.6,1519.3 L214.6,1725.2 L420.6,1725.2" fill="none" stroke="#7a7a7a" stroke-width="1.1"/>
<line x1="211.5" y1="1519.3" x2="214.6" y2="1519.3" stroke="#7a7a7a" stroke-width="1"/>
<text x="210.2" y="1524.2" font-size="16.8" text-anchor="end">256</text>
<line x1="211.5" y1="1560.7" x2="214.6" y2="1560.7" stroke="#7a7a7a" stroke-width="1"/>
<text x="210.2" y="1565.6" font-size="16.8" text-anchor="end">205</text>
<line x1="211.5" y1="1602.1" x2="214.6" y2="1602.1" stroke="#7a7a7a" stroke-width="1"/>
<text x="210.2" y="1606.8" font-size="16.8" text-anchor="end">154</text>
<line x1="211.5" y1="1642.6" x2="214.6" y2="1642.6" stroke="#7a7a7a" stroke-width="1"/>
<text x="210.2" y="1647.7" font-size="16.8" text-anchor="end">102</text>
<line x1="211.5" y1="1683.9" x2="214.6" y2="1683.9" stroke="#7a7a7a" stroke-width="1"/>
<text x="210.2" y="1688.3" font-size="16.8" text-anchor="end">51</text>
<line x1="211.5" y1="1725.2" x2="214.6" y2="1725.2" stroke="#7a7a7a" stroke-width="1"/>
<text x="210.2" y="1730.3" font-size="16.8" text-anchor="end">0</text>
<line x1="214.6" y1="1725.2" x2="214.6" y2="1728.5" stroke="#7a7a7a" stroke-width="1"/>
<text x="208.2" y="1741.8" font-size="16.8" textLength="20.2" lengthAdjust="spacingAndGlyphs">10</text>
<text x="228.5" y="1735.6" font-size="11">0</text>
<line x1="255.8" y1="1725.2" x2="255.8" y2="1728.5" stroke="#7a7a7a" stroke-width="1"/>
<text x="243" y="1741.8" font-size="16.8" textLength="19.6" lengthAdjust="spacingAndGlyphs">10</text>
<text x="262.7" y="1735.6" font-size="11">1</text>
<line x1="297" y1="1725.2" x2="297" y2="1728.5" stroke="#7a7a7a" stroke-width="1"/>
<text x="284.6" y="1741.8" font-size="16.8" textLength="19.6" lengthAdjust="spacingAndGlyphs">10</text>
<text x="304.3" y="1735.6" font-size="11">2</text>
<line x1="338.2" y1="1725.2" x2="338.2" y2="1728.5" stroke="#7a7a7a" stroke-width="1"/>
<text x="326.2" y="1741.8" font-size="16.8" textLength="19.5" lengthAdjust="spacingAndGlyphs">10</text>
<text x="345.8" y="1735.6" font-size="11">3</text>
<line x1="379.4" y1="1725.2" x2="379.4" y2="1728.5" stroke="#7a7a7a" stroke-width="1"/>
<text x="367.2" y="1741.8" font-size="16.8" textLength="19.2" lengthAdjust="spacingAndGlyphs">10</text>
<text x="386.5" y="1735.6" font-size="11">4</text>
<line x1="420.6" y1="1725.2" x2="420.6" y2="1728.5" stroke="#7a7a7a" stroke-width="1"/>
<text x="408.4" y="1741.8" font-size="16.8" textLength="19.6" lengthAdjust="spacingAndGlyphs">10</text>
<text x="428.1" y="1735.6" font-size="11">5</text>
<text x="234.4" y="1763.4" font-size="16.8" textLength="172.8" lengthAdjust="spacingAndGlyphs">ITGA3 antibody signal</text>
<text x="278.3" y="1780" font-size="16.8" textLength="85.4" lengthAdjust="spacingAndGlyphs">(Alexa488)</text>
<g transform="translate(177.3,1668.5) rotate(-90)">
<text x="-0.8" y="0" font-size="18.5" textLength="93.8" lengthAdjust="spacingAndGlyphs">Side-scatter</text>
</g>
<line x1="431.1" y1="1639.3" x2="478.8" y2="1639.3" stroke="#231f20" stroke-width="1.6"/>
<path d="M487.9,1639.3 L474.9,1644.3 L477.5,1639.3 L474.9,1634.3 Z" fill="#231f20"/>
<line x1="688.8" y1="1639.3" x2="737.4" y2="1639.3" stroke="#231f20" stroke-width="1.6"/>
<path d="M746.5,1639.3 L733.5,1644.3 L736.1,1639.3 L733.5,1634.3 Z" fill="#231f20"/>
<text x="492.7" y="1589.4" font-size="16.8" textLength="88.1" lengthAdjust="spacingAndGlyphs">ITGA3-Low</text>
<text x="519" y="1606" font-size="16.8" textLength="36" lengthAdjust="spacingAndGlyphs">cells</text>
<text x="588" y="1589.4" font-size="16.8" textLength="93.7" lengthAdjust="spacingAndGlyphs">ITGA3-High</text>
<text x="616.5" y="1606" font-size="16.8" textLength="36.4" lengthAdjust="spacingAndGlyphs">cells</text>
<text x="679.1" y="1664.2" font-size="16.8" textLength="79.6" lengthAdjust="spacingAndGlyphs">2.5 weeks</text>
<text x="672.1" y="1680.9" font-size="16.8" textLength="95.1" lengthAdjust="spacingAndGlyphs">vemurafenib</text>
<path d="M503.5,1622.1 L668,1622.1 L662.3,1677.6 L496.4,1677.6Z" fill="#fff" stroke="#7f7f7f" stroke-width="2.4" stroke-linejoin="round"/>
<path d="M516.3,1613.3 L576.2,1613.3 L581.1,1620.7 L581.1,1673.4 L576.2,1673.4 L507.1,1673.4 L512.8,1624.9Z" fill="#fff" stroke="#7f7f7f" stroke-width="2.4" stroke-linejoin="round"/>
<path d="M512.8,1624.9 L576.9,1624.9" fill="none" stroke="#7f7f7f" stroke-width="2.4" stroke-linejoin="round"/>
<path d="M516.3,1613.3 L512.8,1624.9" fill="none" stroke="#7f7f7f" stroke-width="2.4" stroke-linejoin="round"/>
<path d="M576.2,1613.3 L576.2,1673.4" fill="none" stroke="#7f7f7f" stroke-width="2.4" stroke-linejoin="round"/>
<path d="M589.7,1613.3 L649.5,1613.3 L654.5,1620.7 L654.5,1673.4 L649.5,1673.4 L580.4,1673.4 L586.1,1624.9Z" fill="#fff" stroke="#7f7f7f" stroke-width="2.4" stroke-linejoin="round"/>
<path d="M586.1,1624.9 L650.2,1624.9" fill="none" stroke="#7f7f7f" stroke-width="2.4" stroke-linejoin="round"/>
<path d="M589.7,1613.3 L586.1,1624.9" fill="none" stroke="#7f7f7f" stroke-width="2.4" stroke-linejoin="round"/>
<path d="M649.5,1613.3 L649.5,1673.4" fill="none" stroke="#7f7f7f" stroke-width="2.4" stroke-linejoin="round"/>
<path d="M524.8,1631.3 C526.9,1632.5 525.6,1635.6 525.4,1639.3 C525.2,1643 525.6,1643.4 523.9,1645.2 C522.2,1647 521.5,1646.6 519,1646.2 C516.6,1645.8 516.3,1645.6 514.7,1643.7 C513.1,1641.8 512.4,1641.3 513.1,1638.9 C513.9,1636.6 514.4,1636.8 517.5,1634.7 C520.6,1632.7 522.7,1630 524.8,1631.3Z" fill="#c8c8c8" stroke="#444" stroke-width="0.7"/>
<path d="M527.7,1628.5 C528.6,1626.2 531.9,1626.9 535.6,1626.5 C539.3,1626 539.5,1625.5 541.6,1626.9 C543.7,1628.3 543.4,1629.1 543.5,1631.6 C543.5,1634.1 543.4,1634.4 541.8,1636.3 C540.1,1638.1 539.8,1639 537.3,1638.6 C534.9,1638.3 535,1637.8 532.4,1635.1 C529.9,1632.4 526.9,1630.8 527.7,1628.5Z" fill="#c8c8c8" stroke="#444" stroke-width="0.7"/>
<path d="M542.5,1632.7 C543.8,1629.6 549,1625.6 552.2,1624.2 C555.3,1622.8 552.9,1624 554.3,1627.5 C555.7,1631 557.5,1634.5 557.3,1637.3 C557.2,1640.1 556.5,1638.4 553.8,1638.1 C551,1637.7 550.1,1637.5 547,1636 C544,1634.6 541.1,1635.8 542.5,1632.7Z" fill="#c8c8c8" stroke="#444" stroke-width="0.7"/>
<path d="M564.1,1623.5 C566.3,1622.7 567.9,1625.7 570.6,1628.2 C573.3,1630.8 573.9,1630.6 574.2,1633.1 C574.5,1635.6 573.7,1635.9 571.8,1637.5 C569.9,1639.2 569.6,1639.3 567.1,1639.2 C564.6,1639.2 563.8,1639.5 562.5,1637.4 C561.1,1635.3 561.6,1635 562,1631.3 C562.5,1627.6 561.8,1624.4 564.1,1623.5Z" fill="#c8c8c8" stroke="#444" stroke-width="0.7"/>
<path d="M531.3,1636.6 C533.1,1635.6 534.9,1637.9 537.5,1639.6 C540.1,1641.3 540.6,1641.1 541.2,1643.1 C541.8,1645.2 541.2,1645.5 539.9,1647.2 C538.5,1648.8 538.3,1648.9 536.2,1649.3 C534.1,1649.6 533.5,1650 532,1648.4 C530.6,1646.9 531,1646.6 530.8,1643.5 C530.6,1640.3 529.6,1637.7 531.3,1636.6Z" fill="#f7a021" stroke="#444" stroke-width="0.7"/>
<path d="M559.3,1641.3 C559.3,1644.7 559.2,1645.2 557.4,1647.6 C555.6,1650 555.2,1650.2 552.7,1650.2 C550.1,1650.2 549.7,1650 547.9,1647.6 C546.2,1645.2 546,1644.7 546,1641.3 C546,1638 546.2,1637.4 547.9,1635 C549.7,1632.7 550.1,1632.4 552.7,1632.4 C555.2,1632.4 555.6,1632.7 557.4,1635 C559.2,1637.4 559.3,1638 559.3,1641.3Z" fill="#c8c8c8" stroke="#444" stroke-width="0.7"/>
<path d="M558.2,1646.9 C558.9,1643.7 563.2,1639.2 565.9,1637.3 C568.6,1635.5 566.5,1637 568.4,1640 C570.3,1643.1 572.6,1646.1 572.9,1648.7 C573.2,1651.4 572.3,1649.9 569.7,1650 C567,1650.2 566.1,1650.1 563,1649.2 C560,1648.4 557.4,1650.1 558.2,1646.9Z" fill="#c8c8c8" stroke="#444" stroke-width="0.7"/>
<path d="M531.9,1656.3 C531.9,1659.4 531.7,1659.9 530,1662.2 C528.4,1664.4 528,1664.6 525.6,1664.6 C523.2,1664.6 522.9,1664.4 521.2,1662.2 C519.5,1659.9 519.4,1659.4 519.4,1656.3 C519.4,1653.1 519.5,1652.6 521.2,1650.4 C522.9,1648.2 523.2,1647.9 525.6,1647.9 C528,1647.9 528.4,1648.2 530,1650.4 C531.7,1652.6 531.9,1653.1 531.9,1656.3Z" fill="#c8c8c8" stroke="#444" stroke-width="0.7"/>
<path d="M531.1,1660.5 C532.4,1657.3 537.6,1653.4 540.8,1652 C543.9,1650.6 541.5,1651.8 542.9,1655.3 C544.3,1658.7 546.1,1662.2 546,1665.1 C545.8,1667.9 545.1,1666.2 542.4,1665.8 C539.6,1665.5 538.7,1665.2 535.7,1663.8 C532.6,1662.4 529.7,1663.6 531.1,1660.5Z" fill="#c8c8c8" stroke="#444" stroke-width="0.7"/>
<path d="M551.2,1649.2 C553.5,1648.3 555.1,1651.3 557.8,1653.8 C560.5,1656.4 561.1,1656.3 561.4,1658.8 C561.7,1661.2 560.9,1661.5 559,1663.2 C557.1,1664.8 556.8,1664.9 554.3,1664.9 C551.8,1664.8 551,1665.1 549.6,1663 C548.3,1660.9 548.8,1660.7 549.2,1657 C549.6,1653.3 548.9,1650 551.2,1649.2Z" fill="#c8c8c8" stroke="#444" stroke-width="0.7"/>
<path d="M570.6,1652.7 C572.5,1653.8 571.4,1656.6 571.2,1659.9 C571,1663.2 571.4,1663.5 569.9,1665.1 C568.3,1666.7 567.7,1666.4 565.5,1666 C563.3,1665.6 563,1665.5 561.6,1663.8 C560.2,1662.1 559.6,1661.7 560.2,1659.5 C560.9,1657.4 561.4,1657.6 564.1,1655.8 C566.9,1654 568.7,1651.6 570.6,1652.7Z" fill="#c8c8c8" stroke="#444" stroke-width="0.7"/>
<path d="M508.7,1667.7 C509.5,1664.3 513.9,1659.6 516.7,1657.7 C519.6,1655.7 517.4,1657.3 519.4,1660.5 C521.4,1663.7 523.8,1666.8 524.1,1669.6 C524.5,1672.4 523.5,1670.8 520.7,1671 C517.9,1671.1 517,1671 513.7,1670.2 C510.5,1669.3 507.9,1671 508.7,1667.7Z" fill="#c8c8c8" stroke="#444" stroke-width="0.7"/>
<path d="M541.8,1670.1 C541.4,1666.9 543.8,1661.2 545.8,1658.5 C547.7,1655.9 546.3,1658 549.1,1660.2 C551.9,1662.4 555,1664.4 556.3,1666.8 C557.5,1669.2 556.1,1668.1 553.7,1669.1 C551.2,1670.2 550.3,1670.4 547.2,1670.7 C544,1670.9 542.2,1673.4 541.8,1670.1Z" fill="#c8c8c8" stroke="#444" stroke-width="0.7"/>
<path d="M598.4,1630.1 C600.9,1631 600.1,1634.5 600.6,1638.5 C601,1642.4 601.6,1642.7 600.1,1644.9 C598.7,1647.2 597.8,1646.9 595.2,1646.9 C592.5,1646.9 592.2,1646.8 590.1,1645.1 C588.1,1643.3 587.3,1643 587.6,1640.4 C587.9,1637.7 588.5,1637.9 591.4,1635.1 C594.3,1632.4 596,1629.2 598.4,1630.1Z" fill="#f7a021" stroke="#444" stroke-width="0.7"/>
<path d="M601.7,1627.2 C602.9,1625.1 606,1626.3 609.8,1626.5 C613.5,1626.8 613.8,1626.3 615.6,1628 C617.5,1629.7 617.1,1630.5 616.7,1632.9 C616.3,1635.4 616.1,1635.7 614.2,1637.3 C612.2,1638.8 611.8,1639.6 609.4,1638.8 C607,1638.1 607.2,1637.6 605.2,1634.5 C603.1,1631.4 600.5,1629.3 601.7,1627.2Z" fill="#f7a021" stroke="#444" stroke-width="0.7"/>
<path d="M617.5,1635.6 C617.7,1632.2 621.2,1626.7 623.7,1624.3 C626.2,1622 624.4,1623.9 626.8,1626.7 C629.3,1629.5 632.2,1632.1 633.1,1634.8 C633.9,1637.5 632.6,1636.2 630,1636.8 C627.3,1637.4 626.3,1637.5 623,1637.2 C619.6,1636.9 617.3,1639 617.5,1635.6Z" fill="#f7a021" stroke="#444" stroke-width="0.7"/>
<path d="M636.7,1623.5 C639,1622.7 640.6,1625.7 643.3,1628.2 C646,1630.8 646.5,1630.6 646.8,1633.1 C647.1,1635.6 646.3,1635.9 644.4,1637.5 C642.6,1639.2 642.2,1639.3 639.7,1639.2 C637.2,1639.2 636.4,1639.5 635.1,1637.4 C633.7,1635.3 634.2,1635 634.7,1631.3 C635.1,1627.6 634.4,1624.4 636.7,1623.5Z" fill="#fdd575" stroke="#444" stroke-width="0.7"/>
<path d="M604.5,1636.3 C606.4,1635.2 608.2,1637.6 611,1639.4 C613.8,1641.2 614.2,1641 614.9,1643.2 C615.5,1645.3 614.9,1645.7 613.5,1647.4 C612.1,1649.1 611.8,1649.3 609.6,1649.6 C607.4,1650 606.8,1650.4 605.2,1648.7 C603.7,1647.1 604.1,1646.8 603.9,1643.5 C603.7,1640.2 602.6,1637.4 604.5,1636.3Z" fill="#f7a021" stroke="#444" stroke-width="0.7"/>
<path d="M632.2,1641.3 C632.2,1644.5 632.1,1645 630.4,1647.2 C628.8,1649.4 628.4,1649.6 626,1649.6 C623.6,1649.6 623.2,1649.4 621.6,1647.2 C619.9,1645 619.8,1644.5 619.8,1641.3 C619.8,1638.2 619.9,1637.6 621.6,1635.4 C623.2,1633.2 623.6,1633 626,1633 C628.4,1633 628.8,1633.2 630.4,1635.4 C632.1,1637.6 632.2,1638.2 632.2,1641.3Z" fill="#fdd575" stroke="#444" stroke-width="0.7"/>
<path d="M631.9,1646.8 C632.7,1643.7 636.7,1639.4 639.2,1637.7 C641.8,1635.9 639.9,1637.4 641.6,1640.3 C643.4,1643.1 645.6,1646 645.9,1648.5 C646.2,1651 645.3,1649.6 642.8,1649.7 C640.3,1649.9 639.4,1649.8 636.5,1649 C633.6,1648.2 631.2,1649.8 631.9,1646.8Z" fill="#f7a021" stroke="#444" stroke-width="0.7"/>
<path d="M605.9,1656.3 C605.9,1659.4 605.7,1659.9 604.1,1662.2 C602.4,1664.4 602,1664.6 599.7,1664.6 C597.3,1664.6 596.9,1664.4 595.2,1662.2 C593.6,1659.9 593.4,1659.4 593.4,1656.3 C593.4,1653.1 593.6,1652.6 595.2,1650.4 C596.9,1648.2 597.3,1647.9 599.7,1647.9 C602,1647.9 602.4,1648.2 604.1,1650.4 C605.7,1652.6 605.9,1653.1 605.9,1656.3Z" fill="#fdd575" stroke="#444" stroke-width="0.7"/>
<path d="M603.7,1660.5 C605.1,1657.3 610.3,1653.4 613.4,1652 C616.6,1650.6 614.1,1651.8 615.5,1655.3 C616.9,1658.7 618.7,1662.2 618.6,1665.1 C618.4,1667.9 617.7,1666.2 615,1665.8 C612.2,1665.5 611.3,1665.2 608.3,1663.8 C605.3,1662.4 602.3,1663.6 603.7,1660.5Z" fill="#f7a021" stroke="#444" stroke-width="0.7"/>
<path d="M623.9,1649.9 C626.2,1649 627.7,1652 630.4,1654.6 C633.2,1657.1 633.7,1657 634,1659.5 C634.3,1662 633.5,1662.2 631.6,1663.9 C629.7,1665.5 629.4,1665.6 626.9,1665.6 C624.4,1665.6 623.6,1665.8 622.3,1663.7 C620.9,1661.6 621.4,1661.4 621.8,1657.7 C622.3,1654 621.6,1650.7 623.9,1649.9Z" fill="#f7a021" stroke="#444" stroke-width="0.7"/>
<path d="M643.9,1653.4 C645.8,1654.5 644.7,1657.3 644.5,1660.6 C644.3,1663.9 644.7,1664.2 643.2,1665.8 C641.7,1667.4 641,1667.1 638.8,1666.7 C636.6,1666.4 636.4,1666.2 635,1664.5 C633.6,1662.8 632.9,1662.4 633.6,1660.3 C634.2,1658.1 634.7,1658.3 637.5,1656.5 C640.2,1654.7 642.1,1652.3 643.9,1653.4Z" fill="#f7a021" stroke="#444" stroke-width="0.7"/>
<path d="M582,1667.7 C582.8,1664.3 587.2,1659.6 590.1,1657.7 C592.9,1655.7 590.8,1657.3 592.7,1660.5 C594.7,1663.7 597.1,1666.8 597.4,1669.6 C597.8,1672.4 596.8,1670.8 594,1671 C591.3,1671.1 590.3,1671 587.1,1670.2 C583.9,1669.3 581.2,1671 582,1667.7Z" fill="#f7a021" stroke="#444" stroke-width="0.7"/>
<path d="M615.9,1670.8 C615.5,1667.6 617.9,1661.9 619.8,1659.2 C621.8,1656.6 620.3,1658.7 623.1,1660.9 C625.9,1663.1 629.1,1665.1 630.3,1667.5 C631.5,1669.9 630.1,1668.8 627.7,1669.9 C625.3,1670.9 624.4,1671.1 621.2,1671.4 C618.1,1671.6 616.2,1674.1 615.9,1670.8Z" fill="#fdd575" stroke="#444" stroke-width="0.7"/>
<path d="M614.7,1650.4 C616,1648.4 620.2,1646.3 622.6,1645.7 C624.9,1645.1 623.1,1645.6 623.6,1648.2 C624.2,1650.9 625,1653.5 624.6,1655.5 C624.1,1657.5 623.8,1656.2 622,1655.6 C620.1,1655 619.4,1654.7 617.5,1653.3 C615.5,1652 613.3,1652.5 614.7,1650.4Z" fill="#f7a021" stroke="#444" stroke-width="0.7"/>
<path d="M511.4,1648.4 L575.4,1648.4" fill="none" stroke="#7f7f7f" stroke-width="2.4" stroke-linejoin="round"/>
<path d="M507.1,1673.4 L576.2,1673.4" fill="none" stroke="#7f7f7f" stroke-width="2.4" stroke-linejoin="round"/>
<path d="M512.8,1624.9 L507.1,1673.4" fill="none" stroke="#7f7f7f" stroke-width="2.4" stroke-linejoin="round"/>
<path d="M576.2,1624.9 L576.2,1673.4" fill="none" stroke="#7f7f7f" stroke-width="2.4" stroke-linejoin="round"/>
<path d="M584.7,1648.4 L648.8,1648.4" fill="none" stroke="#7f7f7f" stroke-width="2.4" stroke-linejoin="round"/>
<path d="M580.4,1673.4 L649.5,1673.4" fill="none" stroke="#7f7f7f" stroke-width="2.4" stroke-linejoin="round"/>
<path d="M586.1,1624.9 L580.4,1673.4" fill="none" stroke="#7f7f7f" stroke-width="2.4" stroke-linejoin="round"/>
<path d="M649.5,1624.9 L649.5,1673.4" fill="none" stroke="#7f7f7f" stroke-width="2.4" stroke-linejoin="round"/>
<rect x="774.2" y="1512.8" width="260.8" height="259.7" fill="#000"/>
<rect x="781.9" y="1520.8" width="245.8" height="237.5" fill="#fff"/>
<rect x="781.9" y="1520.8" width="34.5" height="237.5" fill="url(#vlL)"/>
<rect x="993.2" y="1520.8" width="34.5" height="237.5" fill="url(#vlR)"/>
<rect x="781.9" y="1520.8" width="245.8" height="27.6" fill="url(#vlT)"/>
<rect x="781.9" y="1710" width="245.8" height="48.3" fill="url(#vlB)"/>
<rect x="781.9" y="1520.8" width="245.8" height="237.5" filter="url(#spkS)" opacity="0.55"/>
<path d="M847.7 1619.9h0M846.6 1617.1h0M848.7 1616.5h0M848.8 1620.3h0M849.5 1615.8h0M829.2 1635.6h0M832.3 1635h0M832.6 1638.9h0M833.9 1639.2h0M827.6 1636.4h0M871.4 1610.7h0M872.8 1602.8h0M877.5 1663.8h0M876.4 1662.4h0M929.8 1699.6h0M928.6 1706.5h0M943.2 1581.2h0M940.7 1578.6h0M943.1 1579.6h0M942.5 1576.2h0M942.2 1582.6h0M954.2 1679.8h0M957.6 1680h0M948.2 1678h0M949.9 1680.5h0M952.1 1684.9h0M952.4 1681.1h0M949 1617.9h0M852.3 1603.4h0M847.2 1604.7h0M847.2 1612.7h0M843.7 1606.6h0M848.7 1607.4h0M849.3 1603.8h0M913.3 1614.5h0M913.6 1615.6h0M917.6 1612.1h0M914.7 1611.8h0M920.8 1672.4h0M922.8 1674.6h0M923.7 1677.5h0M851.2 1602.8h0M851.6 1603.3h0M853.8 1604.5h0M856.5 1588.7h0M869.5 1613.4h0M872.4 1616.9h0M871.4 1609h0M874 1612h0M869.5 1615.8h0M871.6 1615.4h0M873.6 1625.4h0M871.9 1623.5h0M882.4 1621.2h0M886.3 1618.3h0M885.2 1621.9h0M888.4 1620.8h0M805.9 1570.6h0M805.6 1571.8h0M803.7 1566h0M809.6 1571.4h0M934.2 1679.3h0M935.9 1678.6h0M937 1680h0M933.7 1681.9h0M935.5 1683.6h0M932.8 1681h0M832.5 1580.5h0M832.4 1579.2h0M834.2 1577h0M829.7 1578.6h0M834.1 1577.4h0M831.3 1580.2h0M924.2 1586.6h0M934.1 1586.2h0M927.9 1587.1h0M886 1661h0M885 1660.9h0M888.4 1664.9h0M890.2 1660.6h0M889.4 1658.3h0M888.8 1660h0M848.7 1579.9h0M799.9 1572.8h0M801.4 1575h0M799.1 1572.4h0M801.9 1568.9h0M964 1552.3h0M912.8 1681.6h0M915.8 1682.4h0M915.6 1682.4h0M913.5 1677.6h0M811.5 1626.3h0M814.4 1627.2h0M852 1620.2h0M854.5 1615.7h0M858.5 1620.3h0M807.4 1600.5h0M806 1602.7h0M809.3 1599.1h0M809.5 1601.1h0M810.8 1602h0M805.9 1598.4h0M867.4 1646.4h0M863.1 1644.3h0M865.4 1643.1h0M977.2 1631.1h0M976.3 1630.8h0M899.3 1649.8h0M898.8 1652.1h0M895.9 1653.1h0M901.7 1652.3h0M898.7 1652.8h0M900.9 1650.6h0M904.5 1679.4h0M904.5 1685h0M902.7 1684.4h0M904.2 1685.4h0M806.5 1667.9h0M808.9 1671.3h0M806.6 1671.6h0M906.1 1634.9h0M906.9 1633.2h0M890.2 1658.2h0M890.7 1656.2h0M892.3 1658.2h0M892.3 1664.2h0M893.6 1655.5h0M834.8 1610.3h0M837.2 1617.3h0M898.3 1571.4h0M896 1570.8h0M896.7 1569.1h0M898.1 1568.7h0M871.2 1566h0M879 1569.9h0M875.9 1566.7h0M876.4 1565.8h0M884 1567.2h0M880 1568.2h0M923.2 1655.4h0M921.6 1653.9h0M923.6 1658.7h0M922.3 1655.4h0M871.5 1637.9h0M829 1570.7h0M827 1573.1h0M845.6 1618.6h0M975.8 1654.6h0M978.2 1651.7h0M976.5 1652.2h0M971.8 1652.8h0M910.4 1573.7h0M859.2 1641.2h0M863.9 1639.3h0M863.8 1639.7h0M935.9 1675.2h0M935.2 1671.5h0M934.3 1675.5h0M936.9 1675.3h0M937.2 1556.2h0M939.9 1553.8h0M938 1555.5h0M938.9 1559.3h0M936.2 1557.8h0M924.4 1614.4h0M922.2 1611h0M924.5 1617.5h0M924.9 1617.2h0M926.2 1613.7h0M943.7 1651.3h0M862.2 1604.5h0M857.9 1602.7h0M851 1595h0M844.9 1600.5h0M873.2 1621.4h0M873.1 1617.9h0M834 1603.3h0M834.1 1598.8h0M831.9 1603.2h0M836.2 1602.3h0M833.4 1597h0M924 1656.3h0M926.1 1655.8h0M843.7 1589.4h0M845.1 1592h0M843.1 1594.9h0M824.4 1595.4h0M826.1 1595.6h0M824.3 1597.9h0M821.3 1598.7h0M826.6 1593.5h0M870.5 1663.6h0M875.5 1608h0M937.8 1616.6h0M935.6 1620.8h0M987.2 1625.6h0M987.8 1613.7h0M984 1611.6h0M983.1 1616.9h0M985.9 1595.2h0M984 1594.9h0M904.8 1563.7h0M886.1 1616.8h0M887.9 1615.6h0M913.6 1656.1h0M916.7 1663.1h0M932.5 1672.9h0M934.9 1673.3h0M937 1669.2h0M934.1 1670.8h0M987.7 1578.8h0M980 1578.3h0M981.9 1576.1h0M981.6 1571.5h0M985.2 1576.7h0M982.9 1577.6h0M866.4 1582h0M865.1 1581.3h0M859.6 1580.9h0M824.1 1587.6h0M822.3 1582.9h0M818.9 1579.7h0M823 1586.2h0M820.5 1586.1h0M824.2 1582.2h0M808.7 1648.2h0M806.5 1651.5h0M809.1 1649.1h0M810.5 1650.2h0M807 1647.4h0" stroke="#2a2a2a" stroke-width="1.1" stroke-linecap="round" fill="none" opacity="0.75"/>
<ellipse cx="787.7" cy="1530.9" rx="5" ry="5.8" fill="url(#cdark)" opacity="0.5"/>
<ellipse cx="947.7" cy="1521.6" rx="4.7" ry="3" fill="url(#cdark)" opacity="0.5"/>
<ellipse cx="992" cy="1547.6" rx="8" ry="8.6" fill="url(#cdark)" opacity="0.6"/>
<ellipse cx="881.8" cy="1570.4" rx="11.3" ry="7.5" fill="url(#cdark)" opacity="0.9"/>
<ellipse cx="919.2" cy="1567.3" rx="6.3" ry="7" fill="url(#cdark)" opacity="0.2"/>
<ellipse cx="963.3" cy="1569.4" rx="6.7" ry="8" fill="url(#cdark)" opacity="0.85"/>
<ellipse cx="796" cy="1618.2" rx="5" ry="5" fill="url(#cdark)" opacity="0.7"/>
<ellipse cx="837.6" cy="1626.5" rx="5.8" ry="6.3" fill="url(#cdark)" opacity="0.15"/>
<ellipse cx="907.2" cy="1674.3" rx="7.5" ry="7.5" fill="url(#cdark)" opacity="0.8"/>
<ellipse cx="924.9" cy="1703.4" rx="5.8" ry="7.2" fill="url(#cdark)" opacity="0.25"/>
<ellipse cx="960.2" cy="1696.2" rx="4.2" ry="4.2" fill="url(#cdark)" opacity="0.25"/>
<g clip-path="url(#clL)"><rect x="781.9" y="1520.8" width="245.8" height="237.5" filter="url(#spkD)" opacity="0.8"/></g>
<g clip-path="url(#clL2)"><rect x="781.9" y="1520.8" width="245.8" height="237.5" filter="url(#spkD)" opacity="0.38"/></g>
<path d="M788.1,1538.2 C786.6,1538.3 786.2,1538.1 784.8,1537.2 C783.4,1536.3 782.9,1536.1 782.1,1534.5 C781.3,1532.9 781.1,1532.2 781.3,1530.4 C781.5,1528.7 782,1528.2 783,1526.9 C784,1525.5 784.2,1525.5 785.6,1524.7 C787,1523.8 787.6,1523.1 789,1523.4 C790.5,1523.7 790.8,1524.6 791.9,1526 C792.9,1527.4 793,1527.6 793.5,1529.4 C794,1531.2 794.5,1531.9 794,1533.6 C793.5,1535.3 792.8,1535.6 791.4,1536.7 C790,1537.8 789.7,1538.1 788.1,1538.2Z" fill="none" stroke="#e3262b" stroke-width="0.9"/>
<path d="M950.7,1518.4 C952,1518.9 952.5,1519 953.1,1519.9 C953.6,1520.7 953.3,1521 953.2,1522 C953,1522.9 953.2,1523.2 952.3,1524 C951.5,1524.8 951.1,1525.1 949.6,1525.3 C948.2,1525.6 947.7,1525.5 946.2,1525.2 C944.8,1524.9 944.3,1524.9 943.3,1524.2 C942.2,1523.5 942,1523.2 941.8,1522.2 C941.7,1521.3 942.2,1521.1 942.7,1520.2 C943.3,1519.3 943.2,1518.9 944.3,1518.4 C945.4,1517.8 946,1517.8 947.5,1517.8 C949,1517.8 949.4,1517.9 950.7,1518.4Z" fill="none" stroke="#e3262b" stroke-width="0.9"/>
<path d="M989.1,1557 C986.5,1556.1 985.4,1556.7 983.8,1554.7 C982.1,1552.8 982.4,1551.5 982.1,1548.7 C981.9,1545.9 981.7,1545.1 982.8,1542.5 C983.8,1540 984.4,1539.1 986.6,1537.7 C988.8,1536.3 989.7,1536.3 992.4,1536.4 C995,1536.5 996,1536.4 998.1,1538.1 C1000.1,1539.7 1000.1,1540.8 1001.1,1543.5 C1002,1546.2 1002.7,1546.9 1002.3,1549.6 C1001.9,1552.2 1001,1552.7 999.2,1554.9 C997.4,1557 997,1558.2 994.6,1558.8 C992.3,1559.3 991.6,1558 989.1,1557Z" fill="none" stroke="#e3262b" stroke-width="0.9"/>
<path d="M891.4,1564.4 C893.6,1566.1 894.2,1566.5 894.9,1568.7 C895.6,1570.9 895.4,1571.4 894.4,1573.7 C893.4,1576 893.4,1577.2 890.7,1578.6 C887.9,1580 886.3,1579.6 882.5,1579.7 C878.8,1579.7 877.6,1579.9 874.6,1578.7 C871.6,1577.5 871.3,1576.7 869.7,1574.6 C868.1,1572.5 867.5,1571.8 867.7,1569.5 C868,1567.3 868.7,1566.6 870.9,1564.8 C873.1,1562.9 874,1562.6 877.3,1561.8 C880.6,1561 881.9,1560.6 885.2,1561.2 C888.5,1561.8 889.1,1562.6 891.4,1564.4Z" fill="none" stroke="#e3262b" stroke-width="0.9"/>
<path d="M912,1562.6 C913,1560.7 913.7,1560.4 915.5,1559.3 C917.4,1558.2 918,1557.8 920.1,1558 C922.1,1558.2 922.7,1558.6 924.4,1560.1 C926.1,1561.5 926.7,1562.1 927.3,1564.3 C927.9,1566.4 927.8,1567.3 927.1,1569.4 C926.4,1571.6 925.9,1571.7 924.4,1573.3 C922.9,1574.9 922.7,1575.7 920.8,1576.4 C918.8,1577 918,1576.9 916.1,1576 C914.1,1575.1 913.5,1574.6 912.4,1572.7 C911.3,1570.7 911.4,1570 911.3,1567.7 C911.2,1565.3 911,1564.6 912,1562.6Z" fill="none" stroke="#e3262b" stroke-width="0.9"/>
<path d="M961.5,1560.1 C963.5,1559.3 964.3,1558.8 966.2,1559.5 C968.2,1560.2 968.8,1561.1 970,1563.2 C971.1,1565.3 971.3,1566.1 971.3,1568.5 C971.3,1571 971,1571.4 970.2,1573.7 C969.3,1576 969.3,1577.1 967.6,1578.6 C965.9,1580.1 964.9,1580.5 962.8,1580.1 C960.7,1579.7 960.5,1578.5 958.7,1576.9 C957,1575.3 956,1575.4 955.2,1573.2 C954.4,1571 954.7,1569.9 955.3,1567.4 C955.9,1565 956.2,1564.5 957.7,1562.8 C959.1,1561.1 959.5,1560.9 961.5,1560.1Z" fill="none" stroke="#e3262b" stroke-width="0.9"/>
<path d="M794.2,1624.5 C792.6,1624 792,1623.9 791,1622.6 C790.1,1621.4 790.5,1620.7 790.3,1619.1 C790.1,1617.5 789.6,1617 790.2,1615.6 C790.8,1614.3 791.5,1614.3 792.8,1613.4 C794.1,1612.5 794.4,1611.8 795.9,1611.8 C797.4,1611.7 797.8,1612.2 799.2,1613.1 C800.6,1613.9 801.2,1614 802,1615.4 C802.8,1616.8 802.9,1617.5 802.6,1619.1 C802.4,1620.7 801.8,1621 800.7,1622.3 C799.6,1623.6 799.5,1624.1 797.9,1624.7 C796.4,1625.2 795.8,1625 794.2,1624.5Z" fill="none" stroke="#e3262b" stroke-width="0.9"/>
<path d="M835.1,1633.4 C833.3,1632.6 832.6,1632.7 831.6,1631.2 C830.6,1629.7 830.8,1628.9 830.8,1626.9 C830.8,1625 830.7,1624.5 831.5,1622.8 C832.3,1621.1 832.7,1620.6 834.2,1619.6 C835.8,1618.6 836.4,1618.3 838.2,1618.5 C840,1618.8 840.4,1619.3 841.8,1620.6 C843.1,1621.9 843.1,1622.3 843.9,1624.1 C844.7,1625.9 845.4,1626.6 845.1,1628.5 C844.7,1630.3 843.9,1630.6 842.5,1632 C841.1,1633.5 840.8,1634.5 839.1,1634.9 C837.4,1635.2 836.8,1634.2 835.1,1633.4Z" fill="none" stroke="#e3262b" stroke-width="0.9"/>
<path d="M914.5,1668.8 C915.9,1670.7 916.2,1671.3 916.4,1673.6 C916.7,1675.9 916.5,1676.6 915.5,1678.8 C914.4,1680.9 913.9,1681.5 911.9,1682.7 C909.8,1683.9 909,1684 906.6,1683.8 C904.2,1683.7 903.5,1683.4 901.6,1682 C899.7,1680.5 899.3,1680 898.3,1677.8 C897.3,1675.5 896.9,1674.6 897.4,1672.3 C897.9,1670 898.7,1669.4 900.5,1667.8 C902.3,1666.2 902.8,1665.9 905.1,1665.3 C907.5,1664.7 908.3,1664.4 910.5,1665.2 C912.7,1666 913.1,1666.8 914.5,1668.8Z" fill="none" stroke="#e3262b" stroke-width="0.9"/>
<path d="M925.4,1712.1 C923.6,1712.5 922.8,1712.9 921.1,1711.9 C919.5,1710.9 919.3,1709.9 918.5,1707.8 C917.6,1705.7 917.3,1705 917.5,1702.9 C917.8,1700.7 918.3,1700.3 919.5,1698.6 C920.6,1696.8 920.7,1696.1 922.3,1695.2 C923.9,1694.3 924.7,1694 926.4,1694.6 C928.1,1695.1 928.2,1696 929.6,1697.6 C930.9,1699.2 931.6,1699.3 932.1,1701.4 C932.6,1703.5 932.6,1704.6 931.8,1706.6 C931.1,1708.6 930.4,1708.8 928.9,1710.1 C927.4,1711.3 927.2,1711.6 925.4,1712.1Z" fill="none" stroke="#e3262b" stroke-width="0.9"/>
<path d="M956.6,1692.5 C957.5,1691.5 957.8,1691.2 959.1,1690.9 C960.4,1690.7 960.8,1691 962,1691.4 C963.3,1691.9 963.7,1692 964.5,1693 C965.4,1694 965.6,1694.6 965.6,1695.9 C965.5,1697.1 965.1,1697.5 964.4,1698.5 C963.6,1699.6 963.5,1699.7 962.5,1700.4 C961.4,1701.1 961.1,1701.5 959.7,1701.5 C958.4,1701.5 957.8,1701.4 956.8,1700.6 C955.8,1699.7 955.9,1699.2 955.5,1697.9 C955.1,1696.6 954.9,1696.3 955.2,1695 C955.4,1693.8 955.7,1693.4 956.6,1692.5Z" fill="none" stroke="#e3262b" stroke-width="0.9"/>
<line x1="870" y1="1709.5" x2="888.2" y2="1690.6" stroke="#231f20" stroke-width="1.4"/>
<path d="M893.5,1685 L889.1,1696.1 L887.4,1691.4 L882.6,1689.8 Z" fill="#231f20"/>
<text x="796.6" y="1727.3" font-size="16.8" textLength="128.4" lengthAdjust="spacingAndGlyphs">Resistant colony</text>
<text x="778.3" y="1751.3" font-size="16.8" font-weight="bold" fill="#fff" textLength="40.6" lengthAdjust="spacingAndGlyphs">1mm</text>
<rect x="793.9" y="1756" width="11.4" height="2.6" fill="#fff"/>
<text x="846.1" y="1793.9" font-size="22.5" textLength="117" lengthAdjust="spacingAndGlyphs">11 colonies</text>
<text x="818.7" y="1504.9" font-size="22.5" textLength="171.4" lengthAdjust="spacingAndGlyphs">ITGA3-Low cells</text>
<rect x="1038.3" y="1512.7" width="260.7" height="259.7" fill="#000"/>
<rect x="1045.8" y="1520.5" width="246.4" height="238.4" fill="#fff"/>
<rect x="1045.8" y="1520.5" width="20.7" height="238.4" fill="url(#vrL)"/>
<rect x="1264.6" y="1520.5" width="27.6" height="238.4" fill="url(#vrR)"/>
<rect x="1045.8" y="1520.5" width="246.4" height="20.7" fill="url(#vrT)"/>
<rect x="1045.8" y="1724.4" width="246.4" height="34.5" fill="url(#vrB)"/>
<rect x="1045.8" y="1520.5" width="246.4" height="238.4" filter="url(#spkL)" opacity="0.75"/>
<g clip-path="url(#clR)"><rect x="1045.8" y="1520.5" width="246.4" height="238.4" fill="#000" opacity="0.05"/><rect x="1045.8" y="1520.5" width="246.4" height="238.4" filter="url(#spkD)" opacity="0.55"/></g>
<path d="M1067.6,1521 L1069,1523.7 L1068.6,1526.3 L1068.5,1528.6 L1067.7,1530.8 L1066.9,1533.1 L1065.5,1535.3 L1063.2,1536.9 L1060.7,1538.4 L1058.2,1538.9 L1049.4,1536.5 L1046.9,1535.2 L1046.5,1521Z M1124.2,1533.6 L1122.1,1534 L1119.9,1533.8 L1117.5,1533.7 L1115.6,1532.6 L1114.1,1531.3 L1113.5,1529.7 L1112.7,1528.2 L1112.8,1526.5 L1112.9,1525 L1113.4,1523.4 L1114.5,1522 L1115.5,1521 L1127.2,1521 L1129.6,1522.2 L1130.9,1523.5 L1131.8,1524.8 L1127.1,1532.4Z M1141.3,1533.1 L1141.8,1535.7 L1141.8,1538.6 L1141.1,1541.1 L1140.4,1543.7 L1139.2,1545.1 L1137.9,1546.1 L1136.5,1546 L1135.3,1546 L1134,1545.8 L1132.6,1545.7 L1131.5,1544 L1130.2,1542.4 L1129.5,1539.8 L1129.2,1536.9 L1129.6,1534.1 L1130,1531.6 L1130.6,1529.2 L1134.8,1522 L1136,1521.7 L1137.4,1523 L1138.7,1523.8 L1139.5,1526.3 L1140.3,1528.3 L1141,1530.5Z M1176.4,1521 L1177.7,1523 L1177.8,1524.5 L1177.5,1526.1 L1176.1,1527.5 L1173.8,1528.7 L1170.9,1529.5 L1167.8,1530 L1164.6,1530.2 L1161.5,1529.7 L1158.5,1529.4 L1155.1,1529.2 L1152.5,1528.2 L1150.2,1527 L1148.9,1525.6 L1148.3,1524 L1148.8,1522.4 L1150.5,1521Z M1250.9,1521 L1250.8,1522.9 L1250.4,1524.5 L1250,1526 L1249,1527.5 L1247.7,1528.8 L1246.6,1529.6 L1238.5,1531.1 L1236.2,1530.4 L1234.3,1529.3 L1232.6,1528.2 L1231.2,1527 L1230,1525.6 L1229,1524.1 L1228.5,1522.4 L1229,1521Z M1272.6,1521 L1269.6,1530.2 L1268,1530.4 L1266.1,1530.3 L1264.3,1529.7 L1262.6,1529.3 L1261.1,1528.5 L1259.4,1527.7 L1258.2,1526.5 L1257.1,1525.1 L1256.9,1523.5 L1257.3,1521.9Z M1284.4,1521.3 L1285.6,1522.8 L1286.2,1524.6 L1286.5,1526.4 L1286.8,1528.3 L1286.6,1529.7 L1280.9,1535.9 L1270.7,1531.9 L1273.6,1521.5 L1284.2,1521Z M1291.5,1549.9 L1289.7,1550.4 L1287.6,1549.9 L1286.6,1548.5 L1285.7,1546.5 L1285.2,1543.6 L1285.1,1540.5 L1285,1537.5 L1285.6,1534.8 L1285.8,1532.2 L1291.5,1525.9Z M1248.6,1531.8 L1251.2,1532.8 L1252.8,1534.5 L1253.7,1536.3 L1254.2,1538.1 L1254.9,1539.9 L1254.9,1541.7 L1254.8,1543.7 L1253.7,1545.6 L1251.6,1547.1 L1249.1,1548 L1246.4,1548.7 L1243.5,1548.2 L1241,1547.8 L1238.5,1547.4 L1236.1,1546.6 L1234.2,1545.4 L1232,1544.1 L1230.5,1542.3 L1230.5,1540.2 L1231,1538.3 L1232.5,1536.6 L1234.1,1535.2 L1235.7,1533.7 L1238.1,1532.9 L1239.7,1532 L1244.2,1531.1 L1245.9,1531.2Z M1271.7,1552.3 L1269.8,1551.9 L1267.9,1551.1 L1266.4,1549.6 L1265,1548 L1264.6,1545.7 L1264.4,1543.6 L1264.3,1541.6 L1264.6,1539.5 L1264.8,1537.3 L1265.7,1535.3 L1267.1,1533.8 L1268.8,1532.4 L1279.5,1536.9 L1280.3,1538.4 L1281.1,1540.5 L1281.1,1542.7 L1281,1545.1 L1279.7,1546.8 L1278.4,1548.5 L1276.9,1549.6 L1275.4,1550.8 L1273.7,1551.6Z M1057.9,1540 L1058.6,1543.2 L1058.7,1545.8 L1058.6,1548.3 L1058.5,1551 L1057.8,1553.6 L1056.4,1555.7 L1054.9,1557.5 L1048.4,1557.6 L1046.5,1555.7 L1046.5,1536.8Z M1144.5,1562 L1142.8,1562.6 L1140.9,1562.5 L1138.8,1562.7 L1137,1562.2 L1135.5,1561.2 L1134.5,1559.9 L1133.7,1558.6 L1133.5,1557.3 L1134,1556 L1134.1,1554.7 L1134.7,1553.4 L1135.6,1552.2 L1137.1,1551.2 L1138.9,1550.6 L1140.8,1550.3 L1142.8,1550.4 L1144.5,1551.2 L1146,1551.8 L1147.7,1552.5 L1149,1553.4 L1150.1,1554.6 L1150.5,1555.9 L1150.9,1557.4 L1150.5,1558.8 L1149.4,1560 L1147.8,1560.9 L1146,1561.4Z M1209.8,1550.3 L1211.2,1551.6 L1212.3,1553.2 L1212.8,1555.1 L1212.8,1556.9 L1213.1,1558.7 L1213.2,1560.7 L1212.3,1562.4 L1211.3,1564.2 L1209.6,1565.3 L1207.7,1565.8 L1205.8,1566.1 L1204,1565.5 L1202.3,1565 L1200.6,1564.5 L1199.1,1563.4 L1197.7,1562.1 L1196.4,1560.5 L1195.9,1558.5 L1196,1556.5 L1197.2,1554.8 L1198.1,1553.2 L1199.4,1552 L1200.7,1550.7 L1202.3,1549.7 L1204.1,1548.8 L1206.1,1548.8 L1208,1549.4Z M1048.5,1559.5 L1049.5,1558.7 L1054.3,1558.7 L1056.2,1560.8 L1057,1563.2 L1057.6,1565.5 L1057.5,1567.9 L1057.7,1570.3 L1057.3,1572.5 L1056.7,1574.7 L1055.9,1576.9 L1054.8,1578.8 L1053.3,1580.2 L1051.5,1580.2 L1049.9,1580.1 L1048.3,1579.1 L1047.1,1577.6 L1046.5,1560.6Z M1140.1,1574.8 L1139.4,1576.7 L1138.6,1578.4 L1126.9,1579.2 L1126.1,1578 L1125.4,1576.2 L1125.3,1573.5 L1125.7,1571.7 L1126.1,1570 L1127,1568.4 L1127.9,1566.9 L1129.1,1565.7 L1130.5,1564.4 L1132.2,1564.1 L1133.9,1564.3 L1135.4,1565.3 L1136.8,1566.4 L1137.7,1567.9 L1138.6,1569.4 L1139.4,1571 L1140,1572.8Z M1220,1567.7 L1221.8,1564.6 L1225.1,1563.3 L1228.2,1562 L1231.7,1561.3 L1235.2,1561.6 L1238.5,1562.2 L1240.4,1562.5 L1245.5,1579.3 L1244.1,1580.3 L1241.4,1581.7 L1238.3,1583 L1235.2,1583.4 L1230.4,1583.2 L1227.8,1582.1 L1224.6,1581Z M1240.5,1559 L1241.7,1558.4 L1243.9,1558.6 L1246,1558.8 L1248,1559.5 L1249.9,1560.1 L1251.8,1561.3 L1253.6,1562.7 L1255.2,1564.7 L1255.5,1567.3 L1255.3,1569.9 L1254.7,1572.2 L1253.4,1574.2 L1252.2,1576.2 L1250.7,1577.8 L1248.8,1578.8 L1246.8,1579.9Z M1063.8,1590.1 L1063.6,1587.7 L1063,1585.5 L1062.4,1583 L1063.2,1580.5 L1064.7,1578.4 L1066.4,1576.5 L1068.6,1575.3 L1071.2,1575.2 L1073.6,1575.3 L1075.8,1575.8 L1078.1,1576.4 L1080.6,1576.9 L1082.5,1578.6 L1084.3,1580.6 L1084.5,1583.2 L1084.6,1585.7 L1083.7,1588.1 L1082.9,1589.9 L1076.5,1595.3 L1066.8,1594.1 L1065.1,1592.1Z M1100.3,1585.9 L1099.4,1583.8 L1098.2,1581.9 L1097.8,1579.9 L1097.3,1577.7 L1097.9,1575.3 L1100.2,1573.5 L1103,1571.9 L1106.8,1571.4 L1110.4,1571.3 L1113.7,1571.2 L1117,1571.6 L1120.3,1572.2 L1123.1,1573.1 L1125.5,1579.7 L1123.6,1584.8 L1103.1,1587.9Z M1141.3,1592.1 L1139.7,1593.4 L1138,1594.6 L1136,1595.3 L1133.9,1595.5 L1131.9,1595.6 L1129.7,1595.9 L1128.2,1595.3 L1124.6,1585.3 L1126.2,1581.1 L1137.2,1580.3 L1138.8,1581.7 L1140.3,1583 L1141.4,1584.6 L1142.3,1586.3 L1142.5,1588.3 L1142.6,1590.3Z M1159.9,1581.7 L1161.2,1581 L1163.2,1580.8 L1165.1,1580.8 L1166.9,1581 L1168.6,1581.3 L1170.5,1581.7 L1172.2,1582.6 L1173.5,1583.9 L1174.2,1585.5 L1174.5,1587.2 L1174.1,1588.8 L1173.3,1590.3 L1172.1,1591.5 L1171.1,1592.8 L1169.8,1593.9 L1168.1,1594.8Z M1147.4,1596.8 L1146.8,1594.2 L1146.8,1591.6 L1146.8,1588.8 L1147.3,1585.8 L1149,1583.8 L1151,1582.3 L1153.1,1581.5 L1155.2,1581.1 L1157.4,1581.1 L1158.5,1581.5 L1165.7,1594.5 L1165.5,1596.8 L1163.9,1598.8 L1162.9,1601 L1161.4,1602.9 L1148.3,1598.4Z M1202.9,1573.4 L1204.6,1573.3 L1206.3,1573.7 L1206.8,1582.5 L1201.6,1585.3 L1200,1584.5 L1198.5,1584 L1197.4,1583.1 L1196.1,1582.1 L1195.3,1580.8 L1195.1,1579.4 L1195.3,1577.9 L1196.3,1576.7 L1197.5,1575.8 L1198.6,1574.9 L1199.9,1574.2 L1201.4,1573.8Z M1207.9,1582.5 L1207.9,1572.9 L1210.2,1571.4 L1212.2,1571 L1214.1,1571.1 L1215.9,1571.4 L1217.7,1572 L1219.5,1572.6 L1220.9,1573.8 L1223,1579.8 L1222.6,1581.1 L1221.6,1582.7 L1220.6,1584.1 L1219.4,1585.5Z M1258.7,1576.7 L1261,1575.6 L1263.5,1575.5 L1266.2,1576 L1268.4,1577.4 L1270,1579.5 L1271,1581.9 L1271.4,1584.4 L1271.3,1586.7 L1270.8,1589 L1270.5,1591.4 L1269.8,1593.9 L1267.9,1595.6 L1266,1597.5 L1263.4,1597.9 L1260.8,1597.7 L1258.5,1596.7 L1256.3,1595.9 L1254.5,1594.5 L1252.5,1593.2 L1250.7,1591.5 L1249.5,1589.1 L1249.2,1586.5 L1249.7,1584 L1251,1581.8 L1252.4,1579.7 L1254.4,1578.4 L1256.4,1577.2Z M1274.6,1577.4 L1273.8,1575.5 L1273,1573.8 L1272.6,1572.1 L1272.1,1570.2 L1272,1568.3 L1273.1,1566.5 L1274.2,1564.7 L1276,1563.4 L1278.3,1563.1 L1280.5,1563.1 L1282.6,1563 L1284.6,1563.3 L1286.7,1564 L1288.5,1565 L1290.1,1566.4 L1291.3,1568.1 L1291.5,1572.5 L1290.6,1573.8 L1289.4,1575.3 L1288.2,1576.8 L1286.8,1578.2 L1284.8,1578.9 L1282.8,1579.6 L1280.6,1579.9 L1278.2,1579.7 L1276.2,1578.7Z M1289.5,1600.1 L1288.1,1601.2 L1286.5,1601.8 L1284.9,1602 L1283.2,1601.3 L1281.9,1599.4 L1280.7,1597.4 L1279.9,1594.8 L1279.6,1592.1 L1280,1589.4 L1279.9,1586.8 L1280.4,1584.2 L1281,1581.7 L1289.6,1579.4 L1291.2,1581.2 L1291.5,1598.8Z M1049.3,1582.8 L1050.6,1582.3 L1052.1,1582.4 L1053.5,1582.6 L1054.6,1583.8 L1055.5,1585.1 L1056.1,1586.6 L1056.3,1588.1 L1056.4,1589.7 L1056.3,1591.2 L1056.1,1592.8 L1055.6,1594.4 L1054.6,1595.6 L1053.6,1596.7 L1050.3,1596.9 L1048.2,1596.1 L1047.2,1595.1 L1046.5,1584.8 L1048.2,1583.7Z M1063.3,1603.3 L1062.7,1601.4 L1062.7,1599.3 L1063.7,1597.6 L1065,1596 L1066.3,1595.1 L1076.2,1596.4 L1079.1,1605 L1078.1,1606.2 L1077.2,1607.7 L1065.9,1608.1 L1064.7,1606.6 L1063.7,1605.1Z M1086.9,1605.6 L1085.2,1606 L1083.6,1605.8 L1082.1,1605.8 L1080.5,1605.8 L1077.3,1596 L1085.5,1589.2 L1087.3,1590.3 L1088.5,1591.7 L1089.2,1593.4 L1090,1594.9 L1090.9,1596.4 L1091.2,1597.9Z M1087.6,1611.7 L1086.3,1608.9 L1092.5,1597.9 L1095.7,1596.8 L1099,1596.9 L1102.2,1596.8 L1103.4,1597 L1114.8,1609.3 L1113.5,1610.9 L1111.8,1612.9 L1110,1614.8 L1107.6,1616.2 L1105,1617.7 L1101.9,1619 L1098.4,1619.2 L1097.1,1618.7Z M1128.1,1598.4 L1126.5,1601.9 L1123.7,1603.4 L1121,1604.6 L1118.1,1605.3 L1115.2,1605.2 L1112.7,1605.4 L1101.5,1593.3 L1102.3,1591.6 L1103.6,1589.2 L1123.7,1585.9Z M1159.9,1604.3 L1160.5,1607.3 L1160.6,1609 L1156.8,1616.6 L1154,1618 L1138.8,1610.4 L1138.2,1607.3 L1139,1605 L1140.5,1603.1 L1142.7,1601.9 L1144.7,1600.8 L1146.5,1599.5Z M1190.9,1629.8 L1188.5,1633.3 L1185,1635.5 L1169.8,1637 L1158.1,1623.8 L1158.7,1620.2 L1159.4,1616.4 L1161.1,1613 L1162.7,1609.5 L1164.8,1606.1 L1168,1603.6 L1171.5,1601.2 L1175.6,1601.9 L1179.4,1603 L1182.9,1604.7 L1185.7,1607.4 L1187.7,1610.7 L1192,1618.2 L1192.5,1621.5 L1192.6,1625.9Z M1198,1620.3 L1195.7,1621 L1194.5,1620.5 L1188.6,1609.9 L1188.6,1606.1 L1189.3,1603.6 L1190,1601.1 L1191,1598.4 L1193,1596.9 L1195.1,1595.8 L1197.5,1596.4 L1206.9,1603.7 L1207.7,1610.3 L1206.6,1613.4 L1205.5,1615.7 L1203.6,1617 L1201.8,1618.3 L1200.1,1619.7Z M1219.8,1587.3 L1220.3,1588.4 L1220.4,1590.9 L1220.8,1593.2 L1220.2,1595.5 L1219.7,1597.9 L1218.5,1600 L1207.5,1602.8 L1200.2,1597 L1199,1595 L1198.5,1592.4 L1199.1,1589.9 L1200.2,1587.6 L1207.4,1583.5Z M1229.6,1584.4 L1241.9,1584.9 L1244.3,1587.2 L1245.5,1589.5 L1245.6,1592.1 L1245.6,1594.4 L1240,1603.1 L1229.6,1603.7 L1228.5,1602.9 L1226.3,1601.7 L1224.3,1600.1 L1222.4,1598.3 L1222.5,1589.6 L1223.2,1588.6 L1224.9,1586.6 L1227,1585.2Z M1246.4,1595.6 L1248.2,1595 L1250.1,1595.1 L1251.9,1595 L1256.2,1597.8 L1257.5,1599.8 L1252.5,1613.6 L1246.3,1613 L1241,1603.6Z M1267.4,1604.5 L1267.7,1606.6 L1267.9,1608.6 L1268.3,1610.9 L1267.6,1613 L1266.9,1615 L1257.7,1616.8 L1256.3,1616.2 L1254.8,1614.5 L1254,1612.7 L1258.9,1599.2 L1264.5,1599.2 L1265.6,1601 L1266.5,1602.8Z M1237.1,1621.6 L1235.8,1621.7 L1223.9,1613.9 L1224.1,1611 L1225.1,1609 L1226.3,1607.2 L1228.1,1605.9 L1229.1,1604.8 L1240,1604.2 L1245.3,1613.4Z M1217.8,1611.5 L1216.5,1612.2 L1215.3,1612.8 L1214,1613.2 L1212.7,1613.4 L1211.3,1613.5 L1209.9,1613 L1208,1603.8 L1217.6,1601.6 L1218.9,1603.8 L1219.6,1605.3 L1219.7,1607.1 L1219.4,1608.7 L1218.8,1610.3Z M1046.5,1599.3 L1047.9,1598.9 L1049.3,1598.2 L1050.9,1598.1 L1052.5,1598.2 L1054,1599 L1055.6,1599.6 L1056.9,1600.9 L1057.6,1602.7 L1058,1604.7 L1058.2,1606.6 L1057.6,1608.4 L1056.7,1610 L1056.1,1611.7 L1055.1,1613.1 L1053.7,1614.2 L1052.2,1615.2 L1050.5,1615.2 L1048.8,1614.8 L1047.4,1613.7Z M1272.3,1624.4 L1271.2,1619.9 L1271,1618.2 L1271.5,1615.9 L1272.7,1614.1 L1274.2,1612.5 L1276.2,1612.1 L1278,1611.7 L1279.8,1611.4 L1281.6,1612.1 L1283.3,1612.7 L1285,1613.6 L1286.8,1614.7 L1287.7,1616.8 L1288.3,1618.9 L1288.2,1621.2 L1287.8,1623.3 L1286.7,1625.1 L1285.6,1626.8 L1284.3,1628.1 L1283,1629.9 L1281.2,1630.9 L1279.2,1631.2 L1277.1,1631 L1275.4,1629.8 L1273.9,1628.2 L1272.8,1626.5Z M1064.3,1610.2 L1065.3,1609.2 L1078.4,1609.2 L1079.7,1610.9 L1080.5,1613 L1080.6,1615.2 L1080.7,1617.3 L1080.1,1619.2 L1079.1,1622.1 L1077.1,1624.7 L1065.7,1623.9 L1063.9,1622 L1062.8,1620.2 L1061.7,1618.3 L1061,1616 L1061.4,1613.7 L1062.3,1611.6Z M1085.7,1614.4 L1087.4,1613.6 L1097.2,1620.1 L1097.1,1623.1 L1096.7,1625.1 L1096.3,1627.1 L1091.2,1632.7 L1088.8,1632.9 L1086.9,1632.4 L1085.3,1631.1 L1084,1629.7 L1082.4,1628.6 L1081.3,1626.8 L1080.6,1624.8 L1080.1,1622.7 L1081.9,1617.5 L1084.2,1615.6Z M1108.9,1634.6 L1109,1637 L1108.4,1639.2 L1107.2,1640.9 L1106,1642.5 L1104.2,1642.8 L1102.7,1643.2 L1101.2,1643.2 L1099.7,1643.1 L1098,1642.9 L1096.4,1642 L1095.2,1640.4 L1094.2,1638.5 L1094,1636.1 L1094,1633.9 L1094.6,1631.8 L1095.3,1630 L1100.6,1624 L1103.4,1624.6 L1104.9,1625.4 L1105.9,1627.3 L1107.2,1629.2 L1107.7,1630.7 L1108.5,1632.5Z M1108.7,1618.7 L1109.5,1617.7 L1110.7,1616.5 L1112.2,1615.8 L1114.2,1615.2 L1116.2,1614.4 L1118.3,1614.2 L1120.5,1614.7 L1122.7,1615.3 L1124.4,1617.1 L1125.8,1619.1 L1126.2,1621.7 L1126.6,1624.1 L1126.4,1626.5 L1125.6,1628.7 L1124.5,1630.7 L1123.6,1632.9 L1122.1,1634.7 L1120.1,1636 L1117.8,1636.3 L1115.6,1636 L1113.5,1635.1 L1111.9,1633.5 L1110.2,1632.1 L1109.1,1630.2 L1108,1628.2 L1107.3,1625.9 L1106.9,1623.3 L1107.1,1620.7Z M1138.6,1636.1 L1135.8,1635.3 L1133.3,1633.8 L1132.2,1631 L1131.1,1628.6 L1130.7,1626 L1130.2,1623.5 L1130.4,1620.9 L1131.2,1618.3 L1132,1615.4 L1134.2,1613.6 L1136.6,1612 L1139.1,1611.8 L1153.9,1619.7 L1154.5,1621.5 L1154.6,1622.8 L1142.2,1636.2Z M1146.3,1643.4 L1145.2,1640.7 L1144.2,1637.6 L1144.3,1635.5 L1155.6,1623.3 L1168.9,1637.6 L1168,1640.4 L1167,1643.3 L1165.1,1645.6 L1163.7,1648.1 L1161.6,1650 L1159.3,1651.8 L1156.5,1653 L1153.6,1652.6 L1150.9,1651.5 L1148.7,1649.3 L1147.1,1646.4Z M1183.6,1636.9 L1184.1,1638.5 L1184.8,1640.6 L1184.9,1643 L1185.4,1645.4 L1185,1647.7 L1178.2,1654.4 L1175.7,1654.2 L1174.1,1653 L1172.2,1652.4 L1170.6,1651.1 L1169.3,1649.2 L1168.5,1646.9 L1168.2,1644.3 L1170,1638.1Z M1220.8,1639.2 L1219.9,1642 L1218,1644.2 L1198,1644.5 L1196.7,1641.8 L1195.6,1639.2 L1196.4,1636.4 L1196.7,1633.8 L1197.9,1631.5 L1199,1629.1 L1200.8,1627.2 L1202.7,1625.2 L1205.1,1623.4 L1208.1,1623.2 L1210.8,1624.2 L1213.4,1625.4 L1215.2,1627.4 L1216.9,1629.3 L1218.3,1631.4 L1219.9,1633.5 L1220.3,1636.3Z M1226.9,1634.4 L1224.7,1634.6 L1222.3,1634.6 L1217.5,1627.5 L1217.7,1625.1 L1217.8,1623.1 L1218.1,1621 L1219,1619 L1220.3,1617.2 L1222,1615.6 L1223.8,1615.2 L1236,1623.3 L1236,1628.8 L1229,1634Z M1256.2,1631.5 L1253.9,1632.7 L1251.5,1633.5 L1249.1,1634.3 L1246.5,1634.4 L1244.6,1634.5 L1237.1,1629 L1237.1,1623.2 L1245.6,1614.7 L1248.4,1615.1 L1251,1616 L1253.3,1617 L1255.2,1618.4 L1256.6,1619.6 L1257.3,1630.7Z M1271.7,1628.1 L1270,1629.8 L1268.2,1630.6 L1266.2,1630.7 L1264.4,1630.8 L1262.6,1630.7 L1260.8,1630.4 L1259.2,1629.7 L1257.7,1619.6 L1258.6,1618.7 L1260,1617.6 L1265.8,1616.3 L1267.5,1616.8 L1269.1,1617.9 L1269.9,1618.9Z M1228.4,1642.1 L1227.9,1640.4 L1227.6,1638.5 L1227.3,1636.6 L1234.1,1631.7 L1236,1631.5 L1238.1,1631.6 L1247.1,1637.6 L1246.5,1640.4 L1245.8,1642.1 L1244.8,1643.7 L1238,1648.3 L1236,1648.5 L1233.8,1647.7 L1231.8,1646.9 L1230.3,1645.4 L1229.3,1643.8Z M1256.5,1641.4 L1256.9,1640.1 L1258,1638.7 L1259.6,1637.9 L1261,1637.1 L1262.5,1636.8 L1264.1,1636.8 L1265.7,1636.6 L1267.2,1637.1 L1268.8,1637.6 L1270.2,1638.8 L1271.1,1640.3 L1271.5,1641.9 L1271.3,1643.7 L1270.9,1645.2 L1270.3,1646.7 L1269.3,1647.9 L1268.5,1649.3 L1267.5,1650.3 L1265.9,1650.8Z M1059.6,1639.4 L1058.6,1636.9 L1058.6,1634.2 L1058.4,1631.4 L1059.1,1628.7 L1061.1,1626.6 L1063,1624.7 L1077,1626.2 L1079.1,1628.2 L1080.4,1630.7 L1081,1633.6 L1080.6,1636.4 L1079.7,1639 L1078,1641.1 L1076.8,1643.2 L1075.4,1645.4 L1062.2,1644.4 L1060.6,1641.8Z M1054.9,1619.3 L1055.7,1620.7 L1056,1622.3 L1056.4,1623.7 L1056.6,1625.3 L1056.6,1626.9 L1056.1,1628.5 L1055.7,1630.2 L1054.4,1631.2 L1053.2,1631.9 L1051.7,1631.9 L1050.4,1631.8 L1049.1,1631.8 L1048,1631 L1046.8,1630.3 L1046.5,1620.4 L1047.4,1619.4 L1048.4,1618.4 L1049.7,1617.9 L1051,1617.5 L1052.4,1617.6 L1053.7,1618.3Z M1062.9,1659.7 L1062.6,1662.8 L1055.3,1672.9 L1053.9,1672.3 L1052.1,1671.5 L1050.6,1669.6 L1048.9,1668.3 L1047.8,1665.7 L1046.5,1663.6 L1046.5,1654.3 L1047.5,1650.2 L1049,1648.1 L1050.5,1646.2 L1052.1,1644.6 L1053.9,1644.1 L1055.3,1643.2 L1058,1644.9Z M1059.8,1647 L1061.5,1645.5 L1073.3,1646.8 L1075.8,1648.8 L1076.8,1650.8 L1076.4,1656.4 L1064.5,1661Z M1096,1660.6 L1095,1661.9 L1093.5,1663.7 L1091.4,1664.4 L1089.3,1664.8 L1077.5,1656.5 L1077.8,1654.2 L1078.6,1652.4 L1079.4,1650.5 L1080.9,1649 L1082.2,1647 L1084.2,1645.9 L1086.5,1645.6 L1088.8,1646.2 L1090.9,1647 L1092.7,1648.2 L1094,1649.9 L1094.9,1651.8 L1095.9,1653.6 L1096.5,1655.6Z M1097.7,1656.4 L1097.9,1653.6 L1098.8,1650.8 L1100.7,1648.7 L1103.1,1647.7 L1105.4,1646.8 L1107.8,1646.9 L1110.1,1646.3 L1112.6,1646.6 L1114.9,1647.7 L1116.7,1648.7 L1119.8,1654.7 L1119.6,1657 L1119.5,1659.7 L1118.6,1662.2 L1117.6,1664.6 L1105.2,1668.9 L1101.1,1665.8 L1099.9,1663.9 L1098.9,1661.6 L1098,1659.1Z M1118.9,1648 L1119.1,1646.3 L1119.7,1644.7 L1120.7,1643.3 L1122.3,1642.6 L1123.8,1642 L1125.4,1641.7 L1127,1642.1 L1128.6,1641.9 L1130.1,1642.6 L1131.5,1643.4 L1132.9,1651.2 L1132.2,1652.4 L1131.2,1653.6 L1130.2,1654.8 L1128.8,1655.7 L1127.2,1656.3 L1125.5,1656.7 L1123.8,1656.1 L1122.5,1654.9 L1121.4,1653.8 L1120.6,1652.5 L1119.6,1651.2 L1119.1,1649.7Z M1141.6,1652.9 L1140.3,1653.5 L1139,1653.6 L1137.7,1653.9 L1136.3,1653.6 L1134.9,1653.1 L1134.1,1652 L1133.1,1645.5 L1133.3,1644 L1133.8,1642.4 L1134.6,1641.1 L1135.5,1639.7 L1137,1639.3 L1138.4,1639 L1139.8,1639.3 L1141,1640.1 L1142.1,1641.1 L1143,1641.9 L1144.7,1645.1 L1145.1,1646.3 L1145,1648 L1144.5,1649.6 L1143.8,1651.1 L1142.6,1652Z M1142.5,1678.2 L1138.2,1678 L1135.5,1676.2 L1133.9,1674.1 L1132.9,1671.8 L1132.4,1669.5 L1132.4,1667.1 L1132.8,1664.8 L1132.9,1662.2 L1134.4,1660.2 L1135.9,1658.1 L1138.1,1656.7 L1140.7,1656.4 L1143.2,1656.2 L1145.5,1657.1 L1147.7,1658.1 L1149.4,1659.6 L1151.5,1660.7 L1152.1,1672.9 L1150.9,1674.2 L1149.3,1676 L1147.1,1677 L1144.9,1677.8Z M1152.5,1659.6 L1154.4,1658.3 L1156.9,1657.2 L1159.3,1656.3 L1161.8,1656 L1164.5,1655.6 L1167.2,1656.1 L1170,1656.9 L1172.4,1658.4 L1173.8,1660.7 L1174.5,1663.2 L1174.6,1665.7 L1173.9,1668.1 L1173.3,1670.3 L1165.1,1677.7 L1163.3,1678.2 L1160.5,1677.7 L1157.9,1676.6 L1155.7,1675.1 L1154.2,1673.1 L1153.2,1671.9Z M1191.5,1647.6 L1193,1648.7 L1194,1650.4 L1194.6,1652.2 L1195.2,1653.9 L1195.2,1655.7 L1195.4,1657.5 L1195.2,1659.5 L1194.5,1661.2 L1193.4,1662.7 L1192.1,1664 L1190.4,1664.6 L1188.7,1664.5 L1187.1,1664.3 L1185.7,1663.3 L1184.2,1662.7 L1182.9,1661.5 L1181.7,1660.2 L1181,1658.4 L1180.8,1656.4 L1180.9,1654.4 L1181.6,1652.9 L1187.4,1647.5 L1189.8,1647.2Z M1206.8,1664.2 L1204,1663.8 L1201.5,1662.6 L1199.4,1660.9 L1197.9,1658.8 L1196.6,1652 L1196.6,1649.4 L1197.7,1647.1 L1198.6,1645.6 L1217,1645.6 L1218.6,1646.9 L1219.8,1649.1 L1221,1651.2 L1219.6,1657.3 L1218.3,1658.6 L1216.5,1660.3 L1214.3,1661.7 L1212.1,1663.1 L1209.5,1663.6Z M1223.7,1663.3 L1222.5,1661.8 L1222.2,1660 L1221.3,1658.3 L1221.5,1656.4 L1221.8,1654.5 L1222.4,1652.5 L1224.3,1651.2 L1226.2,1650.1 L1228.5,1649.9 L1230.7,1650 L1232.7,1650.3 L1234.8,1650.5 L1236.6,1651.5 L1240.6,1659.8 L1239.7,1661.6 L1238.2,1663 L1236.7,1664.2 L1235.2,1665.5 L1233.3,1666.7 L1226.5,1666 L1224.8,1665.1Z M1245.8,1658.8 L1243.3,1658.7 L1241.6,1658.4 L1238.2,1651.5 L1238.6,1649.8 L1239.3,1648.8 L1246.3,1644.1 L1247.6,1644.7 L1249.1,1645.5 L1250.2,1646.7 L1251,1648 L1251.7,1649.4 L1252.7,1650.8Z M1246.7,1661.7 L1246.3,1659.9 L1253,1652.3 L1255,1652.3 L1256.8,1652.2 L1258.6,1652.8 L1260.4,1653.5 L1261.7,1654.5 L1262.7,1661.7 L1261.8,1663.9 L1260.8,1665.4 L1254.8,1669.1 L1252.4,1668.8 L1250.7,1667.7 L1249.3,1666.4 L1248,1665.1 L1247.4,1663.4Z M1272.6,1651.3 L1273.5,1652.6 L1274.1,1654.2 L1274.6,1655.6 L1274.8,1657.2 L1274.9,1658.7 L1274.9,1660.3 L1274.5,1661.9 L1273.9,1663.5 L1272.7,1664.6 L1271.4,1665.1 L1268.9,1665 L1267.5,1664.5 L1266.2,1664 L1265.2,1663.2 L1264,1662.2 L1263.1,1656.5 L1264,1654.4 L1264.9,1653.2 L1266.1,1652.4 L1270.2,1650.4Z M1255.8,1644.1 L1256.1,1642.6 L1264.9,1651.3 L1263.2,1652.1 L1261.7,1652.1 L1260.3,1651.8 L1259.1,1651.2 L1258.1,1650.1 L1257.3,1649.1 L1256.7,1648 L1256,1646.8 L1255.7,1645.5Z M1291.5,1681.1 L1289.8,1681.2 L1288.2,1680.9 L1286.7,1680.5 L1285.2,1679.4 L1283.8,1677.8 L1282.3,1675.7 L1281.7,1672.2 L1281.4,1668.5 L1281.5,1664.9 L1282.3,1661.7 L1282.8,1658.5 L1283.8,1655.9 L1284.9,1653.2 L1286.2,1651.2 L1287.8,1649.7 L1289.5,1649.8 L1291.2,1650.6Z M1061.6,1679 L1060.7,1675.5 L1060.5,1671.8 L1060.3,1668 L1064.5,1662.2 L1076.8,1657.4 L1088.9,1666.4 L1088.1,1677.3 L1086.4,1680.1 L1085,1683.3 L1083,1686.2 L1081.6,1687.5 L1068.7,1689 L1067.3,1688.1 L1065.2,1685.1 L1063.2,1682.2Z M1090.2,1666.9 L1092,1666.1 L1094,1665.5 L1096.1,1665.4 L1098.1,1665.7 L1104.5,1669.7 L1103.9,1679.6 L1102.2,1681.8 L1100.8,1683.7 L1098.7,1684.4 L1096.5,1685.1 L1094.2,1684.6 L1092.1,1683.7 L1090.5,1682.2 L1089.3,1680.5Z M1119.7,1683.8 L1114.9,1684.9 L1113.7,1684.7 L1111.3,1685 L1108.9,1684.4 L1106.4,1683.8 L1104.9,1682.3 L1105.6,1670.3 L1117.4,1666.4 L1118.9,1666.9 L1120.8,1668.2 L1122.2,1670 L1123.5,1671.8 L1124.4,1673.7 L1125.1,1675.9 L1124.9,1677.8Z M1130.1,1699.6 L1127.5,1699.3 L1125.5,1698.6 L1123.8,1698.1 L1120.6,1685.4 L1122.2,1682.9 L1123.5,1681.1 L1125.3,1679 L1127,1678 L1129.2,1677.8 L1131.6,1677.6 L1133.7,1678.6 L1135.3,1680.5 L1138,1695.1Z M1148.1,1684.2 L1148.8,1685.8 L1149,1687.7 L1149,1689.6 L1148.6,1691.6 L1145.3,1694.8 L1142.9,1695.1 L1141.3,1695.3 L1139.8,1694.8 L1136.9,1681.6 L1137.8,1680.3 L1139.1,1679.1 L1145.6,1679.4 L1146.6,1681 L1147.6,1682.4Z M1159.1,1683.5 L1160.4,1682.3 L1161.9,1681.8 L1163.4,1681.1 L1164.9,1681 L1171.8,1689.7 L1171.2,1691.3 L1170.6,1693 L1170.1,1694.9 L1161.5,1696.4 L1160.1,1695.2 L1159.1,1693.8 L1158.2,1692.3 L1157.3,1690.7 L1157,1688.7 L1156.9,1686.6 L1157.7,1684.8Z M1173.9,1671.7 L1176.4,1671 L1178.3,1671.5 L1180.3,1672.3 L1181.8,1673.9 L1182.7,1676 L1183.2,1678.2 L1183,1680.4 L1182.7,1682.4 L1182.4,1684.4 L1182,1686.6 L1180.6,1688.1 L1179.3,1689.8 L1177.4,1690.7 L1175.4,1691 L1174.1,1690.8 L1166,1680.7 L1165.9,1679.1Z M1195.7,1699.9 L1193.5,1700.1 L1191.2,1700.3 L1188.8,1700.3 L1186.5,1699.7 L1183.9,1699.2 L1182.3,1697.9 L1181.2,1696.3 L1180.4,1694.7 L1180.6,1693.1 L1181.6,1691.6 L1182.4,1690.1 L1183.4,1688.7 L1185.1,1687.5 L1186.9,1686.4 L1189.2,1685.5 L1191.9,1685.7 L1194.5,1685.8 L1196.7,1686.7 L1198.1,1687.5 L1201.4,1696.1Z M1215.3,1682.8 L1216.1,1684.7 L1216.4,1686.8 L1216.5,1689 L1216.4,1691.4 L1215.2,1693.2 L1213.8,1694.8 L1212.2,1696.1 L1210.2,1696.4 L1208.3,1696.5 L1206.5,1696.4 L1204.7,1695.8 L1202.9,1694.9 L1201.7,1694 L1199.4,1687.7 L1199.5,1685.1 L1200.6,1683.2 L1201.9,1681.7 L1202.8,1679.9 L1204.1,1678.3 L1205.9,1677.4 L1215,1682.3Z M1222.2,1679.3 L1218.2,1679.5 L1215.6,1679.6 L1213,1679.3 L1211.3,1678.9 L1203.9,1674.6 L1204,1672.1 L1204.8,1670.5 L1206.5,1669.2 L1207.8,1667.9 L1209.6,1666.7 L1211.8,1665.8 L1214.4,1665.1 L1217.2,1664.8 L1219.9,1665.4 L1222.5,1666.1 L1224.2,1667Z M1230.7,1681.4 L1228.8,1681.8 L1226.9,1681.7 L1225,1681.3 L1223.2,1680.6 L1225.2,1667.6 L1226.5,1667.1 L1231.8,1667.8 L1234.1,1669.1 L1235.2,1670.3 L1236.1,1671.7 L1237.2,1673.1Z M1233.4,1689.2 L1232,1687.9 L1231.2,1686.4 L1230.4,1685 L1236.5,1676 L1238.4,1675.6 L1240.5,1676.1 L1242.4,1676.7 L1244.4,1677.2 L1246.3,1678 L1243.9,1688.8 L1242.1,1690 L1240.4,1690.3 L1236.7,1690.3 L1235.4,1690.1Z M1259.5,1695.6 L1245.5,1692 L1244.5,1690.7 L1247.6,1680.1 L1250,1678.3Z M1251.7,1677.5 L1251.6,1676 L1252.9,1672.6 L1253.7,1670.9 L1263.2,1665.7 L1267.1,1666.4 L1270,1666.9 L1273.1,1667.6 L1276.2,1669 L1281.2,1676.5 L1281.6,1678.3 L1281.4,1682.1 L1279.6,1685.4 L1277.9,1688.3 L1275.9,1690.8 L1274.1,1693.6 L1271.3,1695.2 L1268.3,1696.9 L1264.9,1697.2 L1262.1,1697.3Z M1046.5,1680.2 L1047.7,1678.9 L1049,1678.3 L1050.2,1677.9 L1051.5,1677.7 L1053,1677.7 L1054.3,1678.5 L1055.5,1679.8 L1056.2,1681.9 L1056.5,1684.2 L1056.7,1686.3 L1056.3,1688.4 L1056.1,1690.4 L1055.6,1692.3 L1054.9,1694.3 L1054,1696 L1052.7,1697.1 L1051.2,1697.5 L1049.8,1697 L1048.5,1696.3 L1047.4,1694.9 L1046.6,1693.3Z M1089.9,1700 L1089.8,1696.7 L1090.4,1694.5 L1091.6,1692.6 L1093.4,1691.4 L1095.1,1690.4 L1097,1690.1 L1098.8,1690.6 L1100.5,1690.8 L1102.4,1691.1 L1104.1,1692.2 L1105.7,1693.6 L1106.6,1695.6 L1107,1697.9 L1107,1700.1 L1106.3,1702.1 L1105.6,1704.1 L1104.2,1705.6 L1101.7,1707.4Z M1122.7,1698.1 L1121.5,1698.8 L1119.6,1699.3 L1117.7,1699.5 L1115.8,1699.2 L1114,1698.9 L1112.4,1698.1 L1110.8,1697.2 L1109.2,1696.2 L1108.5,1694.5 L1107.9,1692.9 L1108,1691.2 L1109.1,1689.7 L1110.3,1688.4 L1111.6,1687.4 L1113,1686.4 L1119.4,1685.1Z M1157.1,1700.9 L1156.9,1702.9 L1156.3,1704.6 L1155.4,1705.8 L1154.5,1706.8 L1153.3,1707.3 L1149.7,1706.9 L1148.4,1705.4 L1147.6,1704 L1147.4,1702 L1147.3,1700 L1147.6,1698.2 L1147.8,1696.4 L1148.3,1694.7 L1149,1693.3 L1152.3,1690.5 L1154,1691.6 L1154.9,1692.7 L1155.5,1694.2 L1156.2,1695.6 L1156.8,1697.1 L1157,1699Z M1158.9,1705.1 L1160.2,1698.3 L1161.3,1697.7 L1167.1,1696.7 L1168.5,1697.1 L1170.3,1697.3 L1172.3,1697.7 L1173.7,1698.9 L1174.8,1700.4 L1175.2,1702.1 L1175.2,1703.7 L1174.8,1705.3 L1174.1,1706.8 L1168.7,1710.9 L1166.6,1711.3 L1164.6,1711.1 L1162.9,1710.2 L1161.5,1709.1 L1160.1,1708 L1159.2,1706.6Z M1073.5,1708.6 L1071.2,1707.7 L1069,1706.4 L1067.5,1704.6 L1067.3,1702.2 L1067.1,1700.1 L1067.6,1698.1 L1067.8,1696 L1068.6,1693.9 L1070,1692 L1072,1690.6 L1074.4,1689.8 L1076.8,1689.2 L1079.4,1690 L1081.7,1690.5 L1083.5,1692 L1085.5,1693.2 L1086.7,1695 L1088,1696.4 L1088,1699.6Z M1095.9,1729.7 L1093,1731.1 L1090,1732.3 L1086.8,1732.6 L1083.5,1732.8 L1080.3,1731.3 L1077.3,1729.3 L1075.5,1725.9 L1074,1722.4 L1074.2,1718.4 L1074.4,1714.8 L1075.2,1711.4 L1075.7,1708.5 L1088.6,1700.5 L1100.7,1708.1 L1099.4,1726.9Z M1116.6,1705.9 L1118.6,1708.3 L1119.9,1711.1 L1120.8,1713.8 L1121,1716.7 L1121.5,1719.5 L1121,1722.4 L1120.8,1725.7 L1118.9,1728.2 L1116.5,1729.9 L1114.1,1731.5 L1111.2,1731.4 L1108.5,1730.7 L1105.9,1730.4 L1103.5,1729.1 L1101.2,1727.6 L1102.2,1708.8 L1103.6,1707.6 L1104.7,1706.9 L1106.6,1705.7 L1108.3,1704.9 L1111.1,1704.1 L1114,1704.4Z M1139.5,1710 L1139.5,1712.6 L1139.1,1714.4 L1138,1716.4 L1136.6,1718.4 L1134.8,1719.5 L1132.8,1719.8 L1130.9,1719.3 L1129.1,1718.9 L1127.6,1717.6 L1125.8,1717 L1124.3,1715.5 L1123.1,1713.7 L1122.5,1711.5 L1122.4,1709.2 L1122.9,1706.9 L1124.3,1705.2 L1125.6,1703.7 L1126.8,1702.2 L1128.4,1701 L1130.1,1700.7Z M1131.2,1700.2 L1137.2,1696.8 L1139.5,1697 L1141.1,1697.4 L1142.6,1698 L1143.8,1699.2 L1144.7,1700.7 L1145.3,1702.3 L1144.8,1704 L1144.5,1705.5 L1143.6,1706.9 L1142.8,1708.1 L1141.8,1709.3Z M1147.3,1710.2 L1149.8,1709.4 L1152.6,1709.4 L1155.4,1709.7 L1157.8,1711.2 L1160.1,1712.7 L1161.3,1715.1 L1161.6,1717.6 L1161.6,1720 L1157,1729.2 L1155.3,1730.8 L1154.1,1731.1 L1138.3,1723.7 L1137,1720.5 L1141.1,1713.1 L1142.5,1712 L1145,1711.2Z M1162.3,1721.5 L1164,1720.8 L1171.9,1731.8 L1171.4,1733.6 L1170.5,1735.2 L1169.6,1736.2 L1158.1,1729.3Z M1188.6,1710.6 L1189.8,1713.4 L1191.3,1726.8 L1189.3,1730.3 L1186.8,1732.3 L1183.8,1733.4 L1180.6,1733.1 L1177.7,1733.2 L1175,1732 L1172.9,1731.3 L1165.1,1718.7 L1166.7,1716 L1168.1,1713.4 L1169.4,1711.6 L1170.9,1710.5 L1172.4,1709.7 L1174.7,1708 L1177.4,1706.2 L1180.6,1706.1 L1183.7,1706.8 L1186.6,1708.1Z M1190.8,1711.9 L1192.2,1710.2 L1204.3,1712.2 L1201.5,1724.7 L1193.5,1727 L1192.3,1725.3Z M1193.5,1709.3 L1193.1,1706.8 L1193.1,1705.3 L1193.2,1703.8 L1199.9,1698.4 L1201.7,1699.1 L1203.3,1699.6 L1204.4,1700.7 L1205.8,1701.5 L1206.9,1702.8 L1207.5,1704.5 L1207.4,1706.2 L1206.9,1707.8 L1206.2,1709.3 L1205,1710.4Z M1214.1,1706.7 L1216.3,1706.6 L1225.2,1710.5 L1229.2,1715.7 L1230.2,1719.9 L1230.1,1723.3 L1229.8,1726.7 L1228.8,1729.9 L1227.8,1733.6 L1225.2,1736.1 L1222.1,1737.8 L1218.8,1738.8 L1215.4,1737.6 L1212.2,1737.3 L1210.6,1736.3 L1202.5,1725 L1205.4,1712.3 L1208.3,1709.7 L1211.1,1708.1Z M1232.4,1698.9 L1225.3,1709.4 L1217.8,1706 L1216.7,1703.8 L1216.7,1701.8 L1217.5,1699.9 L1218.2,1698.2 L1219.2,1696.6 L1220.4,1695.2 L1222,1694.3 L1223.6,1693.2 L1225.5,1692.5 L1227.5,1692.8 L1229.5,1693.3 L1230.9,1694.8Z M1244.6,1712.2 L1243.3,1714.1 L1241.5,1715.6 L1239.2,1716.1 L1237.3,1716.9 L1235.2,1717.3 L1233.1,1716.8 L1231.3,1716.6 L1226.2,1710.1 L1233.2,1699.6 L1240.8,1702.7 L1244.7,1711.8Z M1254.9,1709.4 L1252.8,1709.9 L1251,1710.9 L1248.9,1711.2 L1246.6,1711.2 L1241.8,1702.2 L1245.4,1693.2 L1257.2,1696.5 L1258.5,1698 L1259.4,1700 L1259.8,1702.3 L1259.2,1704.5 L1258.1,1706.5 L1256.6,1708.1Z M1269.8,1701.4 L1271.4,1702 L1272.9,1702.7 L1273.9,1703.9 L1274.6,1705.1 L1274.8,1706.5 L1275,1707.7 L1275.2,1709.1 L1274.9,1710.4 L1274,1711.6 L1272.9,1712.7 L1271.7,1713.7 L1269.9,1713.9 L1268.2,1713.9 L1266.7,1713.5 L1265.2,1713 L1263.8,1712.5 L1262.7,1711.5 L1261.3,1710.6 L1260.7,1709.3 L1260.6,1707.9 L1260.8,1706.5 L1261.5,1705.2 L1262.5,1704.1 L1263.8,1703.3 L1265,1702.5 L1266.5,1702.1 L1268.1,1701.7Z M1232.2,1694 L1233.2,1692.6 L1234.7,1691.7 L1243.5,1691.4 L1244.5,1692.6 L1240.9,1701.5 L1233.4,1698.5 L1232.1,1694.2Z M1046.5,1708.1 L1047.8,1707.5 L1049.1,1706.5 L1050.5,1706.7 L1051.8,1707 L1053,1707.5 L1054.3,1708.3 L1055.6,1709.3 L1056.6,1711.1 L1057.1,1713.3 L1056.9,1715.7 L1056.7,1717.8 L1056.2,1719.8 L1055.3,1721.4 L1054.6,1723.2 L1053.6,1724.6 L1052.3,1725.4 L1051,1726.2 L1049.5,1726.4 L1048.1,1725.7 L1047,1724.3 L1046.5,1722.9Z M1128.5,1732.1 L1131.1,1747.1 L1128.8,1749.4 L1126.7,1750.2 L1124.5,1750.4 L1122.3,1750.5 L1120.4,1749.6 L1118.4,1749 L1116.5,1747.9 L1114.6,1746.6 L1113.4,1744.6 L1112.7,1742.4 L1112.8,1740 L1113.7,1737.8 L1114.9,1736 L1116.6,1734.6 L1118.1,1733.2 L1119.9,1732.1 L1121.8,1730.9 L1124.1,1730.9 L1126.5,1730.8Z M1143.1,1748.4 L1139.6,1749.1 L1135.9,1748.7 L1132.6,1747.4 L1129.5,1730.8 L1130.7,1729.7 L1133,1727.5 L1136.7,1726.7 L1140.4,1726.5 L1142.8,1727 L1154.3,1732.4 L1156.4,1742.9 L1155.3,1744 L1152.4,1745.5 L1149.7,1747 L1146.4,1747.6Z M1168.1,1736.6 L1167.2,1738.1 L1166.1,1739.1 L1164.7,1739.5 L1163.3,1739.7 L1162,1739.5 L1160.8,1739.1 L1159.5,1738.7 L1158.4,1738 L1157.1,1737.2 L1156.6,1735.9 L1156,1734.5 L1156.3,1733.1 L1156.9,1731.8 L1157.4,1730.6Z M1209.1,1736.1 L1208.8,1737.7 L1207.6,1739.3 L1206,1740.5 L1204.2,1741.3 L1202.2,1741.6 L1200.3,1741.1 L1198.6,1740.1 L1197.2,1739 L1195.7,1738 L1194.4,1736.6 L1193.5,1734.9 L1192.7,1733 L1193,1731 L1193.7,1729.1 L1195.1,1727.7 L1201.7,1725.8Z M1255.1,1740 L1252.9,1740.6 L1250.5,1740.9 L1247.9,1741.2 L1245.5,1740.4 L1243.5,1739.1 L1242,1737.4 L1241.5,1735.5 L1240.9,1733.7 L1241.1,1731.8 L1241.7,1730.1 L1242.6,1728.4 L1243.7,1726.7 L1245.4,1725.3 L1247.5,1724 L1250.2,1724.1 L1252.7,1724.1 L1254.9,1724.8 L1256.9,1725.8 L1258.7,1726.9 L1260.8,1728 L1262.3,1729.6 L1263.1,1731.5 L1263.2,1733.5 L1262.8,1735.6 L1261.2,1737.2 L1259.2,1738.4 L1257.1,1739.3Z M1282,1737.9 L1280.9,1738.9 L1279.7,1739.6 L1278.4,1739.8 L1277.1,1739.9 L1275.7,1739.6 L1274.4,1738.5 L1273.3,1737 L1272.7,1734.8 L1272.5,1732.6 L1272.8,1730.4 L1272.8,1728.3 L1273.4,1726.4 L1273.8,1724.4 L1274.7,1722.6 L1275.8,1721.3 L1277.2,1720.4 L1278.5,1720.6 L1280.9,1722.1 L1282.2,1723.4 L1283,1725 L1283.8,1726.7 L1284.6,1728.5 L1285,1730.8 L1284.8,1733.1 L1284.1,1735.1 L1283.3,1736.9Z M1284.4,1723.1 L1284,1721.5 L1283.4,1719.7 L1283.4,1717.5 L1283.3,1715.5 L1283.2,1713.4 L1283.5,1711.2 L1284,1709.2 L1284.8,1707.6 L1285.9,1706.9 L1287,1706.2 L1289.1,1707.4 L1290.9,1709.2 L1291.5,1721.8 L1290.4,1723.4 L1289.6,1724.6 L1288.7,1725.8Z M1139.7,1754 L1141.9,1753.6 L1144.4,1753.5 L1147,1753.8 L1149.3,1754.5 L1151,1755.6 L1151.7,1757 L1151.8,1758.4 L1130.4,1758.5 L1131.5,1756.7 L1133.4,1755.7 L1135.4,1755 L1137.3,1754.2Z M1162.1,1758.5 L1163.8,1756.9 L1164.8,1755.7 L1166.5,1754.8 L1168.4,1753.9 L1170.7,1753.4 L1173.3,1753.2 L1175.8,1753.4 L1178,1754.1 L1179.8,1755.1 L1181.1,1756.1 L1181.4,1758.5Z M1193.3,1754.9 L1195,1755.5 L1196.3,1756.4 L1196.8,1757.5 L1182.5,1758.5 L1182.5,1757 L1184.5,1756.1 L1185.8,1755.3 L1187.5,1755 L1189.4,1754.5 L1191.3,1754.6Z M1218.6,1758.5 L1219.1,1756.5 L1220.4,1755.6 L1221.6,1754.8 L1223.3,1754.4 L1224.9,1754.4 L1226.5,1754.7 L1227.9,1754.9 L1229.5,1755.1 L1231.1,1755.7 L1232.3,1756.6 L1233.2,1757.6Z M1249,1744.4 L1250.8,1743.8 L1252.7,1743.5 L1254.5,1744 L1254.5,1758.5 L1244.9,1758.5 L1243.2,1756.5 L1242.5,1754.4 L1242.7,1752 L1243.1,1749.8 L1244.5,1748.1 L1245.6,1746.4 L1247.4,1745.5Z M1255.6,1743.7 L1258.5,1742.3 L1262,1741.8 L1265.5,1741.6 L1268.8,1742.4 L1272.2,1742.5 L1275.8,1743.2 L1278.3,1745.3 L1280.2,1746.7 L1279.1,1758.5 L1255.6,1758.5Z M1280.9,1750.8 L1283.2,1750.4 L1285,1749.7 L1287.1,1749.6 L1289.3,1749.4 L1291.4,1749.7 L1291.5,1758.5 L1280.2,1758.5Z" fill="none" stroke="#e3262b" stroke-width="0.9" stroke-linejoin="round"/>
<rect x="1056.9" y="1756.5" width="11.8" height="2.6" fill="#fff"/>
<text x="1103.8" y="1797.9" font-size="22.5" textLength="129.9" lengthAdjust="spacingAndGlyphs">124 colonies</text>
<text x="1079.6" y="1504.8" font-size="22.5" textLength="176.9" lengthAdjust="spacingAndGlyphs">ITGA3-High cells</text>
</g>
</svg></body></html>
